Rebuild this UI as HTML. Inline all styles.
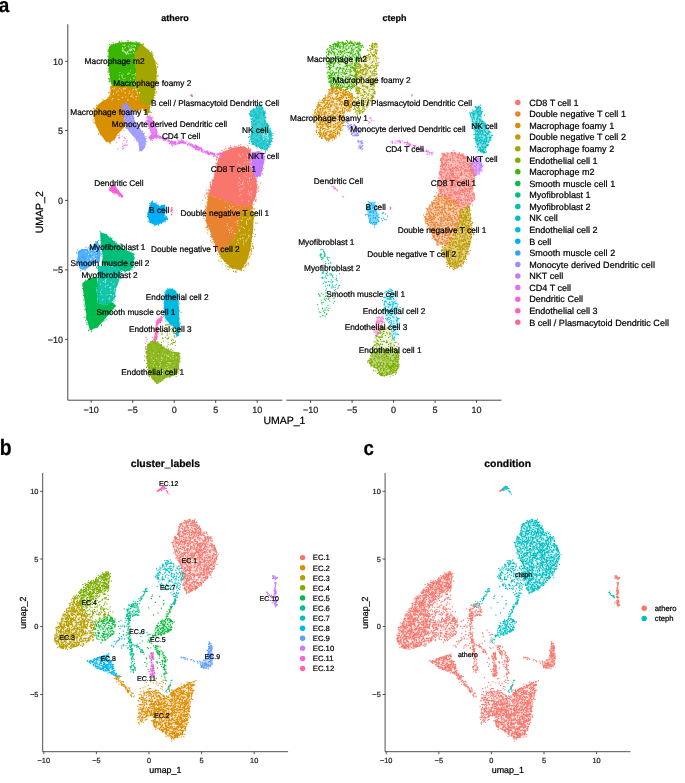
<!DOCTYPE html>
<html><head><meta charset="utf-8"><style>
html,body{margin:0;padding:0;background:#fff;width:685px;height:783px;overflow:hidden}
svg{display:block;font-family:"Liberation Sans",sans-serif;font-variant-ligatures:none}
text{font-variant-ligatures:none}
</style></head><body>
<svg width="685" height="783" viewBox="0 0 685 783">
<defs><path id="p0" d="M197.3 544h0M215.3 548.4h0M191.1 591.2h0M207.8 558.2h0M208.8 540h0M200.6 563.7h0M195.3 530.6h0M211 549.4h0M188.3 548.9h0M206.6 551.8h0M191 529.8h0M186.2 533.2h0M181 528.2h0M190 591.8h0M184.5 587.6h0M193.4 532.3h0M208.3 560.9h0M198.7 583.2h0M201.2 558.4h0M189.4 573.4h0M190.6 561.3h0M195.9 539.1h0M190.6 542h0M205.3 558.2h0M198.5 527.3h0M211.8 564h0M197.4 563h0M207.9 566.8h0M201.4 574.6h0M184.6 568.4h0M194.6 521.3h0M196.7 569.8h0M194.8 525.4h0M198.4 535.6h0M183.8 552.3h0M199.3 559.6h0M215.4 563.1h0M194.7 583h0M204.8 539.5h0M183.7 556.8h0M174.2 539.1h0M186 578.9h0M201.8 580.1h0M187.2 552.2h0M196.9 587.7h0M188.2 539.1h0M196.7 568.2h0M202 558.6h0M191.8 585.6h0M213.5 564h0M213 545.3h0M186.9 525.5h0M216.1 551h0M189.4 582.5h0M199.6 561.6h0M189.9 519.8h0M191.6 574.4h0M190.7 523.8h0M189 575.2h0M198.1 549.6h0M181.9 535.8h0M200.6 575h0M182.7 529.6h0M188.5 524h0M184.1 527.1h0M213.1 563.7h0M189.3 573h0M204 544.1h0M200.6 564.2h0M185.5 564.1h0M210.6 557.5h0M198.8 543.8h0M214.2 549.7h0M182.3 528.5h0M185.3 558.3h0M186.7 549.6h0M191.5 546.6h0M199.1 539.4h0M183 568.6h0M184.7 544.1h0M181 563.6h0M197 570.7h0M193.9 534h0M192.2 531.2h0M183.5 558.4h0M192.8 575.3h0M179.4 543.3h0M203.6 541.2h0M189.3 587.3h0M193.2 520.6h0M191.7 523.6h0M208.1 564.5h0M202.2 555.1h0M200.1 565.7h0M206.4 542.5h0M186.2 575.4h0M200.4 576.8h0M190.7 567.6h0M190.5 572.6h0M197.9 552.5h0M196.5 535h0M189.6 569.3h0M191.5 527.4h0M214.1 546.5h0M198.8 575.9h0M184.6 589h0M190.7 543h0M194.9 586.3h0M213.1 548.8h0M192.5 537.9h0M204.3 542h0M193 545.5h0M179.8 562.4h0M191.2 565.2h0M187.7 574.6h0M190.2 563.3h0M189.3 534.4h0M181.2 527.9h0M189.8 521.4h0M197.1 526.6h0M197.1 524.8h0M201.9 535.6h0M199 552.4h0M211 561h0M183.4 553.4h0M197.6 587.8h0M190.8 554h0M204.3 567.9h0M197.5 545.4h0M202 554.6h0M194.9 548.2h0M209.3 558.8h0M185.3 534.1h0M189.3 578.3h0M185.5 550.5h0M183.7 537.5h0M195.1 557.9h0M208.5 572.6h0M198.5 530.9h0M189 521.6h0M206.5 557.4h0M191.3 566.8h0M197.9 566.7h0M192.6 583.2h0M190.7 564.1h0M194.1 534.3h0M173.4 546.4h0M190 555.5h0M185.5 583.3h0M204.4 537.8h0M205.8 543.7h0M179.6 544.3h0M180 548.6h0M209.4 537.3h0M179.2 557.6h0M189.1 542.9h0M193.8 554.7h0M194.1 581.5h0M187.6 562.5h0M208.7 568.9h0M185.5 567.7h0M195.9 587.6h0M187 581h0M195.9 550.2h0M190.9 577h0M215.7 560.9h0M192.4 575.4h0M182.7 553.4h0M182.3 542.1h0M185.3 574.6h0M186 581h0M199.9 560.8h0M201.1 572.3h0M197.7 557.3h0M187.5 551.5h0M205.2 540.6h0M200.8 551.1h0M196.9 582.4h0M195.7 581.9h0M180.8 531.5h0M194.4 525.4h0M187.7 548.5h0M200.9 547.4h0M200 576.9h0M192.2 588h0M194.3 561.1h0M196.9 551.8h0M191.8 554.8h0M195.1 532.5h0M208.9 547.5h0M178.2 550.1h0M206.2 560.2h0M178.3 558.1h0M182.6 561h0M196.8 559.6h0M209.8 551.9h0M215.3 547.9h0M196.3 551.5h0M207.7 566.3h0M195.2 540.1h0M193.6 577.4h0M197 573.7h0M188.6 566.5h0M192.6 542.3h0M200.8 531h0M201 539.8h0M192.1 590.5h0M180.3 523.9h0M191.6 582.6h0M190.1 557.3h0M189.3 566.1h0M194.6 555.6h0M177.7 539.7h0M203.1 553.9h0M192.4 553.7h0M180.2 541.2h0M204 570h0M185.1 555h0M212.4 555.8h0M200 582.3h0M200 572.1h0M194.5 535.5h0M195.9 533h0M186.8 564.9h0M195.6 526.3h0M184.4 529.5h0M199.7 569.9h0M204.7 548.4h0M208 571.4h0M214.1 550.7h0M184.7 562h0M190 521.4h0M184 541.3h0M201.2 556.9h0M185.5 521.2h0M192 551.1h0M204.1 578.6h0M178.8 559.8h0M200.4 547.8h0M176.9 555.7h0M204.9 546.4h0M210.2 552.2h0M191.6 555.6h0M181.7 555.6h0M189.7 535.3h0M203.2 571.9h0M190.6 589.4h0M182.8 525.7h0M216.7 552.5h0M212.6 569.6h0M185.3 582.6h0M208.6 556.6h0M179.6 536.6h0M209.5 563.1h0M177.8 547.2h0M211.5 569.3h0M203.3 574.2h0M177.7 552.1h0M194.1 524.9h0M179.8 559.9h0M179.6 537.3h0M190.3 571.1h0M195.4 587h0M195.2 553.1h0M180.8 565.7h0M197.7 558.8h0M216.4 556.9h0M202 534.7h0M181 564.5h0M185.6 587.8h0M180.5 525h0M186.8 557.5h0M211 550.7h0M205.1 552.7h0M194.7 567.2h0M175 550.2h0M184 542.8h0M205.5 563.8h0M179.4 529.8h0M182.1 546.9h0M204.2 572.5h0M210.7 555.1h0M205.7 555.6h0M197.8 574.2h0M182.5 536.5h0M204.9 564.6h0M198.9 562.2h0M193.4 526.2h0M209 554.6h0M185.1 534h0M211.7 568.3h0M175.1 536.8h0M207.7 552.7h0M207.8 538.7h0M193.3 582h0M182.8 532.9h0M197.1 579.7h0M204.2 543.4h0M183.2 523h0M204 568.8h0M200.4 528.7h0M194.2 589.7h0M201.5 573.5h0M184.7 523.3h0M189.4 555.8h0M201.5 546.1h0M186.5 564.4h0M195.3 531.5h0M210.1 538h0M207.2 576.6h0M205.4 569.6h0M203.8 575.4h0M202.3 533.8h0M206.4 578.3h0M210.5 538.2h0M208.3 562.8h0M186.8 578.6h0M204.4 559.8h0M188.3 552.4h0M214.6 565.1h0M206.2 573.9h0M209.9 574.7h0M189.3 530.9h0M204.3 557.2h0M200.1 563h0M215.1 561.4h0M213.9 555.9h0M189.9 567h0M178.7 544.4h0M175.6 554.4h0M216.6 559.1h0M194.8 552.5h0M190.5 567.7h0M188.3 552.8h0M186.3 525.5h0M196.1 575.2h0M193.7 547.8h0M209.1 538.1h0M207.3 546.8h0M196 533.9h0M189.1 537h0M184.9 581.9h0M187.2 543.9h0M187.8 532.4h0M186.7 523.1h0M204.1 575.4h0M214.2 554h0M200 549h0M194.4 535.7h0M188.6 576h0M177 556.6h0M195.5 563.4h0M185.8 573.3h0M192.6 582.5h0M197.7 541.5h0M197.9 574.3h0M204.4 573.7h0M187.6 550.7h0M200.5 570h0M188.4 522.6h0M205.5 544.3h0M176.7 537.7h0M199.6 540.3h0M195.9 532.7h0M189 579.6h0M180.3 542h0M212.5 558.4h0M184.8 578.4h0M217 556.4h0M192.2 521.9h0M185.1 585.1h0M208.2 536.5h0M206.9 562.4h0M197.4 564.8h0M186.1 574.5h0M199.8 555.4h0M185.7 556.2h0M207.2 537.5h0M185.9 582.9h0M184 544.5h0M179.2 561.2h0M188 587.2h0M182.7 564.8h0M190.6 567.3h0M191.8 567.8h0M199.5 532.4h0M193.7 555.7h0M208.5 556.8h0M190.9 539h0M188.3 530.1h0M206 544.9h0M197.5 547.5h0M183.7 546.8h0M195.3 553.7h0M185.1 571.7h0M195.2 582h0M198.1 546h0M173.3 545.5h0M187.9 557.3h0M207.8 544.5h0M188.3 546.4h0M187.4 532.3h0M200.2 567h0M196.3 543.6h0M184.4 542.5h0M202.8 562.3h0M200.8 582.3h0M185.7 590.2h0M210.5 539.8h0M176.7 546h0M210.5 552.1h0M177.9 560.1h0M179.9 532h0M193.9 543.8h0M189.5 575.8h0M208.8 567.7h0M184.8 540.7h0M206 553.9h0M195.2 536.9h0M200.9 529.6h0M187.6 565.9h0M197.1 580.8h0M187.1 529.6h0M202.1 559.9h0M197.5 583.4h0M182.6 526.5h0M199.5 546.1h0M185.3 541h0M190.5 569.7h0M199.4 564.5h0M203 581.7h0M185.4 550.1h0M187 560.5h0M192.3 541.6h0M174.5 541.2h0M199.7 571.8h0M178.7 550.1h0M189.8 558.4h0M192.8 524.1h0M212.3 569.7h0M191.2 532.3h0M181.3 541.3h0M203.2 575.1h0M195.3 570.6h0M191.1 577.3h0M193.8 542.8h0M214.1 547.2h0M187.8 540.7h0M205.9 555.5h0M185.3 541.2h0M193.7 556.5h0M192.6 582.1h0M181.6 553.4h0M196.3 529.1h0M184.1 580.1h0M191.3 589.1h0M199.7 555.3h0M194.5 545.7h0M186.5 584h0M213 566.4h0M196.8 575.6h0M200.5 551.1h0M188.1 525.8h0M191.1 579.5h0M188.9 549.4h0M192.1 590.7h0M201.4 543h0M193.4 556h0M178.7 528.2h0M209.1 547.2h0M201.7 546.5h0M193.7 556.1h0M197.2 566.8h0M173.5 547.6h0M204.3 549.2h0M215 552.1h0M181.8 568.3h0M210.8 540.2h0M185.1 590h0M185.7 534.4h0M196.6 547.7h0M191.9 553.4h0M205.6 577.3h0M189.2 521.1h0M200.2 574.4h0M185.1 570.5h0M192.5 530.2h0M191 537.1h0M179.5 536h0M190.2 544.2h0M187.5 567.2h0M190.2 570.1h0M204.2 565.3h0M203.5 549.9h0M198.8 563.5h0M212 559.8h0M198 551.1h0M213.6 554.5h0M200.2 531.8h0M188.5 573.4h0M180 561.3h0M208.1 536.7h0M191 535.2h0M194.6 534h0M184.6 534.8h0M194.1 568h0M203.9 533.7h0M205.2 577.5h0M187 527.9h0M201.7 578.1h0M199.3 534.2h0M198.8 533.6h0M183.6 522.3h0M217.1 555.3h0M186.6 580.4h0M208 560.5h0M199.5 529.5h0M181.3 523.5h0M190 558.5h0M194.2 584.5h0M174.8 543.8h0M179 549.8h0M176.5 542.3h0M188.6 580.4h0M179.7 548.4h0M193.9 558.6h0M183.3 535.8h0M205.5 557.8h0M186.9 530.5h0M179 533.3h0M204.1 577.8h0M189.9 525.5h0M194.7 548.4h0M193.4 537.3h0M177.2 556.4h0M201.9 554.4h0M197.9 566.9h0M189.5 519.3h0M203.6 572.3h0M180.7 562.5h0M177 541.3h0M184.1 577h0M185.8 550.5h0M210.8 559h0M203.2 570.8h0M204.3 551.6h0M199.5 558.8h0M180.9 536.5h0M196.8 579.8h0M184.8 576.3h0M204.2 563.2h0M194.8 526.3h0M187.2 567.2h0M176.8 551.3h0M187.8 537.8h0M199.5 538.1h0M196.7 583.7h0M188 566.1h0M198.5 562.6h0M185.6 539.8h0M196.9 586.3h0M214.7 547.8h0M184.6 588.5h0M195.3 529.2h0M191 557.4h0M203.2 577.4h0M203.4 541.2h0M201.6 572.7h0M212.2 540.5h0M201.7 570h0M182.1 556.4h0M180.5 546.7h0M187.2 576.1h0M206.7 565.4h0M185.3 527h0M195.7 541.7h0M190.5 546.9h0M184.3 537.6h0M186.4 537.6h0M198.7 553.1h0M196.3 569h0M191.5 522h0M187.2 559h0M176 539.6h0M187.7 553.5h0M212.2 567.8h0M181.7 566.2h0M199.7 543.2h0M182.5 572.1h0M194.5 574.1h0M214 560.4h0M189 519.4h0M204.4 547.4h0M194.6 563.6h0M181.4 565.1h0M198.5 537.3h0M183.1 578.2h0M183.2 535.1h0M194.2 540h0M189.4 521.5h0M184.4 553.7h0M187.7 584.5h0M194.2 579h0M199 564.6h0M209.1 573.6h0M214.5 546.9h0M187 580.8h0M176 537.9h0M187.3 576.6h0M177.6 552h0M176.7 549.7h0M208 549.3h0M178 560.4h0M213.6 562.3h0M202.9 545.4h0M196.4 527.4h0M179.5 551.7h0M212.3 555.1h0M185.6 541.4h0M184 585.2h0M196 564h0M192 586.6h0M188.6 552.7h0M186.9 592.5h0M199 539.4h0M215.1 549h0M198.3 528.4h0M210.3 565.5h0M201.1 567.5h0M184.1 538.8h0M189.5 585h0M176.9 537.8h0M186.6 579.3h0M186.2 579.1h0M180.3 542.9h0M203.7 541.3h0M209.2 565.7h0M194.8 559.2h0M176.9 557.6h0M192.2 557.1h0M192 534.4h0M212.4 557.2h0M191.4 585.2h0M187 528h0M206.8 568.8h0M203.4 569.8h0M180.6 524.5h0M209.8 573.4h0M189.4 590h0M215 551.1h0M206.1 568.9h0M204.2 533.6h0M201.4 562.3h0M189 563.2h0M191 579.3h0M184.1 577.2h0M207.1 558.8h0M198.3 544.6h0M177.9 539.4h0M192.6 556.9h0M188.4 592h0M175.7 543.1h0M199.5 538.2h0M190.5 548.2h0M205.6 552h0M216.4 559.6h0M181.8 567.4h0M195.8 528.7h0M205.4 551.4h0M205.8 541h0M205.1 561.4h0M175.5 541.6h0M197.7 582.4h0M199.5 547.7h0M204.8 565.7h0M198.1 532.3h0M190 584.1h0M180 538.7h0M184.2 545.8h0M201.5 573h0M201.1 538.4h0M199.9 552.1h0M181.6 552.9h0M209.5 566.3h0M181 557.6h0M214 556.6h0M194.8 562.3h0M209.8 574.9h0M199 558.9h0M214.9 558.1h0M202 556.8h0M192.9 573.6h0M202.5 575h0M204.3 571.6h0M189.2 550h0M181.7 560.2h0M212.1 565h0M181.8 536.9h0M186.2 570.9h0M202.9 564.7h0M200.5 533.4h0M191.3 523.5h0M186.5 579.6h0M180.7 534.2h0M193.2 531.5h0M189.1 530.7h0M182.2 573.5h0M189.7 531.8h0M187.3 566.3h0M184.2 548.6h0M184.3 522.5h0M182.8 526.6h0M184.2 529.1h0M199.3 527.4h0M204.5 544.5h0M185.3 534.8h0M178.4 530.5h0M183.4 547.1h0M187.5 521.5h0M196.1 587.4h0M188.7 544.5h0M180.9 543.9h0M182.7 566.3h0M201.8 550h0M185.3 559.1h0M195.1 524.2h0M197.2 530.3h0M189.2 533.5h0M204.3 562.5h0M191.3 535.3h0M208 541.8h0M204.3 574.5h0M181.1 553.6h0M205.7 579h0M178.1 548.5h0M194.2 584.6h0M197.4 537.6h0M207 568.1h0M210.9 543.6h0M182 544.6h0M180.8 564h0M182.2 549.5h0M194.2 576.4h0M197.6 525.1h0M189.7 585.3h0M179.1 555.5h0M198.6 564h0M203.1 543h0M210.2 561.2h0M181.1 561.4h0M196.1 525h0M201 561.7h0M197.2 570.2h0M212.3 550h0M191.1 525.7h0M183.7 573h0M198.4 573.9h0M188.7 588.1h0M196.6 586.3h0M205.4 537h0M207.6 541.9h0M200 551.2h0M203.3 548.7h0M185.8 542.7h0M198.1 550.1h0M195 529.7h0M189.9 560.5h0M192 552.1h0M203.7 543.4h0M188.4 560.2h0M184.6 553.9h0M196.4 531.7h0M211.9 545.1h0M192.6 520.5h0M187.1 570.1h0M212.1 571.7h0M197.9 535.6h0M189 543.8h0M192.4 590.5h0M183.8 533.3h0M206.8 578.8h0M188.2 588.6h0M195.3 582.1h0M193 558.2h0M197.5 525.5h0M177 547.7h0M185.1 584.2h0M212.7 561.8h0M191.8 532.2h0M208.2 540.7h0M203.3 568.6h0M213.3 561.6h0M214.6 549.9h0M214.8 562.8h0M198.1 585.6h0M189.6 566.4h0M199.9 544.5h0M190.8 553.1h0M194.6 546.6h0M204.4 561.6h0M200.3 528.6h0M197.9 555.8h0M196.3 543.7h0M189.4 569.7h0M194.6 543.8h0M195.1 548.3h0M191.7 558.1h0M202.2 550.5h0M205.1 548.7h0M178.6 532.2h0M197.3 545.3h0M185 567.6h0M183.2 555.5h0M191.5 535.1h0M183.5 539.4h0M182.6 531.6h0M182.9 535.7h0M186 530.6h0M194.9 572.1h0M196.5 552.1h0M194.3 554h0M214.3 566.5h0M211.5 565.4h0M201.3 567.9h0M205 564.7h0M201.6 559.6h0M212.7 544.6h0M203.1 575.1h0M210.2 545.1h0M191.5 557.1h0M200.3 583.8h0M190.3 529.2h0M191.1 570.7h0M186.5 590.5h0M188.2 555h0M185.4 553.3h0M194.8 539.5h0M198.3 537.8h0M207.9 569.9h0M199.3 555.8h0M216.7 558.1h0M186.2 563.8h0M199.6 550.4h0M192.9 588h0M197.6 542.6h0M190.5 575h0M194.3 566.1h0M200.2 550.5h0M185.3 530.7h0M190.5 578.9h0M190.1 538.8h0M175.1 544.3h0M214.2 545.8h0M190.8 550h0M194.4 559.6h0M190.5 529.7h0M215.6 558.5h0M176.9 538.1h0M216.4 551.6h0M192.4 558.3h0M191.1 590.9h0M192.9 528.2h0M199.1 532.5h0M184.1 564.1h0M199.2 549.4h0M195.7 575h0M198.2 560.7h0M210.9 556.7h0M194.1 556.2h0M189.1 532.4h0M188.1 545.6h0M196.8 548h0M183.6 583.1h0M182.1 554.9h0M184.4 528.9h0M200.1 573.7h0M199.6 559.5h0M187.2 567h0M188.8 564.2h0M188.6 528.2h0M190.4 520.2h0M175.3 551.4h0M187 520.8h0M212.5 546.9h0M191.4 534.6h0M205.9 566h0M183.9 530.3h0M210.4 568.5h0M209.6 560.5h0M187 569.5h0M179.1 561.5h0M205.5 549h0M200.4 555.4h0M191.1 537.6h0M195.1 544.1h0M185.9 536.9h0M197.2 575.2h0M183.1 576.7h0M184.4 541.7h0M176.9 543.4h0M195 526.4h0M192.2 557.3h0M188.7 566.3h0M193.6 565.8h0M188.8 528h0M191.4 590h0M190.3 559.1h0M187.5 546h0M188.4 548.9h0M194.7 541.2h0M183.2 578.7h0M203.4 574.4h0M181.8 559.6h0M186.8 530.1h0M204.5 537.1h0M192.2 582.8h0M194.7 586.2h0M204.3 574.7h0M193 560.6h0M187.7 545.6h0M183.8 531.7h0M179.6 530.1h0M175.6 537.5h0M186.6 522h0M207.7 567.2h0M196.3 536.2h0M196 541.3h0M194.2 547.1h0M182.8 526.3h0M178.8 530h0M194.5 541.1h0M190.2 570.2h0M180.5 524.4h0M187.7 556.4h0M192.4 558.3h0M193.1 523.2h0M189.9 559.7h0M208.7 542.2h0M206.3 569.5h0M175.4 552.8h0M190.1 572.7h0M209.4 567.1h0M181.3 525.1h0M184.6 549.8h0M213.6 554.8h0M189.2 541.7h0M198.1 527.3h0M181.2 528h0M198.4 550.7h0M184.3 541.4h0M186 538.7h0M179.1 534.4h0M178.6 535.2h0M207.1 536.7h0M197.9 548.1h0M190.6 586.9h0M180.7 554.4h0M190.8 524.3h0M175.8 554.1h0M194.8 576.8h0M192.8 533.9h0M204.2 580.1h0M183.4 561.6h0M204.6 552.6h0M188.4 536.7h0M205.8 538.2h0M197.1 552.5h0M188.8 591.9h0M199.7 556.5h0M199.1 557h0M201.1 555h0M189.3 578.8h0M178.7 545.5h0M191.2 555.5h0M200 564.9h0M197.9 567.9h0M214.3 559.5h0M193.3 536.1h0M201.7 549.2h0M183 533.8h0M193.7 584.7h0M207.6 576.4h0M192.5 525.7h0M211.1 545.8h0M196.7 525.1h0M185.9 570.4h0M178.7 543h0M192.9 579.5h0M193.9 532.3h0M183.1 541.8h0M203.7 535.3h0M185.4 576.5h0M214.2 561.2h0M178.2 541.8h0M185.4 568.8h0M212.5 558.1h0M208.5 562h0M203.9 575.5h0M204.2 535.6h0M211.7 544.9h0M190.4 570.3h0M188.2 528.1h0M211.4 564.3h0M179.5 527.8h0M181.3 555.9h0M181.6 538.8h0M194.4 575h0M182.8 579.1h0M181.2 536.2h0M205.2 540.8h0M199.8 554.5h0M207.7 567.7h0M203.6 569.3h0M176.4 550.5h0M200.3 562.5h0M204.6 566.4h0M206.8 563.7h0M186.2 582h0M189.6 579.5h0M184.9 578.3h0M183.4 573.3h0M198.6 557.3h0M177.3 543.3h0M180.5 556.6h0M190.3 568.2h0M195.5 588h0M189.7 590.5h0M187.9 589.3h0M200.2 543h0M190.9 573.2h0M207.8 569.2h0M196.9 543.5h0M193 537.5h0M202.7 539.8h0M204.2 569.5h0M198 536.4h0M184.7 531.5h0M187.5 584h0M175.5 540h0M182.5 543h0M191.5 523.7h0M193.7 536.6h0M196.5 525.4h0M191.7 533.1h0M186.3 523.9h0M196.5 588.5h0M203 570.7h0M184.7 533.7h0M178.7 544.7h0M202.3 552.9h0M199 554.8h0M189.4 555.5h0M184.2 560.4h0M193.8 588.7h0M173.6 542.3h0M205.6 552.1h0M179.3 526.6h0M205.7 539.5h0M197.8 574.8h0M193 571h0M189.1 586.3h0M203.8 548.9h0M183.5 572.8h0M209.3 551.5h0M199.4 568.3h0M208.7 557.6h0M191.6 527.7h0M216.1 557.8h0M197.6 533.2h0M185.2 559.7h0M186.2 589.2h0M205.2 571.8h0M207 548h0M193.6 581.5h0M179 532.4h0M214.9 562.9h0M184 563.3h0M184.3 527.4h0M186.8 561.8h0M185 573.2h0M193.7 537.9h0M200.7 538.1h0M187.4 570.3h0M200.6 556.9h0M210.5 552.5h0M192 590.3h0M203.5 548.7h0M198.8 545h0M209.5 545.5h0M200.1 566.3h0M182.8 563.3h0M187 526.1h0M194.9 587.7h0M181.1 568.7h0M192.1 542.5h0M201.9 535.4h0M186.1 552.6h0M208.1 538.2h0M179.7 540h0M178.8 539.8h0M187.7 534.6h0M201 532.6h0M214.5 565.9h0M206.4 568.6h0M182.5 542.4h0M208.7 570.2h0M193.4 565.7h0M192.5 555.2h0M184.9 559.6h0M201.9 565.1h0M183.8 547.8h0M202.5 559.8h0M189.5 577.7h0M190.3 540.2h0M195.1 552.1h0M195 563.8h0M184.2 554.6h0M199.5 586.1h0M197.6 532.2h0M176.9 554.8h0M189.4 535.1h0M195.6 586.1h0M187.1 521.9h0M186.6 582.3h0M205.1 570h0M191 547h0M187.3 568.7h0M189.8 520.9h0M181.6 571h0M204.2 559.6h0M200.1 551.4h0M209.2 538h0M197.1 551.1h0M185.8 522h0M202.9 541h0M183.3 532.7h0M206.7 572.1h0M209 550.3h0M184.6 530.8h0M199.4 545.8h0M184.5 563.9h0M205.5 552.4h0M190.6 585h0M197.3 538h0M188.2 554.3h0M192.5 538.4h0M216.8 552.5h0M199.9 584.8h0M186.1 524.8h0M190.2 576.6h0M200.7 535h0M190.5 570.1h0M190 562.9h0M187 575.6h0M197.5 557.3h0M198.3 578.9h0M178.9 534.7h0M209.7 551h0M183.9 569.6h0M211.7 564.3h0M180.8 547h0M186.7 592.6h0M182.7 541.2h0M181.7 540.5h0M209.8 572.6h0M197.2 571.2h0M187 527h0M200.2 573.6h0M198.4 554h0M174.6 537.6h0M195.4 531.5h0M187.8 542.7h0M187 549.1h0M186.9 521.6h0M183.5 585.4h0M200.3 546.5h0M213.7 564h0M208.9 568.5h0M195 549.4h0M208.3 571.9h0M210.4 564.5h0M184.1 573.2h0M191.9 555.6h0M186.3 523.5h0M180.2 531.3h0M207.4 573.9h0M213.8 553.8h0M186.9 565.8h0M198.5 545.2h0M178.3 533.9h0M179.6 562.3h0M200.3 553.1h0M206.1 551.9h0M194.2 532.9h0M198.6 577.5h0M210.6 571.6h0M191.8 583.2h0M199.6 550.3h0M185.7 563.4h0M207.9 577.2h0M202.3 544.3h0M202.3 544.5h0M190.8 584.8h0M191.9 525.4h0M194.5 528.5h0M211.3 559.2h0M198 551.8h0M179.9 557.1h0M189.4 592.3h0M187 545.6h0M189.7 580h0M205.6 538h0M197.4 546.3h0M205.9 576.9h0M178.5 535.4h0M192.9 522.2h0M194.5 559.5h0M205 558.2h0M190.5 559.9h0M186.3 537.7h0M207.9 544h0M175 550.1h0M200.4 534.9h0M181.7 549.1h0M205.4 560.4h0M195.5 585.6h0M180.2 559.6h0M206.3 539.2h0M186 531.6h0M205.7 546.8h0M186.7 586.2h0M208.5 562h0M189.8 540.5h0M186.2 571.2h0M179.6 552.7h0M205.2 545.6h0M192.7 573.4h0M185.7 552.4h0M195 548.2h0M185.8 562.1h0M207.8 554.6h0M204.1 561h0M195.8 553h0M193.2 580.8h0M193.5 575.1h0M191.4 577.3h0M190.8 549h0M196.6 555.1h0M175.4 538.5h0M193.5 581.4h0M183.2 547.4h0M214.2 548.3h0M179.8 561.4h0M210.3 564.3h0M209.3 551.3h0M215.2 555h0M200.7 579.9h0M194.7 570.2h0M202.8 559.4h0M187.7 532.7h0M179.3 557.3h0M191.4 541.9h0M184.9 552.4h0M183.7 533.3h0M212.7 558.7h0M184.5 587.2h0M190 531.7h0M193.1 553.2h0M200 577.4h0M182.6 566.5h0M208.5 568.7h0M196.7 541.8h0M195.9 566.2h0M197.3 525h0M181.4 560h0M190.2 547h0M212.5 547h0M193.9 567.9h0M198.8 527.1h0M192.7 522.7h0M188.2 570.5h0M190.9 554.6h0M184.3 567.5h0M194.8 522.8h0M207.4 549.8h0M183.6 561.6h0M206.5 546.5h0M190.1 537.7h0M187.7 562h0M197.7 528.5h0M193.3 537.5h0M188 578.8h0M189.3 562.4h0M184.9 543.7h0M192.9 528.2h0M179.9 559.9h0M184.8 568.8h0M204.9 553.1h0M199 528.7h0M183.5 555.5h0M192.8 582h0M190 540.1h0M192.8 586.4h0M184.9 528.7h0M185.4 543.1h0M206.1 543.3h0M185.7 540h0M184.6 547.9h0M193.3 549.4h0M182.1 574.6h0M203.1 532.6h0M203.9 560.3h0M175 537.5h0M188.7 559.6h0M202.2 553.8h0M189.6 551h0M200 533.9h0M195 540.3h0M195 564.5h0M206.1 567.2h0M180.6 562.7h0M198.6 563.6h0M196.6 550h0M191.3 582.7h0M207.5 560.3h0M187.3 549.4h0M192.9 555.5h0M186.7 540.9h0M182.7 574.7h0M200.3 529.8h0M196.6 549.5h0M201.8 543.4h0M205.9 576h0M178.6 553.4h0M186.6 591.9h0M204.2 558.1h0M196.3 529.8h0M187 548.5h0M192.6 531.9h0M201.2 531.9h0M193.4 544.8h0M200.5 543.4h0M215.9 550h0M189.7 538.1h0M185.5 547h0M186.7 526.7h0M198.8 584.5h0M201.5 558.3h0M182.2 545.6h0M194.4 554.7h0M199.9 533.9h0M202.1 551.9h0M208.3 571.9h0M202 579.1h0M179.9 534.1h0M200.5 534.7h0M175.9 551.8h0M194.2 522.5h0M203.4 561.4h0M179.8 558h0M206.4 570.1h0M189.8 588.8h0M204.5 540.3h0M199.5 576.8h0M188.9 567.8h0M188.1 584.3h0M198.9 535.8h0M179.6 558.3h0M198.5 534.1h0M187.4 578h0M180 551.6h0M177.1 555.5h0M196.1 580h0M213.2 568.6h0M187.8 580.2h0M177.5 534.4h0M201 581.8h0M199.9 550.2h0M211.3 562.3h0M206.1 573.4h0M209.9 557.3h0M184.3 554.1h0M209.2 556.5h0M190.7 547.4h0M194.9 553.5h0M196.6 558.6h0M213.6 553.3h0M200.3 544.8h0M185.7 550.6h0M212 543.7h0M177.7 533.7h0M189.9 568.4h0M202.6 552.6h0M177.9 542.5h0M196.3 587.6h0M204.5 547.1h0M204.4 548.8h0M188.2 543.6h0M187.6 527.1h0M184.3 575.2h0M182.2 576.1h0M211.9 547.6h0M191.8 532.2h0M191 567.8h0M193.5 535.8h0M207.4 555.9h0M191.5 578.3h0M187.9 570.4h0M203.7 552.5h0M199.5 575.2h0M194.7 585.8h0M186.5 540.1h0M180.7 548.3h0M188.1 581h0M206.5 550.4h0M203.7 540.9h0M190.5 588.5h0M187.8 580h0M202.1 534.5h0M182.2 575.4h0M174.8 537.8h0M203.9 578.5h0M197.9 565.4h0M192.1 548.3h0M201.8 568.6h0M192.3 547.2h0M203.4 566.8h0M174.5 546.1h0M174.8 548.9h0M176.7 541.2h0M207 572.5h0M206.4 565.5h0M186 533.3h0M189.3 571h0M195.4 559h0M204.8 564.8h0M215.5 549.3h0M183 572.4h0M181.3 564.9h0M209.6 552.2h0M212 565.4h0M200.6 529.9h0M208.1 561.4h0M193.3 522.4h0M180.6 556.1h0M201.1 550.4h0M199.5 556.9h0M185.2 583.1h0M209.8 571.7h0M190.7 545.8h0M194.6 581.4h0M207.9 539.3h0M193.7 573.8h0M213.9 546.2h0M181.6 541.3h0M211.7 563.6h0M200 550.4h0M187.4 569.1h0M201.3 545.1h0M200.2 557.5h0M185.8 538h0M177.8 558.5h0M175.4 546.1h0M198.9 543.5h0M204.2 573.7h0M189.4 585.9h0M188.6 561.7h0M199.9 534.4h0M179.9 525h0M203.5 535.2h0M199.1 565.2h0M206.2 543.4h0M181 564.9h0M176.5 538.7h0M192.2 566.8h0M211.8 546.4h0M190.8 564.2h0M186.2 586.9h0M198.4 550.9h0M210.2 560.6h0M200.3 549.1h0M206 545h0M189.4 578.1h0M182.2 524.2h0M189.5 540.3h0M197.8 565.2h0M194.5 575.6h0M192.7 575.1h0M201.1 583.5h0M184.7 543.5h0M202.9 555.8h0M185 571.7h0M184.2 550.5h0M207.2 575.1h0M206.6 570.7h0M186.5 579.9h0M210.3 537.8h0M195.7 571.8h0M180.6 541.7h0M183.6 548h0M201 585.5h0M174.8 549.9h0M210.9 536.4h0M178.8 526.6h0M194.3 521.4h0M214.5 568.1h0M180.1 526.6h0M196.2 522.6h0M197.7 587.4h0M171.8 542.3h0M172.4 542.6h0M186.7 593.7h0M183.9 588.6h0M206.7 577.2h0M194.4 520.4h0M204.9 531.9h0M210.7 575.2h0M183.8 577.2h0M218.7 554.6h0M175.3 536.5h0M180.4 575.3h0M174.9 536.5h0M207.7 577.4h0M192 589.2h0M201.8 582.9h0M211.3 577.6h0M179.3 572.4h0M206.7 532.4h0M195.5 588.7h0M194.4 520.4h0M181.8 578.3h0M183 584.2h0M214.8 558.5h0M202.9 581.1h0M211.7 544.6h0M217.1 564.4h0M212 541.4h0M207.8 534.7h0M216.7 553.8h0M173.8 540.8h0M195.5 590h0M180.6 562.9h0M201.7 584.2h0M199.7 526h0M196.8 522.2h0M201.6 583.9h0M203.5 582.4h0M207.3 578.2h0M185.6 522.1h0M182.8 579.3h0M172.8 544h0M201.2 585.7h0M213.9 569.1h0M178.2 532.1h0M187.8 520.9h0M206.2 533.3h0M194.9 519.3h0M175.8 558.1h0M173.8 552.9h0M216.6 557.7h0M180.1 563.6h0M195.3 522.9h0M216 554.4h0M211.3 572.8h0M179.7 524.6h0M183.4 570.9h0M190.4 591.4h0M211.6 538.2h0M176.3 558.1h0M205.1 580.4h0M184.7 520.5h0M183.1 585.4h0M180.6 524.5h0M201.4 583.4h0M181.5 568h0M212 570h0M182.1 567.8h0M179.5 572.6h0M180.2 568.3h0M214.5 545.2h0"/><path id="q0" d="M179.4 524.7 184.7 520.1 189.9 518.8 195.2 521.4 200.4 528.6 207 535.2 212.3 539.2 212.3 543.1 216.2 548.4 217.5 556.2 214.9 565.4 211 574.6 201.8 583.8 196.5 589.1 186 594.3 183.4 586.5 182 576 180.7 566.8 176.8 557.6 172.8 547 174.2 537.8 178.1 531.3Z"/><path id="p1" d="M169 588.4h0M175.4 578.6h0M169.1 580.3h0M165.2 572.4h0M175.8 595.5h0M173 573.6h0M156.1 578h0M165.7 569.3h0M163.4 585.6h0M170.2 566.7h0M174.5 585.4h0M164.4 567.9h0M176.3 583.7h0M175.8 594.8h0M161 584.7h0M158.4 573.3h0M170 581.2h0M165.6 575.8h0M175 596.6h0M171 566.2h0M173.6 577.9h0M168.5 561.5h0M173.5 593.8h0M166.3 584.4h0M166.8 569.7h0M167.9 562.4h0M174 566h0M171.2 568.6h0M158.6 581.6h0M159.9 572.4h0M168.7 571.9h0M178.8 577.4h0M173.6 564.3h0M179.2 583.4h0M167.3 585.4h0M167 574.7h0M162.5 565.2h0M158.3 570.1h0M169.7 566.9h0M163.2 564.7h0M160.8 569.9h0M179.2 585.8h0M175.7 570.2h0M179.8 572.2h0M162.8 584.6h0M178.5 580.2h0M172.9 569.1h0M157.1 570.1h0M158.2 577.4h0M167.1 564.2h0M162.5 579.9h0M167.2 564.8h0M176 595.6h0M181.4 578.4h0M162.8 565.5h0M161.7 583.2h0M173.2 567h0M182.8 576.3h0M171.1 563.4h0M171.7 573.8h0M160.7 573.2h0M172.9 573.8h0M162.3 577.4h0M173 577.7h0M162.8 578.8h0M171.8 579.4h0M171 570.8h0M173.1 591.1h0M172.7 569.9h0M168.7 582.8h0M179.1 570h0M157.9 574.5h0M182.1 573.6h0M174.2 583.1h0M174.5 599h0M177.1 568.4h0M171.3 573h0M157.7 573.2h0M167.9 561.8h0M176.6 587h0M162.2 567.2h0M170.7 563h0M162.7 574.7h0M173.4 585.2h0M163.4 579.1h0M171.7 586.5h0M172 563.7h0M162 579.2h0M178 573.7h0M170.2 568.6h0M166 570.6h0M160.2 584.2h0M171.3 576.5h0M177.6 584.2h0M162.4 576.6h0M170.5 569.8h0M166.7 584.4h0M177.9 593.4h0M165.4 577.3h0M158.6 578.1h0M179.1 566.5h0M157.7 578h0M162.1 577.8h0M163.9 569.3h0M174.6 593.3h0M178.6 588.4h0M169.9 566.7h0M176.7 588.1h0M174.5 574.2h0M170.8 589h0M179.9 576.3h0M177.2 590.4h0M176.4 587.3h0M176.3 573.2h0M176.7 579h0M174 576h0M158.3 577.4h0M181.2 572.1h0M167.8 564.1h0M178.1 582.3h0M165.7 568.7h0M181.5 580h0M171.1 580.8h0M159.5 569.1h0M166.2 565h0M167.9 568.2h0M160.1 579.8h0M180.5 579.9h0M157.6 579.1h0M167.4 586.1h0M177 567h0M169.4 580.3h0M176.8 576h0M164.1 566.1h0M165.1 576.1h0M179.8 568.4h0M168.9 575.4h0M174.2 588.8h0M167.8 570.8h0M169.9 579.8h0M168.3 563.3h0M163.1 569.1h0M165.6 563.7h0M166.1 566.3h0M170.5 587.9h0M157.2 575.8h0M166.3 584.5h0M159.4 575.1h0M176.1 597h0M181.2 578.7h0M159.2 571.6h0M176.6 593h0M171 566.4h0M173.1 576.2h0M169.4 572.7h0M180.5 574.1h0M174.2 584.4h0M178.1 574.2h0M166.9 585.4h0M181.6 581.8h0M172.2 582h0M174.8 576.5h0M175.9 580.9h0M164.2 579.7h0M168 578h0M182.7 575.2h0M171.7 570.7h0M176.7 592.3h0M177 595.2h0M165.4 570.7h0M159.1 572.7h0M168.8 568.4h0M167.9 570.2h0M167 588.3h0M169.9 563.4h0M179.6 589.6h0M177.3 586.9h0M174.4 593.2h0M171.3 575h0M178.7 565.9h0M172.2 594.7h0M177.9 568.9h0M167.6 586h0M158.3 575.2h0M174.9 579.6h0M170.2 585.5h0M160.8 568.2h0M164.4 587.9h0M181.5 577.3h0M176.8 577h0M164.6 573.2h0M169 581.4h0M180.6 584.4h0M160.2 572.7h0M170.7 589.2h0M177.5 585.6h0M169.4 566.5h0M176.3 572.5h0M169.1 571.4h0M175.2 583h0M183.7 573h0M173.6 563.8h0M157.2 586.4h0M182.3 579.9h0M166.4 563h0M170.5 589.4h0M158.5 578.9h0M174.9 600.4h0M180.9 573.1h0M183.6 579.1h0M177.3 597.5h0M156.4 568.4h0M170.8 592.6h0M164.7 560.6h0M180.1 587.1h0M159.9 567.1h0M162.4 564.2h0M163.3 586.5h0M178.8 592.9h0M162.9 566.2h0M166.4 560.8h0M165.1 589.2h0M156.3 575h0M185 577.5h0M174.5 596.5h0M182.4 579.9h0M163.1 588.5h0M171.6 562.1h0M168.4 561.1h0M161 585.8h0M157.5 577.7h0M165.2 562.6h0M157.2 576.5h0M160.3 585.1h0M183.6 573.8h0M155.3 576.5h0M167.3 560.5h0M173.7 596.3h0M170.2 560h0M184.5 573.7h0"/><path id="q1" d="M156.5 570.5 162 565 167.6 560.8 173 562 178.7 565 184.2 576 181 586 178.7 592.7 175.9 601 173 597 170.4 590 164 588 159.3 584.4 156 578Z"/><path id="p2" d="M64.1 633h0M81.3 610.6h0M77.6 601.1h0M55.8 638.5h0M62.7 643.6h0M74.9 633h0M66.5 646.5h0M77.1 602.9h0M73.4 620.1h0M71.2 611.3h0M68.9 624.8h0M65.7 646.5h0M74.8 626.5h0M69.9 621.9h0M79 624.6h0M71.9 633.9h0M73.9 600.4h0M76 620.9h0M79 621.9h0M54.7 638.4h0M74 646.5h0M75.5 618h0M72.6 613.4h0M83.7 621.5h0M61 642.3h0M58.9 639.9h0M81.6 626.9h0M76.3 636.5h0M69.1 630.4h0M70.1 636.2h0M56.6 635.7h0M71.8 607.6h0M76.6 644.2h0M61.5 631.8h0M77 624.7h0M77.4 636.7h0M75.7 612.5h0M73.7 617.5h0M67.3 628.7h0M65.6 638h0M81.2 609.2h0M72.1 610.4h0M80.4 623.8h0M56.3 633.1h0M62 639.4h0M67.5 625.4h0M69.9 643.2h0M69.6 610.9h0M71.2 632.4h0M57.3 635.6h0M74.9 610.1h0M69.2 638.8h0M67.5 637.7h0M79.2 643.4h0M78.8 605.9h0M66.2 621.4h0M57.9 640.4h0M57.8 628.1h0M79.3 627.1h0M62.8 636.4h0M72 629.4h0M58.7 632.7h0M77.7 628.7h0M79.7 603.6h0M66.5 617.7h0M79.5 604.9h0M80.7 611h0M77.1 631.1h0M69.6 644.3h0M67.5 629h0M76.1 630.7h0M80.9 615.7h0M79 602.3h0M83.6 631.5h0M70.1 624.3h0M71.7 636h0M77.1 606.5h0M68.6 619.6h0M62.2 623.9h0M67.8 618.2h0M79.1 632.4h0M76.8 646h0M81.4 624.1h0M73 634.6h0M63.4 638.7h0M66.3 618.4h0M65.6 641.6h0M79.2 614.3h0M62.4 627.2h0M71.8 646.6h0M55.1 641.1h0M63.4 645h0M58.4 639.3h0M57 634h0M67.6 625.7h0M79.8 609.4h0M79 613.3h0M66.9 618.5h0M71.8 611h0M76.3 597.9h0M81 627.3h0M74.7 611h0M81.3 622.9h0M56.5 641h0M54.9 641.3h0M73.2 630.6h0M74.8 606.5h0M71.2 644h0M62 636.5h0M72.9 610.1h0M68.8 616.6h0M78.3 622.7h0M75.6 610.3h0M61.8 629.1h0M71.7 631.8h0M61.6 634h0M69 623.4h0M67.2 625.2h0M80.1 621.3h0M72.7 637.5h0M59.8 623.7h0M76.3 624.4h0M73.2 619h0M77.8 627.5h0M61.8 638.3h0M77.1 604h0M78.4 615h0M59.7 624.1h0M56.1 627.9h0M62.4 636.7h0M84.7 615.3h0M68.5 630.7h0M71.7 623.2h0M63.3 644.9h0M76.5 601.6h0M65 646.6h0M82.8 634h0M75.2 646.3h0M81.1 617.6h0M72.1 624.4h0M72.8 634.2h0M63.2 627.5h0M79.5 607.7h0M73.3 612.9h0M71.5 630.2h0M61.1 633.9h0M78.2 635h0M67.8 613h0M72 634.5h0M70.6 604.2h0M80.9 614.2h0M60.1 626.3h0M81.9 631.9h0M70.6 634.1h0M69.2 647.5h0M59.4 644.5h0M66.8 638.4h0M63.8 624.5h0M64.2 637.8h0M69.6 617.8h0M56.3 641.6h0M77.4 610.9h0M75.4 598.6h0M72.4 639.6h0M62.2 642.5h0M78.1 623.2h0M70.1 605.6h0M62.7 619.1h0M57.7 641.6h0M76.7 611.1h0M85.2 621.2h0M71.2 623.8h0M68.9 608.1h0M55.8 628.1h0M79.9 625h0M79.5 614h0M82.9 612.8h0M79.3 628h0M63 646.9h0M56.3 637.3h0M70.5 621.6h0M58.6 626.5h0M69.2 634.9h0M71.3 635.2h0M58.2 637.7h0M68.8 618.1h0M84.6 620.3h0M74.7 614.5h0M69 631.3h0M70 629.1h0M79.7 631.4h0M56.8 631h0M64 626.9h0M79.1 613.1h0M75.3 618.5h0M63.3 648.7h0M64.6 636.2h0M79.4 642.4h0M59.3 635.2h0M81.3 609.9h0M54.8 639.3h0M60.4 632.7h0M76 634.7h0M84.7 624h0M77.1 627.7h0M69.6 617h0M73.9 637h0M75.8 612.5h0M69.9 607.2h0M79.1 613.2h0M56.1 640.6h0M81.1 632.6h0M84.7 624.5h0M75.3 625.6h0M72.6 629.4h0M73.2 634.6h0M69.6 630.4h0M74.6 608.5h0M56.3 627.5h0M66.8 621.3h0M72.8 621.7h0M77.9 612.2h0M65.4 633.2h0M64.4 641.7h0M66.2 614.8h0M66.9 633.1h0M81.7 631.2h0M75.6 632.3h0M80.4 624.8h0M78.7 622.4h0M74.9 645h0M80.8 638.1h0M57.3 627.3h0M62.5 646h0M69.4 608.9h0M76.1 604h0M73.1 602h0M62.9 620.8h0M74 632.9h0M62.9 646.9h0M78.4 643.1h0M75.5 622.7h0M61.5 622.4h0M72.6 611h0M83.2 626h0M66.4 629.9h0M56.1 635.4h0M66.9 639h0M82.8 634.2h0M84.6 627.2h0M61.8 647.8h0M63.8 647.5h0M85 626.9h0M79 624.5h0M58.7 636.8h0M78.4 602.7h0M77 622.5h0M76.8 609.1h0M78.3 645.4h0M55.1 637.1h0M62.7 626.6h0M68.6 644.3h0M74.1 628.2h0M60.6 631.2h0M59.3 643.5h0M72.8 626.2h0M65.2 627.7h0M74.8 646.3h0M81 621.7h0M64.5 626h0M73 633.3h0M77.1 624.8h0M54.9 640.3h0M65.9 648.1h0M56.6 630.8h0M83.5 623.3h0M68.4 636.3h0M68 635h0M79.9 635.8h0M71.9 640.9h0M67 610.1h0M69.3 628.7h0M73.2 604.4h0M76.6 636.9h0M62.9 632h0M65.6 648.9h0M75.9 636.9h0M74.5 612h0M66.3 642.5h0M61.6 619.7h0M73 603.7h0M70.9 646.3h0M73.2 611.6h0M68.5 622.6h0M75.2 611.1h0M69.8 642.5h0M66.6 622.7h0M70.5 648.3h0M79.6 614.6h0M76.9 601.6h0M82.5 614.1h0M65.1 621.3h0M77.9 644.8h0M76.2 616.2h0M74.4 602h0M65.9 630.5h0M71 636.4h0M56.5 638.1h0M62.2 634.8h0M67.8 646.1h0M75.8 599h0M69 621.8h0M73.2 619.4h0M62.6 648.3h0M68 608.2h0M71.4 608.2h0M82.4 615.9h0M77.4 605.9h0M67.6 620.3h0M76.7 644.6h0M68.5 614.7h0M82.1 627.4h0M73.7 599.3h0M72.3 606.8h0M58.5 640.1h0M75.2 610.3h0M71.9 645.1h0M71.5 613h0M78 615.2h0M71.8 607.1h0M83.3 620.2h0M59.8 625.8h0M72.1 621.7h0M66 646.1h0M76.3 616.2h0M56.2 637.8h0M70.6 620.7h0M66.6 624.9h0M62.3 635.9h0M61.3 619.9h0M83.2 618.4h0M69.1 616.3h0M60.4 637.3h0M65.3 633.2h0M76.6 639.2h0M72.7 608.7h0M58.4 641.7h0M63.1 637.9h0M79.2 640.5h0M61.9 628.3h0M80.8 625.5h0M61 625.8h0M74.3 637.5h0M72.5 634h0M81.7 630.4h0M69.3 615.3h0M73.3 644.8h0M76.7 630.1h0M63.3 644.1h0M76.8 624.8h0M66.5 633.4h0M65.7 643.1h0M61.3 621.9h0M73.9 639.4h0M81.5 638.8h0M69.8 623.7h0M59.6 631.5h0M64.1 622h0M59.7 628h0M59.9 645.2h0M82 623.2h0M81.7 616.7h0M72.3 624.7h0M74.3 635.1h0M74.7 620.7h0M72.5 644.8h0M63.5 642.2h0M59.3 631.2h0M70.7 638.6h0M78.9 606.2h0M67.3 630.5h0M58.6 641.5h0M63.5 638.3h0M84.9 616.3h0M75.6 642.3h0M82.4 619.4h0M73.8 628.2h0M80.9 636.9h0M81.8 631.7h0M71.6 609.1h0M75.1 644.9h0M70.5 637.3h0M77.5 637.7h0M78 614.2h0M84.6 621h0M83.7 624.6h0M81.8 634.8h0M83.6 619.9h0M63.1 628.5h0M77.3 641.4h0M61.3 647h0M70.4 611h0M76.3 628.7h0M75.9 646.4h0M73.1 635.1h0M64.5 624h0M75.9 630.1h0M70.6 624.7h0M79 613h0M60.9 632h0M71.1 613.7h0M81.2 637.2h0M74.5 635.5h0M54.8 635h0M73.4 645.9h0M76.7 603.6h0M62.7 626.7h0M83.7 625.1h0M68.2 632.2h0M79.3 611.3h0M77.2 603.3h0M60.3 645.9h0M60 625.7h0M61.3 639.1h0M74 647.1h0M61.4 646.9h0M59.8 634.2h0M69.9 629.8h0M61.8 624.9h0M81.8 614.8h0M76.7 623.1h0M74.8 597.5h0M75.5 597.3h0M78.8 632.8h0M71 619.7h0M70.1 631.9h0M67.7 628.4h0M84.6 620.9h0M61.7 618.7h0M81.6 613.9h0M67.8 643.5h0M68.9 639.2h0M78.9 610h0M70.7 646.7h0M62.9 628h0M58.1 630.6h0M71.5 645.8h0M73.7 610.8h0M78.1 635.7h0M65 613.8h0M81.5 624.6h0M72.2 619.1h0M71.4 639.4h0M73.9 647.1h0M76.4 601.6h0M78 619h0M67.6 624.1h0M73.6 601.4h0M69 629h0M70.9 648.1h0M61.2 629.4h0M67.5 613h0M81 614.3h0M72.2 637.4h0M61.1 630.7h0M82.5 635.2h0M74.8 603h0M56.7 629.5h0M79 644.5h0M80.6 638.4h0M61.1 641.6h0M80.4 622.2h0M62 643h0M73.8 641.2h0M54.9 640.6h0M80.8 628.8h0M73.1 645h0M73.8 633.8h0M73.7 614.7h0M68 611.7h0M65.4 619.6h0M76.2 622.3h0M77.7 645.5h0M76.8 622.8h0M78.4 629.2h0M60.9 623h0M65.4 637.1h0M74.3 645.2h0M58.5 639.1h0M65.2 627.4h0M71.4 639.3h0M82.6 621h0M71.1 614.4h0M64.9 640.2h0M57.7 642.2h0M81.4 615.2h0M80.7 641.5h0M61.3 640.5h0M82.7 629.7h0M70.6 619.4h0M83.8 622.3h0M70.6 619.9h0M66.2 624.9h0M60.7 647.1h0M71.5 642.1h0M78.4 605.4h0M69.2 630.5h0M61.5 636.7h0M76.2 633.6h0M75.3 612.1h0M64.8 616.7h0M84.7 620.9h0M77.7 629.6h0M63.1 620.6h0M81 629.6h0M74.6 642.5h0M71.7 627.7h0M66.1 615.3h0M64.4 638.1h0M54.6 638.9h0M65.1 630.3h0M69.3 607.9h0M65.4 646.1h0M58.4 630.3h0M75.1 634.6h0M72 623.7h0M75.4 618.1h0M76.8 608.1h0M61.3 622.9h0M73.5 640.1h0M66.9 625.6h0M74.5 600.2h0M71.3 636.5h0M79.6 634.3h0M78.2 613.9h0M76.4 604.2h0M60.8 648.1h0M79.1 636.4h0M75.9 599.1h0M67.6 630.7h0M63.7 633.6h0M70.9 611.6h0M74.3 629.4h0M70.1 638.3h0M67.4 617.5h0M68.2 615.4h0M65.3 618.5h0M77.3 634.5h0M61.2 635.8h0M75.5 620.7h0M61.4 636.4h0M56.9 641.4h0M73.9 607.7h0M63.6 629.7h0M67.2 630h0M78.8 634h0M77.2 638.2h0M70.5 618.5h0M69.6 616.2h0M64.3 640.6h0M80.5 610h0M73.8 602.4h0M83 633.1h0M67.3 631.3h0M58.8 646.8h0M64.3 625.6h0M67.6 626.4h0M77.9 607.6h0M62 626.4h0M62.9 646.6h0M83.7 632h0M81.5 630.9h0M81 609.1h0M76.8 631.8h0M76.1 643.4h0M59.5 627.6h0M64.7 625.4h0M72.4 604.6h0M81 622.5h0M68.4 631h0M85.6 619h0M66.6 644.7h0M72.6 611.3h0M71.2 619.7h0M80.3 631.5h0M62.6 639.7h0M66.9 631.3h0M78.2 642.7h0M73.1 608.7h0M79.7 633.9h0M72.4 618.5h0M75 619.5h0M63.3 618.7h0M64 639.3h0M72.3 625.8h0M83.3 627.8h0M69.1 626h0M55.8 642.6h0M83.7 627.7h0M56.8 633.5h0M75.1 612.3h0M77.8 604h0M65.3 641.6h0M68.2 621.4h0M64.9 614.9h0M71.4 622.3h0M69.5 611.5h0M76.3 611h0M72.9 613.3h0M78.2 635.1h0M72.8 621.6h0M66.4 631.5h0M77.1 613.7h0M82.3 630.4h0M62.4 626.6h0M69.5 633.2h0M56.6 643.9h0M78.7 608.2h0M59.9 623.2h0M84.8 620h0M68.6 631h0M66.7 621.5h0M58.5 628.1h0M70.6 624.1h0M74.9 646.4h0M72.8 614.4h0M76.3 604.9h0M68.5 623.7h0M76.8 605.4h0M60.9 630.1h0M79.6 639.2h0M62.3 647h0M82.5 613.6h0M72.9 647h0M73.4 604.2h0M71.5 634.9h0M61.2 621.6h0M70.8 622.3h0M81.1 620.5h0M77 614.5h0M64.1 638h0M75.8 637.9h0M72.8 608.9h0M70.3 642.9h0M66.3 647.6h0M81.7 627.8h0M72.5 615.5h0M66.5 612.6h0M73.9 640.2h0M72.3 619.5h0M71.6 618h0M80.4 612.9h0M72.1 625.5h0M73.2 607.1h0M67.7 622.1h0M81.2 611h0M74.8 598.7h0M68 623.9h0M63.8 645.4h0M67.5 634.9h0M67 618.9h0M59.8 638.5h0M69.9 616.9h0M78.6 643.8h0M63.8 628.3h0M76.8 632.7h0M75.7 604.2h0M62.3 642.7h0M66.3 625.4h0M75.3 610.9h0M73.9 609.7h0M74.8 643.1h0M60 631.8h0M71.2 612.6h0M73 611.5h0M69.2 627.6h0M59.7 644.2h0M68.9 624.7h0M65.7 631.1h0M62.4 621.1h0M71.9 638.3h0M71.1 624.1h0M79.3 627.7h0M58.1 626.7h0M79 644h0M73.4 646.1h0M64.3 639.6h0M81.7 623h0M81.9 607.9h0M76.5 624.7h0M68.1 613.1h0M63.6 636.6h0M79.2 617.8h0M81.4 622.2h0M68.6 625.5h0M80.8 625.2h0M79.4 619.2h0M61.6 644.4h0M65 646.7h0M61.8 627.6h0M64.1 633.7h0M76.3 597.6h0M60.8 645.2h0M64.4 636.4h0M57.7 636.7h0M73.9 635.4h0M73.1 629.2h0M68.3 637.5h0M82.8 621.8h0M83.2 632.7h0M74.7 627h0M65.6 636.7h0M75.1 628.2h0M63.7 615.6h0M67.6 616.2h0M64.5 644.9h0M55 639.7h0M62.5 648.3h0M68.8 608.3h0M72.3 635.9h0M67.7 618h0M82.1 626.1h0M73.8 634.6h0M60.6 631.6h0M63.6 646.2h0M64.1 623.8h0M69.8 606h0M77.5 602.4h0M63.1 626.1h0M65.7 618h0M82.2 631.5h0M79.1 604.5h0M77.1 642.5h0M65.1 640.3h0M67.4 645.2h0M84.6 622.6h0M83.7 614.8h0M74.5 633.1h0M71.6 620.5h0M65.8 622.2h0M69 631.3h0M55.5 638.9h0M73.1 629h0M73.9 642.4h0M71.4 615h0M66.3 612.1h0M63 631.7h0M74.4 609.2h0M63.5 648.4h0M80.7 637h0M67.1 634.6h0M67.6 614.7h0M68.9 643.4h0M68.5 619.2h0M78.8 643.6h0M82.9 612.7h0M66.6 636.1h0M58.6 643h0M66.7 619.5h0M66.5 625.4h0M75.6 615.6h0M81.8 618.7h0M73.3 605.7h0M79 603.2h0M66.8 639.1h0M66.4 615.9h0M63.7 631.8h0M81.5 635.5h0M73.8 620h0M71 645.3h0M84.6 622.3h0M76.9 628.1h0M69.8 641.2h0M74.1 640.5h0M73 646.3h0M73.5 602.4h0M69.3 629h0M76.1 625.8h0M75.2 631.7h0M66.9 624.9h0M62.1 646.2h0M76.9 640.7h0M61.5 633.7h0M68.8 632.2h0M76.5 626.3h0M77.8 606.9h0M70.7 621.7h0M70.4 642h0M61.6 626.6h0M61.7 632h0M78.7 603.1h0M82.5 633.2h0M65.6 644.9h0M60.1 637.7h0M59.7 646.5h0M82 627.4h0M73.1 625.9h0M77.7 606h0M72.9 610.6h0M78.8 619.7h0M71.7 634.6h0M55.3 637.2h0M68.7 626h0M75 620.7h0M75.6 615.6h0M69.9 637h0M70.2 620.6h0M63.2 647h0M68.1 633.5h0M66.7 644.7h0M73.9 644.6h0M65.2 631.9h0M59 631.2h0M77.5 634.8h0M75.6 628.6h0M69.6 631h0M60.6 630.4h0M79.9 630.2h0M60.5 624.5h0M56.6 637.8h0M84.5 625h0M76.7 610.4h0M68.1 626.6h0M71.5 614.7h0M77.2 645.5h0M78.3 615.2h0M77.8 612.2h0M81.8 614.7h0M62.2 617.8h0M83.8 630.1h0M60.7 629.3h0M66.5 623.5h0M65.9 637h0M67 612.7h0M67.9 635.9h0M81.2 638.5h0M62.8 635.2h0M60.9 627.1h0M72.7 643.5h0M60.9 645.6h0M63.6 634.6h0M76.3 617.2h0M62.1 646.5h0M71 609.1h0M73.4 618.1h0M82.2 629.7h0M76.4 622.5h0M79.5 629.7h0M61.2 647.6h0M59.8 646.7h0M83.4 610.1h0M85.4 631h0M85.7 625.1h0M65.6 614.3h0M81.3 606.1h0M84.8 626.1h0M63.6 613.8h0M69.7 603.4h0M62.8 614.1h0M83.8 615.7h0M67.5 649.4h0M86.7 616.7h0M56.9 644h0M71.7 602.3h0M69.3 608.1h0M77.7 600.4h0M68.4 610.7h0M76.3 597.4h0M82.8 612.4h0M70.1 603.1h0M56.8 643.4h0M83 615.3h0M80.4 605.5h0M85.2 615.1h0M70.1 603.4h0M80.6 604.9h0M85.6 633.2h0M80.9 603.4h0M73.7 600.3h0M82.4 640.8h0M62.8 615.9h0M55.9 640.6h0M86 631.7h0M83.3 626.5h0M83.7 616.3h0M80 639.7h0M64.6 611.7h0M69.4 603.8h0M84.8 615.4h0M71.6 648.1h0M87.1 620.9h0M80.8 601.2h0M63 615.7h0M64.5 614.9h0M71.7 599.9h0M75.3 596.2h0M80.1 601.7h0M66.6 609h0M83.8 623.1h0M74.4 598.3h0M66.5 610.7h0M55.9 635.1h0M72.5 598.1h0M73.3 598.4h0M57.9 622.9h0M82.1 610.9h0M57.9 640h0M57.5 647.7h0M73.7 596.2h0M81.7 641.6h0"/><path id="q2" d="M70.5 603.8 76.1 595.5 82 608 86 618 84.4 632 80 645 67.7 649.6 59.4 648.2 53.9 639.9 55.3 628.8 62.2 617.7Z"/><path id="p3" d="M92.9 640.5h0M93.1 627.4h0M87.6 640.9h0M92.9 621.8h0M86.4 642.6h0M89.7 626.5h0M92.9 622.9h0M90.1 617h0M86.3 640.9h0M89.4 640h0M92.3 617.8h0M88 621.3h0M91.3 622.2h0M84.9 638.4h0M81.9 644.8h0M84.9 638.2h0M87.8 640.4h0M92.8 632.6h0M93 629.7h0M86.5 616.7h0M87.7 632.8h0M91.9 625.2h0M92.9 634.4h0M89.1 637.5h0M91.5 622.7h0M92.9 637.4h0M86.6 642.4h0M90.4 625.4h0M90.9 639h0M85.8 615.3h0M93.9 624.3h0M87.7 624h0M95.1 629.8h0M92.3 636.2h0M87.4 615.6h0M88.6 622.4h0M91.5 628.3h0M89.9 633.6h0M92.2 622.4h0M90.2 622.8h0M87.8 618.9h0M87.1 621.8h0M91.1 620.4h0M94 634.2h0M93.1 639.7h0M85.7 628h0M93.2 624.3h0M83.2 640.9h0M88.4 639.5h0M88.9 630.3h0M90.1 633.8h0M83.3 645.3h0M94.5 624.9h0M82.4 640.8h0M94.6 626.1h0M87.9 620.9h0M91 627.9h0M90.8 624.4h0M86.8 627.5h0M86.5 624.4h0M93.6 628h0M93.3 634.2h0M87.5 633.8h0M90.9 630.3h0M92.9 640.1h0M89.8 636.1h0M92.1 636.2h0M95 628.5h0M91.4 628.3h0M86 638.4h0M86.3 613.8h0M91.8 632.9h0M91.7 627.1h0M87.6 615.4h0M87.2 626.3h0M84.1 638.3h0M92.3 630.7h0M91.1 635.3h0M85.5 616.5h0M85 633.9h0M84.5 614.1h0M88.7 638h0M83.9 641h0M89.7 620.1h0M91.4 624.3h0M84.5 638.2h0M89 631.7h0M87.7 625h0M83.7 634.8h0M86.1 635.2h0M84.3 634.4h0M86.9 637.9h0M90.9 632h0M88.3 619.9h0M85.2 612.7h0M83.6 638.7h0M94.1 627.5h0M86.5 620.9h0M90.3 617h0M86.5 627.8h0M84 644.2h0M90.2 626.7h0M87.2 614.6h0M92.7 625.6h0M81.8 639.7h0M86.3 633.2h0M85.2 638.6h0M93.9 624.4h0M91.8 624.7h0M88.8 641h0M89.9 633.2h0M85.4 640.8h0M90.7 636.7h0M92.1 636.6h0M91.9 634h0M91.1 635.3h0M87.3 628.7h0M82.8 609.9h0M90.7 620h0M85.3 640.4h0M90.7 617.9h0M94.5 629.3h0M86 617.8h0M90.1 632.2h0M83.5 643.7h0M87.8 616.2h0M83.8 638.9h0M87.7 623.4h0M90.9 627.2h0M88.9 619.4h0M85.4 632.5h0M93.4 640h0M92.9 621h0M85.9 626.6h0M81.9 643.1h0M89.8 637.9h0M93.6 629.4h0M85.7 639.1h0M93.7 624.2h0M84.8 612.9h0M88.2 638.6h0M88.3 622.1h0M86.3 618h0M85.2 627.9h0M88.9 638.8h0M87.1 625.6h0M91.1 625.1h0M85.1 612.6h0M87.6 641.2h0M85.4 627.6h0M89.6 614.6h0M83.2 631.1h0M85 626.6h0M93.3 634.3h0M82.2 608.6h0M82 609.8h0M94.9 629h0M96.4 624.3h0M82.5 646.3h0M82.9 628.1h0M93.7 635.3h0M83 611.6h0M84.4 633.1h0M85.1 619.6h0M83.6 610.4h0M89.4 614.5h0M86.9 613.7h0M94.1 635.8h0M80.8 645.4h0M94.3 627.3h0"/><path id="q3" d="M82 608 84.4 612.1 92.7 617.7 95.5 628.8 94.1 639.9 84.4 645.4 80 645 84.4 632 86 618Z"/><path id="p4" d="M91.8 582.5h0M105.3 579.4h0M82.2 602.3h0M89.4 598.8h0M106.6 584.9h0M106.4 587.5h0M98.1 593.3h0M107.3 573.9h0M82.1 598h0M86.2 590.4h0M109.1 576h0M103.5 580.7h0M85.9 595.5h0M102.8 576.9h0M94.2 597.1h0M96.9 582.7h0M77.9 598.7h0M86.6 601.9h0M95.6 583.6h0M93.1 598.2h0M98.6 591.1h0M104.8 586.4h0M106 576.4h0M106.2 584.9h0M89.1 597.4h0M91 598.3h0M83.9 606.9h0M80.7 593h0M80.8 598.7h0M83.8 587.5h0M104.4 582.4h0M90.4 597.7h0M105 590h0M89.9 596.5h0M93.1 591.2h0M81.2 601.2h0M92.8 589.3h0M102.6 589.8h0M108.6 585.5h0M89.1 594.5h0M88.5 589.6h0M95.6 593.6h0M108.2 573.1h0M100.3 582.1h0M93 598.4h0M96.8 591.6h0M83.8 587.1h0M106.4 573.2h0M81.8 600.1h0M91.2 599.3h0M84.3 597.2h0M85.9 595.4h0M87.7 601.6h0M108.2 587.4h0M106.7 572h0M94.3 589h0M96.4 590.1h0M98.5 577.6h0M102.4 585.6h0M107 579.4h0M96.5 588.7h0M83.5 595.6h0M106.5 574.4h0M91.2 594h0M88 584.7h0M91.6 583.7h0M83.5 600.2h0M105.4 583.1h0M83.1 597.5h0M90.7 584h0M80.6 595.7h0M104.4 575.4h0M107.3 575.1h0M82.5 598.2h0M81.8 597.5h0M99.9 590.5h0M104.9 578.9h0M81.8 599h0M82.9 591.8h0M102.6 578.3h0M90.8 583.8h0M89.6 596.1h0M83.6 591.2h0M98.4 580.3h0M93.7 590.6h0M102.4 574.2h0M104.2 588.3h0M90.4 583.8h0M81.2 589.7h0M87 594.3h0M98.2 586.9h0M78.4 595.4h0M89.7 583.8h0M88.5 588.7h0M82.7 594.5h0M86.5 590.4h0M80 600.2h0M82.7 604.2h0M105.4 576.2h0M107.4 585h0M81.1 605.6h0M107.2 584.1h0M91.1 592.3h0M94.4 592.6h0M86.2 601.6h0M82 604.2h0M106.4 583.1h0M83.2 597.9h0M102.3 579.5h0M85.2 591.4h0M81.1 590.5h0M96.7 592.9h0M108.7 578.5h0M108.5 573.2h0M103.5 585.7h0M105.3 582.6h0M89.9 582.9h0M80.9 601.1h0M103.1 589.9h0M103.7 577.4h0M104.7 577.6h0M90.3 585.5h0M79.6 593.4h0M102.9 577.7h0M102.6 586.1h0M95.1 582.4h0M87.5 597.9h0M96.1 586.8h0M91.6 580.9h0M81.5 595.8h0M96.9 583.3h0M81 598.8h0M105.1 588.3h0M90.6 592h0M90.4 586.6h0M90.3 600.6h0M87.3 597.3h0M102.3 582.5h0M83 606.7h0M99.7 576.3h0M100.6 590.7h0M91.3 585h0M105.9 577.3h0M109.2 574.8h0M93.7 583.5h0M87.2 586.5h0M83 596.8h0M87.6 594.6h0M87 599.6h0M93.2 586.1h0M86.1 596.6h0M90.8 595.5h0M94.5 591.1h0M105 588h0M87.7 594.7h0M86.4 588.3h0M92.4 587.4h0M91.6 599.5h0M105.7 578.9h0M91.9 597h0M86.8 589.4h0M103.9 573.4h0M102.8 576.6h0M86.2 587.8h0M106.7 584.2h0M95.4 580.9h0M84.9 591.8h0M81.1 603.6h0M94 584.5h0M109.3 581h0M98.6 581.8h0M102.4 589.6h0M80.1 603h0M89.9 583.2h0M87.7 602.5h0M106.1 579.8h0M85.3 587.6h0M91.6 600.3h0M106 590h0M88.3 593.7h0M108 583.7h0M106.2 586.7h0M100.7 589.7h0M108.2 581.2h0M94.8 582.3h0M81.9 595.2h0M105.9 584.5h0M95.4 579.6h0M96.4 587.9h0M109.4 577.7h0M87.5 585.8h0M81.8 599.5h0M92.6 596.4h0M101.6 582.8h0M98 581.3h0M84.8 603.7h0M91.2 594.3h0M100.9 577.1h0M81.2 600.1h0M88.5 601.1h0M82 602.2h0M92.2 594.3h0M104.9 580h0M79.5 601.1h0M94.2 582.6h0M79.9 592.3h0M80.6 603.3h0M94.5 589.3h0M107.2 579h0M104.4 585.9h0M95.6 580.5h0M99.1 586.7h0M97.3 579.2h0M77.8 597.7h0M87.8 600.1h0M85.1 605.2h0M87.2 589.8h0M92.4 586.8h0M108.2 582.2h0M89.7 591.3h0M95.7 585.5h0M99.1 585.5h0M84.8 595.3h0M94.8 581.8h0M86.6 605.1h0M95.5 582.7h0M91.8 593.9h0M79.7 596.9h0M100.1 583.3h0M77.3 596.2h0M98.7 584.8h0M84.3 594.9h0M85.6 591.5h0M98.1 582.1h0M103.7 579.3h0M105.3 579.3h0M90.8 591.8h0M90 586.8h0M86.8 586.5h0M101.7 580.1h0M81.4 589.5h0M86.4 598.9h0M94.5 583.2h0M83.4 592.7h0M91.5 594.7h0M90.7 591.6h0M102.9 586.3h0M90.5 591.8h0M96.7 595h0M84.6 595.3h0M82 595.2h0M107.4 586.6h0M85.5 589.2h0M97.3 588.4h0M93.8 585.2h0M96.8 584.7h0M100.6 578.8h0M101.2 591h0M84 595h0M96.4 589h0M100.8 575.7h0M88.4 585.2h0M98.1 585.9h0M104.4 579.5h0M93.4 580.9h0M98.1 579.9h0M86.2 593.9h0M84.9 595.5h0M95.7 579.2h0M92.9 598.1h0M107.8 587.4h0M97.1 593.5h0M90.3 589.5h0M104.3 576.7h0M92.8 598.1h0M83 602.2h0M89.6 588h0M81.1 591.8h0M95.8 586.3h0M93.4 589.5h0M109.7 577.8h0M90.7 587.9h0M97.9 587.1h0M81.1 605.9h0M80.7 593.8h0M85.4 590.9h0M84.2 599.3h0M89.1 591.9h0M105.6 577.6h0M80.5 600.5h0M101.8 590.9h0M88.6 601.5h0M91.2 583.3h0M82.5 595.3h0M83.6 587.8h0M104.4 574.3h0M87.1 600.4h0M99.2 589.8h0M104.4 585.1h0M91.9 589.5h0M86.9 584.4h0M93 596h0M88.6 587.1h0M89.1 587.3h0M97.3 591.5h0M102.5 577.2h0M81.3 603.5h0M103.1 578.7h0M81.2 598h0M89.8 594.5h0M86 588.1h0M96.7 588.4h0M106.8 580h0M81.7 592.3h0M87.4 600.1h0M88 587.5h0M93.7 587.6h0M109.1 575.6h0M96.1 588.6h0M99.2 588h0M95.9 581h0M91.7 596.4h0M107.3 579.1h0M108.2 573h0M109.2 577.5h0M95.6 585.7h0M105.2 587.3h0M104.6 575.5h0M83.6 591h0M95.3 595.6h0M83.8 591h0M107.8 573.3h0M86 605.8h0M86.2 589.2h0M104.7 581.7h0M88 585h0M88.5 590.3h0M90.5 581.9h0M79.7 596.1h0M90.3 597.3h0M81.2 599.9h0M103.4 575.6h0M98.2 581.2h0M106.2 583.7h0M101.5 578.2h0M98.8 578.8h0M102 586.5h0M106.8 581.1h0M84 596.1h0M99.4 591.5h0M92.9 592.9h0M95.5 582.1h0M93 582.9h0M100.6 581.6h0M83.2 604.2h0M95.2 588.2h0M93.7 593.5h0M105.8 573.6h0M89 593.2h0M106.5 585.6h0M80.8 591.8h0M100.2 583.2h0M92.7 586.3h0M105.1 588.4h0M79.3 591.6h0M105.6 583.8h0M83.7 594h0M103.7 583.9h0M99.5 587.2h0M87.3 592.7h0M97.4 589.3h0M103.1 574.6h0M89.7 600.1h0M98.9 590.2h0M102.4 582.6h0M93.1 593.4h0M98.6 586.3h0M100.4 576h0M99.3 589.1h0M93.2 592.5h0M104 584.9h0M102.9 577.1h0M104.8 580.6h0M106.4 579h0M85.5 585.4h0M83.4 601.5h0M84.5 595.6h0M97.3 588.6h0M106.4 575.5h0M108.3 582.5h0M98.3 589.3h0M88.6 584.6h0M103.7 574.9h0M81.6 594.8h0M86.7 589.8h0M81.8 602.3h0M91.4 596.4h0M81.7 601.6h0M90.5 583.3h0M83.7 589.6h0M82.7 605.7h0M83.1 602h0M98.8 592.8h0M82.2 590.3h0M105.5 575.7h0M90.6 583.3h0M89.8 582.7h0M92.2 583.2h0M101.2 575.1h0M99 592h0M87.7 586.1h0M85.8 584.8h0M97.1 581.5h0M102.9 588.1h0M104.1 586.5h0M80.7 604.6h0M89.6 583.6h0M109.1 579.5h0M81.8 598.4h0M80.8 601.2h0M83.4 591h0M94 596.7h0M80.4 601.7h0M103.6 582.4h0M84.5 589.4h0M80.6 603.7h0M81.8 590.5h0M106.8 588.1h0M86 591.1h0M92.7 582.8h0M108.1 586.7h0M100.6 588.5h0M99.1 581.9h0M105 582.7h0M105.6 574.3h0M95.9 584.1h0M103.8 577h0M107.2 578.4h0M86 588.4h0M97.3 589.1h0M108.2 574.8h0M98.5 591.2h0M94.5 589.1h0M96.3 589.6h0M92.5 599.2h0M107.1 578.4h0M89.5 592.2h0M106.9 586.3h0M86.5 598.1h0M91 600.2h0M94.1 581.7h0M97.5 589.7h0M105.1 580.2h0M93.6 584.2h0M92.3 590.5h0M99.9 584h0M106.3 573.4h0M105.8 588.1h0M104.4 583h0M99.4 578.2h0M90.7 597.1h0M101.4 576.3h0M88.5 594.8h0M107 571.9h0M96 580.1h0M89 582.6h0M92.4 593.1h0M105.2 586.6h0M102.8 586.9h0M84.5 591.1h0M93.5 591.8h0M93 595.7h0M86.7 591.5h0M101.3 585.5h0M88.4 595.6h0M94.5 582.3h0M88.3 587.9h0M86.7 592.2h0M99.7 584.9h0M90.9 592.8h0M96.4 584.5h0M93.2 580.4h0M76.4 595.1h0M107.4 576.6h0M110.4 576.3h0M97.1 587.7h0M95 586.7h0M86.1 604.7h0M97.5 584.5h0M99.8 584.5h0M90.1 593.5h0M98.7 590.6h0M102.1 585.8h0M92.1 589.5h0M85.2 592.9h0M99.6 584.1h0M108.9 582.8h0M90.7 599.3h0M99 577.6h0M84.6 591h0M97 580.3h0M92.3 594.1h0M87.9 600.8h0M91.3 593.9h0M89.9 596.5h0M78.7 592.8h0M92.8 589h0M88.8 586h0M84.3 595.5h0M106 586.5h0M96.9 582.5h0M102.9 584.2h0M90.1 589.4h0M105.5 574.6h0M100.5 587.4h0M83.7 591.9h0M94.9 589.9h0M101.9 576.8h0M97.9 585.2h0M104.5 583.4h0M98.3 575.7h0M89.9 601h0M79.4 602.2h0M78 595.9h0M80.4 590.1h0M83.5 609.7h0M74.9 598h0M108.6 573.9h0M96.3 578.7h0M108.3 589.1h0M110.4 573.5h0M108.6 587.9h0M107.6 591.7h0M97.3 595.5h0M99.9 594.9h0M85 583.6h0M109 585.2h0M88.3 604.6h0M81.6 589.2h0M111.4 581h0M100.8 576.5h0M88 582.7h0M108.9 587.2h0M88.6 580.8h0M95.4 579.4h0M106.9 587.3h0M82.7 584.5h0M96.6 577.5h0M90.1 600.9h0M93.7 599.5h0M104.1 591.7h0M107.4 588.8h0M91 603.2h0M108.2 586.7h0M99.9 592.5h0M108.3 572h0M86.8 603.2h0M105.4 590.4h0M102.4 572.6h0M90.9 581.2h0M79.1 602.6h0M101.5 591.4h0M102.7 592.7h0M105.6 572.1h0M88.5 601.6h0M88.1 604.6h0M85.9 585h0M91.4 599.6h0M85.9 584.2h0M104.9 590.6h0"/><path id="q4" d="M76.1 595.5 84.4 584.4 95.5 578.8 108 570.5 110.7 574.7 108 590 100 592 92 600 84 608 82 608Z"/><path id="p5" d="M98.9 601.8h0M107.9 615.2h0M105.7 598.4h0M97.3 597.1h0M94.5 601.2h0M104.8 618h0M92.9 615.4h0M97.9 614.5h0M90.3 614.1h0M107.1 603.8h0M98.8 613.1h0M107.2 616.3h0M103.9 617.4h0M100.5 609h0M101 591.9h0M110.1 606.8h0M90.1 606.9h0M95.6 598.9h0M97.8 605.1h0M90.1 605.2h0M104.6 613.3h0M99.7 617.9h0M105.9 613.1h0M87.8 610.7h0M92.9 610.2h0M92.7 612.4h0M99.5 618h0M101 611.1h0M82.8 609.2h0M100.7 608.4h0M96.5 614.2h0M107.8 609.5h0M87.5 610.8h0M101.7 606.4h0M89.1 605h0M100.4 613.6h0M104.8 617.1h0M86.2 613.3h0M105.5 614.7h0M91.8 616.3h0M102.3 599.7h0M100.2 614.7h0M90.6 603.9h0M100.3 601.4h0M102 600.3h0M97.6 607.8h0M90.7 604.1h0M97.2 621.1h0M94.8 607.2h0M99.5 596.1h0M95.8 619.8h0M103.4 609.6h0M88.8 614.6h0M104.5 604h0M96.2 596.4h0M93.7 612.2h0M101 619.8h0M104.4 611.3h0M106.3 597.4h0M110.2 611.4h0M87.3 605.4h0M93.2 598.9h0M101 607.2h0M92.5 614.2h0M97 606.4h0M97.1 611h0M103.7 605.3h0M94.7 604h0M101 608.2h0M105.4 614.7h0M99 615.1h0M86.4 607.1h0M92.1 611.3h0M104.6 609.3h0M84.5 609.6h0M90.2 611h0M98.6 596.9h0M97.2 600.4h0M95.6 598.1h0M105.1 594.3h0M104 608.6h0M107.1 617.2h0M100.2 592.1h0M105.2 602.2h0M92.2 602h0M95.8 607.2h0M107 599.3h0M86 611.3h0M104.7 611.7h0M91.5 616.6h0M100.1 618.5h0M102.8 598.9h0M99.4 612.7h0M96.8 620.9h0M104.7 597.6h0M93.2 613.2h0M104.1 594.4h0M86.3 608.7h0M103 618.7h0M93.4 613.5h0M104.9 598.9h0M93.4 613h0M104.3 614.7h0M94.5 609.4h0M99.4 605h0M103.2 593.9h0M101.4 620h0M102.8 607.9h0M105.5 616.7h0M103.4 610.5h0M106.3 608.6h0M101.8 612.4h0M108.5 613h0M85.1 610.6h0M92.5 602.3h0M98.6 602.3h0M104.8 593.4h0M108.5 614.6h0M85 610.9h0M87 606.6h0M91.9 607.6h0M94.6 611.5h0M101.9 609.3h0M105.1 590.9h0M103.8 614.5h0M89.3 609.4h0M96.5 598.6h0M104.3 615.7h0M95.6 611.9h0M103.4 615.8h0M112 617.4h0M81.8 607.5h0M108.2 590.6h0M113.1 611.9h0M87.3 607.6h0M87.6 605.1h0M100.7 592.3h0M85.6 606.9h0M99.2 619.4h0M99.4 620.7h0M102 621.1h0M89 614.6h0M109.7 615.8h0M89.4 602.2h0M98.6 622.7h0M84.4 614.6h0M81.9 607.3h0M87.6 604.8h0M108.4 599.4h0M108.1 595.4h0"/><path id="q5" d="M82 608 84 608 92 600 100 592 108 590 108 595.5 110.7 609.3 112 616 104 620 98 622 92.7 617.7 84.4 612.1Z"/><path id="p6" d="M106.7 619.9h0M104.1 621.7h0M106 618.6h0M108.3 632.6h0M103.2 622h0M96 634.2h0M103 629.6h0M106.6 634.1h0M100.8 629.9h0M104.7 619.4h0M109.5 621h0M113 634.6h0M102.7 637.1h0M110.6 628.7h0M101.1 624.3h0M98.9 632.5h0M110.6 620.9h0M102.2 636h0M103 621h0M108.8 627.3h0M98.9 639.4h0M104.8 637.3h0M98.3 636h0M104.3 623.4h0M104.3 634h0M110.4 635.5h0M99.2 625.8h0M108.2 637.9h0M103.9 619.7h0M102.2 627.1h0M105.6 629.8h0M104.5 638.8h0M97.9 630.7h0M96.8 638h0M105.2 631.8h0M97.4 623h0M103.7 634.7h0M103.6 625.6h0M101.7 635.3h0M105.6 634.4h0M100.6 637.3h0M107.8 635h0M104.4 631.6h0M107.4 638h0M109.1 633.8h0M109.5 628.8h0M108.5 625.7h0M106.2 624h0M96.3 625.8h0M104.6 637h0M98.3 633.8h0M96.2 624.9h0M99.6 633.6h0M110.5 634.7h0M102.6 633.1h0M96.6 635.9h0M114.2 626.9h0M107.6 622.5h0M112.5 620.9h0M104.1 633.1h0M95.6 633h0M110.9 621.4h0M107.3 628.5h0M111.6 618.6h0M111.3 617.3h0M110.9 635.5h0M104.1 627.8h0M102.9 628.6h0M109.9 636.2h0M103.7 621h0M109.9 619.1h0M106.6 628.2h0M98.2 625.2h0M103.8 637.3h0M108.3 635h0M97.4 622.8h0M98.2 630.4h0M111.6 627.5h0M98.5 633h0M102 640.1h0M112.8 622h0M102.2 622.9h0M96.4 626.7h0M98.4 626.2h0M98.1 636.4h0M102.8 640.7h0M105.9 639.6h0M112.9 633.3h0M100.7 626.3h0M98.8 633.1h0M108.8 631.1h0M110.8 631.9h0M113.6 620.7h0M109.2 636.3h0M114.8 621h0M111.8 618.7h0M102.8 637h0M99.3 632.8h0M112.3 630.5h0M102.1 620.6h0M109.5 623.6h0M101.9 639.8h0M98.3 624.6h0M111.3 627h0M112.7 623.7h0M105.9 636.3h0M114.5 621.8h0M111.8 634.1h0M110.6 626.3h0M112.1 630.2h0M103.2 623.7h0M102 639.4h0M102.7 629h0M114 622.2h0M105.5 624.8h0M104.6 639h0M106.4 623.2h0M113 623h0M96.4 625.3h0M107.5 636.1h0M107.7 628.5h0M108.6 621.8h0M103.2 629h0M97.1 639h0M111.6 628.6h0M111.4 633.8h0M104.8 619.7h0M112.8 620h0M110 619.7h0M99.3 627h0M103.4 633.7h0M107.1 633.8h0M103.5 631.3h0M113 620.6h0M107.3 628.1h0M112.4 619.3h0M112.3 625.1h0M104.7 626.5h0M100.5 625.8h0M111.3 618.9h0M105.9 620.8h0M111.7 621h0M112.5 618.4h0M110.3 618.2h0M102.2 620.4h0M104.1 627.8h0M96.2 624.6h0M112.6 628.2h0M98.2 635.3h0M99.1 627.9h0M109.9 625.6h0M98.4 622.1h0M103.7 635.7h0M100.9 626.8h0M105.2 625.5h0M113.4 624.6h0M110.9 631.1h0M104.5 639.2h0M109.5 620.4h0M107.5 629.9h0M110.8 628.8h0M108.2 623.4h0M107.6 619.8h0M97.9 632.6h0M111.4 618.2h0M110.3 631.8h0M112.4 634.5h0M111.9 623.6h0M104.3 621.1h0M110.6 619.9h0M107.4 617.6h0M114.9 625.1h0M94.8 622h0M95.4 622h0M105.1 640.5h0M114.8 625.4h0M101.4 621.4h0M114.9 618.9h0M95.5 623.8h0M93.9 632.6h0M114.8 622.6h0M106.8 617.8h0M110.4 634.9h0M95.1 635.6h0M115.6 624.8h0M95.8 629.1h0M110.6 617h0M114 631.6h0M100 621.8h0M115.3 626.8h0M98.7 621.7h0M108.8 615.7h0M113.1 631.3h0M101 642.7h0M114 633h0M93.5 627.9h0M114.5 626.9h0M95.4 628.4h0M114.8 624.3h0M107.5 619.1h0"/><path id="q6" d="M95.5 623.2 104 619 112 616 114.9 620.4 113.5 634.3 106.6 639.9 98.3 642.6 95.5 634.3Z"/><path id="p7" d="M97 658.1h0M112.5 668.7h0M113.1 666.5h0M103.4 657.1h0M106.4 668.1h0M101.5 659.2h0M99.6 668.1h0M96.1 661.9h0M101.3 663.7h0M107.3 665h0M100.7 658.7h0M103.1 667h0M95.6 664.9h0M116.4 675.4h0M108.1 655.2h0M110 662h0M110.5 665.8h0M101.2 662.2h0M103.9 668.1h0M111.7 672h0M116.2 674.2h0M97.2 659.2h0M113 671.6h0M97.4 666.3h0M105.2 667.5h0M93.4 665h0M96.5 666.4h0M102.6 666.1h0M106.1 664.6h0M112.1 667.2h0M94.4 662.8h0M107.4 668.6h0M95.8 659.2h0M97.2 658.6h0M111.7 669.2h0M108.8 663.3h0M108.6 670.4h0M113.8 674.1h0M115.3 675.3h0M104.1 656h0M102.5 669.1h0M104.1 657.2h0M101.2 669.2h0M98.5 657.6h0M100.3 668.4h0M103.8 664.5h0M93.8 661.8h0M108.4 657.8h0M114.4 672.7h0M112.7 667.6h0M103.2 658.5h0M109.6 668.2h0M104.1 658.2h0M110.7 664h0M100.5 656.8h0M105 671h0M104.8 666.2h0M100.4 658.1h0M104.5 664.7h0M102 668.6h0M106.1 656.4h0M110.1 661.1h0M107.3 658.5h0M95.4 662.8h0M99.8 657.6h0M116.1 674.9h0M107.1 664.6h0M105.1 655.4h0M106.6 655.1h0M92.6 662.6h0M111.6 673.8h0M104.9 663.1h0M101.1 661.2h0M106.6 655.5h0M101.6 663.7h0M108.8 656.4h0M107.9 655.2h0M105.8 669.3h0M97.5 657.7h0M106.3 659.4h0M107 660.1h0M106 670.4h0M112.4 665.8h0M108.8 660.2h0M106.2 670.9h0M109.8 661h0M112.4 668h0M105.7 666.1h0M102.2 657.4h0M113.2 667.7h0M93.6 659.8h0M102.7 668.3h0M108.1 656.4h0M100 657.7h0M111.2 666.1h0M99.9 665.6h0M93.4 664.9h0M112.2 672.2h0M109.5 664.9h0M92.4 662.7h0M101.8 661.4h0M97.9 666.3h0M97.1 662.6h0M107 667.1h0M106.4 667.3h0M100.3 657.4h0M93.5 660.8h0M112.6 669.2h0M104.2 663.3h0M102.4 659.2h0M103.5 666.2h0M109.5 663.1h0M105.1 663.4h0M96 663.8h0M107.6 654.8h0M98.9 658.5h0M102 668h0M107.1 659.1h0M90.5 663.4h0M106.8 668.6h0M94.4 660.4h0M102.1 658.8h0M104.1 667.3h0M100.3 662.5h0M103 667.4h0M91 661.3h0M107.1 668.6h0M112.6 674h0M106.2 656.9h0M101.1 658.7h0M114.1 672.4h0M99.9 665.6h0M105.8 665.8h0M103.3 655.6h0M93.9 661h0M103.8 656.9h0M100.3 657.3h0M110 661.3h0M115.2 674h0M117.9 676h0M103.4 668.1h0M108.1 667h0M97.7 659.8h0M113.8 670.5h0M103.1 666.2h0M110.6 661.3h0M107.1 661.8h0M108.8 669.1h0M105.6 665.8h0M107.3 667.6h0M98.2 657.5h0M89.3 661.7h0M100.1 669.4h0M106.7 666.5h0M99.1 666.9h0M103.6 662.3h0M106.6 667.4h0M113.2 671.2h0M109.8 672.6h0M93.4 664.5h0M107.5 655.3h0M101.8 656.3h0M89.1 662.2h0M107.9 665.6h0M110.8 662.4h0M104.2 656.3h0M103.3 665.8h0M106.1 665.4h0M90.7 661.4h0M99.5 657.2h0M108.8 662h0M109.2 670.2h0M104.4 656.1h0M102.8 658.5h0M111 664.4h0M103.4 664.2h0M110 666.7h0M102.5 667.7h0M111.5 663.9h0M111.3 666.1h0M100.1 663h0M109.2 668.6h0M99.8 663.2h0M98.7 664.8h0M107.1 664.4h0M95.2 666.3h0M108.2 655.5h0M96.8 659.4h0M95.6 665.2h0M103.5 668.4h0M97.5 664.1h0M108.4 664.5h0M101 660h0M100.1 663.7h0M103.4 670.6h0M105.4 661.2h0M112.6 664.5h0M106.6 666.9h0M94.2 664h0M97.3 667.8h0M106.5 670.4h0M103.9 659h0M95.4 659.3h0M110.7 672.4h0M108.1 661.3h0M105 659.4h0M100 667.5h0M113.6 668.4h0M105.4 669.8h0M113.9 673.7h0M96.6 663.4h0M108.1 668.8h0M93.9 659.2h0M108.4 657.8h0M101.8 668.7h0M101.5 665.3h0M96.7 660.7h0M92.9 661.7h0M99 660.2h0M96.5 660.7h0M112.2 672.9h0M91.5 661.8h0M110.6 672.9h0M102.6 659.4h0M108.6 656.6h0M107.2 661.7h0M108 661.7h0M110.7 667.6h0M113.3 668.3h0M102.7 668.7h0M111.8 661.6h0M107.8 669.6h0M109.1 671.1h0M105.2 665.5h0M112.3 667.6h0M102.8 666.4h0M108.2 664.5h0M103.7 670.7h0M110.9 672.4h0M105.5 665.4h0M104.7 660.1h0M110 664.9h0M115.4 675.2h0M91.8 661.2h0M108.7 662.8h0M93.6 665.8h0M111.4 672h0M108.4 666.7h0M89.6 662.1h0M97.5 668.3h0M103.3 656.4h0M99.3 664.7h0M109 668.2h0M102.6 660.9h0M105.8 667.2h0M96.2 658.6h0M107.2 670.7h0M102.4 665.7h0M103.9 657.5h0M100.3 660.9h0M119.1 675.6h0M119.3 676.4h0M97.6 668.5h0M87.5 661.3h0M114 675.2h0M96.1 666h0M108.6 653.6h0M96.3 659.6h0M90 660.7h0M116.4 673.4h0M101.5 657h0M117.7 676.5h0M98.4 667.9h0M119.7 676.7h0M87.6 660.3h0M114.1 675.4h0M113.8 672.3h0M90 662.7h0M114.8 670.8h0M113.4 664.7h0M94.6 658.3h0M112 668h0M101.3 669.8h0M95.4 666.7h0M90.8 661h0M103.8 669.4h0M120.7 676.4h0M91.2 660.8h0M96.1 668.1h0M108.1 673h0"/><path id="q7" d="M87.2 660.7 101 656.5 108 653.7 112.1 662 114.9 673.1 120.4 677.3 109.3 673.1 95.5 667.6Z"/><path id="p8" d="M130.6 606.6h0M130.7 608.5h0M132.5 615.1h0M138.4 608.1h0M137.4 609.1h0M131.7 604.6h0M134.3 607.4h0M133.8 614.1h0M134.5 614.8h0M137.8 606.7h0M135.5 614.4h0M136.4 605.2h0M130.3 611.9h0M135.3 612.2h0M132.9 611.1h0M132.5 616.3h0M127.3 610.4h0M132.8 611.7h0M136.8 613.8h0M126.8 609.3h0M137 605.5h0M129.9 615.8h0M130.6 616.8h0M130.8 606.7h0M131.3 614h0M127.5 609.8h0M134.1 614h0M135.2 611.8h0M136.8 605.4h0M127.8 610.9h0M131.8 606.4h0M135.9 607.9h0M138.1 611.5h0M129.7 616h0M128.6 609.8h0M136.7 614.4h0M129.1 612.6h0M132.4 612h0M132.2 605.5h0M135 615.4h0M129 615.4h0M136.1 611.6h0M128.6 604.9h0M137.2 615.4h0M134.6 605.9h0M131.4 606h0M129.8 608.8h0M136 607.1h0M133.5 615.7h0M133.4 605.8h0M130.9 613.8h0M131.6 604.5h0M128.2 608.2h0M127.4 611.7h0M129.8 611.9h0M137.2 615h0M127.7 609.7h0M138 614.8h0M133 612.1h0M127.6 611h0M138.4 612.3h0M129 613.9h0M127.3 609.9h0M134 610.2h0M129.4 605.4h0M129.5 613.5h0M136.9 611.1h0M129.3 613.3h0M137.5 606.9h0M130 612.1h0M139.6 611.9h0M138.9 615.6h0M133.3 601.2h0M139.1 610h0M124.3 608.9h0M131.1 604.6h0M137.9 614.8h0M138 610.1h0M135.1 602h0M130.5 615.4h0M133.9 603.7h0M126.8 614.5h0M128 613.4h0M131.2 604.3h0M126.9 616.5h0"/><path id="q8" d="M127 605 134 603 139 607 138 616 130 617 126.5 612Z"/><path id="p9" d="M157.3 626.4h0M163.7 628.4h0M165.6 622.5h0M164.5 629.7h0M160.7 633.9h0M162 620.9h0M167.8 632.1h0M168.9 622.4h0M168 628.5h0M163.5 628.8h0M164.7 625.1h0M162.2 625.1h0M160.5 629.4h0M163.2 627.2h0M170.9 620h0M165.1 631.2h0M157.5 625.5h0M168.7 626.4h0M164.6 620.5h0M161.7 621.7h0M160.6 628.9h0M164.9 624.6h0M163 632.9h0M156.9 627.7h0M165 623.6h0M159.9 625.5h0M169 629.8h0M159.6 631.3h0M157.6 630.3h0M162.9 628.8h0M162.9 633.5h0M167.4 624h0M162.4 631.7h0M159.9 625.6h0M167.4 624.6h0M158 630.7h0M168.2 624.8h0M171.6 620.8h0M164 625.1h0M164.9 633.1h0M163.9 620.3h0M163.1 633.3h0M171.4 620.6h0M163.5 633.8h0M156.8 627.8h0M168.7 631.7h0M164.5 633.9h0M170.9 620.8h0M168.7 631.2h0M161.4 622.9h0M166 626.6h0M166.7 631.5h0M166 631.4h0M162 631.1h0M167.3 620.7h0M167.1 632.2h0M158.5 630.1h0M170.4 629.8h0M170.9 627.3h0M170.2 630h0M171.7 621.7h0M170.1 628h0M168.9 618.5h0M165.4 629.1h0M162.2 621.8h0M163.4 625.7h0M162 628.7h0M163.7 624.4h0M166.2 627h0M163.9 620.3h0M170.1 629.4h0M163 624h0M169.4 630.5h0M160.9 632.5h0M159.5 633.9h0M167.7 628.2h0M171.3 621.4h0M171.2 630.1h0M163.1 631.2h0M168.4 630.2h0M160.7 623.7h0M169.7 622.2h0M158.2 630.9h0M158.5 633h0M167.8 619h0M168.9 626.3h0M171.9 627.3h0M163.7 630.7h0M164.6 633.8h0M162.6 627.4h0M165.4 626.8h0M169.6 630.2h0M158.5 626.3h0M168.9 618.9h0M158 629.1h0M162.4 623.8h0M171.2 626.7h0M164.5 633.3h0M160.8 621.3h0M172.5 623.6h0M165.4 622.2h0M167.4 630.7h0M166.7 627.9h0M167.5 630h0M165.6 619.5h0M165.6 621.9h0M170.5 621.5h0M170.4 624.1h0M163.9 627h0M157.3 627.1h0M164.3 625.8h0M162.2 621.9h0M164.4 633.4h0M164.8 621.3h0M158.2 629.2h0M161.1 627.9h0M169 626.6h0M158.8 632.6h0M163.4 621.9h0M164.3 625.3h0M166.1 618.6h0M170.3 621h0M170.6 625.2h0M159.6 627.9h0M168 629.5h0M162.2 630.3h0M169.7 620h0M161.5 632.6h0M163.6 633.6h0M167.7 619.8h0M155.6 628.8h0M156.6 625.3h0M161.6 635h0M160.7 635.1h0M158.7 634.6h0M166.3 618.5h0M164.1 633.9h0M157.8 633.9h0M161.4 634.4h0M158.1 623h0M164.5 632.7h0M171.4 629.2h0M155 630.8h0M160.7 633.1h0M174.1 621.9h0M172.6 621.9h0M158.3 623.3h0M166.4 618.1h0M160.6 621.6h0M158.1 626.7h0M174 622.1h0M172.2 621.4h0M170.7 619.4h0M156.1 627.8h0M162.1 620h0"/><path id="q9" d="M163 619 170 618 173.5 622 172 630 165 634 158 634 156 628 159 622Z"/><path id="p10" d="M156.7 649.6h0M165.2 659.8h0M156 646.9h0M159.8 654.2h0M159.7 653.6h0M159.2 651.1h0M158.3 653.6h0M159.6 652.3h0M155.9 647.8h0M165.3 660.5h0M159.1 654.8h0M164.2 661.1h0M162 660.4h0M159.8 651.9h0M155.2 649.3h0M163.6 657.5h0M162.5 662h0M165.2 656.8h0M158.1 646.7h0M156.5 651.1h0M158.7 651.2h0M164.8 658.7h0M157.9 650.6h0M155.1 647.7h0M164.3 661.8h0M157.4 653.2h0M156.9 649.6h0M165 659h0M155.3 647.7h0M159.5 655.9h0M164 655.4h0M157.5 652.7h0M159.1 651.4h0M163.1 655.8h0M165.3 662.1h0M162.7 660.7h0M158 654.3h0M155.7 645.7h0M165.6 661.8h0M161.9 654.1h0M164.4 658.2h0M157 648.5h0M156.9 646.2h0M165.1 657h0M158.1 652.6h0M162.2 651.6h0M155.2 647.7h0M161 650.6h0M157 651.1h0M162.6 660.7h0M166.1 657.8h0M165.9 661.3h0M163.2 652.7h0M160.1 646.9h0M162.9 653.8h0M159.3 658.2h0M157.1 652.3h0M164.8 661.2h0M162.5 664h0M167.2 660h0M163.6 655.4h0M157.6 652.5h0"/><path id="q10" d="M154 646 158 645 166 657 165.5 663 162 662 156 652Z"/><path id="p11" d="M153.8 657.9h0M152.5 654.8h0M152 653.4h0M152.7 657.3h0M152.4 654.3h0M153.2 659.2h0M152.7 658.2h0M150.8 654.1h0M153.5 659.5h0M151.3 655.1h0M150.1 658.6h0M152.5 657.5h0M152.4 656.6h0M151.5 657.7h0M150.2 658.4h0M153.6 658.2h0M153.8 659.3h0M152.7 658.6h0M152.7 656.6h0M152.8 655.4h0M150.7 653.5h0M151.4 655.8h0M153.1 656h0M153.3 653.3h0M153.5 659.4h0M150.1 656.6h0M151.3 660.5h0M152.9 652.5h0M151.1 659.1h0M153.2 654.3h0M149.5 657h0"/><path id="q11" d="M150.5 652.5 153.5 652.5 154 659.5 150 660Z"/><path id="p12" d="M150.5 669.8h0M153 670.5h0M152.5 671.8h0M154.1 675.5h0M152.5 667.6h0M153.1 675.5h0M153.4 670.6h0M150.9 668.6h0M153.6 666h0M153.4 670.4h0M151.4 666h0M152.6 673.7h0M152.4 664.9h0M150.4 673.8h0M153.9 675.4h0M153.1 674.1h0M151.5 671.4h0M150 673.8h0M151.3 675.5h0M152 662.1h0M151.9 666.7h0M153.8 668.6h0M153.2 670.9h0M152.4 676.2h0M150.8 674.2h0M153.4 673.8h0M152.2 673.1h0M151.2 675.9h0M153 666.3h0M152.5 674.3h0M153.3 669.8h0M151.8 670.2h0M153.5 665h0M152.5 668.8h0M151.5 666.4h0M151.1 669.8h0M152.4 666.5h0M153.5 664.8h0M151.8 675.7h0M153.6 666.5h0M154.2 670.9h0M150.7 669h0M151.2 665.2h0M152.4 669.6h0M151.9 674.7h0M151.4 663h0M153.6 666.9h0M150.5 676.3h0M154.8 673h0M153.8 667h0M153.8 673.2h0M153.9 666.1h0M154.6 672.7h0"/><path id="q12" d="M151.5 662 153.5 662 154.2 670 155 676 149.5 676.5 150.5 670Z"/><path id="p13" d="M208.9 649.2h0M203 667.5h0M211.1 645.5h0M204.5 663.5h0M209 644h0M209.4 646.3h0M202.3 665.5h0M210.2 650.4h0M211.1 660.8h0M200.3 663.8h0M206.8 666.2h0M208.5 658.9h0M209.6 647.8h0M205.7 665.6h0M208.4 653.4h0M202.1 662.3h0M211.5 656.8h0M211.4 655.3h0M209.8 656.8h0M209.7 648.9h0M211.6 647.6h0M209.2 658.8h0M202.6 662.1h0M204.4 664.1h0M210.7 645.7h0M205.9 664.2h0M208.3 652h0M208.4 653.4h0M208.5 652.9h0M210.2 662h0M211.7 651.1h0M205.1 663.3h0M204.1 660.3h0M209.9 659.3h0M208.2 652.8h0M204 663.9h0M210.2 665.3h0M207.7 656.3h0M211.9 647.4h0M205.8 664.8h0M209.4 656.2h0M209.7 657.3h0M210.3 655.4h0M208.2 664.5h0M209.1 666.6h0M209.5 648.2h0M210.3 664.8h0M211.1 658.7h0M209.6 643h0M210.9 658.7h0M211.6 649.7h0M208.7 651.1h0M205.4 664.6h0M205.2 662.7h0M206 667.8h0M208.7 646.9h0M209.9 654.7h0M209.8 648.9h0M210.8 665.2h0M208.8 644.2h0M208.8 656.6h0M200.5 664.1h0M210.9 656.5h0M209 644.6h0M207.4 655.3h0M212.5 657.6h0M201.5 665.7h0M210.6 662.6h0M208.1 666h0M205.3 665.5h0M207.5 665.8h0M204 667.5h0M205.6 663h0M202.8 663.6h0M206.1 664.2h0M212.2 648.3h0M206.7 663.2h0M207.3 666.2h0M209.1 642h0M208.3 664.5h0M201.3 665.9h0M204 666.9h0M200.9 665.6h0M210.5 654.5h0M209.7 661.4h0M205.4 662.2h0M209.1 653.5h0M210 654.5h0M212.4 653.9h0M200.2 661.9h0M205.8 660h0M208.5 654.2h0M212 660.8h0M208.8 655.2h0M211.7 660.4h0M201.2 666.2h0M211.2 653.4h0M210.8 652.9h0M209.2 657.1h0M209 643.6h0M205.5 659.9h0M210.7 653.4h0M211.9 657.7h0M209.7 643.8h0M209.1 642.1h0M208.5 662.6h0M203.5 663.9h0M210.9 645.9h0M206.4 664.9h0M201.2 666.8h0M210.3 647.1h0M209.2 653.2h0M208.5 646.4h0M211.1 651.1h0M201.6 666.8h0M209.6 656.8h0M206 664.7h0M202 666.1h0M212.7 653.9h0M209.1 665.2h0M204.6 665.7h0M205.9 663.3h0M212.9 656.1h0M211.5 646.8h0M208.5 657.3h0M208.4 655h0M204.4 660.2h0M207.5 664.3h0M209.6 651.9h0M204.1 665.4h0M206.7 657.8h0M206.7 668.1h0M210.6 660.5h0M205.4 663.7h0M202.7 665.9h0M207.8 655.5h0M212.2 663.7h0M212.4 658.3h0M208.6 648.7h0M209.6 655.1h0M209 661.5h0M210.7 655.8h0M202.5 666.7h0M205.9 667.9h0M211.4 648h0M202.4 664.9h0M209.1 651.4h0M205.1 668.1h0M211.4 650h0M201.2 667h0M213 658.7h0M211.8 656.9h0M210.7 666.7h0M207.7 650.4h0M212 646.4h0M208.2 651.3h0M212 663.1h0M207.2 659.6h0M212 664.6h0M211.3 663.2h0M207 650.5h0M203.8 659.8h0M211 643.6h0M212.1 654.9h0M203.6 668.2h0M208.5 668.8h0M199.9 661.2h0M210.8 649h0M209.1 643.9h0M201.2 667.5h0"/><path id="q13" d="M209.2 641.2 212 645.4 213.4 662 209.2 669 200.9 667.6 199.5 662 206.4 659.3 207.8 651Z"/><path id="p14" d="M184.7 697.5h0M162.1 713.5h0M180.4 690.9h0M162.7 720.8h0M166.4 714.6h0M172.8 710h0M178 731h0M162 706.3h0M172.1 714.8h0M163.6 703.3h0M172.3 696.8h0M174.6 695.8h0M191.3 686.6h0M182.1 690.5h0M161.1 727.5h0M162.9 729.2h0M158 708.4h0M175.2 721.8h0M176.9 696.9h0M183.7 720.4h0M161.7 704.4h0M174.2 732.7h0M184.4 710.2h0M180.5 730.1h0M191.5 694.6h0M166.1 705.8h0M157.9 715.8h0M158.5 712.7h0M176.4 692.2h0M178.8 715.4h0M164.3 705.7h0M184.2 716h0M182.6 694.1h0M185.5 715.8h0M167 716.7h0M163.9 708.1h0M177 688.8h0M168.4 709.5h0M171.1 714.1h0M184.2 709.1h0M158.4 718h0M184.4 684.8h0M186.8 724.6h0M155.7 711.4h0M174.2 697h0M186.4 720.7h0M188.9 684.4h0M188.5 689.4h0M169.7 719.8h0M178.3 727.2h0M162.9 721.5h0M187.3 716.2h0M181.7 723.5h0M161.5 713.5h0M157.2 709.8h0M158.8 713.1h0M181.8 713.9h0M181.8 720.5h0M155.2 725.2h0M173 715.3h0M157.8 705h0M174.2 734.4h0M168 722.5h0M177.3 729.6h0M155.7 708.9h0M176.3 690.9h0M190.7 685.6h0M185 729.9h0M177.4 721.8h0M173.3 719.9h0M159 701.1h0M174.1 699.6h0M175.4 737.3h0M168.9 723.6h0M168.7 709.8h0M175.4 716h0M160.5 713.4h0M177 689.6h0M151.6 714.7h0M171.8 699.7h0M167.9 714.7h0M171.8 708.6h0M161.7 704.5h0M179.8 708.3h0M171.7 723.9h0M173.3 695.3h0M179 706.8h0M189.7 701.2h0M178 702.1h0M188.7 688.9h0M186.5 684.8h0M176.9 728.2h0M167.9 730.4h0M188.5 695.1h0M161.8 702.7h0M186.6 716.3h0M179.6 719.9h0M187.4 720.4h0M172.4 711.9h0M171.4 712.7h0M190.9 689.4h0M179.4 695.9h0M151.7 713.7h0M163.7 717.7h0M176.7 708.7h0M164 721h0M181.2 717.5h0M166.5 728.8h0M179.9 702.9h0M188.6 694.5h0M159.1 711.4h0M189.9 704h0M172.2 713.7h0M154.9 705.5h0M168.9 718.4h0M160.1 727.1h0M160.3 710.5h0M172.8 737h0M178 693.3h0M183.1 702.3h0M173.1 718.4h0M180.3 716.3h0M182.8 734.1h0M186.7 704.2h0M182.9 707.7h0M175.8 694.5h0M182.3 701.3h0M176.4 728.3h0M154.5 723h0M172.2 695.8h0M177.1 734.9h0M164.3 713.7h0M174.5 735.3h0M160.1 703.2h0M192 690.4h0M188.4 690.8h0M168.2 714.4h0M170.4 713.7h0M194.2 684.9h0M168.2 729.3h0M181.2 714h0M171.8 731.3h0M168.8 714.3h0M180.1 732.4h0M156.5 725h0M175.1 693.8h0M184.5 700.5h0M187.5 706.3h0M157.9 728.3h0M162.7 701.2h0M159.3 729h0M191.8 694.6h0M153.5 704.7h0M187.2 708.8h0M169.2 728.4h0M160.9 703.1h0M153.5 721.2h0M154.5 713.6h0M181.4 704.1h0M158.1 709.2h0M175.3 706.2h0M165.5 703.2h0M164.6 702.2h0M161.9 726.7h0M190.6 693h0M181.7 734.6h0M185.2 701h0M175.2 732.1h0M166.4 727.7h0M156.5 710.1h0M162 706.5h0M160.4 710.9h0M174.4 693.5h0M186.5 708.6h0M178.8 724.9h0M168 724.7h0M156.6 725.3h0M153.6 716.4h0M170.3 701.7h0M161.1 715.9h0M180.6 726.2h0M166.3 722.8h0M179 713.9h0M186.9 688.5h0M168.6 720.5h0M182.4 693.5h0M157.2 722h0M166.5 727.4h0M159.1 722.6h0M188 696h0M180.7 698.8h0M178.6 695.7h0M181.4 693h0M188.5 697.5h0M177.8 698.2h0M154.4 708.6h0M161.1 727h0M158 712h0M189.8 687.8h0M174.7 732.1h0M181.9 717.7h0M178.4 703.3h0M171.9 710.5h0M188.6 696.9h0M166 722h0M160.6 722.7h0M184.7 726.3h0M187.9 719.2h0M175.5 707.1h0M154.6 726.7h0M164.7 703.7h0M155.5 712.9h0M153.9 712.5h0M153.3 717h0M154.7 714.3h0M175.3 731.4h0M189.1 699.3h0M159.5 719.1h0M172.5 719.4h0M170.7 735.5h0M177.3 695.6h0M154.3 716h0M158.8 707.8h0M161.9 719.6h0M159.3 702.6h0M156.3 726.7h0M185.1 708.4h0M160.3 713.7h0M174.6 728.4h0M182.8 687.9h0M179.3 688.2h0M161.7 709.4h0M191.5 696.8h0M194.5 681.3h0M151 715.3h0M186.4 708.9h0M187.1 692.9h0M176.5 731.1h0M181.6 724.4h0M163.9 715.6h0M192.7 685h0M183.5 697.4h0M189.4 695.3h0M164.5 723.2h0M168.5 705.7h0M156.2 718.1h0M176.9 732.8h0M177.3 722.7h0M152.7 720.3h0M183.2 730.7h0M154.8 712.7h0M168.7 697.4h0M160.9 722.5h0M159.2 711.5h0M179.5 725.3h0M168.1 715h0M162.9 710.5h0M177.3 723.8h0M181.7 692.6h0M174.6 711.8h0M157.6 714.4h0M188.4 709h0M180.8 713.7h0M166.6 710.3h0M174.9 720.8h0M184.3 693.3h0M187.1 702.3h0M185.4 703.4h0M174.1 707.1h0M183.5 707h0M178.9 709.6h0M177.5 723.6h0M189.5 688.3h0M160.3 709.2h0M175.1 698.2h0M166.3 698.4h0M177.9 734.5h0M156.9 725h0M163.9 705.6h0M178.3 703h0M180.3 689.6h0M179.5 726h0M187 714.5h0M176.7 733.4h0M168.8 736h0M185.9 706h0M180.6 689.7h0M178.8 698.7h0M176 691.8h0M159.2 724.4h0M165.3 717.3h0M175 694.9h0M154.5 703.7h0M173 691.5h0M153 714.8h0M180.4 706.5h0M183 726.9h0M181.5 733.7h0M185.3 709h0M160.9 718.3h0M182.7 724.9h0M160.3 709.3h0M157.9 701.7h0M158.4 701.5h0M159.5 707.9h0M190.5 687.4h0M177.5 710.5h0M173.3 708.1h0M183.3 708h0M183.9 712.8h0M191.8 684.6h0M180.7 721.7h0M184.4 720.1h0M164 727.9h0M167.1 718.6h0M182 730.6h0M158.1 722.3h0M188.6 702.6h0M176.8 698.5h0M171.3 692.5h0M185.6 715.5h0M183 724.8h0M171 715.8h0M171.7 693.4h0M155.8 714.8h0M174.6 715.7h0M177.3 719.8h0M172.3 708h0M173.3 729.7h0M182.9 721.7h0M163.1 712h0M167.3 730.8h0M154.1 721.9h0M170.7 694.4h0M168.9 733.7h0M158.7 718h0M173.5 693h0M171.1 724.2h0M182.9 725.1h0M178 716.9h0M170.7 722.8h0M151.8 710.1h0M179.4 723.6h0M175.5 712.9h0M190.3 684h0M157.9 702.1h0M169.2 709.1h0M162.7 729.6h0M185.3 704.7h0M185.3 686.4h0M162.2 714.3h0M181.5 723.1h0M186.4 719.7h0M152 708.3h0M172.3 727.3h0M166.9 698.9h0M158.6 723.6h0M187.8 710.7h0M175.5 700.2h0M174.8 690.5h0M162.5 730.5h0M187 719.8h0M177.7 718.7h0M176.7 733.7h0M177.6 688.4h0M167.2 705.5h0M186.3 712h0M174.5 736.8h0M164.6 716.9h0M165.5 718.5h0M171.3 704.9h0M158.5 725h0M156.6 704.3h0M170.7 709.6h0M160.4 704.2h0M178.4 699h0M182.6 720.2h0M178.6 726.4h0M169 730.6h0M159.1 716.1h0M167.2 726.4h0M178.7 687.7h0M157.3 714.2h0M169.1 713.2h0M172.2 711.3h0M164.7 710.9h0M173.9 732.7h0M172.5 693.2h0M155.4 722.2h0M171.3 710.1h0M179.1 692.4h0M182 720.7h0M182.7 732h0M165.2 724.3h0M182.9 691.9h0M174.3 732.5h0M168.7 716.1h0M171.2 708.2h0M154.1 710.8h0M187.3 684.2h0M154.6 705.1h0M184.9 702.7h0M158.2 714.7h0M184.9 710.7h0M181.9 731.4h0M186.2 720.1h0M179.6 704h0M178.6 703.8h0M183.7 687.8h0M174.1 701h0M180.6 717.3h0M181.3 713.8h0M178.8 703.9h0M161.8 702.8h0M185.6 721.6h0M186.9 713.9h0M187 701.7h0M174 711.9h0M163 703.6h0M187 708.6h0M175.8 728h0M188.3 708.8h0M182.6 730.9h0M180.2 697.5h0M178.3 696.8h0M188.7 711.8h0M178.7 705.9h0M185.8 718.5h0M163.9 729.1h0M167 696.8h0M168.2 699.6h0M184 694.6h0M153.9 725h0M153.7 706.8h0M184.2 715.6h0M188.4 707.6h0M158 722.5h0M165.8 732.7h0M187.6 697.2h0M171.7 724.7h0M179.5 688.5h0M169.1 730.2h0M170.7 706.3h0M171.3 733.2h0M177 717.6h0M193.3 682.1h0M168.8 712.2h0M174.8 703.6h0M188 698.5h0M161.4 718.6h0M177.5 733.3h0M174.9 736.6h0M176.3 690.9h0M178.5 698h0M163.1 727.3h0M185.4 727.4h0M180.8 723.5h0M165.3 707.8h0M177.4 717.3h0M165.4 726h0M184 696.5h0M188.9 695.8h0M171.8 738.1h0M170.3 705.8h0M165.4 718.3h0M185.1 714.6h0M170.8 727.1h0M166.7 726.1h0M182.6 733.5h0M171.8 695.1h0M179.7 699.5h0M183.1 710.7h0M164 711h0M170.9 737.2h0M172.3 693.6h0M171.7 716.4h0M166.7 734.2h0M186.3 703.5h0M188.3 717.5h0M167 729.1h0M153.6 710.6h0M173.3 712.6h0M185.2 716.2h0M182.8 725.9h0M187.8 685.2h0M187.2 713.7h0M158.5 705.9h0M192.3 693.5h0M182 686.5h0M166.3 729.9h0M176.6 713.1h0M155.9 710h0M172.3 718.1h0M181.6 702.6h0M165.7 726.4h0M157.7 704.7h0M175.8 689.6h0M186.8 711.8h0M180.9 719h0M165.1 705.5h0M162.2 711.8h0M175.2 717.3h0M180.9 704.4h0M185 723.2h0M176.1 712.3h0M160.1 729.8h0M171.9 698.8h0M188.4 687.4h0M177.8 716.8h0M165.3 722.9h0M177.4 719.7h0M176.5 691.2h0M169.4 725.8h0M160.7 707.3h0M189.6 695.3h0M186.2 685.7h0M171.1 699.3h0M158.1 709.4h0M185.6 686.1h0M165.4 710.1h0M181.5 727.7h0M159.9 728.7h0M180.4 715.1h0M177.8 724.4h0M165.7 717.7h0M161.3 725.5h0M189.7 699.4h0M169.5 715.8h0M153.5 706.2h0M168.4 725.3h0M153.1 721.8h0M183.7 706.1h0M165.9 729.6h0M180.3 734.7h0M172 709.7h0M175.1 694.4h0M174.1 706.1h0M171.3 718.9h0M181.1 693.5h0M181.7 700.8h0M157.5 715.9h0M169.4 734.5h0M157.7 711.7h0M184.4 685.5h0M192.9 685.7h0M189.2 692.4h0M178.8 716.6h0M183.4 691.6h0M157.3 708.3h0M159.9 719.5h0M182.7 699.6h0M161.2 715.4h0M173 733.7h0M188 707.1h0M173.6 733.3h0M156.8 709.2h0M184.3 719.6h0M157.5 721.6h0M154.5 721.6h0M160.7 706.9h0M172.9 722.9h0M157.2 704.9h0M160.6 710.4h0M178.5 733.5h0M178.5 723.5h0M189.1 711.7h0M182.5 734h0M184.9 706.5h0M174.4 696.5h0M172.4 726.3h0M182 730.2h0M170.6 735.2h0M180.5 723.9h0M186.2 718.4h0M186.3 705.1h0M164.3 711.9h0M183 692.9h0M187.6 708.3h0M179.8 700.3h0M184.8 691.7h0M179.7 712.4h0M168.2 708.6h0M179.6 694.3h0M169.4 713.7h0M177 712.6h0M159.3 723.6h0M175.4 723h0M177.9 710.8h0M168.5 724.6h0M184.4 686.4h0M157.2 721.7h0M171.2 713.2h0M189.4 707.8h0M184.7 719.7h0M166.2 734.1h0M185.1 687.7h0M170.3 726.6h0M185.2 717.1h0M188.9 695.6h0M181.4 688.1h0M186.3 724.5h0M153.3 721.2h0M174.3 695.1h0M164.5 717h0M181.8 720.6h0M184.2 704.6h0M181 711.2h0M177.3 696.8h0M180.1 719h0M181.7 726.2h0M172.6 733h0M181.3 696.1h0M162.8 725.8h0M170.1 732.9h0M167.7 716h0M168.8 721h0M169 727.4h0M188.7 688.6h0M156.3 723.6h0M170.2 702.9h0M187.4 720h0M185.8 694.7h0M181.5 728.4h0M157.1 722.2h0M156.3 722.5h0M177.1 723.9h0M188.6 705.1h0M173.8 708.2h0M165.9 716.1h0M165.2 702.3h0M165.4 717.7h0M188.9 710.1h0M174.9 711.6h0M174.4 729.9h0M160.1 715.3h0M178 695.8h0M172.7 694.1h0M190.6 702.1h0M174.6 702.1h0M174.4 732.9h0M181.5 721.5h0M160.2 713.7h0M175.6 729.8h0M163.3 704h0M182.1 703.9h0M181.1 699.1h0M176.2 709.7h0M182.3 699.6h0M172.2 707.7h0M185.1 685.9h0M174.8 735.8h0M154.9 726.4h0M171.6 703.7h0M185.6 702h0M175.8 689.9h0M178 721.5h0M165.2 716.9h0M180.8 702.7h0M165.8 729.5h0M181.7 686.8h0M181.9 714.4h0M183.9 692h0M183.1 726h0M185.5 728.3h0M176.5 734h0M164.6 706.9h0M185 704.5h0M181.6 720.7h0M174.8 729h0M168.6 730.1h0M169.1 701.1h0M166 723.7h0M186 714.5h0M174.2 698.1h0M163.2 702.9h0M184.3 713.2h0M180.8 692.4h0M180 702.2h0M165.4 705.8h0M167 696.9h0M176.2 732.8h0M154.8 722h0M178.9 691h0M157.6 722.1h0M181.2 691.6h0M183.9 707.8h0M172.9 733.1h0M188.8 684.4h0M177.6 710.2h0M163.8 720.3h0M176.2 735.5h0M183 720.4h0M166.5 706.3h0M167.6 727.3h0M169.4 714.4h0M158.7 712.9h0M170.4 720.4h0M176.2 721.6h0M172.7 718.8h0M185.5 728h0M188.3 686h0M170.8 713.6h0M173.8 691.6h0M160.5 721.9h0M181.3 714.8h0M156.7 721.5h0M184.8 723.9h0M165.3 701.5h0M162.7 710.7h0M194.2 684.5h0M167.3 704.3h0M183.6 707.2h0M157.6 713.3h0M182.7 733.4h0M158.6 703.9h0M185.5 697.9h0M165.6 733.2h0M187.1 716.2h0M167.1 727.4h0M174.8 735h0M178.9 715.8h0M158.5 703.1h0M166.1 731.2h0M154.7 719.7h0M163.1 730.8h0M163.1 715.3h0M179.7 725.5h0M172.4 717.8h0M186.6 692.6h0M180.5 709.7h0M170.4 728h0M177.8 707.1h0M159.9 705.3h0M171.3 728.2h0M177 699.6h0M152.5 708.8h0M160.3 706.2h0M178 697.9h0M171.1 709.1h0M184.7 711.8h0M166.8 704.7h0M185.5 702.7h0M184.1 707.9h0M185.9 720.7h0M172.3 699.6h0M181.6 690.8h0M165.2 729.7h0M181.7 715.9h0M185.5 715h0M172.4 718.2h0M161 714h0M186.9 723.5h0M174.8 712.4h0M182.6 731.9h0M153.4 723h0M179.6 724.2h0M160.4 727.4h0M160.5 712.9h0M173.4 692.7h0M174.2 695.6h0M187.4 693.2h0M154.3 713.8h0M176.2 703.1h0M182.9 707.5h0M173.9 691.6h0M171.5 695.2h0M183.2 693h0M169.7 700.3h0M170.4 694.4h0M151.4 706.8h0M176.4 702.9h0M165.8 718.5h0M156.6 714.8h0M190 696.1h0M191.2 682.5h0M152.7 706.8h0M162.2 708.9h0M187.2 702.9h0M163.9 714.4h0M165.3 715.4h0M163.7 700.1h0M171.9 701h0M184.6 721.5h0M162.5 732h0M168.3 717.8h0M189.9 683.8h0M158.6 717.8h0M177.5 726.4h0M159.4 709.7h0M167.6 703.2h0M169.1 735.5h0M184.2 704h0M182.5 697h0M182.5 734.7h0M192.2 691.9h0M171.6 705.5h0M184.8 701.5h0M178 737.1h0M156 727.6h0M184.4 728.3h0M175.8 702.9h0M163.4 731h0M182.6 734.3h0M151.3 704.3h0M155.6 714.2h0M187.5 702.8h0M182.4 700.9h0M187 700.5h0M156.5 703.4h0M181.1 699.1h0M176 728.7h0M161.2 710.2h0M169 711.3h0M191.9 688.3h0M193 690.2h0M176.2 700h0M191.4 685.1h0M180.5 717.8h0M188.2 702.1h0M179.5 724h0M179.3 701.4h0M182.1 733.1h0M168.7 718.9h0M191.3 698.9h0M171.5 699.8h0M183.3 726.9h0M175 693.9h0M188 684h0M181.3 691.1h0M153.5 722h0M191.3 688.8h0M174.7 737.6h0M180.8 694.9h0M167.9 697.4h0M185.7 703.5h0M177.7 703.2h0M172.3 709.7h0M168.8 708h0M177.1 727.7h0M177.2 712.1h0M189.3 708.6h0M182 722.7h0M162.9 716.1h0M177.9 733.7h0M174.4 733.9h0M183.4 692h0M174.7 717.8h0M179.1 694.1h0M158.8 711.9h0M154 704.4h0M178.7 712.3h0M185.6 720.6h0M168.1 717.1h0M187.1 696h0M172.6 734.7h0M161.2 704.7h0M151.4 711.6h0M168.7 713.4h0M184 716h0M172.9 722.1h0M176.5 719.6h0M158.7 702.6h0M167 708.2h0M175.1 724.1h0M178 737.1h0M180.3 727.2h0M166.5 720.3h0M170.2 731.6h0M175.1 719.9h0M162.4 704.2h0M183.4 698.6h0M174.8 704.4h0M164.3 699.2h0M172.3 699.8h0M163.4 707.6h0M175.9 712.8h0M155 721.6h0M166.6 715.3h0M166.1 733.2h0M174.5 694.1h0M186.3 700.6h0M173.3 730.8h0M174.4 710.6h0M160.4 724.7h0M158.1 711.4h0M169.6 724.4h0M154 711.6h0M164.7 729.2h0M174.1 738.1h0M167.4 714.5h0M176.3 723.1h0M172.7 692.4h0M172.2 733.8h0M154.8 708h0M182.5 694.4h0M179.2 734.8h0M185.1 705.7h0M173.6 693.5h0M169.2 728h0M161.6 720.1h0M187 698.8h0M176.4 728.1h0M180.3 688.2h0M176 700.6h0M155 709.7h0M180.1 702.6h0M155.3 704.6h0M188.3 713.9h0M190.6 692.8h0M183.5 687.6h0M175.3 690.7h0M175.3 706.5h0M171.3 720h0M183.1 731.5h0M185.8 702.1h0M167 701.2h0M180.4 707.5h0M182.3 727.4h0M177.1 736.4h0M185 729h0M172.7 699.2h0M170.8 701.4h0M166.9 730.6h0M180 694.7h0M151.1 704.2h0M172.1 703.8h0M189.2 700.8h0M176.1 695.9h0M160.1 704.2h0M184.1 715.5h0M162 720.8h0M173.9 720.3h0M171.3 732.8h0M155.3 720.7h0M184.3 707.9h0M184.8 716.2h0M178.1 698.6h0M169.3 722.9h0M182.6 726.2h0M165 706.4h0M170.6 701.3h0M181.2 696.4h0M151.7 712.8h0M191.7 693.7h0M192.2 685.4h0M168.7 705.3h0M162 723.9h0M167.1 719.8h0M175.9 690.4h0M182.4 709.5h0M153.9 725.8h0M167.1 732.2h0M173.3 732.7h0M168.5 723.5h0M182.8 715.1h0M187.7 714.8h0M186.1 726.4h0M177.9 703h0M173 694.8h0M169.3 733.2h0M191.8 692.8h0M194.1 685.1h0M155.3 717.2h0M157.7 705.1h0M174.7 709.5h0M184.1 721.4h0M153.8 716.7h0M168.4 695.9h0M175.4 734.9h0M180.3 692.9h0M166.6 730.3h0M179.1 710.5h0M165.4 728.4h0M187.1 713.7h0M175.5 701.3h0M166.2 722.2h0M154.6 725.6h0M179.4 730.2h0M184.3 686.8h0M163.7 715h0M183.1 703.7h0M174.1 737.7h0M171.7 715.7h0M179.8 729.8h0M186.9 703.5h0M176.8 712.1h0M164.2 712.7h0M170.3 733.4h0M156.3 723.1h0M167.7 708.9h0M177 691.6h0M163.4 712.9h0M181.7 723.4h0M186.5 709.2h0M183.4 718.3h0M172.1 729.1h0M177.6 691.6h0M174.6 709.1h0M170.2 699.2h0M156.9 711.1h0M182.4 727.3h0M165 724.5h0M187.8 693.6h0M171.8 736.4h0M181.5 722.5h0M193.4 684.8h0M176.9 733.7h0M183.8 714.5h0M181.2 737.1h0M173 711.1h0M154.9 712h0M183.7 690.3h0M161.3 710.4h0M165.7 710.8h0M180.6 710.2h0M155.5 711.2h0M173.4 702.6h0M175.2 704h0M165.8 720.1h0M176.8 709.5h0M167 717.5h0M158.8 717.7h0M176.9 718h0M155.9 722h0M162.9 729.1h0M185.6 694.5h0M153.4 712.9h0M168.8 727.6h0M176.3 729h0M184.2 715.9h0M166.7 704.3h0M184.2 707h0M162 721.9h0M164.2 709.7h0M159.5 707.7h0M181.4 686.7h0M176.9 726.8h0M163.5 717.6h0M187.2 695.4h0M183.5 693.4h0M166.2 725.3h0M159.9 728.5h0M179.1 690.6h0M171.6 726.6h0M182.5 697.6h0M173.9 692.2h0M182.4 712.4h0M171.2 709.5h0M186.4 699.6h0M178.6 723.1h0M165.5 732.2h0M159 723.7h0M182 697.2h0M166.2 712.5h0M190.1 690h0M175.4 712.6h0M183.3 730.2h0M180.2 707.3h0M174.8 722.3h0M172.7 731.9h0M162.6 724.9h0M177.3 720.3h0M189.5 693.6h0M181.2 709.4h0M181 710.2h0M172.9 705.9h0M177.4 698.1h0M173.1 690.4h0M174.2 726.7h0M174.5 703.8h0M179.7 718.2h0M163.7 717h0M171.6 720.8h0M172.1 733.9h0M171.7 696.2h0M155.4 719h0M187 694.1h0M182.9 716h0M162.3 729.7h0M181.1 730.5h0M185.4 700.9h0M183.2 698h0M182.2 720h0M189.3 706.4h0M183.8 712.8h0M183.1 722.2h0M164.4 705.3h0M180.6 727.1h0M188.8 700.6h0M164.8 714.4h0M178.6 689.1h0M166.9 720.4h0M159.7 729.4h0M153.7 714h0M179.3 694.2h0M175 728.5h0M152.9 713.9h0M166.6 726.3h0M182.8 702.6h0M156.1 707.7h0M166 727.7h0M177 722.1h0M192.5 685.6h0M169.4 720.1h0M163.5 716.6h0M178.2 719.8h0M187.1 695.6h0M171.1 724.5h0M184.4 726.1h0M158.6 710.6h0M183.6 711.2h0M152.4 705.8h0M151.7 711.8h0M179.2 707.8h0M189 686.8h0M173.9 705.1h0M166.7 731.8h0M170.3 723.7h0M183.9 716.2h0M153.2 708.4h0M182.5 726.9h0M174.2 709.7h0M166.3 711.8h0M177.9 689.8h0M164.4 711.8h0M189 696.9h0M175 733.9h0M174 709.8h0M159.3 704.5h0M164.8 700h0M164.4 719.8h0M179.6 717.2h0M165.5 714.1h0M177.1 728.6h0M182 700.5h0M170.8 723.9h0M172.2 694.7h0M181.8 718.8h0M187.9 714.2h0M172.7 696.9h0M161.2 709.3h0M177.5 722.9h0M172.3 715h0M164 706.7h0M174.4 699.6h0M166.5 706.3h0M155.1 720.7h0M168.8 721.8h0M168.4 724.1h0M154.3 719.9h0M164 712.7h0M163 731.2h0M158.5 708.9h0M186.7 699.5h0M179.6 709.4h0M173.1 713.8h0M176.6 715.1h0M182.1 708h0M182.1 705.2h0M172.6 719.3h0M178.5 730.6h0M176.7 689.1h0M169.1 706.1h0M176 710h0M172.9 706.4h0M187.4 687.8h0M180.6 724.7h0M176.3 700.9h0M160.4 724.1h0M154.8 719.8h0M176.2 737.2h0M151.3 712.4h0M154.1 703.4h0M179.9 723.9h0M169.1 721.8h0M178.6 727.8h0M184.3 711.2h0M171.4 699.4h0M176.3 724.3h0M177.6 724.5h0M164.2 711.8h0M154.5 712.9h0M180.6 733.4h0M152.9 714.8h0M176.8 733.8h0M181 719.3h0M171.6 703h0M163.1 709.7h0M155.4 720.6h0M175.4 736.6h0M152.1 715.5h0M161.5 729.4h0M176.8 712.7h0M161.7 707.9h0M158.2 722.3h0M192.8 684.5h0M191.4 698.2h0M190.2 682.8h0M182.5 721.8h0M153.8 721.6h0M173.1 729.1h0M159.4 719.2h0M173.6 728.5h0M163.9 731.6h0M180.6 699.6h0M161.5 730.6h0M182.8 697.4h0M192 685.5h0M163.2 702.9h0M177.5 737.5h0M170.5 714.2h0M187.6 718.8h0M173.6 722.9h0M177.1 720.6h0M153.8 717.4h0M170.2 694.1h0M158 708.7h0M174.4 695.5h0M177.7 706h0M174.2 713.6h0M185.3 711.2h0M154.4 706.8h0M188.1 703.8h0M181.4 724.1h0M165.4 698.3h0M179.3 735.3h0M186.3 692.4h0M171.1 736.5h0M187.3 695h0M188.1 691.5h0M177.7 734.9h0M173.2 731.8h0M177.8 735.8h0M158.3 704.8h0M179 721.9h0M159.4 704.3h0M163.3 702.8h0M180.6 705.5h0M154.3 709.5h0M177.7 708.3h0M177.3 719.2h0M173.5 722.6h0M153 714.3h0M171.3 709.8h0M153 720.4h0M175.6 714.8h0M190.5 690.8h0M186 721h0M168.4 727.4h0M177.1 734.5h0M191.2 688.5h0M175.9 709.6h0M166.6 708.4h0M188.5 684.4h0M175 722.6h0M184.4 685.8h0M171.1 715.9h0M159.4 721h0M184.3 716.6h0M184.3 721.4h0M185.1 690.6h0M191.7 695.6h0M180.6 688.9h0M161.6 701.6h0M162.4 709.3h0M156.2 716.4h0M164.2 706.4h0M182.6 727.5h0M188.2 705.7h0M169.8 705.7h0M175.9 722.6h0M176.1 705.5h0M174.5 697.1h0M183.6 702.5h0M188.4 693.6h0M164.2 728.1h0M153.8 713.5h0M166.3 713.5h0M169.4 700.6h0M178.6 735.2h0M159.1 722.6h0M185.5 715.4h0M178.6 699.2h0M151.9 703.6h0M177.1 729h0M165.2 703.7h0M153.6 724h0M159.2 717.5h0M170.8 715.6h0M170 720h0M174 705.2h0M155 720h0M183 720.5h0M188.6 711h0M171.6 723.6h0M174.7 707.6h0M172.8 700.8h0M177 698.6h0M178.7 727.1h0M159.4 708.6h0M166.4 696h0M189.9 716.2h0M192.9 691.9h0M188.2 722.4h0M194.2 690.1h0M152.1 702.8h0M187.1 682.2h0M172.5 737.3h0M189.8 682.7h0M196 680.7h0M152.2 706.2h0M151.8 710.8h0M150.2 713.5h0M167.4 735.8h0M175.9 736.1h0M191.7 695.8h0M171.8 741.1h0M193.2 690.5h0M155.9 729.3h0M171.6 739h0M156 702.4h0M171.5 738.1h0M173 689.9h0M153.1 720.2h0M156.1 726.7h0M158.4 702.3h0M192.5 699.4h0M150.8 704.2h0M190.3 717.2h0M154.6 726.9h0M151.4 720.7h0M174 739.8h0M188.8 682.6h0M193.1 681.7h0M184.4 734.3h0M151.8 714h0M183.8 685h0M173.5 738.5h0M185.5 730.5h0M189.7 714.8h0M189.1 682.7h0M151.5 715h0M156 701.3h0M190.4 706.3h0M170.6 694.9h0M166.1 734.1h0M166.3 732.5h0M189.6 711.2h0M192.2 693.2h0M181.3 684.1h0M183.8 736.7h0M187.8 720.6h0M170.9 692.8h0M188.4 711.2h0M171.4 689.9h0M165.6 733.5h0M166 736.2h0M153.2 703.7h0M154.7 702.7h0M151 712.4h0"/><path id="q14" d="M150.8 704 164.6 699 173 690.4 184.1 684.8 195.2 680.7 192.4 693.1 189.6 709.8 186.8 726.4 181.3 737.5 173 738.9 161.9 732 153.6 726.4 150.8 715.3Z"/><path id="p15" d="M149.2 698.5h0M162.9 695h0M157.5 699.5h0M157.1 693.7h0M146.5 700.7h0M145.3 698.3h0M156.3 699.9h0M154.4 691.6h0M143.3 697.7h0M140.4 720.3h0M145.7 713.3h0M146.2 715.8h0M158.3 700.8h0M145.2 720.1h0M149 692.4h0M154 701.8h0M140.9 700.2h0M144.1 707.9h0M139.7 713.7h0M143.9 706.1h0M153.2 695.9h0M164.1 696.5h0M159.3 699.9h0M142.8 704.4h0M145.8 711.5h0M162.3 698.8h0M140.1 716.4h0M149.4 707.8h0M146.1 715.4h0M148.3 694.1h0M150 706.1h0M142.8 719h0M146.5 707.2h0M140.3 720.3h0M149.5 712.2h0M143.7 708.1h0M150.4 693.7h0M147.7 692.2h0M139.8 718.2h0M150.2 693.1h0M149.4 693.7h0M158.5 695.1h0M152 696.4h0M147.2 710.7h0M150.4 705h0M142.4 711.3h0M160 698.3h0M140.4 720.2h0M145.3 692.3h0M147.7 709.7h0M148.4 691.2h0M144.2 711.5h0M144.6 695h0M138.9 716.2h0M152.5 701.4h0M162.8 695.3h0M157.3 692.4h0M141.2 719.2h0M159.5 697.2h0M146.3 701.2h0M155.7 697.9h0M140.2 707.5h0M159.7 695.8h0M151.4 702.1h0M141.5 695.8h0M151.9 701.5h0M145.2 700.4h0M142.2 699h0M149.8 711.6h0M159.2 696.6h0M156.6 696.3h0M143.1 711.2h0M144.4 700h0M152.1 691.2h0M142.4 701.9h0M151.9 701.4h0M151.1 701h0M145.7 709.9h0M146.6 703.5h0M155.9 694.2h0M151.2 695h0M149 701.5h0M142.3 720.4h0M158.5 695.3h0M148.6 715.5h0M142.1 709.5h0M140.4 704.7h0M140.5 704.9h0M143 717.7h0M141.6 717.7h0M156.5 692.6h0M144.5 702.9h0M140 716.6h0M146.9 716.4h0M140.8 715.3h0M156.6 696.1h0M143.9 700.2h0M142.5 717.5h0M148.6 707.5h0M149.4 695.5h0M142.9 701.7h0M148.4 711.2h0M146.6 712h0M144.3 704.7h0M159.2 692.6h0M163.6 699.3h0M146.5 700.3h0M153.8 695.7h0M160.5 697.1h0M146.2 695.3h0M156 695.4h0M146.1 704h0M164.3 696.1h0M146.6 697.4h0M143.6 693.1h0M150 713.9h0M144.4 717.7h0M152.4 692.6h0M144.1 709.2h0M140.3 698.1h0M145.6 708.2h0M146.5 713.8h0M141.5 710.8h0M140.8 694.6h0M150 695.8h0M140.4 708.9h0M155 702.4h0M160.9 699h0M147.9 714.9h0M147.9 694.1h0M159.3 696.7h0M144.3 712.6h0M146.7 692.3h0M157.1 692.4h0M145.9 717.4h0M155.4 701.7h0M161.5 699.4h0M142.8 702.6h0M144.1 714.3h0M141.1 713.6h0M150.2 715.8h0M145.6 716.7h0M146.1 719.7h0M159 695.8h0M150.6 714.9h0M144.3 694.7h0M151.5 696.8h0M144.7 714.6h0M148.4 715.3h0M141.8 711.2h0M147 700.4h0M158.4 700.3h0M155.5 693.8h0M144.5 705.3h0M142 709.5h0M141 709.2h0M150.7 701.7h0M142 708.2h0M159.1 699.8h0M157.3 697.6h0M151.6 698h0M163.3 696.3h0M145.5 712h0M153.4 696.9h0M141.3 699.2h0M149.1 708.6h0M139 710.8h0M146.4 715.1h0M147.1 704.7h0M153.4 696.4h0M143.5 714.4h0M143.3 695.9h0M154.2 691.8h0M163.4 698.5h0M149.3 700.2h0M159.4 695.7h0M146.1 702.4h0M160.1 698.2h0M147 715.6h0M144.7 702.1h0M144.9 699.7h0M141.6 721.4h0M158.6 695.6h0M161 697.2h0M153.6 691.6h0M149.1 691.5h0M149.9 700.3h0M151.6 694.1h0M140 698h0M142.5 700h0M151.9 701.1h0M148 715.3h0M142.7 697.3h0M147.3 709h0M150.6 708h0M150.1 707.3h0M146.4 693.3h0M143.7 703.1h0M142.7 712h0M148.6 700.6h0M141.6 697.4h0M155.2 692.1h0M153.5 693.9h0M148.3 696.2h0M160.1 693.6h0M141.9 712.1h0M143 717.5h0M147.3 713.2h0M139.4 697.9h0M142 721h0M154.4 701.9h0M141.1 721.9h0M142.3 704.8h0M149.2 711.5h0M158.5 692.6h0M143.7 714.4h0M143.7 714.9h0M154.6 693.6h0M141.3 704.3h0M146.5 714.1h0M149.7 700.7h0M154.3 698.7h0M148 711.4h0M158.3 696h0M150.7 691.2h0M143 710.9h0M160.2 693.8h0M146.6 691.9h0M157.7 696.2h0M151 699.2h0M152.6 700h0M155.6 694.1h0M144.6 692.8h0M143.4 706.9h0M149 710.2h0M150.2 693.9h0M138.9 715.8h0M150 704.7h0M142.8 710h0M140.4 720.6h0M156.2 695.7h0M139 717.6h0M142.5 716.5h0M150 696.1h0M140.4 712.8h0M142.7 708.6h0M142 705.1h0M143.7 698.9h0M149.6 704.5h0M154.4 697.9h0M150.8 694.3h0M160.7 699.4h0M141.6 714.6h0M144.2 699.5h0M145.5 713.4h0M139.1 712.4h0M149.7 693.5h0M148.6 709.7h0M149.8 692.5h0M147.8 712h0M151.2 703.5h0M143.2 722.6h0M164.7 697.5h0M160.2 693.1h0M150.7 710.8h0M160.7 699h0M164.2 698.8h0M139.3 724.1h0M164.3 698.9h0M139.1 694.6h0M137.6 717.3h0M155.3 691.1h0M139.1 709.5h0M138.1 719.3h0M139 722.2h0M150.1 715.3h0M139.3 704.5h0M138.8 708.8h0M158.2 690.6h0M151.7 691.3h0M138.1 700.3h0M155.8 701.6h0M143.7 691.2h0M147 719.2h0M157.4 701.1h0M152.2 704.5h0M144.2 693.5h0M138.6 723.1h0M138.7 701h0M164.2 699h0M138.6 713.7h0M137.7 706.5h0M161.3 694.3h0M141.2 721.6h0M139.6 698.6h0M155.4 690h0M151.2 703.4h0M150.4 714.9h0M163.6 695.6h0M160.7 700.3h0"/><path id="q15" d="M138.3 695.9 148 690.4 159.1 691.8 164.6 695.9 164.6 699 150.8 704 150.8 715.3 145.2 720.9 139.7 722.3 138.3 715.3 139.7 704.2Z"/><path id="p16" d="M161.6 487.4h0M164.7 488.5h0M165.5 488.6h0M161.9 488h0M159.9 490h0M162.7 486.9h0M160.7 489.6h0M163.4 486.8h0M161.5 490.5h0M164.1 486.6h0M165 487h0M165.1 488.4h0M163 486.2h0M166.5 488.3h0M160.1 488.7h0M165.4 488.7h0M165 487.1h0M159.1 490.4h0"/><path id="q16" d="M158 490.6 161 487.5 163.6 486.2 165.8 488.4 164.5 489.7 161 490Z"/><path id="l0" d="M128.7 691.3h0M131.2 694.9h0M120.9 682.1h0M118.9 684.3h0M125.4 687.7h0M121.3 684.6h0M123.3 686.3h0M129 688.2h0M116.4 676.3h0M123.4 682h0M127.3 689.2h0M129.6 688.9h0M118.3 679.4h0M119 677.9h0M116.6 677.1h0M125.5 687.5h0M125.4 686.6h0M116.7 682.1h0M126.1 686.9h0M123 685.2h0M117.9 677.2h0M127.7 691.4h0M121.5 681.9h0M128.4 692.7h0M131.4 696.5h0M131.5 692.8h0M127.8 690.1h0M118.8 680.1h0M115.3 676.9h0M132 693.4h0M129.2 687.7h0M118.3 679.6h0M123.3 684.6h0M117.6 677.6h0M133.2 696.8h0M126.6 688.1h0M121.6 685.3h0M124.4 686h0M116.9 678.5h0M130 691h0M116.1 678.5h0M118.8 681.5h0M131.7 693.1h0M127.1 691h0M117.1 677.2h0M118.4 678.8h0M125.6 689.1h0M129.7 690.9h0M123.3 682h0M124.4 684.8h0M121.4 681.8h0M128.3 690.6h0M120.1 680.6h0M122.9 681.5h0M114.6 678.3h0M120.3 682.6h0M130.3 694.8h0M131.1 695.8h0M134.4 696.1h0M125.2 687.4h0M122.4 684.4h0M133.1 693.1h0M127.5 692.1h0M116.7 679.5h0M128.9 691h0M122.4 684.8h0M121.7 683.5h0M116.3 679.6h0M127 690.3h0M124.2 686.2h0"/><path id="l1" d="M143.6 594.6h0M135.6 603.2h0M143.6 594.8h0M139.9 600.7h0M141.9 598.3h0M132.6 603.9h0M141 599.2h0M144.6 591.3h0M137.4 604.3h0M135.5 603.9h0M142.5 596.6h0M147.1 588.9h0M141 597.8h0M144.4 593.8h0M141.2 599.4h0M135.9 605.8h0M139 598.9h0M132.7 606.4h0M145.7 591h0M140.5 600.8h0M143.6 595.7h0M131.9 607.3h0M147.1 591.5h0M141 596.9h0M145.7 591.5h0M140.8 598.5h0M133.4 604.6h0M146.4 590.8h0M134.2 603.9h0M144.5 591.9h0M142 595.8h0M133.9 607h0M139.5 603.7h0M144.7 592.3h0M145.3 589.5h0M146.1 588.3h0M137.2 603.4h0M143.1 591.5h0M145.5 589.7h0M137.8 601.4h0"/><path id="l2" d="M128.5 632.1h0M131.8 648.7h0M131.7 662.8h0M129.2 622.6h0M129.3 620.5h0M133.8 670.6h0M130.2 646.8h0M130.8 639.1h0M131.1 642.5h0M130.6 647.3h0M129.4 634.5h0M133 653.6h0M134.6 667.1h0M128.4 638.3h0M131.4 644.9h0M128.9 626.8h0M131.4 646.7h0M128.3 621.7h0M128.1 637.1h0M129.7 642.3h0M133.7 654.9h0M131.7 665.2h0M131.3 658.5h0M126.8 626h0M128.3 628.3h0M131.8 651h0M125.4 618.2h0M128.6 623.1h0M127.7 616h0M130.7 649.3h0M128.6 620h0M135.1 669h0M130.2 654h0M129.8 618.4h0M129.3 622.9h0M128.1 620.2h0M127.1 618.7h0M128.4 618.5h0M127.3 624.3h0M130.3 647.6h0M129.5 636.5h0M128.3 629.8h0M132.4 661.3h0M128 618.6h0M135.1 667.7h0M126.9 615.3h0M135.3 667.4h0M130.3 655.1h0M134 661.1h0M131.2 646.1h0M132.1 656.6h0M130.5 639.9h0M133.7 666h0M134.6 668h0M129.3 613.2h0M128.1 615.9h0M128.3 619.2h0M132.6 648.7h0M131.4 657.8h0M130.1 640.4h0M132.1 651.6h0M130.5 620.4h0M128 618.1h0M129 642.5h0M133.1 658.3h0M131 669.4h0M130.5 632.2h0M131.5 648.3h0M133.1 655.3h0M131.8 651.1h0M131.5 654.9h0M132.7 656.9h0M127.9 634.6h0M132.3 654h0M129.6 619.6h0M129.2 641.2h0M133.7 672.3h0M133.5 672.2h0M128.6 641.4h0M134.2 659.4h0M133.5 664.8h0M132.4 665.8h0M133 657.1h0M129 639.4h0M129.7 625.8h0M128.2 637.6h0M131.5 666.9h0M133.3 670.4h0M131 671.8h0M130 626.2h0M130.7 628.4h0M130 613.6h0M127.6 614.8h0M133.7 665.8h0M127.1 616.4h0M129.4 643.1h0M132.2 649.6h0M129.8 645.8h0M131.1 650.2h0M130 666.8h0M129.3 623h0M131.7 659.8h0M129.9 633.9h0M130 652.7h0M131.7 648.8h0M130.6 654.7h0M129.9 649.5h0M129 641.1h0M130.8 666.7h0M127.6 615.5h0M128.9 640.9h0M132.8 656.1h0M131.9 659.7h0M131.5 642.1h0M132.4 650.8h0M133.2 671.9h0M127.3 624h0M127.7 615.8h0M126.7 632.6h0M133.7 664.4h0M127.8 633.1h0M131.1 651.4h0M130.9 651.3h0M130.2 635.4h0M127.3 614.2h0M130.2 642.9h0M131.9 643.3h0M127.7 630.2h0M130.7 641.4h0M130.3 617.9h0M128.5 624.3h0M131.4 645.7h0M131.4 662.9h0M130.8 640.8h0M130.5 667.9h0M128.8 618.5h0M133 669.7h0M124.7 639h0M133.7 654.2h0M128.6 616.3h0M128 638h0M132.8 653.5h0M131.8 658.1h0M131.2 649.4h0M132.2 645h0M131.4 653h0M129.6 640h0M133.3 670.4h0M129.9 619.7h0M134.6 663.4h0M128.2 627h0M130.4 642.4h0M130.2 617.5h0M132.1 644.8h0M135.6 670.2h0M129.5 639.2h0M126.3 620.3h0M130.1 626.1h0M129.9 633.8h0M132.4 669.9h0M128.7 633.3h0M132.5 651.1h0M131.2 649h0M130.8 639.4h0M128.1 628.7h0M129.3 611.8h0M133.7 669.7h0M129.9 637.8h0M128.6 617.3h0M129.8 645.4h0"/><path id="l3" d="M137.2 644.2h0M139.5 648.6h0M136.7 647.2h0M142.6 652.4h0M141 652.6h0M142.8 652.6h0M140.9 649.4h0M136.6 645.6h0M142.8 651.3h0M138 646.3h0M139.5 648.1h0M143 652h0M138.2 646.9h0M141 650h0M137.1 646.8h0M135.8 645.3h0M138.7 646.9h0M141.5 649.8h0M140.7 652.1h0M137.1 645.8h0M143.6 652.5h0M144.1 654.1h0M133.8 644.7h0M141.1 651.7h0M139.6 648.3h0M141.7 649.7h0M140.5 651.5h0M134.3 645.8h0"/><path id="l4" d="M171.7 606.9h0M175.4 601.3h0M171.4 607.7h0M171 609h0M175.7 600.5h0M173.9 603.6h0M167.8 614h0M167.9 614.6h0M175.9 600.4h0M171.3 604.3h0M168.9 609.7h0M173.5 603h0M167.1 611.6h0M170.3 607.1h0M169.8 611.6h0M169.3 612.6h0M170.3 612h0M171 607h0M169.2 609.4h0M173.2 603.6h0M167 616h0M169.9 611.2h0M167.8 616.3h0M170.4 606.6h0M175.7 599h0M166.3 614.2h0M166.2 616.7h0M175.2 600.4h0M168.6 613.7h0M169.7 610.4h0M171.2 606.2h0M170.5 608.9h0"/><path id="l5" d="M156.9 631h0M157.3 637.3h0M153.4 635.2h0M154.2 635.8h0M153.7 635.8h0M152.6 635.3h0M155.6 635.8h0M157.9 635.1h0M156.3 635.9h0M156.8 632.6h0M154.8 634.8h0M150 642.5h0M155.5 632.5h0M152.9 636.7h0M155.3 634.7h0M149.6 641.4h0M149.8 640.2h0M148.4 640h0M153.7 635.6h0M152.9 635.5h0M151.6 643.2h0M150.8 639h0M152 639.7h0M153.1 636.9h0M155.6 634h0"/><path id="l6" d="M164.4 664.5h0M164.5 666.5h0M166 673.2h0M164 673.9h0M166 672.3h0M165.9 665.4h0M165.8 671.4h0M164.4 668.1h0M165.1 678h0M164.3 665.8h0M166 669.6h0M164 674.8h0M163.7 669.1h0M164.4 673.1h0M164.9 674.2h0M164.7 670.1h0M163.7 667h0M166.8 673.2h0M163.2 667.4h0M166.3 680.7h0M164.7 669.2h0M164.9 676.8h0M165.2 680.2h0M164.1 664.7h0M164.4 666.6h0"/><path id="l7" d="M184.7 657.7h0M181.8 657.4h0M197.9 663.2h0M183.2 657.4h0M194.4 661.7h0M193.5 660.5h0M181 657.8h0M187.3 659.3h0M181.3 657.7h0M187 658.6h0M197.8 662.8h0M190.8 659.9h0M197.4 661.2h0M185.7 657.8h0M191.7 659.6h0M183.8 658.1h0M185 659.5h0M181.7 657.1h0"/><path id="l8" d="M169.1 494.1h0M167 491.4h0M167.7 492.9h0M167 491.5h0M167.6 491.5h0M166.4 490.6h0"/><path id="l9" d="M158.3 490.5h0M158.3 490.9h0M159.2 489.7h0M158.4 490.8h0M157.8 491.4h0M157.7 490.8h0M158.7 489.9h0M157.1 490.8h0"/><path id="l10" d="M170.1 685.6h0M168.6 686.2h0M166.9 692.3h0M168.9 686.9h0M166.4 690.4h0M169.4 691.6h0M170.2 685.2h0M168.4 688.7h0M168.7 687.8h0M169.8 685.8h0M168.7 687h0M168 689.3h0M169.1 687.2h0M169.6 690.3h0M167.7 689.4h0M169.2 686.1h0M168.3 689h0M170.1 684.7h0M170.6 684.8h0M171.2 680.7h0M165.9 691.6h0M172 680.2h0M168.9 688.3h0M168.7 687.5h0M170.6 682.8h0"/><path id="l11" d="M175.2 602.1h0M174.4 604.7h0M172.3 606.4h0M175 603.6h0M173.8 602.7h0M172.8 604.2h0M173.9 601.8h0M175.1 602.9h0M174.3 603.3h0M174.6 602h0"/><path id="l12" d="M122.1 638.1h0M117.7 641h0M119.4 639.6h0M115.4 643.9h0M116.3 642.2h0M121.8 639.1h0M116.4 641.1h0M113.1 645.8h0M119.6 638.5h0M118.5 640.4h0M123.5 634.3h0M113.7 647h0M111.4 645.6h0M114.2 641.4h0"/><path id="l13" d="M275.4 599h0M274.8 592.4h0M274.2 594.2h0M276.5 602.4h0M275.4 596.1h0M275 596.3h0M275 601.1h0M275.7 600.9h0M274.3 600.6h0M275.9 592.5h0M273.3 576.1h0M275.8 586.1h0M276.2 600.4h0M274.8 577.4h0M276.9 578.6h0M275.1 590.5h0M275.1 592.7h0M275.4 578.3h0M275.5 584.2h0M274.5 588.5h0M275.7 578.1h0M275 589h0M272.6 576h0M277.4 577.5h0M276.3 601.5h0M274.1 590.4h0M276.2 593.7h0M275.2 584.6h0M275.4 590.2h0M277.3 604.9h0M276.6 578.1h0M275.5 584h0M275.6 589.1h0M276 583.7h0M276 590.1h0M273.8 576.1h0M272.6 578.5h0M274.1 596.2h0M275.1 584.9h0M274.4 591.2h0M275.8 593.1h0M273.4 577h0M276.2 591.8h0M275.9 582.8h0M275.1 582.8h0M275.8 593.1h0M274.3 596.3h0M275.2 587.4h0M275.6 606.7h0M275.4 585.1h0M274.2 597.1h0M274.5 582.8h0M275.2 585.1h0M275.4 601.4h0M274.7 577.3h0M276 602.9h0M275.5 579.4h0M275.9 603h0M274.8 587.7h0M275.3 602.6h0M275.7 583h0M275.1 602h0M275.8 600.4h0M275.2 604.5h0M275 594.5h0M275.3 578h0M275.7 597.3h0M273.7 576.8h0M275.9 582.5h0M275.1 597.8h0M276.1 577.7h0M276.7 604.7h0M276.2 597.5h0M275.6 601.5h0M275 597h0M274.9 596.5h0M274.9 597.5h0M275.4 593.5h0M274.7 590.2h0M276 602.6h0M276.6 604.6h0M276 578.2h0M276.7 605.5h0M276.1 605.4h0M275.6 586.2h0M275 594.6h0M274.5 593.1h0M275.3 591.3h0M276.2 577.8h0M275.4 579.4h0"/><path id="l14" d="M272.4 597.8h0M267.1 592.3h0M267.4 592.7h0M271.4 596.7h0M269.7 595.5h0M271.8 597.2h0M270.7 596.9h0M267.7 594.2h0M266.6 592.5h0M267.1 591.9h0M270.1 595.8h0M269 595.2h0M270.9 596.1h0M268.8 595.4h0M268 593.4h0M271.4 595.5h0"/><path id="l15" d="M273.9 575.6h0M274.7 578.1h0M275 576.9h0M273.4 576.6h0M273.7 578.3h0M275.2 578.3h0M273.6 577.4h0M273.2 576.9h0"/><path id="l16" d="M276 605.1h0M275.1 605.1h0M275.6 603.9h0M275 605.2h0M275 603.6h0M274 602.8h0M274.6 603h0M274.6 603.5h0M273.6 601.6h0M272.2 603h0"/><path id="s0" d="M151.9 596.6h0M163.7 600.5h0M148.7 607.9h0M163.8 603.4h0M158.1 612.9h0M153.5 614.9h0M159.7 596.5h0M161.4 608.2h0M155.4 602.4h0M163.5 604.8h0M151.4 598.5h0M152.4 595.1h0"/><path id="s1" d="M142.4 640.9h0M149.2 637.9h0M148.8 634.2h0M140.9 636.5h0M147.7 635.2h0M140.4 633.7h0M140.4 633h0M140 643.2h0M147.8 641.9h0M150.1 634.4h0M146.8 632.4h0M144.6 630.2h0"/><path id="s2" d="M126.2 635.6h0M118.4 626.4h0M126 645.7h0M125.2 622.2h0M127.3 643.5h0M123.3 631.2h0M122.1 626.4h0M123.3 635h0M119 621.5h0M120.7 626.1h0M123.4 644.3h0M120 628.6h0M119.3 633.5h0M123.5 645.7h0M123 625.1h0M127.9 648.3h0M121.5 648h0M121.3 636.7h0M124.5 626h0M124.6 627h0M121 620.2h0M128 647.4h0M118.6 637.3h0M126.2 634.9h0M121.8 645.9h0"/><path id="s3" d="M147.5 647.5h0M156.1 646.1h0M157.3 663.2h0M142 677.6h0M161.6 666.7h0M157.3 661.9h0M151.5 652.8h0M148.4 648.6h0M161.7 676.2h0M152.4 657h0M146.2 657.9h0M158 645.8h0M150.7 647.8h0M151.5 660.4h0M146.6 658.8h0M146.9 663.9h0M156.2 661.9h0M156.3 678.5h0M157.4 668h0M159.9 662.4h0M160.8 664.4h0M150.1 662.1h0M148.1 669.3h0M153.7 646h0M149.1 671.4h0M144.9 662.4h0M153.4 668.5h0M149.2 655.8h0M142.3 650.4h0M146.2 666.3h0"/><path id="s4" d="M150.6 681.7h0M140.2 688.7h0M156.5 690.5h0M169.3 689.2h0M147.9 689.3h0M163.2 680.2h0M143 687.8h0M169.8 686.1h0M161.9 681.7h0M153.5 682.8h0M155 678.8h0M145.2 686.8h0M160.9 688.3h0M162.6 686.8h0M141 691.7h0M163.3 682.6h0M168 687.8h0M158.2 685.4h0M150.1 688.3h0M162.3 689.8h0M159.7 683.4h0M156.7 681.9h0M156.7 683.8h0M146.2 682.4h0M150.9 688.6h0M170.4 684.6h0M161.3 686.6h0M165.6 683.7h0M149.1 688.7h0M148.4 685.2h0"/></defs>
<g fill="none" stroke-linecap="round">
<path d="M108.4 53.3 109.4 46.2 113.5 44.1 120.7 42.6 128.8 42.1 137 42.6 141.1 44.6 135 54.4 136 68.7 136 78.9 134 87 127.8 87 120.7 88 112.5 87.5 110.4 80.9 108.9 68.7Z" fill="#39B600"/>
<path d="M128.8 83.3h0M133.8 52.4h0M118.2 82.2h0M134.5 63.6h0M118.3 54.9h0M116.7 62.5h0M124.9 67.5h0M115.4 49.5h0M128.4 44.1h0M109.6 65.7h0M123.6 84.2h0M129 65.7h0M124.6 53.5h0M108.8 50.9h0M131 51.3h0M135.5 49.2h0M117.2 82.5h0M125.1 81h0M129.3 76.1h0M111.4 66.9h0M125 82.1h0M120.2 69.6h0M110.3 59.9h0M119 49h0M135.1 59.5h0M128.2 71.4h0M130.5 49h0M122.8 53.1h0M121.6 46.5h0M130.4 55.9h0M112.7 80.9h0M127 48.8h0M114.7 84.7h0M126.5 50.4h0M127 59.4h0M121.8 53.1h0M123.7 67.2h0M118.9 76.6h0M109.2 59.2h0M109.4 47.7h0M122.4 66.1h0M127.7 73.5h0M120 65.9h0M133.4 83.8h0M113.3 84.9h0M134.9 48.4h0M122.1 79.5h0M134.3 65.6h0M132.1 52.5h0M114.9 58.8h0M114.3 58h0M119.5 54.6h0M125.4 83.3h0M132.7 68.8h0M122.4 82.4h0M121.9 84.5h0M110.6 61.8h0M125.4 85.7h0M116.6 79.1h0M130.5 75h0M129 86.7h0M119.3 60.4h0M115 44.4h0M115.4 84.1h0M135.9 47.3h0M128.1 64.1h0M127.8 72.4h0M118.4 86.2h0M123.6 70.9h0M129.2 50.5h0M110.4 61h0M133.4 79.5h0M132.3 47.3h0M138.3 44.2h0M116.7 53.5h0M114.5 68.1h0M109.7 69.2h0M113.8 73.2h0M109.1 56.4h0M134.9 72.3h0M128.4 50.9h0M127.2 43.9h0M136.3 44.4h0M119.5 56.7h0M112.1 70.9h0M134.5 56.5h0M112.6 77.3h0M127.2 71.4h0M128.3 46.5h0M130 71.1h0M135.3 79h0M119.1 75.2h0M129.7 52h0M126.8 85.5h0M120.8 53.7h0M123.3 72.3h0M111.7 59.6h0M112.8 72.5h0M120.6 66.9h0M115.4 53.5h0M119.2 63.1h0M111.1 76.7h0M127.3 55.9h0M110.9 77.1h0M112.7 48.2h0M112.7 45.8h0M118.4 80.3h0M128.7 50.7h0M122.6 82.7h0M120.7 74.7h0M111.6 75.5h0M133.8 80h0M130.4 59.1h0M110.5 65.9h0M133.2 50.9h0M117.1 66.7h0M132.9 83.3h0M112.5 50.6h0M134.5 71.7h0M133.8 60.2h0M129.4 50.6h0M133.2 76.9h0M132 62.5h0M120.8 61.4h0M126.1 59.9h0M126.3 75.2h0M120.9 80.2h0M112.9 77h0M131.7 80h0M138.5 47.8h0M112.2 50.2h0M127.2 62.6h0M132.9 50.8h0M133.5 45.2h0M123.9 43.6h0M118.7 56.4h0M131.9 63h0M116.5 60.2h0M115.8 47.8h0M109.5 65.2h0M112.4 50.2h0M114.4 72.8h0M117.1 66.3h0M117.7 65.8h0M129 66.7h0M121.3 78.4h0M137 50.3h0M112.9 47.3h0M115.9 86.6h0M115.2 65.3h0M138.4 43.5h0M134.1 86.7h0M109 61.8h0M111.1 78.3h0M127.9 87.4h0M136.1 75.8h0M108.4 49.4h0M108.7 66.4h0M111.8 44.5h0M119 42.6h0M121.3 86.5h0M108.5 78.6h0M109.1 82.1h0M137.4 65.4h0M127.1 40.9h0M109.4 48.1h0M109.5 74.7h0M110.3 56.6h0M136 41.6h0M109.9 71.9h0M136.2 59.4h0M140.8 45.8h0M135.7 74.7h0M108.2 51.4h0M135.5 63.7h0M129.7 44.6h0M119.5 86.7h0M135.1 73.1h0M110.3 70.9h0M108.2 68.7h0M139.6 48.1h0M139.5 42.8h0M108 59.6h0M136.7 73.1h0M115.7 45.6h0M110.5 45.8h0M109.3 55.8h0M134 83.2h0M109.7 44.4h0M137.5 72.3h0M134.9 73.4h0M135.4 64.2h0M108.9 59.9h0M109.8 58.4h0M119.2 42.2h0M123 42.7h0M134.5 59.5h0M110.7 76.9h0M130 89h0M118.2 86.2h0M135.1 86.2h0M131.9 42.5h0M109.9 78.3h0M108.5 50.8h0M121 87.6h0M128.4 40.9h0M136 68.2h0M108.3 57.8h0M136.4 79.1h0M110.5 45.9h0M135.5 62.8h0M126.4 86.2h0M111.5 45.9h0M136.3 42.1h0M108.1 50.9h0M135.3 79.9h0M134.4 54.2h0M135.3 71.6h0M140.2 47h0M126.7 85.9h0M125.1 44.1h0M109.1 66.4h0M109.6 61.4h0M137.3 72.3h0M136.3 68.9h0M108.8 71.9h0M140.8 44.3h0M110.3 81h0M143.2 44.1h0M117.1 87.6h0M137.9 51.6h0M133.2 86.2h0M107.1 62.8h0M110.4 46h0M109.3 79.9h0M136 79.5h0M134.5 55.9h0M134.4 51.3h0M113.3 42.8h0M137.5 43.2h0M130.4 86.2h0M115.3 43.7h0M124.2 85.6h0M108.4 57.8h0M107.9 56.2h0M109.6 69.8h0M109.8 81.3h0M127.8 43.4h0M109.9 57.3h0M129.9 43h0M107.9 71.9h0M108.6 70.1h0M129.2 86.1h0M136 77h0M130.7 42.1h0M135.8 75h0M141.1 45.1h0M119.9 44.6h0M119.6 41.3h0M109.6 79.7h0M107.6 65.5h0M121.7 41h0M109.3 52.7h0M138.1 42.6h0M120.1 42.9h0M128.7 43.3h0M135.8 85.9h0M136.9 62.9h0M134.1 63.1h0M130.8 41.8h0" stroke="#39B600" stroke-width="1.2"/>
<path d="M141.1 44.1 145.2 47.2 151.3 53.3 155.4 61.5 156.9 70.7 156.4 80.9 154.9 91.1 153.5 100 150.3 105.4 149.3 112.6 147.3 114.6 143.2 108.5 139.5 104 138.5 95 136 88 136 78.9 136 68.7 135 54.4Z" fill="#A3A500"/>
<path d="M145.1 80.9h0M150.1 71.8h0M150.7 77h0M144 69.9h0M145.8 63.9h0M140.3 54.6h0M144.6 64.8h0M142.5 87.7h0M154.8 69.4h0M147.1 75.4h0M149.2 111.8h0M149.6 100.2h0M148.9 105.5h0M142.1 94h0M140.8 80h0M149.9 58.3h0M152.7 91h0M142 90.5h0M147.6 87.6h0M144.8 60h0M150.9 76.8h0M151.3 69.8h0M136.9 82.3h0M148.6 109.1h0M151.9 62.5h0M150.3 70.9h0M142.1 78.5h0M146.6 93.1h0M149 91.9h0M143.4 91.9h0M142.6 86.9h0M145.1 83.8h0M139.8 71.3h0M154.6 69.1h0M137.3 87.8h0M137.7 69.6h0M145.8 52.4h0M142 63.5h0M142.9 99.8h0M138.1 85h0M144.5 64.4h0M153 96.7h0M137.9 64.7h0M148.4 105.6h0M149.1 59.7h0M143.1 88.1h0M155.3 65.4h0M150.3 75.4h0M152.5 60.6h0M149.4 91.6h0M145.2 57.4h0M143.8 96.6h0M139.1 50.4h0M145.1 60.6h0M149.2 57.3h0M153 95.4h0M151.4 93.3h0M153.2 65.1h0M149.7 80.6h0M142.4 67.1h0M138.4 78.8h0M143.1 73.8h0M153.7 92.1h0M139.8 79.9h0M137 71.8h0M146.1 100.3h0M144.7 69h0M146.1 57.8h0M141.7 65.6h0M153.7 89.7h0M144.4 58h0M137.3 51.4h0M142.6 72.8h0M155.2 81.9h0M138.2 83.1h0M155.7 67.9h0M139.2 51.3h0M149.3 76.6h0M140.6 99.1h0M145.7 81.9h0M145 91.8h0M136.5 79h0M140.1 51.3h0M139.3 61.6h0M153.7 93.4h0M141.9 71.7h0M144.7 64.8h0M144.2 98.5h0M136.7 63.6h0M145.5 91.8h0M149.1 95.2h0M137.3 56.8h0M141.8 64h0M141.5 100.7h0M155.2 86h0M142.6 69.1h0M148.9 105h0M142.5 57.5h0M153.6 88.1h0M143 100.2h0M143.8 89.1h0M150.1 75.9h0M145.2 94.7h0M146.7 49.8h0M140.2 48.5h0M139.2 58.2h0M144.1 66.8h0M142.9 101.7h0M152.7 81.7h0M144.6 62.9h0M146.9 59.7h0M142 45.8h0M154.4 65.2h0M149.4 104.6h0M145.7 103.5h0M145.1 62.7h0M145.5 67.7h0M151.8 102.7h0M138.1 55.7h0M143.4 76.8h0M149.8 63.2h0M153.2 63.6h0M136.7 66.3h0M142.1 95.1h0M148.8 83.5h0M151.7 80.3h0M138.5 59.3h0M143.3 67.4h0M136.3 72.7h0M144.8 64.3h0M143.4 67.5h0M143.3 87.7h0M145.9 58h0M152.4 80.3h0M145 94.4h0M152.8 91.3h0M150.8 55.2h0M150.3 62h0M140.6 52.6h0M149.4 96.8h0M149 103.2h0M135.8 57.7h0M140.9 76.7h0M138.8 82.1h0M142.5 90.3h0M146.6 92.5h0M140.4 93.9h0M151.1 95h0M147.6 63.3h0M144.5 80.6h0M156.6 63.5h0M138.4 48.6h0M154.4 92.5h0M139.8 46.2h0M137.4 80.4h0M150.1 112.5h0M156 92.9h0M152.9 53.9h0M150.3 53.2h0M138.7 97.8h0M134.4 76.2h0M136.6 58.6h0M155 95.5h0M135.7 52.3h0M156.2 82.9h0M135.4 52.1h0M134.7 53.8h0M155.9 62.1h0M136.7 63.8h0M135.7 88h0M135.8 87.4h0M135.5 67.6h0M145.6 112.4h0M145.9 113.9h0M153.9 94.8h0M135.2 62.6h0M136 57.8h0M154.5 64.5h0M137 76.8h0M157.2 80h0M157.4 66.5h0M155.8 68.4h0M140.9 106.8h0M156.5 81.4h0M156.1 72h0M152 52.6h0M155.6 89.3h0M136.3 76.7h0M143.6 46h0M148.9 110.8h0M138.4 104h0M146.9 49.9h0M155.8 83.6h0M135 57.2h0M141.5 45.1h0M135.1 64.6h0M157.6 64.3h0M135.7 80h0M151.2 107h0M155.5 67.1h0M149.9 111.6h0M134.9 52.9h0M134.1 61.7h0M154.2 98.1h0M147.3 49h0M134.9 56.2h0M140.9 47.1h0M150 115.2h0M156.2 72.1h0M140.9 109.6h0M136.2 89.9h0M150.1 111.9h0M154.9 93.1h0M158.1 75.4h0M155.5 82.6h0M148.6 50.3h0M157.3 76.4h0M137.6 50.1h0M142.2 44.7h0M136.5 83.8h0M136.9 75h0M153 100.2h0M139.1 104.8h0M156.5 72.6h0M137.4 91.5h0M136.9 86.2h0M136.7 83.5h0M147.6 111.7h0M138.3 47.2h0M134.4 63.7h0M141.5 107.1h0M136.6 91.3h0M155.7 80.6h0M137.3 51.6h0M138.2 95.3h0M135.5 58.9h0M155.9 81.9h0M140.3 48.9h0M152.1 55.8h0M145.9 109.4h0M152.8 55.4h0M157.8 67.4h0M135.2 78.4h0M148.9 50.2h0M153.9 95.6h0M156.2 68.7h0M137.7 66.1h0M150.8 53.7h0M156.1 91.6h0M136.8 64.3h0M137.1 90.5h0M136.3 88.1h0M139.6 43.2h0M143.3 44.2h0M138 93.5h0M134.3 82.2h0M136.9 81.1h0M137.7 88.1h0M148.2 52.4h0M151.1 53.1h0M136.9 76.5h0M138.6 100.7h0M155.8 78.6h0M140.8 43.9h0M145.8 111.5h0M151.7 51.5h0M135.2 80.4h0M155 90h0M136.9 71.9h0M151.7 54.1h0" stroke="#A3A500" stroke-width="1.2"/>
<path d="M110.5 86 121.7 87 134 87 138 95 141.1 103.4 147.3 105.4 148.3 112.6 142.2 108.5 137 110.5 130.9 110.5 125.8 111.6 123.8 118.7 125.8 125.9 121.7 130 117.6 134 115.6 138.1 110.5 142.2 106.4 142.2 100.3 134 96.2 125.9 94.1 117.7 94.1 111.6 97.2 105.4 102.3 101.3 108.4 98.3 110.5 93.2Z" fill="#D89000"/>
<path d="M117.4 125.6h0M107.3 123.5h0M104.7 132.9h0M107.5 115.2h0M106.5 121h0M108.4 131.9h0M105 109.6h0M106 134.4h0M111.1 95.9h0M124.4 96h0M127.1 102.1h0M121.9 111.8h0M138 109.3h0M129.7 107.3h0M117 108.6h0M96.8 123.8h0M111.7 111.7h0M106 140.4h0M115.6 99.9h0M106.8 115.1h0M102.4 120h0M105.9 104.1h0M117.9 111.1h0M123.8 112.6h0M132.4 104.7h0M114.2 115h0M143.4 104.5h0M100.6 119.5h0M102.3 108.8h0M122.6 118.8h0M143.4 105.2h0M125.8 93h0M122.2 90h0M110.4 103.4h0M132.3 90.3h0M100.1 122.9h0M134.3 96.8h0M122.9 100.6h0M117.5 132.9h0M108.9 131.2h0M129.7 110.7h0M99 112.7h0M126.9 89.2h0M144.8 106.9h0M116.4 132.9h0M116.9 105h0M109.1 98h0M117.5 95.1h0M98.1 124.2h0M110.6 97.1h0M107.5 124.8h0M124.9 99.2h0M105.4 122.8h0M128.2 103.9h0M112.2 112h0M124.6 113.5h0M133.4 96.2h0M111.6 135.1h0M115.5 133.4h0M99.6 128.5h0M130.2 102.3h0M106.5 120.3h0M95.3 121h0M116.3 110.8h0M98.5 114.9h0M115.6 108.9h0M108.7 101.2h0M124.1 111.1h0M145.7 105.1h0M141.9 107.6h0M115.6 111.1h0M128.3 92.2h0M122.9 91.3h0M106.3 121h0M122.2 110.8h0M114.7 129.2h0M118.6 129.9h0M110.1 120.1h0M115.8 89.9h0M117.1 98.9h0M140.8 103.9h0M114.7 131.1h0M124.4 88.8h0M105.9 120.3h0M108.7 117.4h0M128.4 88.2h0M108.9 103.3h0M112.9 96.9h0M131.8 98.2h0M118.8 114.4h0M123.7 88.9h0M117.4 107.1h0M116.1 106.5h0M135.7 91.4h0M117.7 125.9h0M115.7 94h0M116.7 88.9h0M98.8 110.7h0M138.8 97.4h0M119.3 106.3h0M114.1 129.3h0M124.1 95.2h0M124.2 109.2h0M95 115.2h0M110.2 108.6h0M123.2 88.5h0M99.5 127.5h0M123 124.6h0M119.9 97.3h0M114.3 106.5h0M97.7 126.2h0M119.9 92.8h0M122.8 91h0M111.5 98.1h0M107.9 104.4h0M125.8 106.7h0M100.1 118.1h0M120.6 103.2h0M94.7 115.9h0M128.2 110.8h0M106.9 137.8h0M116 124.2h0M125.7 90h0M126.4 99.6h0M115.1 107.2h0M133.4 95.7h0M110.6 135.3h0M117.3 107.9h0M122 110.9h0M119.6 109.8h0M132.1 101.5h0M103.1 110.4h0M98.9 111.1h0M120.9 130.1h0M100 108.3h0M136.4 105h0M96.4 107.7h0M127 101.9h0M106.4 117.1h0M112.7 92.3h0M107.8 112.9h0M128.3 103.7h0M99.9 133h0M103 113.6h0M124.4 109.9h0M147 105.8h0M133.5 99.1h0M106.1 121.5h0M142.4 107.5h0M117.6 127.2h0M109.4 142.1h0M124.5 124.6h0M95.6 122.8h0M130 110.2h0M146.5 107.5h0M103 99.9h0M97.9 108h0M99.1 130.6h0M136.4 94.2h0M119.5 85.7h0M107.1 100.4h0M110.2 94.9h0M146.8 107h0M110.2 142.8h0M114.6 85.4h0M130 110.6h0M99.9 132.2h0M137.4 111h0M94.3 113.8h0M103 99.7h0M135.2 88.7h0M101 134.9h0M135.2 110.4h0M138.2 94.3h0M138.7 109.8h0M123.8 121h0M101.9 102.5h0M95.5 124h0M111.3 85.8h0M119.7 86.4h0M111.9 87.5h0M119.2 133.8h0M112.3 140.6h0M138.9 110.5h0M95.1 110.9h0M118.6 132.4h0M114.6 137.8h0M147.3 103h0M94.6 122.9h0M140.3 101.1h0M135 90.3h0M114 139.9h0M94.9 109.9h0M151.4 112.5h0M146.5 111.3h0M136.4 91.5h0M114.1 140.1h0M93.7 122.1h0M133.7 86.8h0M119.9 129.7h0M120 130.9h0M129.1 87.1h0M122.2 128.5h0M147.1 107.6h0M140.6 97.1h0M110.2 87.1h0M127 87.8h0M139.7 109.3h0M110.2 143.7h0M130 112h0M112.5 85.2h0M99 104.6h0M144.2 104.8h0M126.5 111.9h0M104.4 100.8h0M109.8 92.2h0M104.7 100.7h0M129.1 112h0M97 127h0M93.4 108.4h0M139.3 99.4h0M110.2 90.3h0M129 87.7h0M106.3 139.5h0M143.5 105.9h0M139.9 104.5h0M135.1 88.1h0M110.1 98.3h0M132.8 89.1h0M104.8 101.4h0M137 92.2h0M143.3 109.8h0M142.6 103.5h0M111.2 88h0M127.4 86.7h0M96.4 105.2h0M144.7 112.1h0M109.8 97.4h0M96.8 124.8h0M148.1 105.8h0M124.1 125.1h0M138.4 93.6h0M127.5 110.9h0M116.4 86.9h0M102.6 135.7h0M114.1 138.9h0M148.6 107.7h0M111.9 87.4h0M107.9 98.2h0M134.2 87.9h0M144.8 109.7h0M116 85.5h0M132.4 111.1h0M131.2 112.2h0M123.9 130.4h0M143.9 110.5h0M146.3 105h0M93.3 119.8h0M146.8 110.3h0M140.9 109.7h0M124.2 124.8h0M146.2 108.4h0M99.1 128.5h0M126.3 86.5h0M141.4 109.8h0M126.6 110.4h0M147.9 105.1h0M94.4 109h0M137.8 112.2h0M124.7 112.2h0M125.1 117.9h0M92.8 111.2h0M140.5 103.5h0M95.6 110.5h0M108.5 92.8h0M147.8 106.5h0M138 94.6h0M92.9 120h0M146.4 111.5h0M141.1 103.4h0M124.6 86.6h0M110.6 141.6h0M109 97.9h0M99.6 104.3h0M115.6 135.5h0M124.4 114.4h0M111.5 90.1h0M104.3 139.1h0M110.8 93.7h0M100.9 134.8h0M101.1 133.7h0M98.4 134.2h0M133.3 87.4h0M147.2 106.5h0M123.9 86.4h0M108.2 97h0M112.2 87.5h0M114.4 139.8h0M134.5 93.7h0M133.9 87.1h0" stroke="#D89000" stroke-width="1.2"/>
<path d="M121.7 103.4 127 104 132 110 134 118 136 124 140 129 144 134 146 140 145.5 146 142 151.5 139.5 151 139 144 136 139 131 134 127 128 124.5 121 123.5 112Z" fill="#9590FF" fill-opacity="0.85"/>
<path d="M134.6 125.9h0M136.9 128.1h0M129.3 128.3h0M123 106.4h0M140.9 148.7h0M122.9 104.6h0M130 122.8h0M128.1 120.6h0M125.7 119.5h0M127.4 108.5h0M137.6 137.4h0M129.3 118.7h0M131.1 120.3h0M139.4 146.7h0M139.9 134.5h0M126.4 116.7h0M140.3 131h0M144.7 138.4h0M130.7 112.4h0M128.6 115.3h0M125.5 119.9h0M127.8 128h0M130.5 119h0M134.8 131.6h0M129.8 119.1h0M127.4 115h0M124.4 114h0M136.5 139.6h0M126.6 109.7h0M129.7 110h0M140.5 130.2h0M136.2 124.7h0M132.9 132.6h0M135.1 133.4h0M126.5 110.6h0M135.9 127.4h0M124.5 111.1h0M133.8 117.4h0M143.7 148.3h0M127.4 117.7h0M132.6 127.9h0M126.9 117.6h0M125 118h0M127.8 105.9h0M132.8 128h0M128.9 111.2h0M134.8 127.5h0M132.4 122.9h0M134.8 133.4h0M125.3 106.8h0M128.2 109.1h0M138.3 136.6h0M133 115.9h0M129.5 131h0M133.4 121.2h0M138.5 138.1h0M143.3 142.4h0M129.7 130.8h0M128 113.1h0M126.7 108.7h0M127.5 114.2h0M134.5 124.5h0M123.4 104.4h0M133.5 129.8h0M130.5 126.3h0M134.9 136.8h0M132.4 117.7h0M131.1 120.9h0M142.1 148.3h0M130.5 123.1h0M133.2 124.4h0M124.9 113.5h0M128.6 106.4h0M134.6 127.5h0M129 114.5h0M127.4 116.5h0M131.6 109.6h0M132.8 134.4h0M142.5 137.4h0M129.9 126.8h0M132.8 113.4h0M146.2 138.6h0M124.1 121h0M128.5 107h0M146.1 141.8h0M144.2 133.4h0M122.7 114.3h0M132.3 115.3h0M134.8 139.8h0M142.8 131h0M136.4 139.2h0M125.3 123.8h0M125.2 123.8h0M125.4 121.1h0M139.8 128.4h0M138.6 126.1h0M132.5 111h0M136.2 126.8h0M131.3 109.8h0M127 125.9h0M126.4 102.8h0M133.4 118.4h0M126.8 127.6h0M128.3 129.9h0M122.7 106h0M145.9 136.7h0M126.3 105.2h0M126.5 125h0M139.7 128.6h0M126.2 128.4h0M122.9 103.7h0M125.1 104.9h0M139.4 143.9h0M133.5 135.6h0M139.3 149.1h0M140.7 149.6h0M138.7 145h0M132.6 112.7h0M127.2 105.9h0M143.1 133.7h0M139.7 150.8h0M136 124.7h0M132.8 115.9h0M146 144.1h0M144.7 139.3h0M137.8 127.5h0M124.2 112.2h0M121.6 109.7h0M127.3 104.3h0M144.7 147.5h0M137.2 124.6h0M142.6 131.5h0M126.5 103.3h0M130.4 108.4h0M124.7 104h0M132 111.6h0M136.5 141h0M129.7 106.7h0M124.8 116h0M125.8 127.2h0" stroke="#9590FF" stroke-width="1.2"/>
<path d="M147.3 115.7 151.4 116.7 154.4 123.8 156.5 128.9 157.5 136.1 153.4 138.1 149.3 139.2 151.4 133 149.3 127.9 147.3 121.8Z" fill="#E76BF3" fill-opacity="0.8"/>
<path d="M153.3 132.1h0M151.1 127.2h0M150.9 117.3h0M151.1 135.7h0M152.9 132.5h0M156.3 129.3h0M151.2 130.7h0M151.4 132.3h0M152.7 133.1h0M155.7 129h0M156.6 134.1h0M150.7 136.2h0M156.5 136h0M151 127h0M152.8 123.8h0M152.2 138.4h0M151 135.6h0M155.4 136.5h0M153.4 132.4h0M154.9 135.8h0M150.3 118.4h0M149.7 121.3h0M155.2 126.1h0M155.8 131.4h0M155.9 134.2h0M150.9 130.5h0M153.2 134h0M147.9 116.2h0M149.8 122.1h0M149.4 116.9h0M149 123.9h0M148.2 120.6h0M151.8 135.6h0M148.6 122h0M154.2 125.3h0M153.1 133h0M154 135.9h0M148.2 122.7h0M149 120.3h0M151.2 137.9h0M148.9 128.5h0M147.7 116.2h0M154.6 122.9h0M156.4 135.7h0M156.7 126.6h0M146.6 117.8h0M147.9 115.5h0M147.7 122.1h0M150.5 129.4h0M156.3 130.6h0M151.1 132.4h0M156.2 133.6h0M149.1 136.7h0M157.7 136h0M147.7 121h0M156.8 136.6h0M148.6 126.1h0M150.8 139.9h0M156.3 132.8h0M146.7 117.6h0M154.3 125.1h0M145.8 121.8h0M147.6 116.2h0M148 123.9h0M149.9 138.1h0M148.9 137.7h0M147 121h0M157.4 137.3h0M149 126.5h0M149.5 127.7h0M148.5 124.3h0M158.4 134.9h0M150.5 135.9h0M150.8 117.5h0M153 117.8h0M151.5 119.7h0M151.3 131.1h0M157.2 132.2h0M146.6 120.6h0M152.1 117.1h0" stroke="#E76BF3" stroke-width="1.2"/>
<path d="M258.5 105.6 262.1 106.1 264.7 112.3 265.7 120.4 268.7 127.6 271.8 132.7 271.8 140.9 268.7 147 265.7 151.1 260.6 148 255.4 146 251.4 142.9 250.3 136.8 252.4 129.6 251.4 123.5 252.9 117.4 249.3 115.3 250.3 111.2 255.4 108.2Z" fill="#00BFC4" fill-opacity="0.75"/>
<path d="M271.8 140.8h0M251.9 124.2h0M261 146.5h0M259.5 141h0M261.5 135.9h0M268.1 131.6h0M256.2 112.9h0M253.1 134.7h0M266.7 144.7h0M256.8 114.5h0M266.3 125.5h0M252.9 143.9h0M269.5 140.5h0M255.9 123.4h0M262.4 147.4h0M254.8 124.7h0M254.8 142.4h0M264.5 127.3h0M258.5 117.7h0M266.5 127.8h0M265.5 133.5h0M258.3 141.3h0M263.6 115.8h0M260.3 137.9h0M263.3 130.3h0M263.3 125.4h0M251.8 122.8h0M258.7 130.5h0M269.8 132.9h0M256.2 135.8h0M256.7 130.9h0M260.1 135h0M262.1 131.7h0M266.2 134h0M264.8 123.8h0M259.7 145.9h0M268.9 130.6h0M269.6 142.7h0M251.6 111.7h0M258.5 129.8h0M264 131.3h0M269 142h0M269.3 140h0M267.8 127.6h0M265.2 117.2h0M253.9 120.7h0M254.6 124.9h0M260.2 137h0M271.1 133.5h0M264.2 113.4h0M268.9 132.7h0M261.1 127.7h0M260.9 144.9h0M251 136.5h0M257.7 130h0M263.3 143.2h0M255.7 140.7h0M261.9 123.3h0M267.1 148.2h0M263.7 135.3h0M253.2 120.9h0M260.8 110.7h0M258.8 121.7h0M259.4 112.9h0M267 124.3h0M258.5 109.8h0M255.8 117.2h0M253.1 115.3h0M264.5 112.8h0M249.8 113.7h0M255.9 113.1h0M262.7 145.6h0M268 127h0M267 141.6h0M263.6 142.1h0M257.8 139.6h0M261.1 139.2h0M258.9 132.5h0M264.4 121.3h0M254.7 120.6h0M253.8 143.5h0M256.9 118.7h0M257.3 141.8h0M258.9 109.8h0M260 113.4h0M258.3 117.4h0M268 137.7h0M254.8 139.7h0M265 129.6h0M254.7 115.1h0M258.7 118.2h0M264.5 146.4h0M263.3 112.9h0M250.3 115.7h0M263.2 144.5h0M267.8 138.9h0M265.1 122.6h0M262.4 108.4h0M264.8 144h0M266.3 129.6h0M269.5 134.4h0M262.7 114.8h0M267.2 138.4h0M255.5 114.7h0M266.1 149.4h0M256.2 144.2h0M260.3 143.5h0M262.8 140.5h0M257.3 145.5h0M269.8 137.9h0M262.8 107.8h0M270.2 135.6h0M263.2 143.9h0M254.6 133.8h0M264.7 140h0M251.4 138.7h0M269.6 134.2h0M251.6 116.1h0M268.5 132.4h0M256.9 142.2h0M263.9 111h0M254.5 142.5h0M261 138h0M256.6 108.5h0M268.3 136h0M255.8 117.8h0M253.3 124h0M257.4 118.6h0M269 140.2h0M264.5 148.9h0M267.9 134.5h0M264.9 140.9h0M266.3 145.3h0M256.9 122.1h0M258.3 111.6h0M271.2 136.2h0M271 134.4h0M260.9 139.7h0M269.3 144h0M257.1 128.7h0M267.3 129.5h0M259.1 122.3h0M252.3 143.6h0M260.8 143.9h0M257.6 140.8h0M256.8 117.1h0M256.1 124.7h0M260.5 129.5h0M265.8 143.2h0M270.9 136h0M255.1 131.9h0M259.2 116.3h0M256.8 116h0M261.4 108.6h0M261.5 124.3h0M271.1 132h0M258.4 115.3h0M261.5 143h0M254.7 111.9h0M252.4 133.6h0M267.5 140.5h0M259 116.7h0M260.9 112.5h0M265.1 123h0M253.9 112.2h0M263.5 131h0M267.4 148.5h0M256.8 140.1h0M252.6 126h0M251.5 141.7h0M263.1 114.3h0M265 121.5h0M261.1 130.9h0M255.4 124.6h0M267 144.9h0M268.4 131.5h0M269.5 141.6h0M258.1 141.6h0M258.4 145h0M259.9 113.9h0M262.7 148.5h0M270.5 130.9h0M254.1 128.4h0M255.9 119.9h0M256.4 114.8h0M257.6 135.2h0M262.4 127.4h0M266.8 131.6h0M269.5 132.2h0M269 144.9h0M265.2 120.6h0M260.2 109.2h0M265.6 135h0M252.2 135h0M256.9 108h0M251.5 114.9h0M266.1 135.7h0M262.9 126.9h0M267.6 131.5h0M263.1 139.5h0M263.6 114.4h0M272.9 133.4h0M261.9 148.7h0M253 130.6h0M259 106.4h0M250.6 116.2h0M252.3 118.3h0M254 110.2h0M267.2 123.9h0M268.5 126.1h0M251 118.3h0M259.4 147.3h0M270.3 128.2h0M260.8 105.6h0M269.8 126h0M249.7 134.5h0M251.6 129.3h0M271.9 141.6h0M251 111.1h0M261.4 148.2h0M260.6 148.6h0M270.6 144.3h0M267.9 145h0M272 139h0M252.2 119.4h0M266.7 148.2h0M270.3 128.9h0M267.3 149.9h0M252.8 109.5h0M253.2 138.6h0M264.7 112.9h0M268.7 146.1h0M265.3 151.8h0M260.3 105.6h0M256.6 107.6h0M251.6 110.8h0M265.1 113.5h0M256.7 146.5h0M271.1 135.4h0M268.3 125.4h0M270.2 131.1h0M262.5 108.3h0M251.3 134.1h0M270.7 142h0M250.3 130.2h0M252.3 118.5h0M253.7 144.3h0M272.4 138.4h0M265.7 117.4h0M249.4 136.6h0M251.1 135.8h0M252.2 125.4h0M265.6 117.8h0M262.6 107.7h0M249.1 114.1h0M253.3 141.3h0M265 113h0M251.9 130.9h0M263 108.2h0M250 140.2h0M255.9 145.9h0M252.6 130.1h0M265.1 112.1h0M250.6 111.7h0M253.3 108.7h0M256.5 105.9h0M251.9 126.1h0M272.8 135.3h0M256.7 105.7h0M249.3 141.4h0M251.5 129.3h0M248.7 137.4h0M266.9 123.4h0M253.5 116.7h0M250.3 139.1h0M267.5 127.9h0M269.3 141.9h0M265.3 117.5h0M268.9 147h0M256.9 106.6h0M270.9 144.5h0M270.1 146.8h0M251.5 121.4h0M265.1 111.1h0M264.8 115.1h0M251.5 126.6h0M264.7 115.3h0M251.6 141.1h0M254.1 121.3h0M256.4 145.8h0M263.7 112.2h0M267.7 125.4h0M257.1 147.9h0M253.6 108.8h0M248.9 137.1h0M251.8 132.6h0M252.1 144.4h0M271.7 138.5h0M249.2 143.4h0M260 104.3h0M267.6 147.5h0M251.2 119.7h0M268 124.4h0M251 137.6h0M252.4 131.4h0M265.9 117.6h0M251.5 116.3h0M268.5 130h0M253.6 109.9h0M271.2 140.9h0" stroke="#00BFC4" stroke-width="1.2"/>
<path d="M221.8 152.6 233 147.8 244.2 146.2 250.7 151 250.7 165.5 255.5 176.7 257.1 186.4 256 196 252.3 204 242.6 207.3 228.2 202.5 208.5 195 213 180 218.5 159.1Z" fill="#F8766D"/>
<path d="M215.7 173.7h0M233.9 195h0M224.6 185.9h0M240.7 178.2h0M238.3 174.3h0M238.2 174.3h0M250.5 191.7h0M226.1 177.2h0M233.7 191.1h0M232.1 185h0M241 206.6h0M227.2 186.1h0M221.4 188.4h0M229.7 194.8h0M222 166.5h0M238.9 152.6h0M255.9 183.3h0M243 158.5h0M231.4 180.3h0M231.2 158.2h0M241.7 162.5h0M222.6 193.9h0M241.6 190.6h0M253.3 198.3h0M233.8 180.3h0M222 169.9h0M235.6 148.3h0M243.5 167.5h0M242.1 190.9h0M238.6 150.8h0M235.9 167.9h0M243.2 189.7h0M232.9 190.9h0M215.5 196.1h0M248 171h0M253.8 180.5h0M219 179.3h0M249.9 187.6h0M232.9 202.6h0M217.3 168.5h0M216.7 187.1h0M212.4 193.2h0M235.7 159.7h0M252 178.5h0M241.7 198.2h0M218.2 182.4h0M236 192.1h0M241 177.1h0M229.8 158.9h0M221.5 186.2h0M235.3 180.9h0M234.2 204h0M249.8 162.3h0M221.5 189h0M240 187.1h0M235.5 191.5h0M236.1 166.9h0M239.6 188.1h0M253.2 185.1h0M233.9 167.8h0M229.2 163.7h0M238.6 198.8h0M237.3 158.6h0M222.8 188.3h0M235.5 202h0M241.5 151.1h0M248 156h0M245.3 155.5h0M234.7 168.9h0M243.5 203.7h0M211.6 189.8h0M212.6 193.8h0M250.1 154.7h0M251.5 173h0M227.2 159h0M232.5 182.7h0M247.2 205.6h0M228.2 172.9h0M226.8 198.7h0M231.5 185.7h0M222.4 187.8h0M226.4 194.1h0M232.4 202.4h0M235.1 198.6h0M229.9 187.1h0M221.5 182h0M240.7 157.9h0M234.9 202.5h0M218.3 176h0M249.2 172.2h0M231 202.9h0M240.8 193.6h0M226.4 201h0M248.8 151.8h0M240.6 201.5h0M240.1 205.5h0M221.2 182.1h0M234.4 164.2h0M246.5 172.5h0M240.1 194h0M210.5 187.6h0M253.1 176.7h0M253.3 171.3h0M233.5 202h0M221.9 157h0M255.1 168h0M248.9 159.9h0M254.1 184.1h0M208.9 189.3h0M217.7 163.5h0M250 149.4h0M224.7 151.9h0M251.9 173.1h0M253.1 174.2h0M210.7 194.2h0M218.9 198.4h0M208.3 197.2h0M255.1 186.2h0M257 192h0M217.1 163.7h0M229.6 148.4h0M224.2 149.7h0M223.6 151.6h0M213.7 184.8h0M246.3 204.6h0M218.5 195.7h0M223.7 200.5h0M210 182.6h0M245.6 203.9h0M254.1 175.8h0M240.7 144.6h0M258.1 190.8h0M250.2 153.5h0M215.9 163.2h0M210.8 192.8h0M252.2 171h0M247.1 206.2h0M253.6 199.7h0M233.6 201.7h0M218.8 159.8h0M252.3 170.1h0M231.7 202.4h0M249.3 204.3h0M216.5 158.1h0M250.7 158.8h0M222.6 201.2h0M237.5 147.3h0M241.2 208.6h0M216.6 159.8h0M215.7 193.7h0M227.2 150.7h0M220.7 153.9h0M242.9 204.8h0M236.8 206h0M216.8 159.9h0M235.1 204.9h0M250.7 158.3h0M256.1 192.4h0M204.3 195.8h0M258.8 186.5h0M248.3 150.3h0M258.2 188.2h0M240.8 146.7h0M239 147.5h0M241.5 148.1h0M249.4 206.6h0M254.3 177h0M249 151.8h0M206.2 194h0M232.3 202.7h0M212.2 180.4h0M250.4 149.9h0M229.7 203.5h0M251.3 168h0M251.1 202.1h0M254.8 199.1h0M236.8 204.4h0M239.1 205.9h0M217.4 163.6h0M227.7 203.7h0M255.7 181.2h0M213.5 186.7h0M248.6 148.3h0M208.8 190.3h0M234.9 202.3h0M252.6 165.3h0M210.2 194.5h0M241.1 147.5h0M228.5 148.2h0M253.2 165.9h0M249.5 208.6h0M228.1 204.8h0M253.9 175.2h0M236.8 205.9h0M218.8 154.2h0M222 150.4h0M211.8 197.6h0M252.6 171h0M251.3 202.4h0M210.8 185.1h0M214.8 174h0M217.4 157.4h0M257 187h0M255.9 176h0M257.2 177.9h0M210.1 186.4h0M219 159.2h0M241.4 205.5h0M253.6 196.9h0M220.8 200.7h0M254.6 192.8h0M237.9 205.7h0M249.8 151.5h0M238.1 146h0M256.7 189.8h0M247.9 166.7h0M248.9 148.6h0M219.7 158.7h0M216.4 196.2h0M258 188.6h0M221.8 154.4h0M240.2 146.6h0M256.4 180.2h0M215.4 170.5h0M218.2 158.3h0M210.1 183.9h0M250.7 149h0M241.6 207h0M234.3 146.6h0M230.4 147.7h0M214.1 174.3h0M222.3 153.3h0M238.7 145.4h0M236.3 146.7h0M213.6 197.9h0M230.8 204.8h0M251 159.2h0M258.8 191.1h0M218.4 161.5h0M250.5 156h0M231.7 147.7h0M224.5 202.5h0M239.3 148.8h0M242.3 204.8h0M252.1 164h0M229 150.9h0M223.4 201.6h0M207.7 194.9h0M255 174.1h0M248.4 147.4h0M220.6 154.5h0M251.5 163.5h0M251.6 162.3h0M260.8 182.9h0M250.8 160.9h0M252.6 162.3h0M218.3 163.6h0M235.7 146.8h0M214.1 180h0M243 207.3h0M225.8 148.7h0M247.9 145.4h0M225 200.2h0M238.7 206.7h0M251.5 161.5h0M252.6 171.8h0M218.1 164.4h0M209.3 194.3h0M222.1 201.4h0M217.7 165.5h0M252.6 160.1h0M254.9 176.4h0M215.7 176.9h0M256.2 197h0M255.4 200.7h0M213.2 185.8h0M220.4 153.4h0M214.7 171.4h0M209.9 190.5h0M256.2 199.7h0M217.1 198h0M247.9 161h0M252.2 164.2h0M250 156.6h0M218.5 200.4h0M216.4 159.7h0M208.8 191.8h0M251.2 167.4h0M221.4 201.9h0M255.3 181.4h0M212.6 181.6h0M251.7 201.3h0M249.7 162.7h0M255.2 172h0M234 148.5h0M256.8 182h0M256.5 179.8h0M253.7 198.9h0M223.9 199.4h0M217.4 164.2h0M211 182.2h0M238.2 206.9h0M256.9 181.4h0M250.7 150.5h0M235.7 206.3h0M231 147.9h0M229.7 147.6h0M229.1 203.1h0M246.3 150.2h0M212.7 179.7h0M221.8 199.8h0M246.3 206.7h0M217.5 162.7h0M243.9 146.9h0M252.7 173.8h0M248.7 204.5h0M220 156.3h0M234.3 146.3h0M233.8 203.4h0M216.8 166.4h0M243.8 148.2h0M214.9 197.5h0M218 199.8h0M257.5 184.8h0M244.4 206.1h0M216.7 164.1h0M256 201.4h0M253.8 199.4h0M239.7 206.3h0M226 146.8h0M210.8 186.2h0M230.5 145.9h0M220.1 153.4h0M222.2 157.5h0M210.4 184.3h0M214.5 170.8h0M230.7 201.7h0M254.9 171.2h0M234.6 204.1h0M218.7 196.9h0M247.8 149.2h0M208 192.9h0M254 172.4h0M247.9 205.1h0M253.2 166.9h0M249.7 172.2h0M216 171.7h0M209.1 190.2h0M232.1 148.8h0M210 190.4h0M215.8 166.1h0M215.9 201h0M216.8 199.7h0M251.1 165.2h0M218.7 198.3h0M255.7 185.2h0M218.3 163.6h0M217.8 198.8h0M254.7 177.7h0M217.5 172.9h0" stroke="#F8766D" stroke-width="1.2"/>
<path d="M251.4 153.1 258.5 151.1 263.6 153.1 264.1 161.3 262.6 169.5 260.6 175.6 256.5 177.6 253.4 173.6 250.3 165.4 251.4 159.3Z" fill="#C77CFF"/>
<path d="M255.3 163.7h0M255.2 154.4h0M261.8 158.5h0M252.1 154.2h0M257.6 165h0M256 176.6h0M255.5 163.7h0M259.8 175.7h0M261.7 159.8h0M260.6 170.7h0M261.1 153.2h0M253.2 154.3h0M256.7 152.8h0M257.9 175.6h0M259.7 154.9h0M251.7 159.7h0M253.1 170.2h0M263.4 163.6h0M254.6 174.6h0M254.4 170.2h0M264.7 156.7h0M253.6 177.2h0M263.3 154.2h0M251.6 160.2h0M254.3 175.8h0M252.1 167.7h0M263.4 163.6h0M262.2 167.5h0M264.2 158.1h0M264.5 156h0M263.6 168.3h0M250.6 165.1h0M262.1 174.1h0M250.9 162.8h0M257.4 151.9h0M264.6 159.9h0M253.6 152.8h0M251 158.6h0M254.8 152.2h0M260 176.5h0M254.3 173.4h0M265.1 152.9h0M251.8 155.3h0M252.4 152.6h0M264.6 157.1h0M261.4 150h0M254.2 175.2h0M260.7 175.2h0M256.1 178.5h0M256.5 175.8h0M250.6 155.6h0M251.4 169h0M263.9 161.8h0M250.6 167.1h0M262.2 170.4h0M251.1 153.9h0M262.2 173.3h0M252 152.3h0M250.7 160.2h0M263.9 159.2h0" stroke="#C77CFF" stroke-width="1.2"/>
<path d="M208.5 195 228.2 202.5 242.6 207.3 252.3 204 253 209 241 213 240 222 238.3 231.6 233.5 240.2 224 249.8 219 253.6 213.7 241 208.9 228.2 205.7 221.8 207.3 204.1 209 192Z" fill="#EA8331"/>
<path d="M221.6 244.4h0M222.8 218.8h0M235.6 234.2h0M224.2 215.9h0M213.1 200.7h0M235.2 213.1h0M213.7 203.9h0M233.2 237.6h0M240 213.9h0M209.5 200.7h0M237.7 211.2h0M219.6 207.7h0M222.4 214.7h0M216.4 205.5h0M235.2 235.3h0M221.4 249.6h0M219.6 203.8h0M207.8 208.2h0M208.5 223h0M215.5 231.5h0M208.2 221.8h0M211.6 199.8h0M213.4 201.1h0M217.7 221.9h0M208.3 205.3h0M235.4 234.8h0M227.7 238.6h0M217.5 245.3h0M229.4 242.3h0M230.3 243.3h0M224.2 224.4h0M232.9 234.4h0M218.1 230.5h0M227.7 216h0M225.1 233.5h0M223 230.7h0M235.5 217.1h0M236.3 232.5h0M236.6 217.7h0M225.7 233.3h0M211.9 231.3h0M236.9 223.4h0M220.9 221.5h0M212.5 223.2h0M239 209.6h0M234.3 217.9h0M210.8 217.2h0M233.8 209.2h0M229.8 219.5h0M226.4 223h0M219.5 226.9h0M219.7 250.5h0M220.4 215.8h0M222.8 202.2h0M224.2 215h0M224.2 225.7h0M244.4 211.3h0M240.5 215.2h0M212.6 207.4h0M220.4 223.6h0M237.2 232.7h0M220.3 212.8h0M218.8 202.8h0M207.9 221.2h0M215.4 221.7h0M215.5 240.8h0M223.6 215.5h0M227.2 233.6h0M207 216.7h0M225.6 217.2h0M227.1 246.4h0M211.7 206.1h0M217.8 204h0M235.5 209.5h0M231.2 218.8h0M219.4 200.5h0M221.1 243.4h0M209.4 201.9h0M211.9 229.3h0M207.2 208.7h0M220.2 198.5h0M242 208.9h0M210.9 205.5h0M244.9 211.8h0M222.3 251.1h0M250.2 210.6h0M206.8 189.9h0M241 205h0M240.6 217.9h0M240.2 213.2h0M244.1 205.9h0M221.8 201.7h0M240 217.9h0M245.6 207.8h0M213.3 197.4h0M209 210.9h0M244.2 213.4h0M209.1 194.8h0M220.1 252.7h0M236.8 234.8h0M214.5 242.2h0M238.5 214.9h0M233 202.5h0M218.7 251.8h0M240.2 217.7h0M204.8 210.1h0M248.5 210h0M245.7 204.4h0M239.2 206.9h0M248.8 199.8h0M249.9 205.2h0M231.7 242.4h0M242.1 212.7h0M208.4 196.1h0M242 206.6h0M209.3 199.2h0M242.7 210.8h0M234.3 235.9h0M205.8 197.7h0M206.1 227.6h0M205.9 198h0M232 244.8h0M249.5 210.6h0M215.6 245.6h0M215.7 243h0M217.1 198.1h0M228.2 202.5h0M209.1 197.4h0M211.8 235.7h0M205.3 220.4h0M241.5 204.6h0M213.6 193.3h0M252.3 211.4h0M228.3 203.4h0M243.1 209.9h0M242.9 211.3h0M217.6 199h0M203.3 216.7h0M205.6 211h0M243 212.3h0M229.5 245.5h0M206.5 211h0M240.9 219.1h0M234.3 240.5h0M249.5 208.6h0M235.1 233.6h0M249.3 210.8h0M204.1 218.7h0M235 205h0M212.2 195.5h0M207.9 208.2h0M236.7 204.5h0M228.1 248.2h0M213.9 239.5h0M247.5 214.7h0M209.3 199.5h0M244 211.3h0M241.3 205.2h0M218.9 197.5h0M207.5 206.9h0M242.9 203.8h0M206.2 208.2h0M239.1 230.7h0M202.7 200.2h0M222 200h0M204.4 214.2h0M207.8 196.7h0M214.1 239h0M230.9 203.2h0M208.8 193.9h0M206.9 225.8h0M245.3 207.2h0M210.6 194.5h0M221.5 197.8h0M229.3 203.1h0M211.6 197.5h0M222.8 248.7h0M241.2 223.2h0M222.2 200.9h0M237.5 237.1h0M206.6 207.1h0M225.9 201.8h0M218.2 250.6h0M235.1 205.2h0M233.7 241.1h0M241.4 214.3h0M252.7 208.9h0M209 196.2h0M227.3 248.4h0M236.6 228h0M215.1 240.5h0M237.5 206.7h0M207.5 193.1h0M210 193.4h0M240.5 209.2h0M216.5 250.8h0M231.4 202h0M253.9 204.6h0M235.3 235.5h0M207.5 227.5h0M206.1 212.8h0M248.8 212.9h0M216.3 247.7h0M213 198.7h0M205.6 209.4h0M215.3 245.3h0M208.3 205.2h0M242.5 207.7h0M235.1 236.8h0M210.7 234.5h0M212.1 197.7h0M206.7 219.6h0M215.1 241.1h0M207.6 226.5h0M235 209.3h0M208.5 229h0M228.9 244.7h0M232.5 203.7h0M229.2 201.4h0M205.5 216.3h0M241.2 220.6h0M252.6 203.9h0M241.8 215.7h0M213.2 244h0M231.2 202.8h0M234.4 204h0M215.8 250.2h0M207.5 208.3h0M215.4 245.2h0M211.1 196h0M254.7 208.9h0M241.4 212.1h0M240.3 214.1h0M238.8 213.2h0M250 207.1h0M209.3 220.4h0M250.6 208.9h0M240 223.9h0M237.9 234.5h0M209.9 197h0M245.6 212.7h0M211.9 242.4h0M244 213.4h0M210.5 225.2h0M238.4 218.4h0M212.1 196.6h0M234.1 242.6h0M240.2 213.9h0M251.7 204.3h0M254 208.9h0M206.7 193.1h0M211.9 237.3h0M231.6 244h0M217.5 254.2h0M225.9 249.3h0M240.8 217.7h0M238 231.7h0M236.2 233h0M207.1 202.7h0M242.8 212.6h0M233.8 204.2h0M222.2 202.9h0M244.2 211h0M225.8 248.5h0M224.7 248.5h0M211.6 236.7h0M217.2 248.6h0M220 198.7h0M236.4 220.1h0M242.3 217.4h0M227.7 203.9h0M224.1 249.3h0M206.7 227.4h0M214.8 199.1h0M234.1 241.3h0M229.2 203h0M207.7 225.7h0M226.9 243.5h0M219.1 199h0M233.1 240h0M250.1 203.6h0M244.9 204.4h0M216.1 247.2h0M238.8 219.2h0M208.5 200.7h0M208.5 205h0M206.2 215.2h0M241.3 223.2h0M205.7 206.2h0M221.4 199.9h0M209.2 228.1h0M240.7 212h0M204.3 214.6h0M212.5 197.2h0M223.6 248.1h0M218.9 203.9h0M250 208h0M228.6 248.2h0M228.8 204.1h0M215.4 240.3h0M234.7 239h0M244.9 205.4h0M229.9 241h0M242.1 228.2h0M213 198.4h0M213 241.5h0M212.4 239.2h0M207.3 205.2h0M207.6 199.2h0M243.2 214.5h0M216.9 250.1h0M222.3 252.3h0M218.7 196.3h0M212.6 236.9h0M252.2 206.8h0M236.5 225.6h0M219.8 250.9h0M234.3 240.7h0M252.2 208.7h0M206.2 210.4h0M222.9 200.4h0M224.1 252.3h0M238.7 207.8h0M207.3 201.3h0M208.4 198.9h0M210.5 240.8h0M204 210.5h0M207.3 229.9h0M216.6 248.1h0M207.5 233h0M207.1 203.5h0M245.1 207.8h0M210.8 236.6h0M237.1 206.6h0M239.2 235.3h0M245.1 212.7h0M220.4 250.7h0M219.6 250.5h0M206.1 208h0M206.4 219.6h0" stroke="#EA8331" stroke-width="1.2"/>
<path d="M241 213 252 210 254 213 253.1 228.2 250.7 247.4 247.4 260.3 241 269.9 231.4 268.3 223.4 260.3 219 253.6 224 249.8 233.5 240.2 238.3 231.6 240 222Z" fill="#C09B00"/>
<path d="M240.2 242.2h0M250.8 233.8h0M236.9 268.9h0M243.4 253.1h0M251.6 237h0M223.4 256.7h0M240.4 259.8h0M240.2 240.9h0M233.9 242.4h0M252.5 231.1h0M250.8 230.7h0M251.8 218.1h0M242.2 246.1h0M242.1 257.6h0M221.6 254.3h0M248.7 244.2h0M244.1 258.3h0M248.1 248.3h0M233.6 266.9h0M239.4 252.6h0M243.8 232.1h0M239.9 226.2h0M236.2 248.8h0M235.2 251.7h0M237.2 237.2h0M251 241h0M245.2 221.3h0M251.2 237h0M220.9 252.9h0M225.2 257.5h0M239.9 266.7h0M229.3 246.3h0M240.6 221.4h0M240 253.4h0M230.4 255.8h0M233.2 251.7h0M240.6 258.7h0M244.8 224.3h0M248.5 228.6h0M242.3 213.3h0M251.1 216.7h0M237.4 257.6h0M244.3 221.8h0M222.3 256.9h0M245 256.1h0M248.2 234.5h0M229.1 257.5h0M251.4 235.7h0M236.6 239h0M247.6 223.8h0M236.7 236.7h0M238.4 254.6h0M250.9 215.5h0M246.3 229.9h0M244.6 251.1h0M245.9 245.6h0M248.3 232.9h0M242.4 236.8h0M251 215.7h0M249.4 210.8h0M248.9 215.1h0M243.4 216.1h0M246.3 223.3h0M239.2 260.8h0M246.7 215.6h0M222.4 252.8h0M248.6 220.8h0M250 211.6h0M245.9 247.6h0M249.3 227.4h0M242.1 267.2h0M245.4 255.8h0M250.6 224.2h0M236.7 253.7h0M226.9 253h0M243 223.8h0M246.7 241.3h0M224.8 253.9h0M224 253.8h0M237.9 258.4h0M243.1 267.2h0M224.2 248.6h0M245.3 265.9h0M231.7 247h0M247.8 240.3h0M250.5 249.5h0M238.6 226.9h0M227.7 266.6h0M238.5 221.2h0M245.6 207.8h0M242.5 224.7h0M248.2 214.2h0M228.4 248.9h0M228.2 266.7h0M254.7 214h0M252.2 243.7h0M243.9 270.7h0M230.1 267h0M241.6 270.7h0M244.5 211.8h0M241.9 214.6h0M251.6 251.7h0M222.8 247.2h0M241 223.3h0M240.1 216.5h0M250.9 225.4h0M234.8 228.7h0M236.3 272.3h0M222 256.7h0M252.6 236.5h0M252.5 219.6h0M228.2 269.5h0M239.2 224.7h0M248.3 265h0M238.8 225.5h0M222 253h0M243 211.9h0M238 221.4h0M250.7 216.9h0M251 232.3h0M231.1 266.4h0M240.1 222.1h0M253 218.6h0M251.4 241.6h0M245.8 210h0M253.4 213.9h0M248.3 263h0M230.6 266.2h0M239.6 269.7h0M248.7 210.8h0M246.2 265.2h0M243.1 264.2h0M239 224.4h0M253.6 247.2h0M218.8 260.7h0M242.2 267.1h0M229.7 243.8h0M222.5 264h0M241.6 214.6h0M221.1 258.2h0M249.2 250.5h0M245.4 263.5h0M237.5 231h0M251.8 253.9h0M238.9 224.3h0M242.4 264h0M236.3 220.1h0M255.7 222.9h0M230.1 241.7h0M246.3 264.2h0M253 233.4h0M225.9 265.7h0M246.5 213h0M250.7 227.4h0M235.2 236.7h0M237.2 269.7h0M251.2 249.9h0M253.5 217h0M249.9 218.8h0M252.5 232.6h0M243.3 266.6h0M243.6 210.7h0M250.7 226.2h0M248.2 263.6h0M236.4 230.3h0M238.3 235.6h0M239 223.1h0M254.5 229.5h0M252.7 216.9h0M235.2 238.6h0M222.5 252.4h0M250.8 236.8h0M246.8 262h0M238.9 222.1h0M233.8 240.9h0M241.5 223.6h0M241.7 268.9h0M252.5 229.2h0M234.4 267.5h0M254.7 216.6h0M255 216h0M252.6 212.7h0M254.8 236.5h0M252.4 223.5h0M250.1 237.5h0M220.3 253.9h0M219.9 256.4h0M248.4 211.7h0M235.8 234.6h0M234 239.3h0M239.2 222.3h0M252.9 227.7h0M224.5 249.5h0M233 267.1h0M220.9 253.1h0M238.1 227.7h0M253.3 212h0M235.8 234.5h0M238.6 233.3h0M221.2 261.4h0M249.3 256.9h0M232.6 268.3h0M252.5 216.4h0M227.7 248.6h0M232.2 267.8h0M229.5 267.1h0M220.8 250.5h0M253.1 214.5h0M248.4 209.1h0M252.9 218.9h0M250.9 210.9h0M231.5 243.2h0M253.6 217.4h0M247 254.5h0M222.3 257.8h0M250 239.5h0M238.9 224.7h0M239.5 225h0M247.4 255.9h0M227.8 264h0M228.1 243.8h0M239.9 217.6h0M221.3 253.5h0M244.7 266.9h0M246.9 209.7h0M222.8 254.4h0M220.3 256.7h0M219.8 254.4h0M251 250.8h0M236.6 235.3h0M226.2 263.5h0M249.8 256.3h0M255.4 234.5h0M242.6 212.8h0M224.7 250.5h0M253.3 248.6h0M235.6 233.8h0M248.9 247.6h0M252.2 245.3h0M228.6 242h0M246.5 252.8h0M238.7 212.7h0M229.9 267.7h0M240.9 222.4h0M252.8 216.5h0M248.7 210.7h0M243 212h0M237.5 231.7h0M240.4 269.9h0M222.8 249.3h0M233.6 271.4h0M241.8 216.7h0M232.7 238.6h0M241.8 269.2h0M257.2 223.3h0M250.4 255h0M248.7 258.2h0M250.3 253h0M222.7 250.5h0M235.6 238.7h0M232.6 237h0M251.2 226.4h0M252.1 225.3h0M223.2 257h0M223.3 248.8h0M228.8 243.9h0M241 228.4h0M251.7 248.6h0M247.9 207.2h0M248.9 254.7h0M252.7 246.5h0M254 215.1h0M220.8 253.7h0M236.1 271h0M224.5 261.4h0M235.8 232.5h0M226.4 262.9h0M238.2 229.3h0M234.6 242.1h0M235.3 271.7h0" stroke="#C09B00" stroke-width="1.2"/>
<path d="M108.8 190.4 111 186.1 114.6 184.6 117.5 189 123.4 196.3 122.6 197.7 116.1 193.4 111.7 191.9Z" fill="#FA62DB"/>
<path d="M109.4 189.8h0M113.7 188.9h0M114 192.3h0M114.9 190.6h0M110 189.8h0M118.4 194h0M117.9 192.8h0M119.5 195.1h0M111.6 189.1h0M118.1 191.2h0M110 190.3h0M122.5 195h0M120.6 193.5h0M109.4 189.2h0M109.6 187.3h0M114.1 191.7h0M119.1 196.4h0M121.5 197.1h0M112.5 192.7h0M122.5 196h0M115.5 188.3h0M113.6 192.5h0M118.8 195.8h0M111.1 187.6h0M114.9 193h0M118.2 190.5h0M114.7 194h0M114.8 193.5h0M113.2 192.8h0M111.1 185.7h0" stroke="#FA62DB" stroke-width="1.2"/>
<path d="M151.1 201.4 155.5 203.6 159.9 206.5 165 204.3 165.7 210.9 164.2 216.7 168.6 218.2 162.8 222.6 155.5 225.5 149.6 222.6 147.4 215.3 148.9 208Z" fill="#00B0F6"/>
<path d="M154.6 219.9h0M161.1 220.1h0M161.1 218.7h0M151.7 204.2h0M150.3 217.2h0M154.3 203.8h0M160.7 221.6h0M162.8 213.2h0M153.1 219h0M162.5 220h0M150.8 219.3h0M153.2 223.4h0M154.2 220.6h0M155 219.6h0M156.7 206.5h0M151.8 208.3h0M149.9 222.3h0M160.8 206.4h0M153.7 210.8h0M151.3 202.1h0M161.5 223.7h0M162.5 206.5h0M166.4 213.6h0M152.5 201.4h0M152.4 223.1h0M166.6 217h0M149.4 206.9h0M166.7 212.4h0M148.9 212.6h0M165.9 216h0M154.4 224.1h0M164.2 215.8h0M147.6 216.4h0M164.7 205.9h0M162.1 205.7h0M155.2 203h0M165.9 216.5h0M148.1 221.1h0M167.5 219.4h0M147.5 212.8h0M158.6 224.2h0M162.4 221.6h0M165.5 221.8h0M153.3 203.8h0M158.5 225.5h0M163.2 206h0M156.7 202.9h0M158.5 205h0M161.5 205.4h0M154.6 225.8h0M165.5 210.3h0M166.7 211.2h0M166.9 217.1h0M150 205.4h0M165 207.6h0M166.2 211.7h0M165.4 209.3h0M164.4 212.8h0M164.3 211.2h0M148.1 214.8h0M149.7 203.5h0M166.5 217.2h0M150.1 211.2h0M157.6 205.7h0M164.1 221.8h0M148.3 214.3h0M157.6 205.1h0M152.5 201.1h0M165.5 216h0M164.2 220.3h0" stroke="#00B0F6" stroke-width="1.2"/>
<path d="M100.1 232.1 105.7 234.1 112.9 240.3 121 247.4 129.2 251.5 133.3 253.5 134.3 258.7 133.3 266.8 129.2 270.9 123.1 270.9 119 268.9 115.9 266.8 101.6 264.8 102.7 256.6 101.6 248.4Z" fill="#00BF7D"/>
<path d="M122.4 250.1h0M105 240.1h0M107.2 258.2h0M110.6 250.8h0M112.8 246.9h0M120.1 262.6h0M109.5 256.4h0M126.2 265.8h0M112.4 249.9h0M110.5 252.5h0M102.7 259.8h0M124.8 270.4h0M126.7 260.5h0M131.8 257.6h0M113.2 260.7h0M107.6 242.8h0M129.5 252.1h0M131.9 255.4h0M119.8 251.8h0M106.7 245.7h0M130.7 258.4h0M107 263h0M114.4 262.3h0M102.4 245.8h0M122.3 268.2h0M123.2 260.1h0M116.5 257.1h0M125.7 263.2h0M109.3 260h0M114.4 266.4h0M128.4 258.5h0M112.4 249.1h0M111.4 244.2h0M123.9 253.1h0M111.4 244.7h0M106.2 235.1h0M105.4 256.2h0M131.9 258.7h0M111.9 253.9h0M104.7 235.3h0M117.5 257.3h0M101.2 242.6h0M118.3 258.4h0M123.4 257.8h0M102.6 234.3h0M112.5 264.7h0M108.3 252.3h0M108.5 251.5h0M118.4 262.6h0M123.1 253.4h0M114.9 257.5h0M109.3 240.3h0M115.4 252h0M115.7 246.4h0M128.1 253h0M109.2 262.3h0M105.5 248.7h0M106 247.9h0M113.1 252.7h0M105.3 243h0M121.4 248.3h0M100.2 231.2h0M133.1 263.6h0M119.7 245.4h0M116.8 244.8h0M132.6 267.1h0M118.2 244.9h0M120.5 270.1h0M114.3 266.3h0M129.8 269.7h0M121.8 268.9h0M120.4 243.8h0M118.3 268h0M103.5 249.1h0M102.6 248.3h0M111.4 239.5h0M132.6 250.5h0M103 265.8h0M119 268.4h0M132.4 260h0M103 251.3h0M101.8 244.3h0M120.7 270.5h0M123.9 252h0M100.7 236.9h0M129.2 270.2h0M133.4 253.9h0M111.3 240.5h0M100.6 236.4h0M103.9 265.1h0M107.7 236.4h0M116.6 245.2h0M100.6 240.7h0M108 237.2h0M108.4 266.6h0M119.2 269.1h0M126.8 270.3h0M105.6 264.9h0M134.2 254.7h0M114.6 266.6h0M102.5 247h0M120.5 269.7h0M125.7 270.8h0M114.3 265.3h0M120.2 245.4h0M133.8 253.7h0M102.5 267.9h0M118.9 269.3h0M112 238.4h0M100.3 247.3h0M133.4 262.7h0M125.1 247.9h0M115.3 243.5h0M101.8 240h0M98.7 265.3h0M131.5 251.8h0M120.1 245.1h0M101.9 248.9h0M114.9 241.4h0M124.8 272h0M109 264.3h0M101.5 240.4h0M105.8 265.1h0M111.1 238.5h0M125.6 271.5h0M100.6 244.9h0M126.1 249.8h0M111.2 239.6h0M106.6 234.7h0M101 253.2h0M101 239.2h0M132 269.9h0M131.4 254.4h0M135.1 262h0M117.5 244.9h0M134.6 267h0M131.8 269.6h0M124.6 272.1h0M110.7 237.2h0M102.1 235.8h0M113.4 266.7h0M119.3 267.5h0M102 251.5h0M105.9 234h0M119.3 268.2h0M134.6 257.9h0M111.6 264.9h0M101.8 239.7h0M107 235.9h0M116.6 243.2h0" stroke="#00BF7D" stroke-width="1.2"/>
<path d="M78.1 251.5 82.2 249.5 88.4 248.4 92.4 246.4 96.5 241.3 98.6 243.3 100.6 253.5 99.6 261.7 92.4 264.8 86.3 268.9 82.2 269.9 79.2 266.8 77.6 258.7Z" fill="#35A2FF" fill-opacity="0.85"/>
<path d="M89.6 255.6h0M78.7 258.9h0M93.8 255h0M87.5 261.6h0M90 253.2h0M92.7 258.7h0M79.6 251.6h0M98.2 245.8h0M89.6 259.5h0M85 258.4h0M80.5 263.2h0M93.3 264.3h0M83.1 256.8h0M97.4 253.8h0M90.7 253h0M94.6 259.3h0M95.5 257.7h0M83.5 256h0M80.4 260.5h0M92.6 255.6h0M86.5 265.6h0M94.2 259.8h0M87.2 264.7h0M87.9 250.8h0M78.2 260.6h0M87.2 263.8h0M97.1 251.6h0M88.1 263.2h0M80.7 264.3h0M88.4 259.8h0M87.9 254.2h0M89.6 251.3h0M83.1 258.1h0M94.7 246.8h0M90.8 248.1h0M92.8 259.6h0M86.9 267.8h0M95 245.3h0M94 246.8h0M92.9 261.3h0M78 253h0M82.1 256.4h0M94.9 247.4h0M84.6 249.4h0M82.3 264.4h0M99.4 258.2h0M93.5 261.9h0M96.4 245.2h0M82.2 251h0M87.5 264.6h0M80.3 264.3h0M84.9 256.3h0M87.6 263.4h0M95 246.4h0M83.5 268.6h0M90.1 255.9h0M96.9 253.9h0M90.3 255h0M97.8 257.5h0M93.8 263.3h0M98.7 261.3h0M79.4 267.5h0M80.7 270.7h0M80.8 268.2h0M100.6 249.4h0M98.4 240.7h0M94.7 243.8h0M98.8 258.3h0M93.4 264h0M77.1 261.2h0M77.5 250.1h0M85.1 270.1h0M95.7 261.4h0M97.5 241.6h0M95.3 263.7h0M97.2 242.4h0M79.3 263.8h0M94 244.4h0M100.1 251.1h0M95.7 244.2h0M94.2 244.6h0M81.8 268.6h0M95 246.2h0M99.2 246h0M82.6 249.7h0M78.2 258.5h0M78.4 259.5h0M102.2 249.1h0M78.1 258.5h0M94.3 244.5h0M95.8 241.6h0M97.2 261.9h0M95.2 245h0M78.6 257.8h0M78.2 253.1h0M87.7 249.8h0M100.6 255.1h0M101.7 254.4h0M79.8 250.5h0M78.3 252.2h0M81.8 249.5h0M76.6 252.9h0M89.7 265.7h0M102 256.5h0M99.3 252.4h0M78.1 263h0M88.3 247h0M99.4 249h0M86 247.2h0M97.4 252.3h0M80.4 267.9h0M79.2 264.1h0M90.2 246.9h0M97.5 242.5h0M85 269.3h0M93.4 246.6h0M82.8 249.5h0M77.7 259.7h0M81.1 250.2h0M78.3 259.3h0" stroke="#35A2FF" stroke-width="1.2"/>
<path d="M97.5 265.8 115.9 266.8 121 272 119 281.1 115.9 289.3 114.9 298 112 302 105.3 305.8 97.6 302.8 96.5 285.2 98.6 277Z" fill="#00C1A3" fill-opacity="0.92"/>
<path d="M104.6 303.4h0M103.8 272.1h0M107.1 296.5h0M112.1 299.4h0M112.3 299.8h0M106.4 289.4h0M110 283.5h0M107.5 294.1h0M100.2 299.1h0M113.9 273.9h0M105 299.5h0M106.9 299.7h0M106.1 305.1h0M105.9 282.6h0M100.8 297.2h0M98.4 297.1h0M108.7 300.2h0M109.1 274.9h0M102.9 266.5h0M107.3 286.4h0M115.8 275h0M113 286.9h0M110.4 290.5h0M116.4 268.2h0M98.5 282.2h0M108.9 289.9h0M111.3 285.5h0M99.8 293.2h0M114.3 270.4h0M99.1 285.3h0M112.8 281.7h0M99.9 289.7h0M98.8 300.4h0M108.8 295.3h0M105.9 266.9h0M102.7 291.8h0M104.3 305.2h0M104.2 294.1h0M99.5 284h0M98.3 298h0M116.4 267.5h0M98.6 295.6h0M99.2 289.2h0M105 288.1h0M115.1 273.5h0M103.8 270.4h0M106.5 269h0M97.2 295.1h0M113.8 267h0M112.5 292.8h0M104.9 277.6h0M102.1 289.9h0M99.8 287.7h0M106.4 286.3h0M115.1 274.8h0M104.2 285.1h0M104.5 293.1h0M100 302.5h0M119.6 270.8h0M108.4 279.6h0M96.8 267.8h0M109.2 304.8h0M96.5 297.2h0M115.7 296.2h0M117 268.3h0M99.1 302.5h0M121.7 273.3h0M115.3 295.8h0M118.9 271.5h0M98.7 276.2h0M114.5 289.4h0M96.7 298.8h0M118.2 266.9h0M103 305.6h0M120.7 278.3h0M111 266.8h0M117.8 278.9h0M102.6 266.8h0M103.9 303.9h0M107.8 303.6h0M97 281.8h0M102.8 265.2h0M115.9 290h0M97 266.6h0M117.6 283.7h0M104.3 266.4h0M95.7 289.6h0M106.6 266.7h0M99.5 296.4h0M112.7 303.8h0M98.4 277.4h0M113.8 301.6h0M96.9 302.3h0M119.7 275.8h0M97.1 268.2h0M118.1 269.8h0M96 282.9h0M97.7 300.5h0M114.6 300h0M116.6 285.1h0M106.6 266.4h0M97.7 289.4h0M121.6 271.4h0M98.5 278.3h0M99.6 278.6h0M119.8 269.9h0M119.7 277.7h0M97.8 296.1h0M97.9 292.1h0M105 266.1h0M96.5 285h0M96.6 285.7h0M100.6 303.3h0M97.8 277.5h0M96.5 267.3h0M118.6 270.6h0M97.9 272.8h0M98.6 281.7h0M104.9 305.3h0M107.8 265.8h0" stroke="#00C1A3" stroke-width="1.2"/>
<path d="M82.2 283.2 90.4 278.1 97.5 277 96.5 289.3 97.6 302.8 105.3 305.8 112 302 116 305.8 108.3 315 97.6 327.3 89.9 330.3 86.9 319.6 85.3 305.8 83.5 293.6Z" fill="#00BB4E"/>
<path d="M91.5 312.9h0M114.6 305.7h0M87.4 320h0M90.4 305.6h0M105.3 308.7h0M108.1 311.3h0M92.7 308.2h0M108.2 310.3h0M97 325.4h0M86.8 296.5h0M95 320.9h0M90.6 304h0M90.3 310.6h0M84.2 291.9h0M95.6 303.7h0M95.1 296.7h0M96 304.3h0M84.9 283h0M99.6 309.8h0M104.4 307.9h0M89.5 305.2h0M92.8 283.7h0M96.4 309.2h0M103.9 312.9h0M95.2 297.2h0M91.6 320.8h0M93.6 321.9h0M94.6 326.1h0M90.5 296.9h0M90.8 308.3h0M90.8 313h0M105.2 317.9h0M90.7 302.9h0M96.3 294.3h0M100.2 318.3h0M85.6 295.9h0M107.1 310.9h0M93.7 296.9h0M88.6 294.5h0M103.1 312.7h0M106.2 305.6h0M98.8 310.3h0M95.6 327.7h0M89 305.6h0M99.3 321.9h0M96.2 292.8h0M107.1 315.7h0M105.1 307.2h0M95.5 315.3h0M96.4 286.4h0M93.3 284.8h0M92.3 290.8h0M87 286.4h0M110.2 303.8h0M92.4 286.3h0M100.4 322.4h0M86.3 284.5h0M106 312.2h0M96.4 283.7h0M90.9 300.4h0M97.8 326.7h0M96 292.1h0M86.5 319.3h0M86.4 307.5h0M115 309.5h0M99.2 302.1h0M101.6 325.7h0M86.3 316h0M113.4 308h0M103.9 320.8h0M85.8 320.6h0M83.5 295.4h0M92.8 277.7h0M90.6 329.3h0M90.1 278.4h0M98.5 301h0M91.1 329.8h0M97 288.2h0M91.7 331.4h0M87.3 314.9h0M88.5 330.6h0M85.1 308.6h0M97.2 327.2h0M109.5 314h0M82.9 285.6h0M105.2 306.3h0M96.6 283.2h0M110.8 313.5h0M101.3 324.9h0M106.5 301.6h0M84.6 290.6h0M102.2 304.9h0M97.3 286.7h0M106.7 319.8h0M98.3 293.2h0M97.3 326.8h0M98.4 302.8h0M107.4 302.9h0M91.6 329.3h0M88.9 329.8h0M89.8 281.2h0M102.7 321.2h0M104.1 320.8h0M106.4 303.7h0M108.9 303.2h0M98 325.3h0M87.4 316.1h0M86.3 317.5h0M84.6 306h0M105.2 318h0M97.2 296.8h0M87 324.4h0M97.7 284.8h0M85.6 280.2h0M96.5 279.6h0M88.3 278.7h0M115.6 305.9h0M113.2 304.9h0M82.5 288.5h0M85.8 304.2h0M85.4 309.2h0M86.8 322.6h0M98 286h0M94.8 283.4h0M84.8 310h0M86.4 318.6h0M89.5 280.3h0M113.9 303h0M95 298.2h0M103.7 319.7h0M113.5 307.5h0M111.2 308.2h0M96.1 327.8h0M84.6 317.2h0M83.5 300h0M111.2 312.7h0M111 302.5h0M84.2 304.1h0M84.5 282h0M86.5 317.1h0" stroke="#00BB4E" stroke-width="1.2"/>
<path d="M165.8 289.8 172.2 288.4 176.4 291.2 178.5 301.1 179.2 315.1 179.9 332 176.4 337.6 175 327.8 170.8 325 165.8 319.3 163.7 308.1 164.4 296.9Z" fill="#00BAE0"/>
<path d="M172.7 309.7h0M172 303.7h0M166.5 303.1h0M175.7 317.8h0M175.2 325.2h0M173 297.7h0M171.4 296.3h0M175 321.3h0M169.1 317.2h0M175.2 313.6h0M167.8 294h0M169.7 295.8h0M164.5 301.9h0M172.9 293.3h0M171.5 312.4h0M167.2 320.6h0M166.2 301.4h0M172.5 319.6h0M173.1 313.8h0M167.3 297.4h0M170.3 295.4h0M173.8 323.7h0M177.1 302.7h0M169.9 313.6h0M177.2 319.4h0M173.7 313.5h0M170.4 303h0M171.4 299.2h0M170.3 294.8h0M175.8 322.4h0M178.5 334.8h0M175 333.4h0M164.2 314.9h0M175.6 330.7h0M174.8 326.7h0M164.5 298.7h0M179.6 311h0M180.1 328.7h0M163.6 303h0M180.5 329.5h0M176 331.3h0M177.3 335.6h0M164.7 292.6h0M169.5 323.9h0M164.2 315.2h0M167.8 288.7h0M179.1 324.4h0M165.8 317.3h0M177.3 298.2h0M164.4 315.6h0M162.4 298.5h0M163.6 316.8h0M165.9 321.1h0M178.6 310.8h0M176.9 293.8h0M164.5 294.5h0M179.2 325.4h0M164.8 301h0M170.6 325h0M164.5 296.9h0M169.8 289.3h0M164.3 310.9h0M165.2 318.6h0M175.7 333.7h0M177.7 296.9h0M178.5 301h0M163.8 297h0M180.1 323.2h0M165.4 316.3h0M165 292.9h0M179.5 303.8h0M172.6 288.9h0M169.9 288.9h0M180.1 326.5h0M164.9 308.4h0M164.4 312.3h0M176.2 331.6h0M166.7 290.6h0M178.7 307.4h0M178.4 295.6h0M176.7 296.3h0M178 295.2h0M169.3 289.1h0M178.3 335.7h0M178 317.1h0M179.2 318.9h0M179 309.9h0M164.8 311.2h0M181.1 312.3h0M178.2 296.6h0" stroke="#00BAE0" stroke-width="1.2"/>
<path d="M163 317 158.5 318 156 322 155 333 153.5 340 155.3 343 157.5 338 157.5 326 161 321Z" fill="#FF62BC" fill-opacity="0.85"/>
<path d="M157.3 320h0M160.6 320.5h0M156.1 322.1h0M154.9 338.2h0M156.5 331.5h0M156.1 333.6h0M157.5 323.7h0M157.3 324.6h0M156.3 333.8h0M157 336.9h0M160.1 320h0M156.3 330h0M155.2 342.8h0M158.9 322.7h0M155.8 338.8h0M158.6 320.5h0M155.2 341.3h0M159.3 320.4h0M161.1 320.2h0M156.8 327.7h0M154.2 337.9h0M154.5 338h0M154.8 342.8h0M157.3 331.9h0M157.4 330.2h0M161.9 317.6h0M161.9 319.6h0M155.3 333.7h0M152.5 337.5h0M155 342.1h0M160.4 321.4h0M161.5 316.4h0M157.5 324.3h0M156.7 334.1h0M155.5 341.6h0M154.5 337.1h0M156.2 343.6h0M158.1 333.1h0M154.7 339.5h0M162.1 320.8h0M155.1 340h0M153.7 339.9h0M160.3 322.4h0M160.7 316.9h0M160.8 322.1h0M154.2 341.9h0M157.2 320.6h0M157.6 332.4h0M155.5 327.8h0M152.9 341.6h0" stroke="#FF62BC" stroke-width="1.2"/>
<path d="M145.4 347.2h0M146.2 348.5h0M146.1 337.4h0M147 339.7h0M145.4 351.9h0M144.8 355.9h0M145.5 348.7h0M145 357h0M145.6 343.6h0M146.8 341.9h0" stroke="#FF62BC" stroke-width="1.2"/>
<path d="M147 345 152 341 158 342 163 347 172.2 351.6 179.2 352.4 180 358.7 178.5 369.9 175 375.5 165.1 378.3 156.7 384 151.1 376.9 147.6 367.1 146.5 357Z" fill="#7CAE00" fill-opacity="0.85"/>
<path d="M176.1 372.1h0M160.9 352h0M155 381.6h0M159.7 351.6h0M165.3 357.5h0M157.8 365.9h0M176.5 364.5h0M157.9 349.1h0M174.4 368.4h0M153.8 375.9h0M149.2 344.8h0M156.3 374.7h0M164.1 370.7h0M174.6 359.8h0M149.1 359.8h0M157.4 363.5h0M162.6 348h0M167.9 365.8h0M153.2 358.5h0M155 361.9h0M167.7 363.5h0M160.1 364.7h0M159.9 370.7h0M153.4 372.2h0M153.7 370.6h0M152.8 350.8h0M159.2 379h0M170.3 361.6h0M153.8 378.8h0M159.1 352.8h0M173.3 357.4h0M158.7 355.4h0M155.5 352.3h0M155.9 361h0M159.7 376.2h0M153.4 368.1h0M156.9 363h0M169.3 365.2h0M177.2 360.9h0M156.7 364.2h0M149.9 348.6h0M164.4 378.3h0M154.3 362.4h0M148.6 347.2h0M154 377.2h0M160.8 347h0M164.5 365.7h0M167.2 372.8h0M166.4 367h0M163.3 347.2h0M153.4 368h0M172 360.4h0M167.6 374.8h0M171.4 361.1h0M155.1 365.7h0M166.2 358.3h0M164.1 372.7h0M151 346.2h0M164.3 362.8h0M175.2 366.1h0M174.1 367h0M163.8 362.4h0M157.9 345.2h0M168.6 358.4h0M176.5 355.7h0M177.2 354.4h0M156.2 363.9h0M149 367.7h0M169.2 360.8h0M161 362.2h0M174.5 371.8h0M166 362.9h0M164.3 355.7h0M166.8 355.6h0M168.6 367h0M163.1 364.2h0M162.5 372.5h0M167.5 353.4h0M148.7 349.8h0M163.4 373.2h0M161.6 353.2h0M175.4 373.2h0M170.3 374.2h0M177.2 364.5h0M154.5 369.2h0M158.9 349.5h0M150.9 342.5h0M165.6 369.3h0M151.7 349.8h0M178.9 353.5h0M164.6 375.6h0M162.3 363.9h0M178.8 362.5h0M169 374h0M155 342.1h0M153.3 379h0M149.1 353.3h0M172.7 375.2h0M150.4 344.4h0M156.9 354.4h0M149.6 361.2h0M173.3 357.9h0M164 378.7h0M174 360.3h0M147.3 354h0M161 380.3h0M155.9 343.6h0M177.2 354.7h0M178 369.9h0M174.5 354.8h0M170.4 376.1h0M176.9 365.4h0M156.5 347.5h0M167.2 358.2h0M157.7 373.2h0M164.4 376.4h0M155.8 352.6h0M157.5 355.8h0M178 367.5h0M150.4 371.3h0M157.5 375.3h0M159.1 351.6h0M168.2 361.7h0M165.5 369.3h0M160.8 358.6h0M155.4 367.9h0M156.1 359h0M156.2 380.3h0M163.9 347.5h0M150.6 374.2h0M165.6 361.9h0M161.2 371h0M153.9 366.9h0M151.7 349h0M158.1 365.6h0M163 348.3h0M152.3 378.1h0M168.2 351.6h0M168.6 358.6h0M161.3 348.9h0M161.8 348.1h0M162.1 360.6h0M151.7 372.8h0M167.5 372h0M153 357.8h0M162.6 361.1h0M149.8 357.9h0M173 362.9h0M168.8 370.8h0M159.3 373.1h0M164.3 376.3h0M148 365.5h0M147.3 356.3h0M166.8 350.3h0M160.5 381.8h0M147.7 363.6h0M148.5 370.5h0M149.9 375.2h0M176.6 372.7h0M146.7 363.5h0M172.3 374.2h0M178.1 352.6h0M179.7 369.9h0M146.5 367.4h0M156.8 339h0M148.8 344.4h0M152.5 340.8h0M161.1 344.8h0M170.8 349.9h0M161.4 344.4h0M148.8 343h0M175.8 352.7h0M162.9 380.6h0M149.4 376.5h0M176.8 372.5h0M146.5 351.2h0M151.2 341.3h0M144.5 360.3h0M151 341.6h0M162.8 380.2h0M168.2 349.2h0M153 379.5h0M148.3 375.6h0M147.2 366.7h0M179.9 353.3h0M161.9 345.8h0M150.9 373.4h0M154.5 379.6h0M177.6 372.3h0M178.2 368.5h0M176.1 376.5h0M148.2 351.2h0M161.4 342.5h0M162.7 377.7h0M149.3 362.6h0M157.9 341.3h0M149.8 373.2h0M149.9 367.1h0M173 350.3h0M179.8 358.2h0M178.7 368.7h0M146.1 346.6h0M147.4 356.9h0M147 353.7h0M178.7 361.2h0M146.3 358.2h0M175.8 373.9h0M162.7 380.3h0M157.9 383.4h0M151.1 377.2h0M179.7 356h0M180.1 361.5h0M160.1 345.1h0M147.2 360.5h0M178 372.9h0M146.1 349.6h0M174.1 352.3h0M158.9 382.1h0M147.7 344.6h0M153 379h0M146.6 356.7h0M146 352.8h0M169.8 377.6h0M167.2 346.2h0M159.3 382h0M156.6 382.8h0M179.7 356.5h0M166.9 348.1h0M180.1 358h0M149.1 370.6h0M177.7 354.3h0M149.6 370.7h0M177.9 359.9h0M147.7 369.4h0M161 381.2h0M146.5 352.9h0M171.3 348.8h0M149.4 374.4h0M178.1 371.6h0M168.6 349.1h0" stroke="#7CAE00" stroke-width="1.2"/>
<path d="M171.6 340.7h0M161.7 334.5h0M163.8 330.5h0M161.3 332.8h0M162.7 330.5h0M167.4 331.3h0M172.4 343h0M172.2 330.8h0M169.8 334h0M173.6 333h0M176.6 333.6h0M164 346.3h0M165.7 325.2h0M168.1 342.1h0M163.7 341.2h0M165.6 337.2h0M174.3 335.6h0M171.8 331.7h0M170.5 344.8h0M165.2 324.9h0M160.5 326.3h0M172.9 327.3h0M174.1 333.4h0M162.9 338.6h0M167.4 324.7h0M168.4 338.7h0M167.2 333.8h0M175 342.7h0M172.3 344.5h0M170.2 329.4h0M167.2 335.2h0M161.4 331.3h0M166.9 324.9h0M173.8 331.9h0M168.3 344.5h0M173.6 330.3h0M168.9 324.6h0M175.4 341.2h0M174.3 336.4h0M176.6 331.4h0M162.5 333.8h0M162.4 338.1h0M171.4 328.7h0M161.6 345.7h0M172.2 339.4h0M175.6 345.6h0M167.1 338.5h0M173.3 340.2h0M172.5 329.4h0M173.1 342.9h0M168.8 337.2h0M167.3 339.1h0M173.8 342.4h0M167.8 327.9h0M171.3 343.4h0M162.8 337.8h0M173.4 329.5h0M174.9 337.3h0M161.4 345.3h0M160.6 345.1h0" stroke="#7CAE00" stroke-width="1.2"/>
<path d="M118.1 135.5h0M126.9 145h0M119.2 135.8h0M122.7 146.7h0M127.1 140.7h0M119.2 138.6h0M127.2 145.2h0M122.4 148.8h0M125 143h0M125.3 145h0M125 140h0M124.4 137.4h0M116.5 142.5h0M125.2 138.3h0M126.7 142h0M124 148h0M125.6 144.8h0M119.3 137.7h0M122.9 143.9h0M123.2 141h0M118.1 148.9h0M124.1 145.4h0M122.4 136.1h0M118.6 137.4h0M123.4 148.1h0" stroke="#E76BF3" stroke-width="1.2"/>
<path d="M155.4 137.5h0M165.9 138.9h0M185.9 142.9h0M211.9 153.4h0M184.1 143.5h0M153.5 137.8h0M201.7 149.4h0M217.8 155h0M162.6 138.8h0M208 152.8h0M218.4 154.9h0M180.1 141h0M207.9 154.3h0M196.5 146.6h0M221.3 153.9h0M198.5 149.6h0M170.3 142h0M198.9 149.9h0M174.3 143.6h0M175.9 142.7h0M151.8 136.8h0M156.9 137.4h0M163.7 140.4h0M198.3 149.6h0M188.3 143.6h0M180.4 143.1h0M194 146.3h0M171.8 142.8h0M173.3 143h0M193.5 146.9h0M203.2 149.6h0M202.2 149.9h0M188.9 144.3h0M220.8 153h0M219 153.6h0M219.1 154.3h0M171.4 142.5h0M203.6 152.2h0M158.5 137.7h0M219.9 154h0M190.1 145.2h0M155.2 137.3h0M159 136.9h0M196.5 147.1h0M198 147.7h0M176.3 142.8h0M182.2 142.4h0M208.7 152.5h0M205.9 153h0M204.3 151.7h0M177.3 144.1h0M175 142.3h0M197.7 149.5h0M158.9 136.8h0M199.2 149.1h0M199.3 149.6h0M205.1 151.8h0M169.4 140.7h0M175.8 144.6h0M169.5 141.2h0M181.7 140.7h0M195.7 149.5h0M181.5 141.1h0M213.5 154.6h0M190.6 145.5h0M206.8 151.1h0M219.6 153.1h0M207.6 152.7h0M165.3 138.5h0M174.2 142.6h0M154 136.8h0M178.9 142.8h0M181.3 142h0M173.6 142.9h0M177.9 143.7h0M164.7 139.7h0M205.8 152.7h0M179 141.1h0M153.2 135.9h0M183.4 141.8h0M175.5 142h0M163.3 137.7h0M198.8 149h0M180.9 142.3h0M206.7 151.6h0M193.9 146.2h0M218.4 154.8h0M175.8 143.4h0M153.5 138.6h0M163 137.6h0M204.4 151.5h0M164.6 140h0M192.5 145.7h0M159.4 137.2h0M211.8 153.7h0M178 140h0M172 141.3h0M213.4 156.5h0M199.9 148.1h0M194.9 145.6h0M214.4 154.4h0M208 153.4h0M151 138.7h0M214.1 155.2h0M164.1 139.9h0M201.3 150h0M172.8 142.1h0M170.1 143.4h0M180.4 141.4h0M150.9 139.6h0M209.2 153.1h0M169.3 141h0M195.6 147.7h0M160.3 138.3h0M156.8 136.6h0M152.2 140.5h0M183.6 143.3h0M182.4 141.3h0M202.3 150.3h0M180 142.3h0M185.9 143.6h0M189.8 145.7h0M159 137.2h0M178.2 142.8h0M209 153h0M220.3 156.3h0M185.2 143.1h0M171.6 142.6h0M211.3 153h0M188.9 143.8h0M153.3 137.5h0M161.8 137.7h0M195.3 148.5h0M159.8 136.2h0M188.5 143.9h0M217.6 154h0M189 144.2h0M183.9 141.8h0M205.6 152h0M189.2 142.9h0M208.9 154.3h0M151.2 137.5h0M210.3 153.4h0M162.3 138.3h0M165.4 140h0M191.6 144h0M198.7 147.8h0M163 138.5h0M207.3 153.4h0M185.7 143.6h0M202.7 152h0M174.9 144.6h0M175.9 143h0M187.5 145h0M198.3 146.6h0M204.2 151.4h0M173.5 144h0M196.4 145.7h0M169.5 141.2h0M201.4 147.3h0M178.7 143.1h0M215.4 156h0M201.5 151.5h0M156.7 136.6h0M195.2 147.2h0M178.4 142.3h0M172.6 145.9h0M164 139.5h0M200.6 148.5h0M210.7 153.2h0M180.8 142.6h0M185 142.6h0M175 141.8h0M208.2 153.8h0M221.4 154.3h0M182.5 141.1h0M182.6 142.7h0M163.7 138.1h0M171.2 141.5h0M178.7 141.7h0M178.4 143.4h0M163.1 138.6h0M174.5 142.4h0M155.3 136.5h0M171.7 140.5h0M197.6 146.2h0M213.3 153.4h0M166.4 139.3h0M199.3 148.6h0M165.4 139.6h0M216.9 154.2h0M167.6 138.9h0M153.6 138.3h0M217.4 154.4h0M174.1 142h0M165.2 138.4h0M182.7 140.9h0M210.3 151.9h0M178.9 143h0M181.6 143h0M196.3 148.7h0M151.7 137.2h0M214.3 155.6h0M199 150.4h0M192.6 145.2h0M175.3 143.3h0M220 155.6h0M155.4 135.2h0M150.3 137.5h0M192.3 146.8h0M200.4 148.9h0M159.9 138.4h0M209.4 153.3h0M182.2 142.3h0M173.9 142.9h0M201.6 150.4h0M181.2 139.2h0M161.5 137.4h0M181.7 142h0M154.1 136h0M171.8 143.5h0M192 145.1h0M156.7 138.3h0M179.6 143.4h0M185 142.1h0M153.7 137.4h0M166.5 138.9h0M154.7 136.4h0M187.8 144.3h0M195.8 147.9h0M150.1 138.6h0M190.5 144.2h0M211.2 153.6h0M153 138h0M192.6 146.3h0M171.5 141.6h0M160.7 136.3h0M211.7 154.2h0M173.1 144.2h0M210.9 152.7h0M214.7 153.9h0M168.5 140.1h0M213.3 154.2h0M214.5 153.3h0M150.8 137.2h0M213.1 153.4h0M195.1 147.7h0M152 136.5h0M187.9 144.2h0M210.7 153.1h0M212.4 152.6h0M213.6 153.7h0M187.1 141.5h0M158.9 136.4h0M173.7 144.1h0M170.9 142.3h0M194 147.7h0M169.2 141.5h0M189 143.7h0M172.2 142.9h0M181.7 141.8h0M196.1 149.7h0M207.3 150.8h0M154.2 136.8h0M181.4 142.8h0M172.9 141.9h0M194 146.8h0M201.3 148.4h0M201.6 148.6h0M163.1 137.9h0M161.1 137.6h0M210.9 153.6h0M173.7 142.4h0M200.4 148.4h0M151.7 138.4h0M191.8 146.1h0M164.9 139.4h0M197.4 149h0M157.2 136h0M212.7 154.2h0M197.6 149.3h0M195.9 147.8h0M183.6 142.3h0M205.5 151.9h0M181.4 142.6h0M195.9 146.4h0M179.1 142.8h0M150.9 137.3h0M183.2 141h0M207 153.1h0M197.7 147.5h0M156.8 136.6h0M153.4 138.1h0M162.2 138.5h0M195.5 145h0M173 142.8h0M168.5 140.9h0M211.8 153.7h0M151.5 138.4h0M208 151.9h0M174.3 141.6h0M208.1 151.8h0M172 142.7h0M187.3 144.8h0M160.5 136.8h0M170.5 142.8h0M195.4 149.7h0M199 147.5h0M162.6 139h0M196 148.1h0M222 154.8h0M195.3 146.7h0M169.4 143.6h0M198 149.6h0M192.7 144.7h0M196.5 147.8h0M209.8 154.4h0M216.7 156.4h0M162.4 137h0M167.2 141h0M159.8 136.7h0M221.9 153.9h0M221.1 153.2h0M202.8 149.9h0M193.2 146.4h0M162 137.6h0M171.7 144.9h0M159.3 136.5h0M175.4 141.6h0M158.9 136.7h0" stroke="#E76BF3" stroke-width="1.3"/>
<path d="M191.3 95.8h0M192.5 96.4h0M190.9 95.2h0M191.5 95.4h0M192 96.4h0M191.7 94.6h0M192.2 95.8h0M192.1 95.1h0" stroke="#FF6A98" stroke-width="1.3"/>
<path d="M170.9 211.4h0M171.9 207.4h0M172.1 210.5h0M171.6 214.5h0M172.1 212.8h0M171.1 210.5h0M171.9 210.2h0M171.3 209.3h0M171.6 208.7h0M172.1 209.1h0M171.9 214.9h0M171.5 211.2h0M171.5 209.4h0M171.6 208.2h0M171.5 210.4h0" stroke="#FF6A98" stroke-width="1.3"/>
<path d="M125.6 47.6h0M124.6 48.1h0M129.8 44.8h0M133.9 49.1h0M131.3 49.8h0M127.8 52.6h0M134.6 50.4h0M125.4 52.4h0M133 45.1h0M125 45h0M122.5 47.7h0M128.9 50.7h0M128.9 53.8h0M122.8 44.9h0M130.6 50.6h0M125.6 51.9h0M126.8 53.4h0M132.2 46.4h0M123 51.2h0M123.2 50.6h0M131.4 45.4h0M132.8 48.5h0M130.8 50h0M132 49.7h0M129.3 49.4h0M124.2 51.4h0M122.3 48.7h0M133.8 52.8h0M127.6 51.9h0M124.2 51.4h0M126.6 54.4h0M123.9 45.5h0M131 50.5h0M130.7 50.9h0M122.6 51h0M128.1 46h0M133.6 52.7h0M131.2 48.7h0M134.2 49.4h0M128.8 47.2h0M127.8 51.3h0M128.2 53.8h0M124.7 45h0M133.9 46h0M126.3 52.7h0M122.4 50h0M129.4 49.9h0M131 53.5h0M130.2 49.1h0M125 52.5h0M135.3 46.4h0M127.4 52.8h0M131.2 47.3h0M134.3 49.3h0M125.3 53.6h0M134.8 45.3h0M135.2 45.6h0M131.6 49.6h0M123.4 49.2h0M134.1 48.6h0" stroke="#fff" stroke-width=".8"/>
<path d="M132.2 74.9h0M125.5 92.9h0M134 74.5h0M121.8 91.1h0M121.1 89.8h0M119.1 79.7h0M114 89.3h0M119.9 72.6h0M119.1 75.4h0M116.6 85h0M128.5 74.1h0M121.4 75.6h0M132.7 94.1h0M137.1 92.4h0M134 78h0M128.2 72.8h0M135.6 75.2h0M129.6 91.3h0M126.3 85h0M130.4 70.8h0M138 88.3h0M124.9 78.4h0M119.4 88.5h0M117.2 91h0M130.8 96.7h0M122.5 77.2h0M129.7 73.4h0M135 85.2h0M130.4 79.2h0M126.2 87h0M128.8 93.7h0M123.6 82.9h0M122 97.8h0M130.4 81.2h0M134.1 78.2h0M123.2 78.7h0M123 74.2h0M127.5 74.2h0M124.2 92.8h0M136.2 89.8h0M122.3 76.1h0M119.6 78.1h0M130 93h0M115.9 83.6h0M132.5 90.9h0M114.9 87.2h0M118.4 95.2h0M135.4 73.6h0M123.7 89.8h0M123.2 80.7h0" stroke="#fff" stroke-width=".8"/>
<path d="M111.8 99.8h0M133.2 89.5h0M112.4 88.5h0M136.3 96.6h0M112.9 98.5h0M132.7 96h0M124.9 88.9h0M116.4 92.6h0M123.3 88.3h0M112.6 98.6h0M139.6 92.6h0M125.8 96.9h0M133.2 97.6h0M125.3 88.7h0M110.4 96h0M113.7 93.8h0M118.8 99.7h0M127.8 100.6h0M118.2 90.9h0M136.1 96.9h0M131.5 96h0M110.8 90.2h0M114.4 88.6h0M113.4 94.3h0M128 99.6h0M139.8 93.3h0M118.9 99.4h0M122.6 97.4h0M135.9 99.6h0M113.5 93.9h0" stroke="#fff" stroke-width=".8"/>
<path d="M267.8 134.1h0M263.8 138.7h0M263.9 134.2h0M267.1 140.4h0M264.5 135h0M267.5 137.2h0M263.4 134.7h0M266.9 135.5h0M267.4 133.4h0M262.7 133h0M268.6 138.7h0M264.9 132.5h0M267.4 138.6h0M263.8 136.6h0M267.7 142.5h0M268.4 137.9h0M265.6 135.9h0M267.5 135.1h0M267.3 134.6h0M263.4 139.5h0M266.3 137.6h0M267.2 135.8h0M263.1 135.7h0M263.6 132.6h0M265.6 132.5h0" stroke="#fff" stroke-width=".8"/>
<path d="M249.5 181.4h0M243.7 180.9h0M244 186.8h0M247.5 155.9h0M248.7 201.7h0M248.6 154h0M247.4 159h0M245.1 159.1h0M247.7 166.4h0M239.8 189h0M242.1 200h0M239.3 178.1h0M243 184.6h0M239.2 170.2h0M241.4 189h0M243 182.9h0M239.9 164.8h0M251.1 195.7h0M247.4 181.7h0M239 182.5h0M247.9 162.1h0M250.3 156.9h0M247 155.1h0M252.4 172.1h0M251.2 177.6h0M238.8 167.5h0M248 193.6h0M239.1 178h0M251.2 161.9h0M243.9 165.8h0M250.6 165.8h0M249.6 194.7h0M244.8 162.7h0M249.4 178.8h0M248.4 200.7h0M239.1 185.6h0M238.2 161.5h0M250.4 186.2h0M239.9 190.9h0M246.1 176.5h0M241 194.4h0M238 164.2h0M238.8 153.7h0M242.5 154.2h0M240.4 179.8h0M239.9 195.8h0M241.5 170.1h0M247.2 172.3h0M244.2 174.7h0M242.1 188.8h0M247.9 169.2h0M250 192.9h0M241.2 171.4h0M248.6 191h0M239.1 155.8h0M251.2 191.8h0M241.6 171.4h0M249.6 178h0M251.3 161.3h0M245.1 168.1h0M252.2 168.2h0M250.4 174h0M241.1 184.5h0M240.7 156.5h0M243.9 170.1h0M248.3 184h0M247.9 164.7h0M251.4 166.6h0M242.6 183.3h0M250 162.6h0" stroke="#fff" stroke-width=".8"/>
<path d="M238 220.6h0M237.8 223.4h0M225.7 207.6h0M235 233.6h0M235.4 209.1h0M229.5 230.4h0M237.9 225.7h0M238.9 216.7h0M231.6 214.7h0M228.2 214.1h0M234.3 233.6h0M227.1 223.8h0M231.7 232.3h0M232.9 206.6h0M232.1 213.7h0M229.4 206.2h0M237.4 210.9h0M238.7 209.2h0M232.3 230.7h0M228.9 209.2h0M236.1 222.1h0M237.8 221.6h0M231.1 228h0M228.7 229.4h0M229.3 209.7h0M233.5 213.9h0M230.9 208.1h0M229.6 217.5h0M227.2 225.8h0M229.7 232.5h0" stroke="#fff" stroke-width=".8"/>
<path d="M246.3 223.6h0M240.1 238.5h0M240.5 239.1h0M240.8 235.2h0M242.5 238.3h0M245.4 234.3h0M237.9 240.6h0M249 230.1h0M246.2 222.4h0M239.7 231.1h0M242.5 217.9h0M249.9 236.2h0M238.3 242.9h0M244.7 228.6h0M249.7 217.2h0M236.6 244.3h0M250.8 219.1h0M243.6 243h0M248.3 235.1h0M243.1 238h0M247.2 219h0M247.2 239.1h0M246.5 221.3h0M241.6 220.6h0M241.3 226.6h0M248.7 237.2h0M238 239h0M246.9 224.3h0M244.9 217.4h0M248.2 219.7h0M239.7 230h0M242.1 220.5h0M243.9 244.9h0M243.6 240.7h0M249.3 218.7h0M243.4 227.6h0M248.9 235.7h0M245.7 241.8h0M243.2 234.3h0M246.3 240.7h0" stroke="#fff" stroke-width=".8"/>
<path d="M166.7 359.1h0M170.7 358h0M168 355.4h0M168.2 366.8h0M162.6 370.9h0M162.5 358.2h0M171.1 369h0M162.4 373.6h0M170.6 362.6h0M162 374.2h0M165.3 367.7h0M168 362.5h0M153.7 353.1h0M168.5 356.7h0M174 365.8h0M156.4 366.3h0M173.1 356.5h0M166.9 364.7h0M167 356.8h0M175.8 369.8h0M160.4 365.1h0M167.7 367.3h0M159.4 366.7h0M162 370.4h0M160.2 362.6h0M166.5 355.2h0M165.3 374.6h0M169.5 364h0M153.6 366.1h0M161.5 360.5h0M164.5 355.2h0M169 362.6h0M173.8 371.1h0M160 373h0M164.9 369.8h0M151.7 357.8h0M173.6 354.3h0M153.6 360.5h0M168.4 369.1h0M173.1 359h0M173 354.1h0M176.6 357.4h0M158.3 354h0M165.9 373.1h0M159.1 374h0M156.5 358.4h0M154.7 362.4h0M161.1 358.2h0M161.3 357.3h0M162.2 353.3h0" stroke="#fff" stroke-width=".8"/>
<path d="M96.3 252.7h0M88.8 249h0M97.9 248.5h0M96.7 261.1h0M91.4 249.9h0M94.9 250.8h0M91.7 252.6h0M95.5 258.5h0M94 255.1h0M95.6 250.5h0M88.6 250.4h0M88.5 254.3h0M87.9 261h0M86.9 261.1h0M96.3 255.7h0M92.8 259.2h0M90.3 259.4h0M91.6 259.2h0M92.7 261.7h0M94 257h0M89 262h0M86.8 248.4h0M90.6 261.7h0M89.4 249h0M90.2 258.7h0M96.3 249.1h0M91.4 254h0M88.3 250.1h0M90.2 253.4h0M93.9 257.2h0M94 253.9h0M88.3 249.6h0M87.8 258.3h0M88.5 254.6h0M89.2 251.7h0M95.7 259h0M93 256.7h0M94.3 259.2h0M86 251.8h0M96.3 262h0" stroke="#fff" stroke-width=".8"/>
<path d="M100.5 292.4h0M110.8 290.4h0M113.3 295.9h0M108 285.2h0M105.2 280.7h0M114.9 288.5h0M103.5 281.6h0M113.5 283.9h0M114.1 291.4h0M109.9 287.6h0M105.3 279.9h0M111.5 294.8h0M101.8 290h0M117.5 278.1h0M111.2 282.1h0M114.3 289.7h0M110.3 294.5h0M100.6 284.3h0M111.2 286.9h0M109.6 298h0M107.1 294.8h0M102.7 299.7h0M109 299.3h0M105.1 282h0M105.6 282.3h0M101.8 294.7h0M110.2 287.9h0M105.3 287h0M106 279.3h0M106 285.7h0" stroke="#fff" stroke-width=".8"/>
<path d="M328.7 50 333.4 43.8 345 42.5 359 43.2 362 47 358 55 356.7 65 356 78 353 87.6 340 88 331 87 329.5 75 328.5 62Z" fill="#39B600" fill-opacity="0.15"/>
<path d="M335.8 44.6h0M343.4 47.8h0M355.8 55.1h0M336.1 84.1h0M338.9 57.7h0M347.2 67h0M338.5 70.6h0M335.7 73h0M339 52.8h0M340 54.5h0M355.2 77h0M332.2 83.4h0M356 46.8h0M345.1 66.4h0M345.5 43.4h0M353 67.5h0M352.1 57h0M329.9 64.6h0M352.1 61.1h0M353.6 76.3h0M336 60.9h0M336 82.6h0M343.7 43.2h0M352 66.9h0M351.6 48.4h0M331.7 81.4h0M353.2 79.7h0M346.8 69.4h0M330.9 61.9h0M347.4 55.5h0M331.2 82.7h0M333.6 65.9h0M351 64.9h0M358.3 53.2h0M346.8 61.5h0M360.7 49.3h0M331.8 50.3h0M356.6 62.2h0M344.2 72.9h0M335.3 62.5h0M348.8 43.7h0M343.1 69.2h0M342.5 51.5h0M355.2 67.7h0M352.9 43.5h0M343.4 45.5h0M339.3 47.8h0M339.8 61.5h0M348.7 48.4h0M332.9 49.3h0M354.8 57.7h0M337.6 54.6h0M334.8 83.7h0M350.9 52.3h0M354 75.9h0M343.1 73.1h0M337.9 75.7h0M335.3 48.3h0M341.2 74.6h0M352.4 55.2h0M329.6 67.6h0M353.6 44.2h0M333.2 63.3h0M335 60h0M334.5 74.5h0M351.6 43.3h0M333.3 72h0M342.4 56.3h0M334.1 55.1h0M355.6 59.2h0M350.2 46.7h0M347.6 44.9h0M336.4 85.3h0M332.9 66.5h0M348.5 52.7h0M331.1 77.4h0M344.4 50.4h0M340.4 67.9h0M345.1 62.5h0M342.4 86.9h0M334.3 53.4h0M343.8 56.6h0M351.7 48.8h0M340.9 78.5h0M347.3 49.1h0M354.1 69.6h0M334 58.5h0M343.4 68.5h0M346.6 49.1h0M348.5 79.3h0M335.6 45.8h0M341.6 60.3h0M354.4 80h0M332.9 83.8h0M347.8 81.8h0M355 64.7h0M356.9 57.4h0M339.3 69.7h0M341.1 52.1h0M355.5 79.5h0M331.3 74.7h0M333.4 46.5h0M343.4 83.2h0M359.1 43.7h0M350.5 53.3h0M349.5 85.3h0M348 84.1h0M351.6 53.4h0M340.3 54.3h0M338.5 72.9h0M344.9 83.6h0M335.1 48.4h0M331.5 53.8h0M352.4 50h0M349.9 84h0M349.5 51.9h0M354.1 80.7h0M346.2 59.9h0M348.8 47h0M350.6 52.8h0M349.8 56.6h0M340.9 84.7h0M339.9 78.4h0M332 74h0M331.1 65.6h0M337.9 84.2h0M342.9 71.3h0M352.4 75.5h0M353.4 51.7h0M352 47.7h0M343.9 62.3h0M343.1 67.8h0M332.8 62.8h0M355 68.4h0M334.7 73h0M339.9 64.4h0M344.6 60.4h0M347.8 71.2h0M353.9 49.1h0M359.1 45.9h0M344.8 80.7h0M340.4 47.2h0M351.3 75.6h0M342.1 72.5h0M350.3 70.9h0M343.7 51.6h0M339.9 61.1h0M355.8 76.2h0M345.6 56.3h0M357.7 44.3h0M340.6 57.7h0M344.7 44.5h0M342.8 49h0M356.4 57.8h0M350.3 53.3h0M343.2 55.6h0M343.3 76.6h0M354.6 45h0M358.8 45.1h0M336.5 84.1h0M350.5 57.4h0M338.7 75.2h0M341.9 46.5h0M349.9 65.6h0M357.8 46.9h0M350.7 77.7h0M345.4 78.9h0M335.1 48.1h0M346.8 87.2h0M349.3 56.7h0M349.8 43.3h0M351.4 48.9h0M337.9 81.9h0M338.7 78.5h0M338.6 70.8h0M346.3 73.2h0M347.5 87.2h0M355.2 77.7h0M349.1 43h0M338.7 80.9h0M332.4 59.3h0M337.1 77.6h0M339.9 50.9h0M347.7 59.6h0M340.5 58.3h0M334.8 63.8h0M353.4 44.7h0M332.3 74h0M337.1 67.5h0M346.2 50.1h0M353 50h0M355.3 47.9h0M344.7 72.9h0M332.2 73.5h0M330 51.7h0M330.2 71.1h0M351.1 53h0M336.9 86.9h0M343 54.8h0M351.1 75.2h0M346 46.5h0M337.2 78.9h0M337.8 49.8h0M337.9 76.6h0M349.5 56.1h0M339.2 77.3h0M343.2 44.4h0M346.9 82.5h0M346 77.4h0M335.2 78.1h0M339.5 58.7h0M353.3 68h0M343 58.7h0M338.9 82.5h0M347.9 77.5h0M352.5 45.8h0M345.1 73.4h0M353.9 70.6h0M344.4 84.9h0M334.4 73.8h0M341.6 43.1h0M356.9 47.6h0M356 62.8h0M337.9 67.8h0M345.5 76.8h0M331.9 62.8h0M346.1 77h0M356.3 44.5h0M336.5 49.6h0M358.9 47.1h0M357.6 51.2h0M340.4 52h0M350.3 74.2h0M333.1 75.7h0M347 73.5h0M356.3 63.5h0M337.5 59.3h0M338.4 85.4h0M350.5 67.1h0M345.6 62.8h0M340.9 51.7h0M338.3 77.9h0M335.5 81.3h0M355.6 53.5h0M332.3 81h0M348 81h0M360 50.8h0M350.3 54.1h0M345.1 48h0M355.3 60.2h0M333.4 48h0M342.5 56.4h0M352.1 50.4h0M338.8 84.7h0M340.1 48.3h0M334.9 83.6h0M333.9 52h0M347.9 59.1h0M330 61.4h0M335.7 61.1h0M347.7 64.9h0M332.7 73.1h0M335.5 79.3h0M345.3 44.3h0M342.8 59.4h0M333.2 78.7h0M338.7 44.8h0M345.5 70.7h0M336.4 69.6h0M340.4 44.8h0M337.5 83.1h0M334.9 54.2h0M339.8 62.3h0M334.8 52.8h0M355.1 69.8h0M335.7 87.1h0M339.9 67.4h0M349.9 87.1h0M351.8 81.4h0M342 56.3h0M354 70.2h0M343.3 47.2h0M343.6 46h0M352.9 52.8h0M346.2 64.1h0M335.2 76h0M339.4 46.3h0M338.5 63.2h0M341.8 52.4h0M349.2 77.9h0M341.7 53.1h0M338.5 51.5h0M331.1 48.2h0M356 64.6h0M339.1 84.7h0M342.1 62h0M346.5 43.6h0M345.6 80.2h0M346.2 50.1h0M349.2 77.8h0M345.8 65h0M355 57.8h0M338.2 60.9h0M340.1 72.8h0M353.9 65.9h0M351.7 60.7h0M343 86.7h0M346.2 69.1h0M332.3 78.3h0M337.9 62.5h0M336.8 72.3h0M336.1 68.5h0M342.8 68.9h0M348.8 69.3h0M335.1 80.6h0M345.8 80.8h0M330.3 65.7h0M339 46.2h0M340 64.6h0M332.2 70.6h0M350.9 67.5h0M353.8 56.2h0M336.4 73.2h0M351.8 83.9h0M344.6 53.2h0M333.1 57.7h0M342.7 76.5h0M353.4 51.6h0M350.3 69.3h0M359.7 49.1h0M350.7 45.6h0M355.8 65.6h0M359.3 48.6h0M344.4 74.1h0M330.5 68h0M337.1 54h0M346.1 57.7h0M348.3 86.6h0M331.4 85.3h0M354.6 71.2h0M340.9 77.3h0M347.7 52.1h0M337.6 56.4h0M339.8 68.4h0M345.9 49.4h0M340.2 86.5h0M332.6 79h0M347.7 77.6h0M355.3 68.1h0M333.5 64.4h0M339.6 81.1h0M354.4 78.9h0M333.8 66.7h0M342.2 60.7h0M351.9 43.6h0M342.4 85.7h0M346 52.6h0M332.7 51.4h0M331.4 79.8h0M351 71.2h0M354.5 63.5h0M354.8 79h0M351.3 51h0M352.9 54.7h0M331.4 49h0M337 87.6h0M354.5 54.6h0M337.7 77.4h0M347 83.1h0M340.5 51.4h0M353.4 45.3h0M338.7 61.5h0M347.3 66h0M334 49h0M350.6 59.6h0M335.2 58.2h0M352.1 68.3h0M336.8 83.9h0M338.5 45.1h0M350.1 72.6h0M358.5 43.6h0M336.4 85h0M332.2 77.4h0M342.1 57.3h0M352.4 62.1h0M336.6 46h0M357 59.8h0M333.7 52.5h0M351.1 86.7h0M340 58.5h0M330.5 77.6h0M357.3 43.5h0M339.5 83h0M342.3 78.6h0M342.5 86.3h0M331.5 75.9h0M357 56.9h0M346.9 65.4h0M330.7 52.8h0M338.1 85h0M340.9 50.7h0M337.8 46.3h0M335.3 46.7h0M333.4 44.1h0M342.2 80h0M332.2 59.6h0M338.8 56.4h0M339.7 46.2h0M342.8 81.8h0M340.6 85.4h0M341.1 68.7h0M331.9 52.8h0M338.6 71.7h0M342.7 70.6h0M337.6 47.2h0M354 69.3h0M344 51.4h0M334.3 62.9h0M338.3 74.9h0M344.1 68.9h0M345.6 42.8h0M337.3 43.5h0M327.6 61.9h0M327.9 54.6h0M330.8 45.9h0M356.5 60.9h0M361.1 46.4h0M355.3 67.1h0M355.3 82.4h0M355.9 73.6h0M353.4 82.8h0M355.8 82.5h0M354.6 81.2h0M330.3 62.7h0M363.4 47.3h0M351.4 42.6h0M328.2 69.8h0M356.7 75.9h0M337.7 43.2h0M332.3 87.1h0M354.2 86.8h0M334 88.2h0M361.2 47.4h0M329.3 67h0M350.3 40.9h0M329.2 76.9h0M360.8 50.3h0M330.9 67.4h0M327.1 73.6h0M329.1 78.5h0M336 90.9h0M328.5 78.9h0M329.8 76.4h0M331.3 88.8h0M338.8 43.2h0M358.7 58h0M329.1 67.4h0M330.9 46.3h0M349.4 42.6h0M330.4 73.1h0M329.7 64.8h0M330.8 82h0M337.9 87.5h0M353.6 86.1h0M362.2 45.6h0M357.2 58.5h0M361 46.3h0M356.8 67.9h0M349.2 86.7h0M355 75h0M328 51.1h0M327.8 72.4h0M351.6 88.4h0M344.6 44.2h0M362.2 45.1h0M342.1 42h0M351.8 41.6h0M357.1 59.3h0M346.6 45.7h0M352.8 43h0M328.6 51.3h0M355.8 74.1h0M343.7 43.5h0M329.6 68.2h0M356.2 73.9h0M328.2 57.7h0M341.2 88.7h0M342.3 87.3h0M329.6 77.5h0M334.8 44.3h0M354.5 86.6h0M330.4 75.6h0M330.7 45.3h0M336.3 90.2h0M355.9 79.5h0M355.2 43.1h0M353.1 43.1h0M329.3 50.2h0M328.3 60.3h0M326.5 64h0M337.9 45.8h0M335.7 87.6h0M355 81.1h0M335.7 43.7h0M330.8 78.8h0M342.9 42.5h0M331.4 79.8h0M347.6 41.2h0M326.6 56.9h0M334.1 84.6h0M357.9 74.8h0M355.1 65.2h0M352 86h0M333.9 45.2h0M330 68.2h0M329.6 81.6h0M329.2 72.7h0M329.1 62.8h0M340.9 88.7h0M347.5 88.3h0M330.4 82.9h0M356 61.1h0M328.6 66.5h0M357.7 42.3h0M347.4 89h0M353 81.6h0M329 75.5h0M328 63.7h0M359.3 54.1h0M357.1 78.2h0M356.5 60h0M360.2 55h0M325.6 58.4h0M344.2 86.9h0M331.7 84h0M347.8 42.2h0M329.6 69.4h0M330.5 77.4h0M357 43.6h0M358.8 43.8h0M352.9 85.6h0M347.4 89.2h0M360.7 56.9h0M328.6 63.2h0M329.5 75.4h0M355.6 64.5h0M338.2 43.4h0M360.5 45.4h0M359.2 44.4h0M346.4 89.3h0M352.8 87.7h0M326.4 55.9h0M352.5 87h0M357.4 62.1h0M356.5 81.5h0M330.2 80.9h0M334.1 88.5h0M330.2 69h0M356 61.2h0M348.4 86h0M329.8 78.8h0M337.3 44.3h0M356.7 74.5h0M340.1 87.5h0M328.4 75.3h0M326.4 52.5h0M338.5 44.4h0M328.5 53.7h0M332.8 44.6h0M330.5 82.9h0M337.4 45.5h0M338 41.7h0M357.5 58.8h0M331 74.1h0M357.6 53.2h0M329.6 47.3h0M355.7 77.5h0M355.9 62.2h0M342.8 44.2h0M328 48.7h0M331.7 85.6h0M358.1 56.6h0M356.5 50.9h0M355.3 71.2h0M342.2 42.9h0M331.8 87.3h0M350.7 88.1h0M359.5 42.2h0M346.3 87.7h0M354 68.3h0M357.3 57.2h0M355.8 75.3h0M328 71.9h0M330.1 45.3h0M332 46.8h0M358.7 51.9h0M358.4 43.4h0M356.2 71.4h0M332.7 88.5h0M356.3 75.1h0M360 57.7h0M345.9 87.3h0M332.7 86.9h0M327.7 58.1h0M341.5 87.8h0M329 64.2h0M329.7 45.6h0M331.1 80.6h0M345.2 43.3h0M360.2 43.5h0M328.4 52.2h0M327.4 57.2h0M356.4 56.3h0M327.9 77.1h0M355.6 71.8h0M350.2 42.2h0M339.1 43h0M357.8 59.9h0M357.9 51.7h0M354.5 84.9h0M345.9 87.6h0M328.8 54.9h0M357.6 71.7h0M333.2 85.7h0M329.9 82.7h0M358.7 55.4h0M334.7 43.2h0M345.6 89.5h0M329.4 68.3h0M357.8 64.2h0M350.9 45.3h0M343.2 42.5h0M362.8 45.9h0M327.1 49.5h0M326.9 67.7h0M328.9 58.5h0M356.3 44.2h0M358.7 61.2h0M339.3 88h0M351 43.2h0M340.2 42.6h0M338.7 42.4h0M356.2 74.2h0M350.7 90.1h0M359 50.4h0M329 82.2h0M354 81.4h0M357.6 57.8h0M354.9 42.2h0M332.5 88.2h0M359 60.4h0M329.6 68.9h0M328.6 55h0M341.1 88.5h0M330.5 84.9h0M356.9 68.3h0M331.2 75.7h0M358.8 52.8h0M346.5 40.4h0M339.5 89.3h0M338 86.3h0M358.4 54.5h0M337.2 86.6h0M329.1 61.7h0M358.3 49h0M331 86.3h0M356.4 75h0M360.1 56.6h0M329.7 52.2h0M340.7 89.2h0M330 47.6h0M331.5 86.2h0M329.3 72.8h0M354.8 75.1h0M336.4 44.9h0M329.1 81.2h0M354.5 65.2h0M329.6 77.5h0M359.2 64.7h0M355.4 69.5h0" stroke="#39B600" stroke-width="1.3"/>
<path d="M372 42.5 377 43 377.5 60 376.5 75 375 90 372 100 366 108 360 114 355 113 354 104 357 95 356 80 357 65 362 58 368 54 371 48Z" fill="#A3A500" fill-opacity="0.15"/>
<path d="M359.1 87.7h0M368.5 82.5h0M368.5 54.5h0M363.3 108.8h0M357.1 113.2h0M364.5 64.2h0M375.9 64.9h0M357.6 108h0M372 75.7h0M374 71.6h0M366.5 93.6h0M356.5 72.7h0M372.6 49.3h0M356.8 89.3h0M376.1 50.8h0M370.5 76.1h0M358.8 83.1h0M364.1 69.8h0M374.4 82.5h0M373 45.6h0M376.2 58.7h0M358.9 76.7h0M371.6 97.7h0M365.1 60.2h0M368.3 69h0M357.9 96.9h0M372.5 54.7h0M372.9 47.6h0M363.3 92.1h0M361.8 98.9h0M359 93.5h0M364.7 92.3h0M356.7 102.1h0M374.4 54.5h0M363 67.6h0M372.2 96.7h0M356 103.5h0M357.7 93.7h0M356.9 71.8h0M363.4 82.7h0M358.7 73.5h0M367.4 66.6h0M373.8 75h0M371.1 98.1h0M374.1 84.5h0M373.9 52.2h0M358.4 88.7h0M362.7 70.8h0M374.9 73.3h0M375 57.1h0M358.2 97.3h0M375.1 75h0M365.6 60.6h0M368.8 100.2h0M374.4 86.2h0M367 57.6h0M367.7 86.8h0M376.9 46.2h0M373 87.2h0M373.6 81.4h0M367 58.3h0M359.4 108.7h0M359.9 88.4h0M361.3 82.7h0M366.2 86.7h0M360 70.7h0M362.3 111.5h0M369.1 57h0M363.8 69.5h0M362.1 60.4h0M376 49.8h0M362.6 77.4h0M371.7 99.1h0M358.8 100.8h0M372.8 65.5h0M373.9 92.5h0M375 43.4h0M358.9 107h0M366.2 67.1h0M366 87.5h0M370.1 81.5h0M360.2 75.8h0M367.6 99.2h0M373.6 85.1h0M358.5 99.7h0M365.7 73.8h0M371.9 49.3h0M363.3 108.1h0M371.1 89.1h0M363.5 60.4h0M362.5 73.9h0M373.8 73.3h0M369.2 54.4h0M362.6 109.1h0M358 71.8h0M370.5 100.9h0M373.3 89.9h0M358.8 111.6h0M372.4 65.8h0M372.1 72.7h0M375.6 56.7h0M365.8 64.1h0M376.2 53.2h0M363.8 57.8h0M375.7 63.3h0M359.6 90.9h0M371.8 46.5h0M373.8 81h0M369.2 75.9h0M373.6 67.4h0M370.4 76.7h0M355.6 100.9h0M367.7 87.5h0M366.7 69.1h0M356.6 102h0M372.7 88.8h0M375 44.7h0M356.4 85.4h0M366.9 86.6h0M372.2 79.3h0M371.7 67.8h0M364.9 80.6h0M360.8 88.6h0M359.5 113.8h0M362.2 85.8h0M363.9 74.3h0M370.3 77.2h0M360.4 80.4h0M362.9 101h0M365 75.1h0M370.7 80.9h0M364.8 104.3h0M356.5 105.7h0M365.7 92.2h0M368.7 78h0M359 68.2h0M362.3 97.5h0M374 89.8h0M357 90.2h0M357.6 103.6h0M358 87.1h0M359.6 64.9h0M363.8 104.4h0M365.7 56.2h0M364.9 77h0M372.1 47.3h0M361.4 70.7h0M361.2 81.6h0M372.3 71.7h0M372.4 74.1h0M375 65.8h0M364.4 91.5h0M354.2 105.8h0M364.4 69.1h0M365.1 101h0M358.6 109.9h0M359.2 82.6h0M358.8 105.6h0M372 80h0M374.4 91.4h0M368.8 90.8h0M374.9 71h0M370.4 67.9h0M369.7 80.5h0M371.6 81.8h0M355.2 103.9h0M371.5 65.3h0M375 55.7h0M362.7 72.3h0M374.4 69.5h0M362.8 95.3h0M361.8 59h0M363.6 57h0M365.7 72.7h0M361 83.9h0M367 71.7h0M363.7 90.2h0M374.8 45.8h0M355.3 109h0M368 65.5h0M365.2 65.2h0M365 69.2h0M370.6 82h0M366.9 104.6h0M359.9 66.8h0M371.8 54.1h0M367.7 86.7h0M373.8 55.8h0M372.2 85.3h0M367.9 73.1h0M370.4 84.7h0M357.3 92.9h0M365.2 61.2h0M360.9 95.3h0M363.5 78.2h0M357.6 87.8h0M370.3 67.3h0M366.9 60.6h0M376.5 54h0M373.3 83.8h0M372 85.5h0M366 68.8h0M362.9 105.4h0M359.3 110.2h0M375.5 79.7h0M368.3 55.8h0M358.3 72.5h0M368.4 95.3h0M360 80.6h0M370.6 56.5h0M375.4 52.9h0M372.2 83.1h0M360.6 66.2h0M365.9 100.5h0M357.3 104.8h0M373.2 93.2h0M373.2 43.7h0M370 77.4h0M365.1 102.4h0M371.1 95.7h0M362.3 94.8h0M354.3 105.6h0M372.5 98h0M357.6 77.8h0M362.8 69.7h0M369.6 68.3h0M375.9 52.2h0M358.2 105.5h0M360 68h0M364.7 94.4h0M359.4 103.3h0M354.8 102.1h0M366.4 59.8h0M355.6 112h0M372.6 96.4h0M363.7 56.9h0M362.5 89.6h0M374.2 84.7h0M367.3 88.5h0M359.2 92.1h0M369.9 58.7h0M362.8 106.9h0M373.4 56h0M361.7 79.4h0M361.5 103h0M365.5 98.5h0M361.5 76.3h0M366 73.4h0M358.6 107h0M369.3 67.7h0M365.1 66.4h0M375.1 50.8h0M358.9 89.1h0M360.6 66.9h0M376.1 58.9h0M357.7 66.2h0M363.1 78h0M370.9 52.8h0M358.4 107.8h0M367.8 102.3h0M359.7 77.4h0M372.6 62.2h0M370.7 71.8h0M367.8 87.1h0M372.6 55.9h0M365.9 74.9h0M374.7 47h0M368.8 102.9h0M372.9 94.1h0M363.9 98.4h0M375.1 69h0M373.7 55.7h0M363.2 100.5h0M364.1 104.3h0M369.8 57.2h0M357.9 71.2h0M360.7 75.7h0M358.2 90.3h0M366.7 55.5h0M375.3 49.7h0M365.4 102.3h0M371.3 80.4h0M368.8 100.3h0M366.8 66.5h0M360.7 77.6h0M360.4 112.1h0M363.3 71.5h0M366.5 65.2h0M371 86.2h0M365.3 73.7h0M367.4 94.8h0M357.7 70.5h0M366.2 73.1h0M372.1 89.3h0M369.5 80h0M376.9 44.5h0M365.1 68.1h0M363.7 96.2h0M359.2 79.4h0M362.9 83.8h0M359.7 112.4h0M361.9 69.4h0M368.5 102.8h0M374.3 81.6h0M374.1 89.6h0M362.1 77.2h0M361.7 98.9h0M367.7 80.1h0M361.9 95.1h0M360.2 64.7h0M361.7 65.8h0M364 89.1h0M368.7 93.7h0M375.4 78.3h0M370 71.1h0M357.3 110.7h0M373.9 61h0M357 76.7h0M359.8 78.9h0M371.3 62.9h0M362.8 86.7h0M374.2 75.7h0M372.6 61.6h0M355.4 106.1h0M374.7 83.6h0M369.7 80.3h0M362.1 83.6h0M369.8 78.9h0M360 79.8h0M360.8 93.2h0M377 47.3h0M370.5 82.6h0M360.7 70.2h0M370.5 50.5h0M366.3 73.9h0M370.2 66.7h0M360.3 72.6h0M360.6 69.6h0M359.4 100.4h0M363.1 74.8h0M361.1 110.5h0M374.4 46.7h0M360 73.1h0M371.9 65.2h0M373.9 70.6h0M361.8 73.5h0M356.7 107.3h0M364.6 92.5h0M374.6 47.1h0M359 71.9h0M371.9 73.8h0M368.9 77.4h0M357.4 72.7h0M374.2 67h0M367.9 55.6h0M358.7 66.1h0M359.2 92h0M355.1 109h0M361.2 79.6h0M362.8 85.4h0M362 103.1h0M377.1 57.6h0M367.3 70.5h0M363.8 68.9h0M363.3 70.7h0M362.9 100.4h0M364.9 85.9h0M367.3 82.1h0M377.2 57.3h0M365.9 68.9h0M368.3 98.1h0M369.2 59.4h0M368.9 93.9h0M356.7 86.8h0M369.7 91.3h0M369.3 89.2h0M370.7 82h0M366.6 97h0M359.9 110.8h0M368.4 67.3h0M360.5 67.4h0M357 104.7h0M358 67h0M358.3 103.3h0M376.2 43.3h0M363.3 104h0M364 85.9h0M357.7 66.6h0M376.5 74.5h0M363.2 103.8h0M368.2 78.1h0M360.2 65.3h0M359.8 71.7h0M374.4 81.5h0M370.8 52.4h0M373.6 55.2h0M373.2 58.8h0M374.8 47.5h0M365.2 65.7h0M356.9 90.6h0M363.7 106h0M357.5 97.4h0M366.7 86.4h0M365.7 70.8h0M359 89.9h0M364.8 108.9h0M369.9 100.1h0M369.3 76.2h0M364.3 106.8h0M358.1 92.2h0M370.4 86.4h0M370.3 77.1h0M366.6 106.1h0M373 49h0M361.9 61.5h0M363.9 58.5h0M377.3 63.2h0M360.9 72.2h0M356.8 77h0M372.1 47.7h0M357 68.5h0M366.8 106h0M376.7 77.5h0M377.3 65.1h0M360.8 58.1h0M372 45.7h0M356.5 77.5h0M374.1 93.1h0M367.4 50h0M362.8 112.2h0M360.1 113.7h0M360.7 60.8h0M375.7 44.5h0M354.8 80.1h0M368.9 104h0M355.7 70.9h0M375.1 93.9h0M376.5 66.2h0M354.2 101.8h0M355.5 98.7h0M372.4 101.1h0M371 95.1h0M371.1 49h0M378.2 65.2h0M355.3 87.9h0M370.9 98.3h0M372.2 44.3h0M369.5 45.7h0M356.4 74.2h0M356 110.1h0M362.4 112.9h0M376.5 61h0M354.4 106.2h0M358.7 63.2h0M357.3 74.4h0M373.7 97.2h0M376.5 67.4h0M364.6 109.9h0M377.1 44.5h0M354.3 108h0M355.3 85.4h0M372.2 43.1h0M355.6 71.4h0M373.8 96.7h0M354.5 103.8h0M356.9 93.4h0M360.6 59.2h0M372.3 46.7h0M358.8 93.5h0M367 107.8h0M356.8 76.6h0M356.6 83.5h0M373.7 95.9h0M364.5 56h0M378.3 58.6h0M374.6 44.2h0M376.3 68.7h0M358.2 90.5h0M372.2 44.9h0M370.5 100.6h0M376 58.6h0M355.8 70.6h0M371.3 45.9h0M377.3 50.7h0M356 89.5h0M357 114.3h0M355.6 98.7h0M372.7 98.8h0M374.4 83.3h0M359.2 63h0M376.7 52.9h0M357.6 88h0M368.3 105.7h0M353.7 109.6h0M368.8 50.8h0M357 81.3h0M355.1 80.9h0M362.4 112.9h0M356.6 90.8h0M367.2 104.4h0M365.2 109.6h0M357.5 60.2h0M352.6 102.3h0M357 74.8h0M352.6 103.5h0M357.6 115.4h0M356.6 79.8h0M374.5 93.1h0M358.1 63.5h0M357 98h0M373.8 78.7h0M355.4 91.1h0M359.1 64.8h0M377.1 74.1h0M372.3 95.7h0M357 111.2h0M376.8 73.7h0M356.1 88.4h0M356.8 66.4h0M363.7 111.4h0M375.8 43.1h0M375.3 92.1h0M354.7 82.8h0M353.7 100.6h0M359.7 111.9h0M356.4 73.9h0M369.9 48.4h0M359.4 112.9h0M374.6 82.7h0M356.9 77.8h0M376.8 66.2h0M378.9 62.5h0M357.4 91h0M377 77.3h0M355.5 71h0M376.7 81.9h0M363.8 111.3h0M373.1 97h0M376 71.7h0M376.1 82.6h0" stroke="#A3A500" stroke-width="1.3"/>
<path d="M349.2 76h0M350.7 82.1h0M345.3 74.3h0M354.1 80.1h0M354 70.3h0M354.6 76h0M355.2 82.3h0M351.7 63.4h0M345.4 81.7h0M355.7 65.9h0M345.8 73.7h0M347.3 83.4h0M354.5 79h0M348.4 76.2h0M353.7 84.5h0M348.6 81.9h0M350.1 74.8h0M350.2 67.8h0M345.8 71.4h0M346 66.6h0M355 80h0M355.3 72.1h0M351.6 83.9h0M354.5 65h0M354.4 67.9h0M349.8 71.2h0M351.6 71.5h0M346.9 82h0M349.9 64h0M353.9 79.3h0M345.1 74.4h0M351.8 84.6h0M348.7 65.5h0M356 66.2h0M352.3 63.9h0M354.6 64.3h0M345.8 66.1h0M355.5 73.7h0M352.2 66.6h0M356 83.3h0" stroke="#A3A500" stroke-width="1.3"/>
<path d="M330.8 86.1 339.6 87.8 348.3 91.3 353.6 96.6 351.8 107.1 344.8 112.3 343.1 124.6 339.6 133.4 330.8 140.4 322 138.6 316.8 129.9 314.2 112.3 318.5 101.8 327.3 96.6Z" fill="#D89000" fill-opacity="0.2"/>
<path d="M342.9 113h0M333 119.4h0M320.4 132.9h0M347.5 104.4h0M334.2 88.8h0M347.7 95.1h0M346.3 94.6h0M333.3 136.3h0M331.7 121.4h0M324.1 99.1h0M323.9 121.1h0M341.9 96.6h0M322.7 128.6h0M325.2 138.3h0M321.8 133.2h0M349.6 106h0M334.2 104.8h0M330.5 134.3h0M333.5 121.3h0M325.9 124.6h0M350.3 106.7h0M338.2 107.9h0M328.8 104.3h0M327.2 107.8h0M324.2 128.7h0M334 127.3h0M323.4 102.2h0M340.5 115.9h0M335.7 125.1h0M340.5 99.7h0M335.4 135.3h0M336.4 96.8h0M346.2 102.4h0M326.1 137.4h0M320.2 113h0M317.4 115.1h0M324.6 130.6h0M319.6 114.1h0M336 117.8h0M320.1 122.3h0M351.5 103.8h0M334.4 98.9h0M340 101.4h0M328.5 97.1h0M329.1 136.3h0M318.8 124.5h0M324.4 135.6h0M318.1 106.8h0M343.5 95.9h0M340.5 124.4h0M327.4 115.1h0M351.6 100.9h0M335.7 126.9h0M346.5 97.7h0M340.1 104.2h0M327 133.9h0M320.1 113.3h0M329.6 109.8h0M336.6 128.3h0M326 133.7h0M340.4 99.1h0M342 119.7h0M344.5 108.9h0M320.9 120.6h0M343.6 107.7h0M332.4 111.7h0M342.8 123.5h0M329.3 138.8h0M329 100.5h0M317 114.4h0M338.8 126h0M341 127.1h0M320.2 108.7h0M342 97.5h0M338.6 99.3h0M339.2 132.4h0M341 99.7h0M348.8 101.8h0M340 103.3h0M326.4 113.1h0M350.8 95.9h0M351.1 106.8h0M347.8 100.8h0M341.1 119.2h0M340.6 128.5h0M327.3 97.7h0M340.7 95.3h0M323.6 119.2h0M340.8 113h0M319.6 117.9h0M344.3 112.4h0M344.8 94.9h0M324.1 101.2h0M334.8 103.4h0M320.3 123.4h0M327.3 125.6h0M342.4 108.2h0M339.8 120h0M316.9 119.7h0M335.7 107.9h0M318.8 105.8h0M342.6 93.5h0M322.5 100.6h0M334.9 136.8h0M339.7 115.6h0M335.4 120.1h0M344.3 110.9h0M338.9 129h0M328.2 106.7h0M338 132.9h0M331.2 115.9h0M340.4 111.2h0M344 94.4h0M334.8 132.8h0M332 91.7h0M326.5 104.1h0M348.1 104.4h0M334.2 130.3h0M333.7 113.4h0M351.8 96.2h0M329.3 139.2h0M333.3 114.9h0M326.6 106.6h0M348.6 101.5h0M337.1 96.3h0M321.6 112.3h0M334 118.3h0M341.7 119.5h0M328 120h0M337 101.3h0M330.3 137.4h0M326.3 112.7h0M328 122.5h0M329.8 136.1h0M320.2 102.4h0M343 110.7h0M333 124.8h0M327.6 127h0M324.8 106.6h0M334.6 87.8h0M326.3 100.3h0M331 95.7h0M345.7 108.2h0M339.6 104.7h0M325.4 135.6h0M339.2 122.6h0M350.5 97.3h0M316.7 117.1h0M317.9 111.2h0M326.6 104.3h0M344.1 104.2h0M347.5 100.8h0M327.6 100.8h0M330.3 101.9h0M329.9 119.9h0M337.7 127.4h0M347.2 107h0M349.7 108h0M322.9 107.3h0M325.3 100h0M323.9 135h0M347.7 103.8h0M320.2 104.7h0M332.8 136.1h0M346.6 98.7h0M324.4 135.6h0M329.6 135.2h0M332.9 136.5h0M332.8 120.5h0M332 114.9h0M333.4 111.7h0M339.2 91.8h0M336.4 115.1h0M327.8 119.3h0M319.8 121.3h0M322 114.5h0M325.5 133.3h0M325.8 123.5h0M323.9 133.4h0M339.6 88.4h0M343.5 104h0M347.5 101.5h0M339.5 114.4h0M346.2 101.6h0M325 132.3h0M327.6 103.6h0M325.1 128.7h0M320.6 123.1h0M333.2 115.7h0M341 118.3h0M329.9 120.3h0M352 96.9h0M333 115.8h0M327.5 102.6h0M348.9 101.2h0M332.7 92.3h0M345.8 92.1h0M330.8 120.6h0M330.7 130.8h0M328.6 107.6h0M335.6 93.4h0M338.4 126.6h0M317.4 127.4h0M339 125.2h0M320.2 124.8h0M322.7 109.7h0M329.7 135.7h0M346.1 106h0M317.3 112.2h0M330.4 122.7h0M335.8 135.2h0M340 89.4h0M331.1 119.9h0M324.7 112.2h0M322.1 127.9h0M327.1 123.5h0M349.6 94.4h0M342.6 110.1h0M320.7 130.7h0M343.5 91.3h0M333.9 124.5h0M330.6 135.9h0M327.7 106.8h0M323.5 132.8h0M338.7 126.1h0M337.8 109h0M351.9 97.4h0M339.7 120.4h0M316.1 115.9h0M340.5 130.6h0M335.2 121.4h0M348.4 103.1h0M349.1 103.9h0M314.9 110.8h0M336.2 111.1h0M324.3 102.1h0M325 112.3h0M349.8 107.2h0M317.3 107.9h0M318.6 113.6h0M341.9 123.3h0M322 124.9h0M332.8 133.6h0M338.4 122.9h0M316.6 113.7h0M333.4 127.7h0M339.6 98.8h0M341.5 117.3h0M317.2 123.7h0M338.6 129.2h0M327.9 123.6h0M335.5 91.3h0M330.7 98.4h0M344.9 108.2h0M334.5 91.9h0M339.8 100.2h0M337.7 126.6h0M318.3 119.8h0M319.7 123.7h0M331.9 93.7h0M333.3 134.8h0M336.9 93.7h0M320.6 128.8h0M338.9 122.2h0M327.9 98.1h0M334.3 120.4h0M331 98.9h0M338.9 125.9h0M335.4 133.4h0M324.9 124.3h0M336.3 90.4h0M328.8 105.2h0M327.6 115.9h0M324.7 115.1h0M332 135h0M351.9 96.1h0M338.1 116.8h0M319.7 112.5h0M331.7 91.5h0M325 105.3h0M344.5 95.7h0M333.6 88.6h0M324.8 108.9h0M337.4 114.3h0M320.9 119.7h0M348 94.3h0M320.2 117.2h0M334.4 113.1h0M336 107.7h0M346.3 92.9h0M343.6 93.5h0M325 112.7h0M340.8 95.1h0M339 112.8h0M328.2 109.6h0M329.9 116.9h0M351.1 107.5h0M335.1 126.5h0M322.4 119.2h0M336 129h0M342 122.5h0M337.9 131.5h0M349.6 103.9h0M319.7 122.3h0M320.6 122.2h0M319.4 132.9h0M335.3 87.7h0M326.2 112.8h0M342.4 101.7h0M341.9 122.2h0M348.9 107.6h0M336.6 103.6h0M323 123.9h0M323.6 101.4h0M337.3 116.2h0M335.7 119.8h0M341.5 97.8h0M330.9 123.3h0M330.7 115.5h0M330.2 126.8h0M342 111.7h0M340.8 113h0M331.7 105.4h0M348.3 99.8h0M343.6 94.6h0M324.8 124h0M339.3 125h0M326.9 138.4h0M330.9 122.6h0M334.1 109.1h0M339.8 129.3h0M336.2 104.5h0M335.7 119.9h0M348.4 103.6h0M337.2 127.7h0M319.2 120.3h0M320.4 116.5h0M330.8 123.8h0M340.4 92.4h0M325.6 120.4h0M337.3 90.7h0M328.5 126.4h0M320.1 111.6h0M340 121.5h0M323.5 108.6h0M342.2 119.1h0M343.9 103.9h0M341.1 127.5h0M331 93h0M336.5 99.4h0M340 97.6h0M348.5 91.7h0M348.4 97h0M318.4 107.6h0M323.4 126.2h0M341.5 117.7h0M351.6 98.2h0M317.9 105.6h0M340.7 99.3h0M347.5 101.7h0M319.3 133.9h0M334.9 105.9h0M339.2 97.3h0M330.6 106.4h0M328.2 100.1h0M343 117.4h0M332.2 117.1h0M346.6 92.9h0M332.5 117.8h0M335.5 97.9h0M323.9 106.8h0M337.2 133.6h0M340.3 108.3h0M322.7 135.9h0M329.9 93.1h0M350.9 100.1h0M328.5 107.6h0M326.8 132.2h0M329.4 103.2h0M322.3 111.2h0M333.3 130.1h0M323.1 133.9h0M337.2 103.9h0M342.9 116.3h0M331.1 116.3h0M323.4 119.7h0M338.6 98.3h0M327.8 107.9h0M337 108h0M343.2 121.2h0M335.2 113.3h0M342.4 109.3h0M345.4 100.4h0M341.3 88.6h0M335.9 94.4h0M349.4 95.4h0M330.5 137.8h0M318.5 132.5h0M341.3 93.2h0M340.6 119.1h0M319.8 129.7h0M331 134.6h0M332 88.6h0M350 104h0M328 124.2h0M327.8 131.5h0M353.1 98h0M329.2 92.5h0M337.3 124h0M337.5 95.5h0M329.2 126.4h0M319.6 114.3h0M322.3 121.5h0M331.5 120.9h0M324.5 122.3h0M319 118.5h0M333.1 136.3h0M333.9 132.4h0M316.7 124.7h0M331.6 130.8h0M325.8 121.7h0M350.9 106.8h0M332 136.8h0M343.4 113h0M339.3 133.6h0M321.5 121.5h0M329.8 132.5h0M343.2 91.9h0M348.2 94.8h0M318.3 127.6h0M349 97.8h0M326.3 134.8h0M325.8 133.2h0M327.2 102.6h0M319.7 109.6h0M336.3 108.1h0M320.7 120.7h0M322.4 108.7h0M324.2 102.5h0M348 102.6h0M323.7 131.8h0M333.6 126.1h0M341.3 90.4h0M340.3 125.8h0M339 117.1h0M327.3 126.1h0M342.4 110.8h0M332.1 137.7h0M330.4 126.4h0M321.6 134h0M316.6 118.9h0M314.4 113.2h0M331.8 138.3h0M337.3 134.4h0M335.8 110.8h0M332.7 98.7h0M320.1 105.9h0M337.1 130.4h0M330.9 137.4h0M324.8 114.2h0M321.8 102.3h0M349 102.8h0M343.7 95.8h0M330.2 97.3h0M334.9 87.9h0M324.3 106h0M338.8 119.4h0M340.6 113.4h0M335.4 126.5h0M330.1 89.9h0M335.3 87.5h0M350.6 98.9h0M344.8 102.9h0M336.9 99h0M331.9 101.3h0M338.1 112.5h0M339.9 103.9h0M343.8 89.7h0M336.1 97.3h0M322.5 122.8h0M324.9 103.6h0M333.2 98.9h0M331 125.1h0M322.4 103.1h0M326.3 126h0M341.5 122.4h0M346.1 91.7h0M332.1 90.2h0M317.9 118.9h0M333.9 90.1h0M352.7 96.9h0M331.7 137.3h0M325.9 120.8h0M329.2 115.9h0M319.7 124.7h0M329.4 96.7h0M323.8 119.1h0M317.1 126.2h0M337.3 95h0M337.8 93.2h0M351.5 106h0M338.5 107.6h0M345.2 94h0M340.8 123.8h0M329.9 107.7h0M348.7 108.7h0M336.5 90.5h0M352.1 102.5h0M315.5 109.5h0M325.1 113.2h0M329.1 138.2h0M342.9 113.4h0M337.3 105.8h0M333 102.6h0M331.9 136h0M325.3 138.9h0M331 116.5h0M328.9 100.6h0M319.9 122.7h0M333 137.7h0M345.7 93.5h0M333 92.7h0M339.8 127.3h0M317.9 109.9h0M320.5 109.6h0M316.7 122.1h0M342.6 125.8h0M331.9 90.3h0M337.4 100.1h0M320.2 127h0M335.7 127h0M344 112.7h0M344 104h0M343.7 93.3h0M320.4 126.6h0M330.1 111.3h0M340.5 90.7h0M350.7 107.6h0M328.2 111.6h0M336.2 87.6h0M325.2 124.6h0M325 136.2h0M345.4 95.1h0M323.5 114.2h0M329.3 123.1h0M334 104.9h0M339.2 115h0M323.1 124.9h0M330.8 125.8h0M338.1 122.4h0M345.8 95.8h0M337 108.8h0M321.3 115.2h0M341.8 95.5h0M330.3 108.9h0M332.8 131.8h0M337.8 109.9h0M325.5 104.7h0M319.9 119.1h0M328 96.1h0M335.2 131.5h0M348.1 95h0M329.1 131.2h0M318 119.6h0M349.4 100.3h0M340.5 97.4h0M335.5 116.5h0M325.3 108.6h0M347 105.7h0M327.7 129.3h0M338.1 93.7h0M320.5 123.9h0M328.2 138.3h0M320.6 128.4h0M338.5 100.1h0M328.3 93.9h0M336.5 89h0M341 102h0M336.4 90.3h0M349.6 96.9h0M332.5 97.4h0M337.6 127.4h0M339.5 101h0M328.4 126.2h0M341.5 95.9h0M339.3 111.6h0M331.8 100.9h0M325.4 123.4h0M342.7 102.5h0M341.5 104.6h0M329.7 116.3h0M327.7 121.2h0M336.9 93.2h0M315.3 112.4h0M333.3 118.1h0M329.1 123.1h0M339.5 111.7h0M333.3 112.6h0M342.3 98.5h0M345.8 97.6h0M332.8 101.9h0M330.8 115.6h0M335.9 133.8h0M329.7 100h0M334.2 111.1h0M337.6 92.9h0M336.7 90.9h0M348 91.9h0M332.8 89.3h0M326.8 132h0M347.7 93.8h0M333.5 134.6h0M328.8 115.2h0M319 111.9h0M331.8 90h0M323.4 128.8h0M341 111.7h0M336 99.4h0M333 120h0M342 96.7h0M331.1 116h0M326.8 117.4h0M349 103.8h0M331.8 106.8h0M348.1 93.7h0M325.1 115.1h0M327.9 102h0M337.2 90.5h0M333.7 98.8h0M326.6 124.8h0M343.8 115.2h0M324.9 114.7h0M343 89.8h0M332.2 114.2h0M323.7 121.5h0M324 112.5h0M351.4 104.1h0M328 139.2h0M342.4 102.2h0M322.9 110.4h0M342.6 92.7h0M329.2 139.8h0M333.2 124.6h0M322.5 118.5h0M329.7 94.6h0M339.4 104.2h0M319.6 115.4h0M334.6 92h0M335.3 116.5h0M329.8 90.1h0M347.4 95.2h0M322.3 138.1h0M328.1 123h0M324.4 100.5h0M332 119.8h0M345.4 90.7h0M342.4 104h0M325.6 108h0M322.7 129h0M339.3 112.3h0M330 93.7h0M332.6 89.2h0M332.2 111.7h0M334 110.5h0M333.2 100.1h0M332.8 90.8h0M329.3 134.6h0M325.1 98.7h0M321.9 117.5h0M350.2 105h0M320.6 135.4h0M348.6 106h0M332.3 98h0M330.6 115.5h0M334.2 135.8h0M324.6 137h0M348.4 100.4h0M317 108.6h0M344.9 101.2h0M329.7 104h0M321 108.5h0M350.5 96.4h0M337.6 98.3h0M341.4 122.6h0M321.3 106.1h0M320 131.6h0M349.6 108h0M326.9 133.8h0M317.1 117.9h0M325.6 137.3h0M336.1 106.6h0M334.1 112.4h0M338.1 126h0M325.5 111.2h0M326.5 102.9h0M320.4 128.3h0M319.8 130h0M324.2 113.9h0M318.4 102.4h0M346.2 104.8h0M318.3 118.8h0M328.5 124.3h0M338.4 92.1h0M340.9 116.6h0M325.4 98h0M329.4 119.9h0M320.1 108.8h0M328.8 128.7h0M329.4 139.4h0M341.8 115.6h0M321.6 113.7h0M322.7 100.6h0M317.2 111.8h0M340.7 102.2h0M343.8 112.9h0M336.7 88.4h0M328.1 106.7h0M337.3 132.4h0M340.7 118.1h0M341.4 97.4h0M321.5 127.5h0M332.8 91.6h0M343.3 94.8h0M337 123.2h0M329.4 90.8h0M331.6 119.5h0M341.2 105.5h0M341.9 101.4h0M343.2 96.6h0M319.4 114.3h0M337.5 132.8h0M323.7 128.5h0M325 134.2h0M338.3 119.5h0M320.5 120.9h0M339.4 115.6h0M324.6 115.9h0M335.6 123.4h0M339.6 116.9h0M343.5 97.5h0M352.6 99.3h0M349.4 92.8h0M319.9 134.6h0M333 133.1h0M339.2 126.5h0M350.2 104h0M331.3 131.5h0M328.5 127.3h0M341.8 106.8h0M317.1 108.5h0M330.4 132h0M350.3 101.2h0M343.5 117.5h0M331.5 102.3h0M321.4 106.4h0M351.3 94.7h0M339.2 100.3h0M331 126.9h0M321.8 137.7h0M324.9 108.5h0M337.1 119.9h0M328.1 105.3h0M332.7 104.1h0M329 113.4h0M344.4 105h0M320.6 121.9h0M330.7 105.4h0M342.4 117.4h0M330.3 110.8h0M336 112.7h0M321.9 124.5h0M320.5 110.3h0M327.8 126.8h0M328.4 135.6h0M336.6 110.9h0M333.8 112.1h0M322.1 126h0M318.3 105h0M340.3 129.3h0M339.8 98.7h0M343.2 115.6h0M326.3 119.9h0M335.6 111.6h0M345.1 93h0M349.3 102.4h0M331 104.3h0M326.1 129.3h0M333.7 101.8h0M331 133.3h0M342.7 120.7h0M336.8 118.7h0M349.5 92.9h0M335.2 129.7h0M343 112.7h0M316.8 116.9h0M325.5 112.3h0M318.1 112.2h0M338.5 93.4h0M346.3 106.5h0M320.1 135.3h0M354.5 97.3h0M322.3 135.3h0M341 124.1h0M314.9 112.3h0M317.5 134.6h0M325.2 95.3h0M344.3 90.8h0M344.7 117.7h0M316.9 106.6h0M349.6 105.9h0M344.5 90.7h0M343.8 118.6h0M346.3 94.6h0M320.2 136.2h0M337.8 88.5h0M351.4 93.6h0M353.1 102.8h0M322.2 99.9h0M343.4 122.3h0M315 120.6h0M321.1 136.9h0M353.3 102.8h0M342.3 87.5h0M346.4 92h0M317.9 104.9h0M343.3 118.2h0M334.5 139h0M350.8 105h0M331.3 87.1h0M326.9 139.3h0M328.3 140.8h0M316.4 130.4h0M341.3 89.4h0M318 105.4h0M320.3 134.2h0M343.3 118.4h0M317.2 127.5h0M318.3 103.2h0M344.6 90.6h0M336.4 87.5h0M331.9 90.7h0M314.8 117.1h0M323.5 98.3h0M314.9 119.7h0M348.8 88.6h0M330.7 89.2h0M319.7 100.1h0M349.5 92.3h0M316.1 131.2h0M316.6 132.4h0M336.1 85.3h0M343.1 125.6h0M340 128.8h0M345.9 90.9h0M352.9 104.7h0M349.7 107.8h0M347.3 89.7h0M339.6 87.7h0M344 125.4h0M347.8 111.6h0M338.8 88h0M338.5 88.4h0M328 95.5h0M319.1 133.4h0M351.2 94.4h0M326.3 139.2h0M353.8 100.5h0M350 110h0M343.8 116h0M352.4 93.8h0M319.4 136.7h0M328.8 141h0M334.6 138.3h0M344.1 120.5h0M350.9 109.9h0M344.6 121.9h0M317.4 126.4h0M347.3 109.8h0M332.7 140.3h0M342 129.9h0M325.4 97.7h0M328.9 92.1h0M319.9 132.7h0M333.6 86.6h0M322.8 99.8h0M344.3 117.2h0M316.2 114.1h0M336.2 137.9h0M349.9 111.7h0M346.4 110h0M332.8 87.1h0M336 136.3h0M343 125.3h0M352.5 95.5h0M319.2 104.5h0M321.6 138.4h0M313.2 114.9h0M315 115.6h0M315.2 121.8h0M314.6 117.8h0M328.8 89.3h0M339.2 135.8h0M324.4 97.8h0M340.9 130.7h0M315.9 116.8h0M344.5 111.2h0M319.7 105.6h0M344.5 111h0M348.4 110.7h0M348.8 110.2h0M340 134.1h0M351.6 107.1h0M350.9 93.2h0M343 116.2h0M334.1 137.3h0M325.9 96.4h0M322.9 136.6h0M326.8 140.3h0M314.3 115.8h0M343.1 121.3h0" stroke="#D89000" stroke-width="1.3"/>
<path d="M348 124.1 355.7 125.2 360 130.6 359 136.1 355.7 137.2 351.3 135 348 129.5Z" fill="#9590FF" fill-opacity="0.2"/>
<path d="M348.4 126.4h0M356.5 134.7h0M354.4 125.8h0M356.8 135.5h0M357.1 128.1h0M354 132.2h0M358.1 134h0M356.1 130.6h0M356.4 132.3h0M354.7 135.2h0M359.5 130.7h0M350.4 131.3h0M355.7 135.4h0M352.8 135.7h0M349.7 125.7h0M358.8 130.2h0M358.5 132.4h0M350.3 127.6h0M354.2 135.8h0M356 134.5h0M352.5 126.9h0M355.6 128.2h0M356.3 128.6h0M351.5 133h0M349.2 128.7h0M351.6 129.1h0M351.4 134.5h0M352.2 126.8h0M359.4 130.6h0M358.5 135.3h0M358.4 130.6h0M358.9 131.9h0M354.3 132.5h0M351.3 125h0M356 130.7h0M349.4 127.6h0M352.8 133.8h0M355.3 135h0M353 132.7h0M358.5 132.2h0M358 135.5h0M355.7 130h0M348.8 129.5h0M358.6 132.3h0M348.1 125.8h0M357.1 133.7h0M350.8 130.4h0M351.3 124.7h0M358.5 135.2h0M354.8 131.6h0M354.3 124.8h0M347.7 127h0M347.9 125.7h0M358.7 128.6h0M345.6 125.7h0M357.5 135.6h0M355.4 125.7h0M353.8 124.8h0M358.9 131.4h0M359.1 131.2h0M357.6 128.3h0M360.6 132.4h0M358.4 130.6h0M348.1 123.4h0M350.3 124.8h0" stroke="#9590FF" stroke-width="1.3"/>
<path d="M357.5 139.5 361 140.5 362.8 144 362.8 150.3 359.5 149.5 358.5 144Z" fill="#9590FF" fill-opacity="0.15"/>
<path d="M361.2 141.5h0M360.8 147.5h0M360.8 148.7h0M358.3 140.9h0M358.4 142.2h0M361.1 141.1h0M360.6 147.7h0M360 145.5h0M362.8 145.6h0M359.9 141.7h0M361.9 149.6h0M361.7 143h0M361.1 146.9h0M362.7 148.8h0M360.5 146.8h0M358.2 140.4h0M361.2 143.6h0M359.1 146.5h0M360.6 141.9h0M362.1 146.1h0M360.1 147.3h0M361.5 147.2h0M358.4 148.1h0M362.8 143.6h0M362.4 142.3h0M357.7 141.6h0M361.9 140.4h0M358.3 141.1h0M361.5 146.4h0M360.1 148.7h0" stroke="#9590FF" stroke-width="1.3"/>
<path d="M347 118.8h0M347.2 120h0M346.2 122.7h0M347.7 119.5h0M347.4 122.1h0M344.9 119.6h0M347.5 119.4h0M348.1 121.5h0M345.9 121.4h0M344 119.2h0" stroke="#9590FF" stroke-width="1.3"/>
<path d="M478.5 105.5 481.3 108.2 482.2 119.2 489.5 130.1 491.3 137.4 487.7 144.7 484 153.9 478.5 150.2 474.9 141.1 474.9 130.1 471.2 119.2 469.4 113.7 474.9 110.1Z" fill="#00BFC4" fill-opacity="0.45"/>
<path d="M483.1 147.5h0M481 139.8h0M475.5 131h0M487.2 137.6h0M475.2 131h0M480.6 139.5h0M479.7 129.6h0M482.8 147h0M479.3 140.6h0M484.4 125h0M479.8 107.1h0M482.5 140h0M485 124.1h0M472.1 121.2h0M475.2 112.8h0M479.5 114.5h0M475.6 110.9h0M485 147.4h0M483.4 148.9h0M484.9 128.2h0M477 135h0M479.7 119.7h0M480.5 132.9h0M480.6 147.8h0M473.2 111.6h0M477.6 134h0M473.5 117.6h0M481.5 141.4h0M485.1 146.4h0M483.4 123.3h0M478 145h0M478.4 132.4h0M485.8 125.4h0M482.9 127.5h0M481 109h0M481.7 139.9h0M482.9 134.4h0M477.8 131.3h0M484.6 152.4h0M477.2 112.5h0M487.7 144.7h0M478.6 137.3h0M490.1 132.4h0M479.8 137.5h0M485.5 143.4h0M488.6 142.3h0M482.7 150.6h0M482.6 151.2h0M479.4 125.3h0M478 112.4h0M473.1 115.6h0M482.5 130.3h0M477.1 139.1h0M480.3 129.9h0M480.7 112.9h0M475.8 138h0M479.3 123.5h0M484.9 126.4h0M485.8 147.7h0M478.8 140.5h0M482.9 143.4h0M484.8 139h0M472.3 120.1h0M487.7 134.3h0M483.9 129.8h0M489.4 137.5h0M479.4 133.6h0M481.3 121.7h0M472.4 119.4h0M480.3 127.2h0M482.3 149.9h0M480.4 150.1h0M478.4 116.2h0M473.2 115.1h0M478.7 129.7h0M489.8 131.6h0M482.9 121.4h0M477.3 125.6h0M485.2 139.8h0M487.8 133.4h0M480 133h0M486.3 145.7h0M479.7 112h0M487 145.9h0M476.2 123.5h0M486.4 133h0M482.9 140.6h0M479 106.2h0M470.6 114.2h0M474.4 125.3h0M479.8 119.3h0M491.2 137.2h0M485.7 138.4h0M474.8 127.6h0M484.4 151.7h0M478.8 109h0M476.1 123.1h0M476.3 140.9h0M484.4 141.4h0M482.3 149.7h0M483.1 123.8h0M489 140.9h0M471.4 112.5h0M483.6 126h0M481.2 111.6h0M484.5 131h0M484.3 124h0M476.3 134.7h0M484.3 125.1h0M477.8 138.2h0M481.6 146.2h0M484.6 139.8h0M486.8 138.9h0M477.4 111.6h0M478.2 134.9h0M478.5 144.1h0M475.7 133.1h0M477.8 115.1h0M482 133.7h0M484.7 135.7h0M484.1 152.9h0M485.5 150.2h0M476.5 108.4h0M478.9 127.1h0M481.1 151.9h0M474.7 129.5h0M476.9 136.9h0M476.8 112.9h0M485.1 131.3h0M478.4 128.9h0M476.1 131.1h0M477.6 123.5h0M481 114.6h0M481.5 135h0M477.7 113.8h0M483.6 149.3h0M474.7 126.1h0M479.6 129.2h0M478.2 135.9h0M484 143.9h0M475.2 126.5h0M473.9 115.2h0M477.6 118.4h0M475.7 131h0M487.1 141.6h0M478.6 137.1h0M475.2 123.7h0M477.4 130h0M477.3 117.8h0M479.5 123.6h0M478.3 143.8h0M488.5 133.7h0M480.3 116.1h0M481.7 137.5h0M482.6 121.4h0M484.3 140h0M477.8 141.3h0M481.2 137h0M474.1 111h0M477.6 140.4h0M487.1 137.4h0M476.6 119h0M484.1 122.4h0M485.7 132.1h0M481.5 150.2h0M476.6 109.8h0M483 146.8h0M478.4 142.9h0M478.3 128.4h0M482.6 137.7h0M478.6 150.2h0M480.1 142.5h0M484.7 123.8h0M479.6 138.6h0M482 150.5h0M480.2 110.8h0M483.8 142.8h0M476.7 121.5h0M486.5 137.8h0M486.3 141h0M479.7 111.9h0M482.5 125.9h0M483.8 143.6h0M479.7 119h0M485.8 132.2h0M473.1 114.6h0M488.2 131.7h0M485.5 134.7h0M479.5 130.8h0M478.6 107.5h0M480.1 148.1h0M480.2 119.7h0M482.2 150.2h0M479.9 139.2h0M485.5 136.2h0M477.1 131.4h0M486.9 133.7h0M477.2 120.6h0M484.3 125.6h0M479.6 147.1h0M473.2 115.8h0M490.4 136.9h0M470.6 114.5h0M480.3 127h0M472.6 113.6h0M476.6 111.1h0M482.3 144.6h0M484.6 146.8h0M474.2 119h0M485.4 129.1h0M484.3 139.6h0M486.6 138.1h0M477.5 107.7h0M477.1 140.4h0M483.9 135h0M482.6 131.5h0M475.9 136.3h0M484.8 148.1h0M483 132.4h0M478.8 114.9h0M483.5 151.1h0M477.2 139.6h0M473.9 113.9h0M479 123.3h0M482 123h0M477.4 139.3h0M484 141.8h0M483.3 147.2h0M475.7 130.2h0M478.7 143.8h0M479.9 141.7h0M486.6 140.2h0M476 122.8h0M480.4 149.1h0M484.5 151.6h0M486.2 144.9h0M480.6 107.6h0M477.7 127.8h0M481.8 130.6h0M489.7 131.8h0M470.6 116.4h0M476.6 123.2h0M483.2 123.4h0M489 131.3h0M477.7 109.9h0M473.2 122.1h0M486.1 141.7h0M479.8 126.2h0M476.6 140.7h0M477.5 134.5h0M482.3 137.9h0M476 121.6h0M472 117.7h0M481.5 113.7h0M486.1 136.2h0M478.7 126.9h0M480.5 140.1h0M484.5 152.1h0M479.1 129.8h0M476.8 134.8h0M477.3 123.4h0M474.6 128.9h0M480.6 131.5h0M479.2 122.2h0M478.5 136.1h0M481.3 139.9h0M480.1 134.2h0M473.9 114.3h0M475.9 124h0M479 131.7h0M479.7 134.7h0M478.1 119.2h0M483.4 141.7h0M479.2 110h0M477 141.1h0M476.4 139.1h0M476.1 138h0M474 117.6h0M477.4 133.3h0M480.9 147.8h0M481.2 131h0M490.8 138.1h0M485.3 125.1h0M482.5 132.7h0M485.5 135.9h0M473.8 116h0M482 145.6h0M473.8 113.2h0M475.3 122.9h0M479.9 120.9h0M483.2 152.7h0M479.4 115.8h0M480.8 114.7h0M477.3 127h0M480.9 143.3h0M479.4 128.2h0M478.5 126.7h0M474.9 113.9h0M477.2 117h0M478.5 112.9h0M482.1 137.7h0M473 113h0M470.5 113.7h0M480.1 149.2h0M483.8 129.8h0M477.4 144.5h0M483.1 152.2h0M481 142.1h0M480.5 126.6h0M480.6 121h0M486 135.4h0M484.1 151.8h0M483.1 123.6h0M487.6 134.6h0M485.2 142.2h0M474.2 127.6h0M490.2 138.7h0M474 125.2h0M480.7 124.4h0M478.1 125.8h0M479.6 149.8h0M475.4 146.6h0M483.6 152.2h0M485.6 123.3h0M475.4 107.2h0M488 145.4h0M488.3 128.5h0M488 127.8h0M488.8 132h0M476.9 108.7h0M482.1 121.1h0M486.6 151.8h0M478.5 149.6h0M476.5 143h0M482.5 111.7h0M485.1 152.2h0M477.8 151.9h0M480.4 105.2h0M473.8 134.7h0M480.2 151.6h0M481.6 151.9h0M481.6 112.1h0M472.6 109.9h0M473.4 117.6h0M492.6 135.4h0M485.5 152.3h0M475.5 138.4h0M474 138.4h0M478.4 111.5h0M469.7 112.8h0M480.3 151.1h0M473.5 128.5h0M475.6 107.6h0M480.9 150.5h0M475.9 127.6h0M475.4 106.7h0M484.5 115.2h0M477.4 146.8h0M473.9 114.1h0M487 145.1h0M490.3 137.5h0M486.3 128.4h0M476.6 107.2h0M491 139.8h0M480.5 110.3h0M490.4 138h0M477 106.8h0M490 140.5h0M473.7 124h0M476.1 137.8h0M491.5 135.2h0M482.9 148.1h0M488.4 144.8h0M475 134.7h0M472.9 125.3h0M477.3 147.6h0M488.8 142.2h0M474.4 129.3h0M475.6 139.8h0M480.5 108.1h0" stroke="#00BFC4" stroke-width="1.3"/>
<path d="M474.9 157.5 481.3 157.5 482.2 166.6 479.5 173.9 474.9 175.8 471.2 170.3 470.3 163Z" fill="#C77CFF" fill-opacity="0.6"/>
<path d="M479 168.8h0M479.1 164.8h0M479.1 160.8h0M474.2 159.4h0M479.5 169h0M471.9 164.8h0M476.2 163h0M473.6 165.8h0M477.3 163.2h0M476.9 169.6h0M474.9 163.4h0M479.3 168h0M480.2 164.4h0M480.9 165.6h0M475.8 170.6h0M479.4 168.7h0M474.4 174.9h0M478.9 163h0M478.3 163.3h0M476.4 164.9h0M480.7 167.8h0M474.7 166.4h0M482 165.6h0M474.5 165.6h0M473.4 171.7h0M473.1 167.7h0M481.6 164.3h0M480.7 164.4h0M476.6 168.1h0M472.4 164.7h0M475.7 174.2h0M472.2 162.1h0M476 159.5h0M480 165.8h0M477.1 159.4h0M480.9 167.1h0M480.2 167.9h0M480.3 170.7h0M473.4 172.4h0M479.2 158.7h0M475.1 173.1h0M476.6 165.5h0M479.3 162.7h0M482.1 166.8h0M475.2 166.1h0M475 175h0M475.7 172.6h0M476.9 159.1h0M474.3 162.7h0M479.3 171.1h0M475.8 167.4h0M479.7 162.7h0M476.4 172.8h0M475.5 169h0M477.4 158.8h0M479 170.3h0M476.6 171h0M471.3 168.5h0M471.5 164.2h0M477.6 161.6h0M471.5 171.6h0M483 165.8h0M482.2 170.2h0M479.3 174.1h0M474.1 175.5h0M473.1 162.4h0M481.5 163.8h0M477.9 157.1h0M473 157.3h0M469.3 165.6h0M472.6 168.1h0M481.5 171.8h0M481.9 167h0M472.4 161.2h0M475.7 156.9h0M473.5 175.1h0M481.2 169.5h0M481.6 164.6h0M482.2 166.7h0M476 175.3h0" stroke="#C77CFF" stroke-width="1.3"/>
<path d="M442 153.9 453 152 465.8 155.7 471.2 163 474.9 175.8 473.1 188.5 474.9 199.1 469.4 206.4 460.3 210.1 456.6 202.8 447.5 197.3 438.4 193.6 438.4 184.9 440.2 166.6Z" fill="#F8766D" fill-opacity="0.45"/>
<path d="M449.5 168.9h0M463.7 192.4h0M444.6 170.2h0M458.4 157.2h0M445.6 156h0M447.4 189.9h0M464.3 204.4h0M457.9 202.2h0M450.3 169.9h0M468.8 187h0M459.1 162.3h0M443.1 176.4h0M467.4 199.3h0M453.1 176.9h0M465.2 197.2h0M445.1 195.4h0M470.1 163h0M442.1 163.7h0M471.2 175.5h0M466.2 203.6h0M462.1 181.4h0M460.5 197.5h0M462.9 190.2h0M452.8 174.5h0M441.6 160.4h0M447.7 172.5h0M441.7 171.8h0M442 161.7h0M451.7 198.2h0M470.5 185.2h0M452.8 179.2h0M463.3 185.9h0M449.5 198.4h0M447.1 175.1h0M467 171.1h0M464.5 180.6h0M473.7 194.9h0M442.2 186.6h0M465.9 175.1h0M465.1 181h0M464.2 194.7h0M456.7 197.5h0M451.5 153.9h0M450.9 194.7h0M449.8 195.1h0M453.9 193.4h0M452.7 184.1h0M443.7 182.4h0M452.9 186.9h0M460 170.6h0M440.1 181.6h0M439.1 193.6h0M464.6 170.6h0M458.4 200.2h0M466.1 169.9h0M470.2 169.5h0M451.9 172h0M460.8 180.5h0M472.1 187.7h0M446.6 188.5h0M461.8 184.1h0M441.4 172.4h0M459.5 189.8h0M470.2 165.2h0M459.1 167.1h0M471.3 170.3h0M444.2 172.3h0M452.3 173.4h0M464.6 193.4h0M449.4 179.1h0M445.6 170.1h0M466.9 172h0M448.8 176.8h0M463.8 180.8h0M446.2 160.4h0M472.5 178.8h0M441.2 189.3h0M473.1 200.5h0M450.9 181.8h0M447.4 192.5h0M453.2 171.6h0M453 168.5h0M461.4 200.2h0M452.6 182.7h0M450.6 160.8h0M442.5 194.4h0M468.8 196.7h0M452.5 185h0M459.2 202h0M442.8 183h0M455.8 156.2h0M439.1 183.6h0M468.7 167.1h0M464.5 191.2h0M448.7 187.8h0M445.7 196.6h0M469.4 185.9h0M446.9 160.5h0M443.7 164.4h0M450.3 158.4h0M462 183.7h0M464.3 187.1h0M464.4 156.3h0M461.1 159.2h0M453.4 174.8h0M450.8 182.4h0M464.2 184.2h0M444.2 165.4h0M459 193.6h0M461.5 167.5h0M451.1 187.6h0M467.5 201.1h0M466.3 184.6h0M460 208.9h0M461.7 190.4h0M449.4 176.3h0M470.7 167h0M465.6 167.7h0M462.9 165.4h0M450.7 195.4h0M463.6 190.7h0M463.7 198.7h0M466.4 203.6h0M446.6 159.8h0M439.6 189.9h0M471.2 173h0M471 198.3h0M442 179.9h0M455.8 180.5h0M464.3 173.6h0M459.5 161.1h0M473.1 193.2h0M455.1 186.8h0M467.6 196.3h0M442.3 165.4h0M449.5 196.8h0M442.6 162.5h0M460.4 174h0M472.4 173.1h0M471.8 181.5h0M449.3 177.2h0M451.4 152.5h0M468.4 204h0M450.6 159.8h0M470.2 175.1h0M461.4 209.2h0M445.5 177h0M460.6 169.4h0M464 179.9h0M466.9 200.1h0M441.4 162.5h0M454.7 177.7h0M469.9 190.9h0M461.7 172.6h0M468 170.1h0M472.2 200.8h0M438.9 184.8h0M454 197.5h0M460.8 194.7h0M460 208.2h0M440.1 186.3h0M467.4 205.7h0M448.2 167.4h0M456.6 200h0M452.6 174.8h0M449.1 165.8h0M442.3 194.3h0M441.7 169.7h0M457.4 176.9h0M470.8 170.7h0M461 203.7h0M439.8 186.3h0M455.7 167.8h0M449.9 156.3h0M458 190.8h0M440.7 182.1h0M471.2 191.6h0M453.2 160.5h0M440.2 174.4h0M467.6 164.8h0M467.5 200.7h0M472.3 194.9h0M468.9 194.6h0M445.3 180.7h0M473.2 175.1h0M457.6 203.6h0M458.4 155.2h0M459.3 195.9h0M448.6 165h0M445.1 194.1h0M465.2 199.6h0M451.3 187.9h0M446.3 165.1h0M465.2 207.7h0M470.1 188h0M456.4 170.7h0M439.6 189.6h0M441.2 175.4h0M455.9 167.6h0M447.7 160h0M450.5 177.9h0M441 166.3h0M461.1 200.5h0M470.8 165.7h0M473.5 197.4h0M444.7 180.9h0M449.4 169.1h0M456.8 193.5h0M443.5 190.5h0M451.1 169.6h0M471.7 182h0M464.7 157.3h0M465.2 200.3h0M460.4 180.5h0M469 180.9h0M456.1 188.5h0M469.7 177.5h0M461.8 184.1h0M463.5 163.4h0M463 157.6h0M455.8 201.5h0M468.1 204.2h0M443 164.9h0M460.3 157.9h0M439.8 187.1h0M458.1 154.2h0M460.7 192.2h0M470 184h0M456.9 175.2h0M444.3 181.6h0M467.7 196.9h0M445.4 187.7h0M452.8 181.7h0M462.7 192h0M440.9 192.4h0M460.7 155.4h0M451.6 194.2h0M446.6 164.5h0M460.7 186h0M467.3 185.3h0M459.3 187.2h0M445.1 179.1h0M469.2 191.4h0M450.8 179.2h0M468 184.7h0M471.7 198.9h0M465.2 162.4h0M469.1 199.2h0M464.1 157.2h0M453.6 183.8h0M470.6 181.9h0M469.2 165.8h0M447.6 190.4h0M464.9 158.7h0M461.8 173.9h0M461.3 160.3h0M455.9 184.3h0M458.1 203.6h0M445.9 159h0M443.7 169.2h0M445.5 166.9h0M467.7 191.2h0M446 179.3h0M457.6 160.5h0M457.5 203.5h0M457.6 156.1h0M461.3 205.9h0M455 201.3h0M468.6 168.2h0M448.6 194.4h0M469.9 188.9h0M454.9 172.1h0M468.8 164.4h0M444.7 160.9h0M447.5 185.4h0M469.8 171.7h0M451.7 196.2h0M457.5 193.7h0M444.5 168.1h0M451.9 191.1h0M451.6 153.6h0M461 160h0M457.1 200h0M456.5 193h0M462.5 183h0M443.8 184.3h0M451.1 185h0M452 195.7h0M458 197.7h0M463.5 156.5h0M445.5 163.9h0M464.8 166.8h0M451.1 184.3h0M458 170.6h0M465.7 171.3h0M440.8 181.5h0M443.1 176.7h0M459 193.4h0M441.4 158.4h0M451.2 186.5h0M461.9 182.1h0M462.9 203.6h0M450.5 168.9h0M458.9 160.9h0M463.1 168.6h0M463.9 158.6h0M465.8 196h0M455.8 195.7h0M441.4 192.6h0M472.3 169.6h0M461.6 171.1h0M446.9 176.8h0M461.9 162.6h0M461.6 175h0M443.3 156.5h0M471 189h0M448.1 178.9h0M453.5 173.9h0M444.2 164.7h0M458.9 193.2h0M446.6 161.9h0M467.3 190.2h0M467.4 165.1h0M457.6 168.6h0M467 206.9h0M451.9 180.8h0M455.2 192.5h0M464.9 204.9h0M443.4 158.8h0M454.5 181h0M447.6 181.2h0M466.6 189.2h0M466.2 160.2h0M456.7 182.5h0M461.3 173h0M470.7 169.9h0M464.6 199.1h0M452 158.7h0M461.8 183.6h0M443.3 187h0M464.4 170.4h0M471.6 197.5h0M463.5 161.8h0M472 199h0M443.9 173.1h0M451.8 171.3h0M454.9 193.8h0M461.3 200.6h0M450.7 195.9h0M451.9 192.2h0M463.5 184h0M467.3 206.4h0M444.1 189.3h0M445.9 162.5h0M469 191.3h0M451.5 178.1h0M454.5 160.9h0M458.7 182.6h0M443.2 155.7h0M468.3 176.4h0M457.1 182.7h0M450.2 160.3h0M452.6 167.8h0M450.7 170.6h0M472.1 189.3h0M470.4 204.1h0M465.7 201.1h0M469.6 192.2h0M446.1 156h0M458.4 158.3h0M458.6 157.3h0M449.1 166.8h0M452.9 160.2h0M471.6 179h0M446.9 169.1h0M465 162.5h0M469.3 163.2h0M467.8 203.9h0M468 167.4h0M442.5 179h0M457.9 165.2h0M457 157.7h0M453.6 190.9h0M464.7 187h0M456.2 180.7h0M469.9 174.6h0M445.8 175h0M453 189.4h0M450.1 159.4h0M447.4 157.1h0M462.1 200.5h0M451.5 174.5h0M445.3 163.7h0M444.6 154.2h0M447.2 179.2h0M466.9 200h0M451.1 164.5h0M467.7 169.9h0M462.2 173.8h0M460.3 192.4h0M451.3 189.8h0M454.8 192.5h0M462.8 155.5h0M465.8 202.7h0M453.2 171.7h0M444.1 182.7h0M446.1 165.5h0M458.5 170.3h0M449.7 195.2h0M442.2 191.3h0M462.6 192h0M442.4 158h0M464.9 166.3h0M444.8 194h0M449.4 177.5h0M455.9 162h0M450.4 185.6h0M465.7 191.2h0M451.1 185.3h0M445.9 179.5h0M457 181h0M473.9 173.1h0M462.4 162.6h0M457.4 177.9h0M450.2 198.4h0M443.6 176.9h0M443.9 182h0M462.5 204.4h0M461.6 202.7h0M450.6 192.3h0M450.9 173.6h0M461.2 200.3h0M443.8 155.9h0M453.2 190.6h0M463.4 205.1h0M474.3 179h0M455.7 179h0M450.7 198.8h0M460.8 175.3h0M448.2 190h0M473.7 182.4h0M465.1 171.6h0M470.9 185.8h0M467 193.7h0M459.7 193.3h0M469.6 166.4h0M453.8 155.6h0M459.8 193.3h0M460.3 164.2h0M459.6 162.9h0M446.7 183.3h0M452.2 175.8h0M467.7 188.7h0M456.1 166.6h0M474.7 176h0M448.5 174h0M456.1 188.4h0M441.6 174.8h0M440.5 168.8h0M450.4 190.8h0M445.2 171.7h0M474.5 199h0M461.9 174.8h0M440.7 189.3h0M464.9 180.7h0M466.8 163.2h0M444.2 189.3h0M469.2 173.6h0M466 158.1h0M442.6 166.5h0M471.3 201.2h0M474 174.7h0M459.9 206.5h0M472.4 194.4h0M459.8 189h0M455 183.6h0M463.3 181.6h0M470.1 170.9h0M461.6 188.8h0M461.6 155.9h0M453.6 160.6h0M452.4 176.9h0M444.5 163.6h0M443 168.1h0M442.1 154h0M439.5 181.6h0M444.5 155.4h0M448.9 195.6h0M458.4 190.9h0M466.4 181.2h0M473.5 175.3h0M451.7 165.1h0M464.8 179.3h0M454.1 194.5h0M443.4 186.5h0M455.7 182h0M470.3 175.9h0M461 159.1h0M441.4 177.4h0M462.2 195h0M453.7 170h0M452.3 155h0M471.4 179.5h0M440.3 171.2h0M463.1 202.5h0M459.1 176.8h0M463.6 181h0M459.4 199.4h0M439.9 171.4h0M468.3 161.2h0M451.4 175.9h0M442.2 163.8h0M445.9 155.3h0M453 153.3h0M449 185.2h0M441.2 188.9h0M462.1 168.9h0M442.5 172.9h0M453.1 187.6h0M465.8 171h0M459.1 154.5h0M439.7 173.7h0M466.7 180.4h0M460.6 175.4h0M458.7 197.5h0M457.1 199.1h0M459.4 186.2h0M448.1 162.6h0M443.6 180.9h0M469.7 192.9h0M462.8 192.3h0M456.2 201.9h0M465.9 203h0M464.7 180.9h0M454.3 192.2h0M460.1 175.4h0M462.8 165.1h0M455.7 153.9h0M445.9 180.8h0M474 196.5h0M455.8 194h0M447.7 178.2h0M460.3 181.1h0M445.8 182.2h0M444.4 164h0M446.1 193.6h0M465.8 181.8h0M452.8 173.6h0M449.8 172.9h0M465 169.3h0M462.1 155.9h0M457.4 156.1h0M457.7 169h0M470.8 169.4h0M452.4 170.5h0M461.1 194.7h0M457.1 175.2h0M474.1 181.1h0M456.7 168.4h0M465.6 188.5h0M458.4 178.2h0M470.5 195.4h0M463.4 190.5h0M459 202.1h0M468.3 197.1h0M463.2 189.8h0M466.5 158.2h0M454.1 175.5h0M465.3 175.6h0M468.3 180h0M455.4 185.6h0M447.2 173.2h0M459.1 194.5h0M461.7 166.7h0M448.6 153.3h0M450.7 171.4h0M445.6 155.7h0M456.4 167.9h0M454.3 158.7h0M452.3 156h0M465.1 190.6h0M469.9 186.4h0M462.6 189.7h0M461.6 183.5h0M462.9 158.7h0M461.5 179h0M452.1 176h0M468.9 205.6h0M462 173.5h0M450.1 198.4h0M453.3 167.8h0M471.2 173.4h0M473.9 175.4h0M451.7 195.9h0M452.9 162.3h0M460.9 183.1h0M470.6 184.4h0M464.4 173.2h0M462.3 189.3h0M445.2 169.8h0M454.1 196.8h0M440.7 193h0M448.6 159.5h0M455.5 177h0M460.2 156h0M441.6 176.9h0M460.3 167.5h0M450.2 172.9h0M446.5 175.6h0M446.3 180.4h0M469.8 203.4h0M443.9 165.2h0M468.9 202.6h0M444.6 184.8h0M448.5 181.3h0M451.3 180.4h0M443.8 181.8h0M466.8 176h0M445.5 180.8h0M465.8 178.3h0M441.4 190.9h0M468.2 199.6h0M441.7 164.9h0M456 177.9h0M441.3 186.5h0M460.1 162.7h0M458.1 191.6h0M445.9 194.7h0M461 191.3h0M441.4 174.7h0M452.1 168.2h0M448.8 169.5h0M471.6 169.4h0M469.5 200.4h0M471.2 188.7h0M471.9 177.6h0M454.5 186.1h0M457.3 192.1h0M463 182h0M440.9 172.8h0M443.7 158.5h0M444.2 195.9h0M469.5 171.3h0M458.3 183.7h0M449.7 186.8h0M453.8 193.4h0M462.3 190.8h0M469 170.8h0M457.1 178.8h0M467.1 185.9h0M464.7 188.8h0M468.7 195.9h0M458.1 184.7h0M457.6 166.1h0M455.9 170h0M453.2 183.5h0M449.6 195.1h0M450.2 179.3h0M473.8 178.9h0M461.9 189.3h0M455.6 154.4h0M450.5 188.9h0M455.9 186.7h0M458.9 173.2h0M455.2 164.3h0M458.8 178.1h0M438.7 182.7h0M453.6 181.2h0M440.5 174.5h0M443.5 159.2h0M470.9 186.6h0M468.9 173.1h0M457.7 157.5h0M450.8 166.1h0M464.7 195.2h0M459.7 192.5h0M447.4 189.1h0M462.5 168.6h0M450.6 194.5h0M458.6 204h0M466.5 199.6h0M470 189.8h0M447.1 156.3h0M470.1 197.7h0M453.7 201h0M459.4 186.2h0M444.4 186.6h0M454.6 180h0M461.1 199.5h0M441.5 160.7h0M468.8 189.1h0M472.3 187.9h0M445 179.1h0M454.5 168.4h0M456 173.6h0M469.7 170.6h0M449.2 192.6h0M457.1 194.2h0M458.7 199h0M438.7 183h0M452.7 158h0M465.3 191.9h0M463.6 179.8h0M458.7 181.8h0M449.8 183.6h0M469.1 199.6h0M455.3 191.4h0M455.2 167.2h0M464 161.4h0M440.3 190.7h0M463.9 158h0M454.1 193.7h0M471.6 180.9h0M454.6 184.6h0M460.4 200.5h0M455.1 200.9h0M442.1 189.2h0M466.8 163.8h0M444.6 195.8h0M457.8 181h0M453.8 177.5h0M471.6 172.8h0M450 175.4h0M463.6 156.6h0M467.6 164.3h0M456.9 167.9h0M458.2 169.2h0M454 186.1h0M471.4 170h0M469.9 171h0M460.5 186.8h0M464.9 188.8h0M446.7 170.3h0M445.7 177.9h0M467.6 193.7h0M442.2 167.8h0M463.7 181.9h0M460.3 190.6h0M463.4 165.7h0M464.4 165h0M452.6 168.2h0M445.2 168.9h0M446.5 174.9h0M453.6 182.7h0M444.3 191.8h0M456.2 181.6h0M472.9 172.9h0M468.3 191.2h0M466 189.4h0M466.5 195.1h0M463.4 155.8h0M441.8 161.1h0M471 161.2h0M467.3 207.4h0M441.3 165.5h0M454.7 152.4h0M444.1 153.2h0M459.4 206.4h0M440.7 158.7h0M438.4 182.7h0M472.6 163.3h0M464.2 209.8h0M441.5 160.8h0M439.2 186.6h0M473.5 193.2h0M437.4 186.6h0M475 198.1h0M439.6 180.7h0M474.1 193.1h0M459.2 152.7h0M459.7 154h0M442.1 153.3h0M472.7 169.9h0M446.1 196.7h0M474.8 170.1h0M458.2 205.6h0M461.5 154.2h0M468.2 159.7h0M446.1 196.1h0M443.7 154.3h0M439.6 185.9h0M441.4 196.3h0M463.2 153.8h0M471.9 163.9h0M440.4 160.6h0M473.7 179.6h0M440.9 159.4h0M462.8 154.5h0M473.3 172h0M456.7 201h0M471.8 164.8h0M452.1 152.4h0M451.6 201h0M471.2 160.9h0M472.5 173h0M455.4 153.1h0M444.6 196h0M446.9 152.8h0M466.4 156.7h0M473.7 180.7h0M444.3 195.2h0M473.3 187.9h0M436.7 192.8h0M453.2 201.5h0M463.1 155.1h0M474.1 185.1h0M437.9 182h0M458.7 204.1h0M469.1 207.3h0M447.5 153.2h0M440.3 166.4h0M447.3 197.9h0M471.8 163.8h0M442 159.8h0M473.8 194.3h0M453.8 150.7h0M474.5 195.4h0M472.1 186.5h0M452 199.9h0M471.5 166.6h0M467.5 157.8h0M437.7 188h0M453.2 153.7h0M472.4 205.1h0M473.7 170.7h0M474.1 176.8h0M447.5 154.8h0M439.3 174h0M473.1 169.2h0M439.4 172.2h0M473.2 172.1h0M442.5 153.4h0M438.6 178.2h0M473.3 184.8h0M453.9 199.9h0M442.2 195.4h0M454.9 201.1h0M438.8 181.2h0M454.9 153.3h0M439.3 184.3h0" stroke="#F8766D" stroke-width="1.3"/>
<path d="M438.4 193.6 447.5 197.3 456.6 202.8 460.3 213.7 458.5 226.5 453 237.4 447.5 244.7 438.4 244.7 432.9 237.4 429.3 226.5 424.7 221 426.5 210.1 432.9 201Z" fill="#EA8331" fill-opacity="0.4"/>
<path d="M437.2 236.6h0M452.9 211.1h0M453.4 234.7h0M451.8 229.8h0M447 213.4h0M455 223.5h0M435.7 231.5h0M428.3 219.6h0M436.2 222h0M454.8 202.9h0M449.7 239.8h0M450.2 238.7h0M441.4 217.1h0M444.4 205.8h0M431.4 219.7h0M452.3 223.4h0M458.5 224.3h0M435 228.1h0M428.1 213.6h0M448.4 216.4h0M438.4 219.3h0M437.6 242.5h0M449.8 239.8h0M450.1 237.8h0M446.8 199.6h0M428 219.8h0M443.8 232.2h0M431.4 224.9h0M438.2 197.7h0M434.9 228.4h0M440.8 223.5h0M426.6 219h0M434 227.7h0M433.3 208.6h0M428.8 225.3h0M446.4 227.9h0M447.5 218.1h0M434.4 210.6h0M436.9 207.5h0M437.7 199.8h0M447.4 230.1h0M425.8 219.3h0M432.1 221.8h0M429.4 206.8h0M437.2 227.9h0M448.4 204.1h0M452.4 220.5h0M438.4 239.3h0M449.9 201.6h0M430.7 215.7h0M428.5 224.9h0M446.7 199h0M449 227.5h0M455.6 230.3h0M447 201.6h0M448.9 232.4h0M430.4 228.2h0M440.7 221.5h0M449.6 217.5h0M444.7 205.2h0M445.2 231.6h0M454 225.1h0M458.8 223.4h0M449.4 220.3h0M432.7 204.8h0M452.2 217.8h0M435.7 214.3h0M433.6 218.3h0M435 239.8h0M441.5 221.8h0M449 230.3h0M440.7 221.4h0M445.2 225.4h0M438.2 224.4h0M450.6 215.7h0M434.1 222.2h0M427.5 209h0M442.1 238.6h0M439.3 233.8h0M435.4 224.2h0M432.4 222.3h0M441.8 202.2h0M455 216.9h0M452.9 202.4h0M447.5 219.2h0M446.8 220.1h0M440.9 207.5h0M433.1 235.7h0M450.5 205.4h0M440 225.2h0M432.2 229.3h0M449.5 229h0M434.1 228.6h0M445 206.2h0M433.9 229.9h0M443.6 241.8h0M441.9 237.9h0M436.5 208h0M425.6 218.2h0M448.4 201.7h0M450.8 233h0M445.8 208.4h0M430.8 216.1h0M446.8 235.3h0M435.4 226.5h0M450.6 225h0M445.6 243.3h0M439.1 204h0M440.3 243.5h0M454.8 204.7h0M444.4 235.7h0M441.2 212.8h0M449.7 217.9h0M435.7 223h0M433.5 214.3h0M449.2 204.1h0M437.8 207.7h0M456.6 212.9h0M431.3 232.2h0M443.5 220.5h0M429.5 206.5h0M429.7 218.6h0M451.3 225.4h0M453.4 210.8h0M435 229.4h0M448.6 208.8h0M449.9 234.7h0M441.9 218.5h0M459.2 215.2h0M448.4 200.2h0M453.7 204.2h0M449.9 233.4h0M434.5 224h0M432.3 205.9h0M443 221.2h0M437.8 213.7h0M446.7 244.7h0M444.6 203h0M431.9 209.6h0M441.9 218h0M460.1 214.9h0M448 216h0M436.9 205.1h0M429.8 215.4h0M437.2 230.6h0M438.3 225.1h0M451.2 218.1h0M445.2 197.5h0M441.6 219.3h0M445.6 235.4h0M457.3 215.7h0M428.7 216.8h0M428.9 213.9h0M448.8 208.4h0M449.3 230h0M450.6 208.9h0M444.1 208.2h0M447 200h0M446.6 244.6h0M430.6 219.9h0M431 224.9h0M453.5 207.7h0M434 237.6h0M444.8 212h0M446 214.2h0M446.2 215.8h0M435 207.5h0M449.4 210.1h0M435.4 232.3h0M440 217.4h0M457.3 205.9h0M442.3 243.4h0M437.3 215.3h0M428.6 216.9h0M435.4 229.3h0M437.6 236.4h0M438.1 218.9h0M427.7 221.1h0M433.8 224h0M453 215.5h0M431.3 218.6h0M442.7 209.4h0M450.3 219.6h0M445.5 212.1h0M449.8 216.7h0M432.7 218.1h0M442.2 229.6h0M453.8 212.5h0M453.1 228h0M451.3 200.5h0M431.9 222.9h0M438.4 195.7h0M444.2 209.7h0M440.8 220.3h0M429.4 217.2h0M427.8 220.5h0M451 230.1h0M439.5 200h0M444.1 216h0M455.8 223.5h0M452.6 219.8h0M447.7 198.4h0M426.2 213.8h0M449.4 201h0M437 241.2h0M429.6 214.2h0M440 200.1h0M432.2 234.6h0M444.5 203.2h0M443.7 232.8h0M448.7 205.3h0M435.1 233.1h0M434.7 227.1h0M447.4 220.8h0M448.9 222.8h0M449.1 213.2h0M438.2 196.7h0M437.1 214.9h0M434.2 232h0M448.1 223.2h0M438 204.2h0M450.4 204.2h0M445.1 210.7h0M448.3 237.4h0M441.9 214.7h0M442.2 211.2h0M453.6 201.5h0M435.5 206.7h0M450.8 203.2h0M452.3 238.2h0M433.2 225.5h0M435.8 204.1h0M448.7 227.2h0M434.5 225.1h0M433.1 225.7h0M447.4 203.7h0M445.2 219.4h0M436 238.9h0M450.9 231.3h0M454.6 204.4h0M433 236.9h0M434.6 203.5h0M438.3 232.3h0M441.1 224.4h0M444.1 198h0M441.3 210.2h0M445.9 216.6h0M452.3 224.9h0M454.9 228.9h0M443.2 233.6h0M455.5 206.3h0M451.3 205.4h0M451.6 200.7h0M444 200.4h0M435.7 231.3h0M434.4 216.8h0M439 213.2h0M452.5 222.7h0M439.8 236.5h0M453.7 224.1h0M435.1 239.3h0M458.6 225.3h0M436.9 202.5h0M444.8 237.4h0M441.8 200.2h0M444.1 219h0M438.5 198.6h0M433.7 215.1h0M448.8 231.4h0M432.7 222.7h0M450.8 230.5h0M445.7 212.5h0M429.9 208.7h0M436.7 207.8h0M451.4 219.3h0M447.5 242.5h0M435.9 208.2h0M434.3 237.3h0M446.9 240.8h0M432.7 227.9h0M448 240h0M452.8 235.3h0M433.1 233.2h0M427 221.2h0M433.8 225.1h0M429.2 218.6h0M456.9 220.5h0M427.1 223.7h0M442.5 199.6h0M445 234.4h0M443.5 215.1h0M449.6 237.7h0M442 236.3h0M445.5 201.7h0M438.7 201.5h0M448.3 210.2h0M437.6 224.9h0M450.4 240h0M439.7 196.4h0M454.8 224.2h0M441.7 242.9h0M443.3 231.4h0M444.1 243.9h0M450.6 217.1h0M453.5 235.3h0M446.2 230.1h0M450.7 204.2h0M451.1 202.4h0M426.7 218.3h0M439.4 208h0M434.5 239.1h0M437.7 233.5h0M436.3 239.9h0M425.5 221.9h0M441.2 220.5h0M457 224.3h0M450.9 204.5h0M457.4 222.5h0M451.3 204.3h0M430.1 205.9h0M441.9 242.7h0M443.4 200.7h0M434.3 233.7h0M454.6 206.6h0M455.8 218.1h0M434.5 215.8h0M446.8 204.2h0M434.1 202.8h0M432.9 231.9h0M433.2 202.7h0M434.5 232h0M433.5 232.7h0M430.2 211.6h0M431.2 230.4h0M441.5 202h0M448 201.8h0M431.1 210.1h0M443.8 214.6h0M430.6 208.7h0M439.5 214.1h0M445.4 201.8h0M432 204.5h0M449.7 200.5h0M446.4 240.5h0M428.7 212.2h0M453.7 211.1h0M434.2 230.9h0M451.1 238h0M436.7 240.6h0M434.6 219.1h0M457.9 208.2h0M429.1 207.2h0M437.2 240.5h0M448.5 229.7h0M456.1 205.2h0M443 227.1h0M435.3 217.4h0M445 198.7h0M439.7 207.2h0M446.3 201h0M451.6 238.6h0M440.3 196.2h0M448.3 218h0M451.1 218.6h0M449.2 233.6h0M447.2 219.5h0M442 209.6h0M446.7 243h0M433.2 213.8h0M457.7 216.5h0M425.5 216.5h0M441.6 210h0M444.2 220.8h0M439.5 206.3h0M446.9 233.2h0M446.2 232.1h0M439.3 210.7h0M435.2 207.5h0M452.2 211.6h0M438.5 212.3h0M448.9 237.2h0M460.2 213.8h0M443.7 241.4h0M434.1 218.5h0M449.4 232.4h0M439.2 225.8h0M446.1 234h0M456 219.8h0M452 217.8h0M435.8 210.6h0M443 203.2h0M442 210.3h0M436 200.4h0M434.1 231.5h0M449.1 214.5h0M438.5 209.7h0M442.3 212.2h0M453.2 234.3h0M448.5 198.1h0M435.8 212.2h0M450.4 224h0M450.7 225.2h0M447 225h0M435.6 212.7h0M432 203.1h0M436.9 204.6h0M447.8 238.1h0M438.1 195.1h0M440.5 212h0M451.8 220.2h0M443.1 208.3h0M450.1 208.7h0M450.7 206h0M434.1 232.5h0M449 220.3h0M430.2 217.4h0M438.3 236.1h0M438.9 195h0M438.7 198.7h0M444.8 240.7h0M442.6 236.5h0M442.1 236.3h0M457.1 223.2h0M452.4 208.1h0M440.8 226.1h0M433.7 224.7h0M453.2 230.9h0M451.5 208.9h0M447.5 243.8h0M425.3 219.9h0M448.3 214.4h0M433.2 216.4h0M451.4 226.2h0M442.3 239.4h0M443.3 229.3h0M445.9 232.5h0M436.2 232h0M455.8 225.6h0M443.9 230.2h0M447 238.4h0M439.1 201.7h0M440.6 218.8h0M452.3 221.6h0M440.6 233.3h0M455.3 214.5h0M451.7 230.6h0M444.7 206.6h0M444.9 206.7h0M431.7 223.1h0M431.6 212.5h0M442.2 206.4h0M447.9 199.8h0M458.8 218.7h0M449.1 210.1h0M440.3 241.9h0M433.3 219.8h0M452.1 221.4h0M431.3 220.8h0M456 226.9h0M443.4 217.3h0M451.4 237.7h0M441.2 242.4h0M438.8 227.7h0M432.9 230h0M437.6 207.7h0M437.7 235h0M441.3 207.4h0M450.3 209.6h0M439.5 207.7h0M430.7 222.7h0M434.1 236.4h0M442.4 206.7h0M435 206.9h0M430.2 220.6h0M435.7 240h0M458.4 223.7h0M432.4 232.6h0M441.7 226h0M440.6 212.6h0M444.9 204.5h0M438.4 235.1h0M437.7 235.5h0M456.2 222.8h0M443.9 217.4h0M438 240.1h0M429.1 222.6h0M447.9 220.4h0M454.2 209.8h0M447.9 234.9h0M443.1 213.1h0M437 222.4h0M441.9 244.2h0M459.3 217.6h0M448.3 231.4h0M443 197.2h0M456.5 209h0M440.2 229.7h0M445.5 198.9h0M431.7 221.3h0M455.9 230.9h0M445.7 241.9h0M439.5 237.8h0M430.7 226.5h0M446.7 201.6h0M445.4 218.7h0M456.7 203.4h0M432.7 217.9h0M432.4 222.9h0M430.1 211.2h0M438.1 206.8h0M446.8 201.9h0M437 214.3h0M430.1 212.1h0M455.9 225h0M431.6 217h0M444.7 231.4h0M435.2 230.7h0M437.5 203.9h0M437.3 235.4h0M433.7 218.2h0M449.4 216.2h0M432.3 213.3h0M449 228.8h0M451.6 201.2h0M453.8 228.8h0M441.5 198.4h0M432.9 206.8h0M442.5 233.9h0M435.9 226.2h0M430.4 229.6h0M427.8 213.8h0M437.2 223.8h0M442.6 221.1h0M450.6 209.7h0M426.9 219.2h0M448.4 225.1h0M430 220.4h0M442 238.1h0M444.5 230.3h0M428.5 211.6h0M433.9 203.5h0M440.5 229.8h0M446 203.6h0M459.3 215.8h0M436.1 202.5h0M457.4 205.5h0M432.6 203.8h0M444.4 216.9h0M433.7 236h0M446 218.8h0M430.1 218.1h0M442.8 223.4h0M446.9 224.2h0M435.1 226.1h0M449.2 235.6h0M440.1 228.6h0M449.1 204.8h0M439.3 210.8h0M451.5 220h0M439.2 238.2h0M442.2 232.6h0M441.3 213.5h0M437.1 209.5h0M433.5 216.6h0M432.4 219.5h0M448.5 207h0M444.7 208.4h0M448.9 234.7h0M430.8 220.3h0M439.8 227.8h0M440.1 223.2h0M427.8 219.5h0M453.8 221.5h0M445.6 222.9h0M456.7 213.8h0M456.7 227.2h0M425.7 219.8h0M426.2 214.6h0M454.5 216.7h0M446.2 203.4h0M442.6 207.8h0M431.9 228.5h0M443.9 225.7h0M449.3 202.2h0M437.8 215.5h0M455.8 209.5h0M437.2 210.6h0M438.6 241.8h0M455 218.7h0M450.5 208.4h0M443.3 231.3h0M441.9 219.2h0M454 208.4h0M452 208.9h0M447 213.6h0M456.7 214.3h0M454.8 218.3h0M429.9 216.6h0M446.2 212.6h0M443.1 239.7h0M437.3 224.6h0M436 232h0M449.5 238.3h0M446 233.7h0M454.5 225.9h0M454.6 209.7h0M435.5 214.8h0M434.2 200.4h0M448.8 226.7h0M438.1 203h0M459.1 217.8h0M438.9 204.6h0M456.1 212h0M444.6 208h0M434.7 235.5h0M446.9 203h0M454.1 212.9h0M431.9 214h0M433.3 236.4h0M428.3 219.5h0M458.2 207h0M460.1 210.4h0M438.5 244.8h0M457.2 203h0M455.9 230.5h0M459.4 218.1h0M442.3 244.6h0M431.5 231.1h0M458 219.5h0M459.3 222.1h0M454.4 201.8h0M449.9 197.8h0M436.9 244h0M461.7 216.3h0M454.3 232.1h0M427.8 224.2h0M451 200.6h0M436.3 198h0M429.9 204.8h0M432.2 238.7h0M425.9 223.3h0M456 203.2h0M431.8 202h0M455.7 202.6h0M458.7 217.4h0M435.3 196.2h0M427.8 226.1h0M447.6 243.3h0M433.9 237.7h0M434 237.1h0M459.1 210.9h0M459.5 221h0M447.1 243.9h0M440.4 196.5h0M460.4 212.9h0M430 229.3h0M435.8 198.7h0M437.1 244.8h0M448.3 242.3h0M444.8 245.4h0M427.6 209h0M441.2 196.5h0M427.7 223.5h0M457.6 227.5h0M461.4 218h0M445.5 198.2h0M427.4 210.1h0M445 196.8h0M453.4 202.9h0M451.4 200.9h0M429.4 227.7h0M434.3 239.5h0M458.2 223.9h0M459.7 212h0M452.2 200.3h0M446.7 196.7h0M423.5 214.9h0M454.8 203.2h0M434.1 196.5h0M438 245h0M426.4 208.7h0M440.2 191.5h0M456.7 231.6h0M430.1 229.6h0M458.3 229.4h0M431.2 230.5h0M459.6 220.6h0M433.7 233.3h0M432.2 230.5h0M428.7 209.3h0M428.6 224.4h0M456.3 230.3h0M437 243h0M458.4 206.2h0M424.4 217h0M442 193.9h0M454.3 199.7h0M455 233.7h0M453.6 234.9h0M448.6 197.1h0" stroke="#EA8331" stroke-width="1.3"/>
<path d="M460.3 210.1 469.4 206.4 471.2 217.4 472.2 237.4 467.6 252 463.9 263 456.6 269.4 449.3 266.6 444.8 255.7 442 248.4 447.5 244.7 453 237.4 458.5 226.5 460.3 213.7Z" fill="#C09B00" fill-opacity="0.45"/>
<path d="M467.5 251.1h0M456.7 244h0M448.5 256.4h0M459.7 246.3h0M455.5 256.6h0M451 263.3h0M470.6 241.9h0M448.9 250.3h0M467.8 220h0M460 256.6h0M460.3 221.9h0M465.2 217.6h0M464.9 244.9h0M458.1 246.1h0M468.5 225.8h0M468.7 244.6h0M453.3 243.9h0M465.7 254.4h0M466.6 245.8h0M450.4 245.4h0M460 249.8h0M465.4 233.9h0M470.3 232.6h0M468.5 246.6h0M450.1 247.3h0M466.2 215.3h0M448.5 250.1h0M464.2 248.8h0M469.5 243.5h0M455 262.4h0M462.7 209.7h0M452.7 263.2h0M470.6 214h0M454.3 266.1h0M456.9 255.3h0M470.5 232.9h0M467 212.7h0M456.4 242.6h0M448.7 257.7h0M461 233.1h0M463.6 239.5h0M469.5 243.4h0M460.3 261.7h0M462 219h0M462.8 254h0M454.1 267h0M458.8 241.4h0M464 261.7h0M461 250.9h0M468.5 220.3h0M459.9 235.6h0M463.6 220.4h0M450.1 251.4h0M468.3 211.3h0M454.3 264.9h0M463.1 222.3h0M462.1 261.7h0M453.2 264.3h0M461.3 261.4h0M461.2 251.9h0M452.9 244h0M458.7 245.1h0M455.7 242.4h0M463.8 257.2h0M461.7 233.5h0M464 221.5h0M454.3 266.8h0M462.4 259.6h0M446.9 254.1h0M455.4 256.2h0M462.9 240.8h0M459.8 257.5h0M471.5 237.5h0M464.9 246.2h0M451.1 253.3h0M462.3 224.7h0M449.6 258.5h0M463.1 214.1h0M456.7 263.9h0M469 226.2h0M466.8 228.6h0M455.3 259.1h0M444.1 250.1h0M468.6 214.2h0M469.2 245.2h0M461.5 241.4h0M445.6 256.6h0M448.4 261.7h0M450.2 244.2h0M465.6 215.1h0M457.1 238.5h0M455.8 255.8h0M456.1 231.9h0M466.7 216.8h0M457.8 234.5h0M463.7 219.1h0M470.8 221.4h0M459.4 261.6h0M458.9 262.2h0M468.8 206.7h0M466.1 212.2h0M467.8 225.2h0M458.1 259.3h0M454.9 246h0M464.6 238.7h0M456.8 246.7h0M460.8 256.3h0M460.7 222h0M469 215.3h0M458.4 251.9h0M452.4 262.9h0M454.2 235.2h0M470 220.4h0M444.7 252h0M470 230.6h0M467.2 238.8h0M469.2 207.5h0M463.2 235.4h0M459.8 240.1h0M465.4 258.2h0M462.6 224.6h0M456 231.9h0M451.1 254.9h0M466 230.4h0M460 255.8h0M461.8 221.1h0M469.3 207h0M450.4 242.5h0M460 216.6h0M462 224.2h0M465.3 225.3h0M469.2 246.9h0M448.5 256.8h0M471.1 236.4h0M451 256.7h0M468 209.7h0M465 237.7h0M464.9 227.5h0M457.4 249.2h0M447.3 260.4h0M465.9 233h0M450.7 252h0M466.7 220.7h0M462.6 246.2h0M467 210.9h0M463.7 218h0M449.5 251h0M464 215h0M464.3 236.4h0M468.2 248.6h0M456.6 266.7h0M454.6 262.8h0M464.9 219.1h0M450.3 263h0M455.4 268.3h0M463.4 258.4h0M470.3 229.1h0M460 252.2h0M456.7 246.6h0M459.3 227.8h0M470 210.3h0M457.1 246.6h0M451.1 254.4h0M467.3 229.2h0M450.6 247.6h0M461.2 251.5h0M459.3 237.3h0M451.4 253.7h0M464.2 247.8h0M451.4 250.7h0M463.2 212.5h0M444.1 252.2h0M469.1 228h0M446.8 251.2h0M446.6 258.4h0M469.6 225.8h0M462.4 248.3h0M462.1 229.2h0M468.6 241.4h0M467.3 251.5h0M445.6 254.8h0M461.9 254.1h0M465.5 216.5h0M463.5 258.5h0M449.9 261.9h0M461 240.3h0M466.8 226.9h0M461.6 224h0M465.4 209.2h0M460.9 210.3h0M452.8 243.9h0M447.2 251.6h0M457.7 261.9h0M460.1 230.1h0M458.3 265.4h0M470.5 238.5h0M456.1 264.9h0M465.8 255.9h0M457.1 239.4h0M453.6 242.2h0M461.1 229.8h0M465.1 256.6h0M469.5 236.4h0M451.3 253h0M448.3 261.6h0M465 249.8h0M459.6 257.8h0M448.2 247.6h0M447.1 258.5h0M446.2 253.1h0M461.3 247h0M462.7 254.5h0M471.3 228.3h0M451 265.1h0M464.9 226.1h0M455.7 264.3h0M449.6 242h0M459.8 217.3h0M460.8 256h0M462 237.7h0M458.7 262.1h0M464.5 230.9h0M463.5 221.1h0M454.3 242.6h0M451.2 249.1h0M465.2 235.9h0M467.1 244.3h0M465.2 224.9h0M451.1 254.7h0M444 250.4h0M463.6 241.5h0M455.9 266.1h0M462.9 223.6h0M447.8 252.5h0M466.1 220.9h0M463.8 239.5h0M451.3 252.8h0M460.1 220.6h0M459 240.6h0M445.3 249h0M458.3 252.5h0M451.1 258.2h0M457 255h0M463.1 240.6h0M461.7 215.7h0M466.9 251.9h0M451.6 241.2h0M460.9 216.6h0M449.6 264.9h0M450.8 257.7h0M465.8 220.1h0M456 246.7h0M458.9 247.2h0M467.6 236.6h0M459.5 245h0M464 212.3h0M462 249.9h0M445 249.2h0M467.6 246.5h0M456.1 231.3h0M452.5 264.5h0M471.6 232.1h0M452.2 243.1h0M464.4 224h0M448.9 259h0M456.9 246.4h0M466.8 252.2h0M456.8 263h0M449.8 261h0M468.3 244.8h0M469.1 228h0M454.4 265h0M470.5 238.4h0M465 243.9h0M463.1 233.4h0M459.6 234h0M452.6 254.1h0M450.7 252.7h0M461.4 233.9h0M449.5 259.8h0M465.7 214h0M471.3 225.3h0M458.4 260.7h0M454.7 239h0M465.3 225.1h0M462.3 254h0M465.6 221.2h0M459.9 260.8h0M463.3 248.6h0M469.9 219.7h0M459 262.6h0M466.5 211.3h0M465.7 217.3h0M451.2 248.6h0M450.5 254.8h0M463.1 263.4h0M470.4 238.5h0M448.9 254.8h0M458 264h0M466.6 243.5h0M452 266.4h0M467.8 222.8h0M466.2 216.5h0M449.6 244.2h0M461.3 226h0M451.3 253.9h0M469.6 244.9h0M464.1 220.8h0M460.2 252.6h0M463.5 224.1h0M447.4 259.7h0M468.2 226.5h0M463 244.3h0M469.7 221.1h0M453.9 254.9h0M446.6 250.2h0M462.4 222.2h0M456.1 237.3h0M455.6 241.9h0M471.6 228.9h0M452.2 245.9h0M465.1 235.8h0M461.7 229.1h0M467.5 215.3h0M462.5 224.6h0M468.5 223.3h0M452.2 244.2h0M467.7 244.3h0M456.6 246.3h0M463.6 211.7h0M454.5 259.2h0M462.4 218h0M468.2 211.6h0M461.8 251.6h0M466.2 225.2h0M457.7 267.5h0M461.5 216.1h0M461.3 260.7h0M449.8 247.5h0M463.2 240.8h0M456.1 236.4h0M463.6 239.4h0M459.6 261.5h0M462.1 224.2h0M465.2 229.2h0M451.2 254.5h0M469.2 229.2h0M460.4 215.6h0M449.9 250.2h0M453.9 259.8h0M459.5 242.1h0M455.5 238.7h0M464.9 240.5h0M467.5 213h0M460.8 254h0M459.3 234h0M462.4 247.7h0M455.1 261.1h0M459.3 249h0M461.1 214.3h0M460.7 248.9h0M451.8 239.8h0M466.5 245.8h0M464.8 244.8h0M461.8 239.6h0M454.2 252.8h0M466.1 208.7h0M448 262.9h0M459 253.6h0M454.5 245.4h0M446.6 249.4h0M447.6 253h0M454.9 262.8h0M464.5 233.8h0M461 236.5h0M463 211.6h0M456.7 256.4h0M461.5 228.1h0M463.6 215h0M462.1 240.2h0M456.1 241.3h0M452.3 259.4h0M465.8 233.6h0M451.6 241.5h0M455.3 241.6h0M468.7 242.8h0M462.8 225.4h0M462.3 249.9h0M469.7 218.9h0M467.5 228.2h0M447.1 257.9h0M465.5 246.5h0M453.6 255.7h0M465.8 243.8h0M462.4 211.2h0M455.5 263.1h0M465.6 225.6h0M449.1 257.8h0M469.5 241.2h0M460 258.2h0M468.9 213.3h0M455.6 261.8h0M454.9 251.9h0M461.6 223.8h0M466.9 208.1h0M460.4 247.7h0M467.3 211h0M471.7 227.8h0M448.5 251h0M451.1 258.4h0M460.9 243.2h0M467 230.8h0M463.1 228.7h0M465.7 247.1h0M459.2 252.3h0M461.1 256.8h0M461.7 260.9h0M467 235.5h0M459.7 256h0M459.1 238.9h0M464.3 259.4h0M462.7 254.3h0M449.4 247.7h0M455.4 262.8h0M460.5 227.3h0M446.4 255.1h0M449.1 245.9h0M463.9 244.2h0M456 261.2h0M471.7 230.1h0M464.5 230h0M449.1 260.5h0M463.1 249h0M460.8 260.4h0M466.5 242.6h0M468 238.2h0M455.4 247.4h0M466.3 253.4h0M465.2 239.2h0M466.7 226.2h0M459.9 257.9h0M459.5 253.9h0M455.6 257.2h0M466.8 231.9h0M445.7 252.9h0M459.1 255.2h0M457.2 249.8h0M464.2 243.4h0M458.4 231h0M470 244h0M460 227.7h0M470.7 232h0M466.7 218h0M452.9 245.5h0M459.1 242.6h0M451 266.4h0M448.9 263.1h0M468.8 230.7h0M460.6 248.6h0M454.3 263h0M471 218.2h0M463.3 221.6h0M470.6 218h0M455.7 238.7h0M459.2 233.3h0M464.8 216.8h0M466.1 220.2h0M462.4 241.3h0M465.3 217.4h0M454.1 251.3h0M449.3 242.8h0M463.2 263h0M468 246.3h0M459.6 241.8h0M468.7 233.3h0M467.1 238.1h0M453 245.4h0M458.3 249.5h0M455.8 247.1h0M446.4 257.6h0M455.2 262.2h0M468.2 207.2h0M453.8 239.1h0M465.9 241.7h0M455.6 242.8h0M463.7 212.2h0M461.2 254h0M460.5 211.8h0M461.1 226.3h0M468 243.4h0M465.8 232.7h0M464.8 215.8h0M454.5 268.1h0M470.1 234.3h0M468.4 217.4h0M465.8 251.2h0M462.8 225.3h0M460.5 235.8h0M453.7 248.7h0M448.7 244.1h0M455.9 252.3h0M451.9 248.5h0M449.3 249.7h0M461 245.9h0M452.9 260.9h0M458.6 226h0M469.9 219.8h0M465.7 234.4h0M461.6 218.3h0M465.7 228.9h0M444.5 249.8h0M467.4 228h0M461.9 223.6h0M451.8 254.4h0M469.4 210.8h0M465.5 255.3h0M468.7 227.3h0M449.7 264h0M450.3 260.3h0M460.4 217.4h0M447.7 254.6h0M465.6 218.2h0M459.9 227.7h0M460.8 222.1h0M461.3 241.4h0M469.6 230.1h0M449 252.3h0M464.9 223.6h0M458.4 259.8h0M456.8 263.7h0M469.7 241.7h0M463.9 256.2h0M467.3 212.1h0M460.7 264.5h0M465.8 221.9h0M470.4 231.7h0M469.9 219.9h0M446.7 256.7h0M457.1 246.4h0M469 226.8h0M458.1 245.2h0M460.4 229.7h0M470.6 234.6h0M467.5 208.7h0M453.1 243.4h0M452.1 239.4h0M471.4 229.4h0M459.7 228.1h0M453.2 263.5h0M458.9 256.4h0M469 223h0M457.5 234h0M447.2 251.8h0M460.2 227.8h0M450.7 263.7h0M450.6 250.7h0M469.6 243.8h0M452.6 243.2h0M463.4 245.8h0M462.8 237h0M459 232.4h0M469.9 219.8h0M464.3 215.5h0M455.4 251.8h0M453.9 241.4h0M465.1 239.5h0M452.1 255.8h0M468.2 220.4h0M459.1 243.9h0M465.8 251.4h0M458 257.4h0M467.3 208.7h0M444.9 247.2h0M452.6 243.2h0M462.5 248.3h0M444.7 247.7h0M461.3 240.9h0M446.5 250.4h0M469.5 220.2h0M453.1 238.6h0M448.4 263.5h0M468.7 232.8h0M455.9 246.8h0M448.6 249.9h0M456.7 265.9h0M467 209h0M463.3 211.7h0M468.7 223.7h0M458 259.9h0M465.7 240.3h0M467.2 252.8h0M446.2 256h0M454.7 261.6h0M456.6 231.6h0M468.9 239.7h0M467.9 215.1h0M452 246.2h0M451.3 255.3h0M458.7 242.1h0M462.8 231.2h0M468.6 226.2h0M464.2 217.7h0M458.6 258.5h0M444.9 251.9h0M465.4 258.5h0M462.8 235.9h0M452.1 262.2h0M469.6 233.3h0M462.1 222.2h0M456.7 230.1h0M462.4 244.9h0M470.7 224.7h0M469.7 244.5h0M456.1 243.1h0M466.1 219.2h0M451.9 259h0M462.6 212.4h0M462.9 217.7h0M469.5 209.6h0M471.6 234.4h0M465.9 252.9h0M473.5 233.9h0M458.8 228.1h0M446.6 262.2h0M457.5 225.9h0M441.4 251.1h0M460 212.3h0M459.2 265.7h0M469 253.9h0M445.6 245.2h0M458.4 225.5h0M474.1 234.7h0M470.6 214.8h0M445.9 245.4h0M450.4 266.7h0M446.4 262.7h0M461.9 215.3h0M455.4 234.7h0M472.6 232.4h0M466.5 259.5h0M454.1 269.8h0M442.3 250h0M441.3 249.9h0M464.6 207.4h0M460 219.8h0M442.7 250.4h0M463.5 263.8h0M468.5 206.7h0M445.3 245.5h0M469.7 208.6h0M449.6 268h0M443.3 252.8h0M468.6 251.6h0M453.5 269.7h0M460.7 209.9h0M442.7 247h0M461.1 209.4h0M457.3 228.3h0M461.9 212.5h0M455.1 233h0M455.3 235.6h0M468 248.9h0M458.6 225.7h0M468 206.4h0M462 266h0M461 266.2h0M461.1 214.9h0M442.9 246.6h0M447.5 266.4h0M462 209h0M472.6 222.5h0M466.9 247.1h0M452.8 268.6h0M472.1 223.7h0M460.6 265.2h0M441.9 247.1h0M470.4 237.9h0M458.4 266.1h0M447.1 264.4h0M470.2 250.4h0M468.4 215h0M471.2 234.4h0M461.3 217h0M453.5 233.6h0M466.6 248.9h0M466.4 208.2h0M465.9 257.2h0M466.3 207.1h0M448.5 260.7h0M454.5 231.3h0M444.3 257.5h0M441.8 249.9h0M456.3 232.9h0M460 223.8h0M463 207.4h0M467.8 254.1h0M458 228h0M460.2 212h0M471.5 223.7h0M443.9 255.7h0" stroke="#C09B00" stroke-width="1.3"/>
<path d="M367.8 203 372.8 201.4 376.9 206.3 377.7 212.9 379.4 221.2 374.4 226.1 369.5 222.8 367.8 216.2 367 209.6Z" fill="#00B0F6" fill-opacity="0.5"/>
<path d="M368 208.6h0M367.8 214.4h0M370.6 223.1h0M376.8 208.9h0M369.9 220.9h0M377.3 219.8h0M370.8 212.1h0M368.3 216.5h0M372.3 207.9h0M368.9 215.6h0M373.6 212.4h0M375.1 206.1h0M367.6 206.7h0M370.1 218.5h0M371.5 203.4h0M372.4 223.8h0M374.9 222.4h0M374.3 207h0M376.3 223.2h0M376.6 206.2h0M369.8 202.7h0M374.5 207.8h0M368.3 210.2h0M373.3 215.7h0M373.9 204.8h0M369.3 207.8h0M373.5 222.4h0M370 220.3h0M371.3 210.6h0M371.3 222.5h0M375.4 217.4h0M375.4 218.5h0M370.2 215.3h0M367.2 209.5h0M368.8 215.7h0M371 205.4h0M375.5 209.4h0M373.2 217.8h0M369.2 209.3h0M373.1 210.9h0M372.9 211.2h0M373.9 213.5h0M374.1 217.9h0M371.2 212h0M370.4 206.1h0M376.7 222.6h0M375.3 209.9h0M374.9 211h0M370.7 219.2h0M367.7 210.1h0M370 211.7h0M373.4 211.9h0M369.8 221.8h0M367.4 207.7h0M371.9 204.4h0M372.8 206.1h0M370.7 205.4h0M370.4 211.6h0M369.9 212.8h0M378.5 217.5h0M376.5 213.2h0M366 214.4h0M376.1 224.5h0M368.4 204.7h0M377.8 215.9h0M375.2 202.1h0M379.3 217.3h0M378.3 214.1h0M370.3 202.6h0M376.5 215.8h0M365.4 214.9h0M378.9 221.7h0M375.9 222.9h0M378.6 220.8h0M374.5 227.2h0M374.2 202.7h0M369.3 222.3h0M366.6 208.6h0M368.4 201.7h0M374.8 224.2h0" stroke="#00B0F6" stroke-width="1.2"/>
<path d="M384.8 219.4h0M382.4 220.3h0M382.3 213.1h0M385.4 214.1h0M386.2 219.8h0M383.4 212.6h0M381.5 218.8h0M387.5 216.2h0M383.3 218.3h0M382.9 213.9h0" stroke="#00B0F6" stroke-width="1.2"/>
<path d="M327.2 257.8h0M328.6 263.7h0M321 249.3h0M320.3 256.6h0M324.8 253.7h0M324.7 255.8h0M324.7 253h0M323.7 250.1h0M323.5 251.9h0M325.3 266h0M324.1 254.7h0M320.9 255.2h0M325.2 254h0M325.1 261.7h0M319.8 255h0M321.6 254.2h0M330.9 263.5h0M325.6 263.5h0M330.5 262.3h0M329.5 266.7h0M321.3 257.3h0M324.9 255.6h0M326 263.6h0M321.2 257.6h0M325.3 256h0M320.4 255.3h0M323.6 257.9h0M327.1 257h0M321.4 259.4h0M320.8 253.9h0M328.6 260.7h0M329.1 257.7h0M322.2 257.4h0M322.2 249.7h0M320.9 249.6h0M330.1 265.7h0M322.6 258.9h0M324.3 251.9h0M327.7 259.1h0M324.1 256.5h0" stroke="#00BF7D" stroke-width="1.2"/>
<path d="M338.5 286.1h0M329.4 285.8h0M332.1 274.9h0M335.6 289.3h0M335.2 269.7h0M331.9 288.1h0M326.5 282.1h0M326 273.9h0M322 271h0M339.5 273.6h0M332.9 286h0M337.7 288.2h0M322.5 277.3h0M322.2 278.3h0M332.5 276.7h0M329.8 284.7h0M322.2 273.7h0M335.9 279.3h0M334.4 290.4h0M335.9 291.6h0M322.3 272.7h0M337.2 280.7h0M336.4 271.2h0M331.1 273.9h0M325.7 290.7h0M329.2 285.7h0M327.1 275.2h0M328.4 281.7h0M338.1 287.9h0M323.5 272.9h0M330 274.9h0M324.9 281.6h0M325.6 286.2h0M335.2 287.5h0M325.3 282.6h0M321.8 277.7h0M336.5 279h0M332.2 284.9h0M325.1 277.6h0M333.3 287.3h0M327.3 285.1h0M332.3 275.3h0M327.5 291.9h0M339.7 274h0M332.2 282.4h0M326.4 288.9h0M336.7 276h0M326.7 278.4h0M332.4 270.9h0M323.4 283.6h0M327.2 272h0M336.9 280.7h0M336.3 284.4h0M325.5 276h0M323.1 277.8h0M339.7 285.4h0M331.6 275h0M335.1 285.6h0M328 275.4h0M332.8 281.7h0M331.3 279.9h0M336.6 278.3h0M331.8 287h0M330.1 281.9h0M327.5 272.2h0M323.7 271.7h0M322.3 277.8h0M333.8 277.7h0M326.7 273.3h0M330 273.3h0" stroke="#00C1A3" stroke-width="1.2"/>
<path d="M321.6 293h0M326.9 307.6h0M322.6 315.3h0M320.2 316.8h0M324.6 312.7h0M327.3 310h0M318.5 309h0M321.7 302.7h0M329.8 301.2h0M318.8 293.6h0M325 310.4h0M328.5 294.8h0M324.2 298.1h0M319 294.7h0M334 295.2h0M333.9 298.3h0M323.4 311h0M328.4 299.6h0M333.6 303.1h0M325.2 300.7h0M334.1 297.9h0M329 298.3h0M322 304h0M325.1 308.8h0M327.9 293.8h0M334.8 301.4h0M319.2 311.8h0M320 296.5h0M329 308.2h0M325.6 296.4h0M328 305.3h0M326.4 298.6h0M330.4 293.2h0M323.2 302.4h0M323 315.6h0M328.1 299h0M324.8 299.5h0M323.2 294.6h0M326.5 314.4h0M322.5 308.1h0M323 315.7h0M322.6 308.8h0M320.3 312.3h0M328.5 310.6h0M321.8 300.1h0M319.9 295.6h0M325.8 293.1h0M317.6 304.6h0M325.2 316.2h0M326.9 313.5h0" stroke="#00BB4E" stroke-width="1.2"/>
<path d="M384.1 291.3 391.9 289.4 397.7 299.1 398.7 318.5 397.7 336 393.8 339.8 391.9 328.2 386 320.4 383.1 308.8Z" fill="#00BAE0" fill-opacity="0.15"/>
<path d="M387.4 310.6h0M390.9 310.7h0M392.9 325.2h0M392.9 316.7h0M396.7 320.5h0M385.8 297.2h0M388 299h0M386.3 315.1h0M391.2 322.5h0M394.9 301.7h0M391.3 289.6h0M395.3 332.9h0M386.8 311.5h0M397.7 326.2h0M393.7 309.2h0M383.9 297.4h0M396.4 303.4h0M389.6 299h0M387 298.6h0M390.2 298.3h0M395.8 307.1h0M386.6 291.3h0M394 317.5h0M393.6 302.4h0M398 308.9h0M393.4 333.8h0M390.8 294h0M389.5 304.3h0M391 299.4h0M393.9 299.2h0M395.4 308.1h0M393.2 310h0M396.8 321.7h0M393.8 333.8h0M394.2 326.9h0M391 324.4h0M392.2 297.2h0M390.1 315.3h0M389.7 302.4h0M387.5 319.8h0M397.6 309.1h0M388.5 310.9h0M390.4 291.2h0M396.5 309.3h0M388.8 322.5h0M384.3 302.1h0M389.2 304.2h0M384.3 303.9h0M393 303.6h0M384.7 308.9h0M396.9 324.8h0M383.7 309.9h0M385 292.2h0M392.2 301.9h0M384.5 297.3h0M396.6 317.2h0M393.3 298.5h0M394.3 337.9h0M388.6 290.4h0M387.1 309.6h0M391.6 323.3h0M394.7 294.5h0M396.2 308.4h0M389.7 296.9h0M392.1 308.4h0M396.3 319.9h0M392.2 308.2h0M395 330h0M395.2 326.5h0M386.3 315.4h0M388.2 306.8h0M391.3 320.7h0M393.8 330.9h0M389.9 297.8h0M393.9 313.1h0M388.6 317.7h0M385.1 311.9h0M386.1 302.1h0M395.3 314.4h0M393.4 321.1h0M394.6 326.6h0M392.5 311.4h0M389 307.2h0M391.2 309.7h0M395.5 308.9h0M397.1 323.7h0M393.5 326.2h0M386.8 319.8h0M393 331.8h0M384.6 307.7h0M396.6 310.7h0M389.8 299h0M394.4 330.1h0M390.9 297.4h0M397.4 306.6h0M396.4 320.5h0M388.4 293.7h0M391.2 291.2h0M389 319.4h0M393.1 326.8h0M391.8 313.2h0M397.9 304.2h0M387.5 318.3h0M384.8 301.4h0M388.9 310.2h0M392 313.8h0M389.8 305.1h0M394 327.6h0M389.1 314.2h0M392 301.3h0M390.7 304.2h0M387 315h0M389.5 293.7h0M390.3 305.3h0M389.8 293.8h0M397.4 323.3h0M389 317.1h0M392.4 306.7h0M395 303.3h0M385.8 306.6h0M385.8 301h0M389.5 321.7h0M391.5 315.2h0M387.2 296.6h0M394.7 337.2h0M397.8 319.9h0M390.9 298.6h0M389.3 291.7h0M386.7 310.5h0M390.5 318.4h0M385.7 318.5h0M388.3 299.1h0M393.9 323.3h0M388.7 299h0M392.1 307.7h0M389.6 312.4h0M393.2 327.4h0M391 320.6h0M395.9 334.7h0M394.7 313.5h0M387.9 304h0M391.5 308.8h0M396 329.4h0M391.3 320.8h0M393.6 304.8h0M392.4 304.2h0M392.6 305.8h0M384.2 305h0M392.7 327h0M395.5 303.7h0M392.3 290.5h0M400.1 307.4h0M390.4 327.7h0M399.8 323.2h0M382.8 293.7h0M392.6 337h0M390 289h0M395.3 295.6h0M398.2 318.4h0M382.6 300.7h0M397.2 318.7h0M398.1 327.4h0M399.2 318.7h0M398.5 334.5h0M389.6 326.2h0M391.7 331.2h0M393 338.4h0M392.3 335.2h0M393.7 293h0M397.6 334h0M388 290.9h0M383 309.8h0M392.9 338.3h0M394.3 340h0M394.4 293.8h0" stroke="#00BAE0" stroke-width="1.3"/>
<path d="M376.3 317.5 384.1 316.6 382.1 328.2 378.3 334 376.3 339.8 374.5 330Z" fill="#FF62BC" fill-opacity="0.4"/>
<path d="M376.4 322.2h0M378 333.7h0M377.6 333.1h0M378.7 330.2h0M378.2 322.4h0M381.6 319.8h0M374.8 330.8h0M376.9 334.8h0M377.2 317.5h0M377.4 332.4h0M380.4 320.8h0M377.1 331.8h0M381.7 321.3h0M375.9 335.3h0M381.1 327.2h0M378.9 332.8h0M378.5 327.3h0M377.5 322.2h0M382.9 321.7h0M378 321.1h0M382.9 322.6h0M378.5 325.9h0M379.9 330.4h0M378.1 320.9h0M378.5 329.3h0M381.9 317.6h0M379.3 317.4h0M376.2 323.6h0M377.8 329.3h0M379.9 321.5h0M379.1 316.8h0M382 316.6h0M374.2 332.4h0M383.6 328.1h0M376.5 329.1h0M384.5 322.1h0M380.1 330.1h0M383.5 318.7h0M376.9 335.6h0M373.3 328.1h0" stroke="#FF62BC" stroke-width="1.2"/>
<path d="M380.2 326.3 388 326.3 393.8 339.8 396 348 372.4 351.5 376.3 337.9Z" fill="#7CAE00" fill-opacity="0.12"/>
<path d="M375 348.5h0M381.5 328.5h0M390.6 345.1h0M390.1 343.2h0M375.2 342.1h0M375.7 345.1h0M379.6 346.2h0M376.7 343.6h0M379.4 349.7h0M377.2 345.1h0M376.9 348.7h0M373.2 350.8h0M379.3 345.2h0M387.4 327.6h0M387.2 328.6h0M383.3 341.1h0M382.3 336.2h0M380.7 337.4h0M387.1 333.6h0M375.8 344.8h0M381.5 326.4h0M373.9 349.8h0M390.2 336.2h0M386.7 332.4h0M382.1 347.4h0M386.5 342.5h0M384.2 341.4h0M380.7 332.5h0M381.8 344.6h0M386.7 340.9h0M378.7 344.7h0M378.6 341.1h0M378.1 343.8h0M378.1 349h0M386.3 342.2h0M382.4 344.3h0M391.1 343.7h0M390.5 333.1h0M392.7 348.5h0M383.7 348.5h0M377.2 341h0M383.8 333.6h0M381.7 335.9h0M385.8 329.4h0M388.6 344.3h0M381.3 347.4h0M381.4 329.6h0M378.8 344.9h0M379.5 330.5h0M392 340h0M380.9 332.5h0M380.6 339.5h0M381.7 327.3h0M393.3 338.9h0M384.3 331.4h0M389 329h0M381.8 341.5h0M377 336.4h0M376.7 343.2h0M380.4 344h0M380.3 333.3h0M381.6 327.7h0M382.8 327.9h0M380.9 349.7h0M382.3 334.4h0M377.5 343.4h0M376.9 339.6h0M376.6 347h0M383.4 331.4h0M382 337.2h0M386.5 342.6h0M388.6 337.3h0M394.6 345.8h0M387 348.7h0M389.3 332.8h0M387.6 342.3h0M379.6 337.9h0M377.4 340.6h0M389.5 334.2h0M380.3 332.2h0M378.5 336.9h0M384 327.8h0M382.9 332.9h0M387 342.2h0M378.3 337.2h0M379.8 333.1h0M379.9 336.9h0M382.6 326.9h0M385.4 335.5h0M383.2 328h0M395 342.4h0M374.2 341.3h0M378.2 333.1h0M386 348h0M388.6 327.8h0M388.7 328.6h0M375 337.8h0M381.2 328.3h0M391.2 334.1h0M374.1 345.6h0M380.6 332h0M372.8 348h0M382 351.2h0M398.4 344h0M374.7 344.8h0M373.7 346.7h0M396 342.4h0M373.1 351.2h0M393.9 344.9h0M375.9 335.9h0" stroke="#7CAE00" stroke-width="1.3"/>
<path d="M372.4 351.5 396 348 398.7 351.5 398.7 367 395.7 372.8 384.1 376.7 380.2 375.7 376.3 369 370.5 365.1 368.6 361.2Z" fill="#7CAE00" fill-opacity="0.5"/>
<path d="M375 356.2h0M376.3 367.6h0M374.5 358.9h0M377.4 363.5h0M395.7 357.3h0M395.6 353.6h0M392.2 366.2h0M396.8 365.3h0M390.9 357.1h0M394.4 357.9h0M371.9 358.8h0M380.8 375.7h0M369.4 362.5h0M396.4 369.1h0M389.1 365.9h0M382.1 355h0M388 361.2h0M390.3 363.9h0M385.9 357h0M378.6 370.6h0M373.8 352.8h0M387 374.2h0M391 373.8h0M383.6 363.8h0M372 361.5h0M393.5 370.1h0M396.4 356.7h0M388.3 356.8h0M377.6 358.2h0M398.4 359.6h0M383.6 369.7h0M388.6 365.3h0M390.1 372.7h0M390 368.7h0M382.8 360.6h0M374.1 367.3h0M380.8 351.6h0M379.2 373h0M398.5 354.9h0M372.7 362.6h0M377.2 351.8h0M371.4 361.2h0M390.7 371.1h0M376.8 365.1h0M381.3 352.9h0M396.9 357.2h0M373.6 358.9h0M382 372.7h0M386.4 365h0M386.4 373.4h0M381.5 373.7h0M390.5 349.3h0M377.5 367.6h0M371 364h0M385.8 361.6h0M375.4 367.7h0M384.1 360.4h0M382.9 359h0M394.8 364.1h0M392.6 369.7h0M390.4 368.4h0M391 367.9h0M381.1 375.2h0M396 355.4h0M376.7 362.3h0M394 355.8h0M380.8 373.3h0M392 368.1h0M385.1 359.3h0M389.5 351.3h0M377.9 366.5h0M387.8 363.8h0M382.8 366.7h0M391.3 370.7h0M380.4 363.7h0M398.3 357h0M394.6 370.3h0M393.6 364.5h0M388.2 358.9h0M383.9 370.6h0M380.4 362.9h0M380.8 357.6h0M391.5 367.2h0M371.7 365.5h0M376.3 354h0M385.6 352.2h0M384.8 354.9h0M394.2 366.5h0M384.7 354h0M372.3 352.8h0M388 363.5h0M372.2 354h0M387 366.8h0M370.3 362.8h0M395.1 368h0M395.9 372.2h0M395.7 348.3h0M379.6 367.1h0M371.4 362.6h0M373.3 365.8h0M397.5 368h0M393.4 361.2h0M375.1 360.3h0M371.2 363.5h0M390.6 358.5h0M387.5 352.1h0M378.9 367.2h0M378.5 369.8h0M386.5 371.9h0M391.2 366.9h0M388.9 366.8h0M381.9 356h0M387.8 373.1h0M379.7 374.5h0M378.3 366.2h0M386.4 355.8h0M387.6 368.9h0M379.6 365.5h0M398.2 365.9h0M396.8 357.1h0M382.7 374.5h0M393.9 370.2h0M369.8 358.6h0M395.4 364.5h0M374.4 367h0M389.6 371.7h0M378.4 359.1h0M392.1 365.7h0M396.8 351.7h0M375.6 353.9h0M380.5 369.6h0M395.9 366.4h0M377.5 351.4h0M388.8 367.6h0M393.1 366.9h0M394.8 358.9h0M381.1 373.6h0M393.9 348.8h0M388.9 353.3h0M371.1 360h0M381.2 374.5h0M398.4 361.7h0M371.5 365.3h0M387.5 374h0M390.8 360.5h0M397.1 364.8h0M397.1 369.8h0M377.1 353.4h0M389.2 366.3h0M388.9 350.2h0M384.2 358h0M386 367.6h0M383.2 370.8h0M374.7 358.4h0M388 353.6h0M387.8 364.7h0M386.7 356.6h0M387.2 373h0M395.9 361.4h0M378.7 362.3h0M398.4 356.7h0M387.8 356.3h0M389.5 374.4h0M379.5 351.2h0M375.9 356.6h0M388.7 366.5h0M388.8 373.1h0M386.2 367.7h0M393.4 354.6h0M386.2 369.6h0M392.4 355.7h0M381.1 365.8h0M384.4 375.7h0M377.3 364h0M383.8 354.8h0M377.6 368h0M384.9 372.6h0M374.5 364.5h0M390.5 366.6h0M393.5 369.7h0M378.3 356h0M390.1 351.6h0M390.8 352.7h0M386.8 374.9h0M389.8 367.4h0M397.7 364.4h0M394.4 364.3h0M394.2 368.2h0M378 355.9h0M395.9 371.6h0M395.5 357.2h0M372.3 355.8h0M384.9 353.7h0M393.3 349.3h0M393.7 361.1h0M387.2 365.7h0M382 373h0M377.2 368.6h0M397.2 353.6h0M379 361.2h0M383.4 368.6h0M390.3 360.8h0M397.2 361.7h0M388.9 351.2h0M380.5 351.4h0M386.7 356.8h0M379.6 358.9h0M379.4 357h0M390.2 371.8h0M369.8 360.6h0M392.4 373.3h0M392.4 360.4h0M380.7 369.8h0M386.8 360.3h0M375 356.4h0M376.8 354.1h0M397.2 351.8h0M385.5 353.3h0M382.5 375.4h0M381.5 368.7h0M386.5 352.9h0M383.2 373.6h0M372.5 361.6h0M392.6 365.4h0M380.7 368.8h0M385.5 366h0M382.7 365.5h0M395.8 359.1h0M386.3 363.1h0M379.9 371.7h0M392.7 361.7h0M390.8 369h0M370.7 364.2h0M395.9 359.8h0M383.4 363h0M393.9 366.8h0M383 356.5h0M380.8 357.8h0M384.6 357.4h0M378.9 351.2h0M393.7 367.3h0M389.9 366.5h0M395.6 365.4h0M374.2 365.4h0M389.9 359.1h0M390.6 369.9h0M392.2 364h0M393.4 365.9h0M391.7 368.4h0M392 360.6h0M376.7 351.6h0M393 355.7h0M383.6 365.2h0M384.5 368.7h0M394.8 363.5h0M373.1 355.9h0M373.8 359.2h0M398.3 357.2h0M370 362.6h0M378.6 357.2h0M394.9 349.5h0M388.4 359.1h0M398.1 357.7h0M371.9 361.6h0M380.7 364.7h0M376.6 357.1h0M394.1 372.3h0M381.5 375.3h0M371.7 361.3h0M382.3 350.7h0M394.4 359.8h0M379.6 354.4h0M388.8 362.1h0M397.5 366.4h0M395.6 360.1h0M380.8 365.3h0M389.3 354.4h0M391.1 365.8h0M381.3 357.2h0M375.8 355.9h0M375.2 353.6h0M381.7 362.5h0M389.2 351.1h0M377.3 365h0M384.7 353.2h0M386.4 355.2h0M388 358.1h0M390.2 360.4h0M385.1 370.9h0M396.4 357.5h0M389.5 350h0M395.3 361.8h0M370.8 359.4h0M384.2 364.2h0M375.3 360.7h0M381.7 351.1h0M389.1 368.5h0M382.3 358.6h0M397.6 359.7h0M397.7 365.9h0M386.2 375.4h0M390.7 367.5h0M395.7 358.5h0M391.6 371.2h0M380.8 366h0M393 363.4h0M393.4 371h0M382 350.9h0M397.8 353.2h0M393.9 363.3h0M382.8 367.5h0M392.5 371.8h0M390.7 351.1h0M383.9 354.5h0M375 364.6h0M398.2 367.8h0M382.8 365.9h0M386.9 363.2h0M396.5 352.1h0M380.4 374.1h0M390.4 359h0M382.3 373.3h0M377.8 353.8h0M379 363h0M387.2 351h0M386 374.6h0M397.1 360.2h0M391.1 350.9h0M387 358.7h0M370.8 355.7h0M367.7 362.2h0M375.8 370.9h0M397.7 355h0M397.3 362.4h0M398.3 363.7h0M371.2 365.6h0M391.1 374.3h0M389.8 350.3h0M399.1 358.8h0M390.2 376.1h0M398.7 349.5h0M371.5 353.4h0M370.8 351.9h0M392.8 372.7h0M391.2 346.8h0M389.2 374.1h0M380.6 349.9h0M373.7 370.7h0M379.7 348.5h0M388.7 346.6h0M379 372.6h0M368.9 360.2h0M369.9 363.7h0M398.9 366.7h0M391.6 349.9h0M377.6 373.4h0M397 346.7h0M371.7 353.9h0M398.1 368.7h0M399.3 353.2h0M370.8 352.8h0M396.4 370.5h0M383.1 352.3h0M399.4 364.8h0M380.4 374.1h0M376.5 351h0M368 361h0M370.8 366.7h0M373.8 366.5h0M398.1 351.7h0M378.5 372.6h0M393.1 375.2h0M396.5 355.4h0M398.9 355.5h0M398.6 356.4h0M395.4 374.1h0M396.4 372.9h0M395.9 370.3h0M388.6 348.9h0M381.1 349.2h0" stroke="#7CAE00" stroke-width="1.3"/>
<path d="M431.1 153.8h0M409.3 146.4h0M426.2 151.1h0M422.7 149.3h0M414.3 147.4h0M424 151.3h0M407.6 142.5h0M392.2 143.4h0M400.6 142.7h0M430.2 152.5h0M414.6 146.1h0M423.5 149h0M432 155h0M402.8 141h0M392.9 142.1h0M416.1 147.3h0M414.7 146.7h0M426.8 150.4h0M415.2 145.5h0M400 142.3h0M427.3 151h0M407.2 143.9h0M398.2 141.3h0M406.3 142.4h0M400.6 142.8h0M423.4 150.2h0M421.8 149h0M408.1 143.2h0M409.6 143.9h0M399.8 140.4h0M407.3 144.1h0M395.8 140.9h0M427.9 154.7h0M400.1 143h0M413.8 145.4h0M429.6 153.8h0M404.9 142.6h0M426.6 150.4h0M414.8 146.3h0M396.9 143.1h0M409.9 145.6h0M410.6 144.2h0M417.9 148h0M426.8 151.4h0M400.4 141.4h0M421.2 149.8h0M433.4 152.1h0M428.7 151.2h0M415.5 145.5h0M409.2 143.5h0M420.7 148.7h0M411.3 145.1h0M421.6 149.5h0M399 140.8h0M427.6 152h0M409.2 144.7h0M395.1 143.1h0M408.1 145.5h0M400.3 142.2h0M426.9 153.9h0M397.7 140.9h0M414.5 146.9h0M402.4 140.8h0M399 141.9h0M408.9 144.5h0M425.8 151.1h0M417.5 147.5h0M416.8 147.1h0M432.4 153.6h0M392.6 141.1h0M419 147.7h0M395.9 141h0M407.5 141.7h0M415.3 145.9h0M422.1 150.7h0M421.1 148.2h0M391.1 141.7h0M413.3 145.4h0M419.3 149.1h0M406.5 144.6h0M405.9 142.8h0M417.4 147.8h0M418.7 146.6h0M431.7 152.7h0M404.1 142.8h0M392.4 143.1h0M428.9 152.7h0M408.7 145h0M394.9 143h0M410 145.3h0" stroke="#E76BF3" stroke-width="1.2"/>
<path d="M374 120.8h0M368.3 121.3h0M376.2 133.7h0M369.7 117.8h0M370.6 117.8h0M369.8 122.4h0M372.4 127.6h0M371.2 118.9h0M374.2 127h0M368.9 123.6h0M374.2 131.6h0M371.8 120.7h0" stroke="#E76BF3" stroke-width="1.2"/>
<path d="M337.4 190.6h0M334.7 188.3h0M335.5 188.2h0M333.9 187.8h0M336.1 189.6h0M334.3 188.7h0M332.1 186.5h0M333.6 186.4h0M334.6 188.4h0M337.3 190h0" stroke="#FA62DB" stroke-width="1.2"/>
<path d="M343.3 196.4h0M342.9 196.9h0M342.9 196.8h0" stroke="#FA62DB" stroke-width="1.2"/>
<path d="M411.9 94.8h0M412 94.3h0M412 95.4h0M411.5 95.8h0M411.9 95.9h0" stroke="#FF6A98" stroke-width="1.2"/>
<path d="M390.4 207.2h0M390.3 208.2h0M390.6 208.1h0M390.3 209.3h0M391 208.1h0M390.2 208h0" stroke="#FF6A98" stroke-width="1.2"/>
<use href="#q0" fill="#F8766D" fill-opacity="0.12"/>
<use href="#p0" stroke="#F8766D" stroke-width="1.3"/>
<use href="#q1" fill="#00BFC4" fill-opacity="0.02"/>
<use href="#p1" stroke="#00BFC4" stroke-width="1.3"/>
<use href="#q2" fill="#B79F00" fill-opacity="0.15"/>
<use href="#p2" stroke="#B79F00" stroke-width="1.3"/>
<use href="#q3" fill="#B79F00" fill-opacity="0.04"/>
<use href="#p3" stroke="#B79F00" stroke-width="1.3"/>
<use href="#q4" fill="#7CAE00" fill-opacity="0.1"/>
<use href="#p4" stroke="#7CAE00" stroke-width="1.3"/>
<use href="#q5" fill="#7CAE00" fill-opacity="0.03"/>
<use href="#p5" stroke="#7CAE00" stroke-width="1.3"/>
<use href="#q6" fill="#00BA38" fill-opacity="0.06"/>
<use href="#p6" stroke="#00BA38" stroke-width="1.3"/>
<use href="#q7" fill="#00B4F0" fill-opacity="0.1"/>
<use href="#p7" stroke="#00B4F0" stroke-width="1.3"/>
<use href="#q8" fill="#00C08B" fill-opacity="0.05"/>
<use href="#p8" stroke="#00C08B" stroke-width="1.3"/>
<use href="#q9" fill="#00BA38" fill-opacity="0.08"/>
<use href="#p9" stroke="#00BA38" stroke-width="1.3"/>
<use href="#q10" fill="#00BA38" fill-opacity="0.05"/>
<use href="#p10" stroke="#00BA38" stroke-width="1.3"/>
<use href="#q11" fill="#F564E3" fill-opacity="0.3"/>
<use href="#p11" stroke="#F564E3" stroke-width="1.3"/>
<use href="#q12" fill="#F564E3" fill-opacity="0.35"/>
<use href="#p12" stroke="#F564E3" stroke-width="1.3"/>
<use href="#q13" fill="#619CFF" fill-opacity="0.3"/>
<use href="#p13" stroke="#619CFF" stroke-width="1.3"/>
<use href="#q14" fill="#DE8C00" fill-opacity="0.15"/>
<use href="#p14" stroke="#DE8C00" stroke-width="1.3"/>
<use href="#q15" fill="#DE8C00" fill-opacity="0.05"/>
<use href="#p15" stroke="#DE8C00" stroke-width="1.3"/>
<use href="#q16" fill="#FF64B0" fill-opacity="0.8"/>
<use href="#p16" stroke="#FF64B0" stroke-width="1.3"/>
<use href="#l0" stroke="#DE8C00" stroke-width="1.3"/>
<use href="#l1" stroke="#00C08B" stroke-width="1.3"/>
<use href="#l2" stroke="#00C08B" stroke-width="1.3"/>
<use href="#l3" stroke="#00C08B" stroke-width="1.3"/>
<use href="#l4" stroke="#00BA38" stroke-width="1.3"/>
<use href="#l5" stroke="#00BA38" stroke-width="1.3"/>
<use href="#l6" stroke="#00BA38" stroke-width="1.3"/>
<use href="#l7" stroke="#619CFF" stroke-width="1.3"/>
<use href="#l8" stroke="#FF64B0" stroke-width="1.3"/>
<use href="#l9" stroke="#FF64B0" stroke-width="1.3"/>
<use href="#l10" stroke="#00BFC4" stroke-width="1.3"/>
<use href="#l11" stroke="#00BFC4" stroke-width="1.3"/>
<use href="#l12" stroke="#00B4F0" stroke-width="1.3"/>
<use href="#l13" stroke="#C77CFF" stroke-width="1.3"/>
<use href="#l14" stroke="#C77CFF" stroke-width="1.3"/>
<use href="#l15" stroke="#C77CFF" stroke-width="1.3"/>
<use href="#l16" stroke="#C77CFF" stroke-width="1.3"/>
<use href="#s0" stroke="#00BA38" stroke-width="1.3"/>
<use href="#s1" stroke="#00C08B" stroke-width="1.3"/>
<use href="#s2" stroke="#00C08B" stroke-width="1.3"/>
<use href="#s3" stroke="#00BA38" stroke-width="1.3"/>
<use href="#s4" stroke="#DE8C00" stroke-width="1.3"/>
<g transform="translate(342.4 0)">
<use href="#q0" fill="#00BFC4" fill-opacity="0.12"/>
<use href="#p0" stroke="#00BFC4" stroke-width="1.3"/>
<use href="#q1" fill="#00BFC4" fill-opacity="0.02"/>
<use href="#p1" stroke="#00BFC4" stroke-width="1.3"/>
<use href="#q2" fill="#F8766D" fill-opacity="0.15"/>
<use href="#p2" stroke="#F8766D" stroke-width="1.3"/>
<use href="#q3" fill="#F8766D" fill-opacity="0.04"/>
<use href="#p3" stroke="#F8766D" stroke-width="1.3"/>
<use href="#q4" fill="#F8766D" fill-opacity="0.1"/>
<use href="#p4" stroke="#F8766D" stroke-width="1.3"/>
<use href="#q5" fill="#F8766D" fill-opacity="0.03"/>
<use href="#p5" stroke="#F8766D" stroke-width="1.3"/>
<use href="#q6" fill="#F8766D" fill-opacity="0.06"/>
<use href="#p6" stroke="#F8766D" stroke-width="1.3"/>
<use href="#q7" fill="#F8766D" fill-opacity="0.1"/>
<use href="#p7" stroke="#F8766D" stroke-width="1.3"/>
<use href="#q8" fill="#F8766D" fill-opacity="0.05"/>
<use href="#p8" stroke="#F8766D" stroke-width="1.3"/>
<use href="#q9" fill="#00BFC4" fill-opacity="0.08"/>
<use href="#p9" stroke="#00BFC4" stroke-width="1.3"/>
<use href="#q10" fill="#F8766D" fill-opacity="0.05"/>
<use href="#p10" stroke="#F8766D" stroke-width="1.3"/>
<use href="#q11" fill="#F8766D" fill-opacity="0.3"/>
<use href="#p11" stroke="#F8766D" stroke-width="1.3"/>
<use href="#q12" fill="#F8766D" fill-opacity="0.35"/>
<use href="#p12" stroke="#F8766D" stroke-width="1.3"/>
<use href="#q13" fill="#F8766D" fill-opacity="0.3"/>
<use href="#p13" stroke="#F8766D" stroke-width="1.3"/>
<use href="#q14" fill="#F8766D" fill-opacity="0.15"/>
<use href="#p14" stroke="#F8766D" stroke-width="1.3"/>
<use href="#q15" fill="#F8766D" fill-opacity="0.05"/>
<use href="#p15" stroke="#F8766D" stroke-width="1.3"/>
<use href="#q16" fill="#00BFC4" fill-opacity="0.8"/>
<use href="#p16" stroke="#00BFC4" stroke-width="1.3"/>
<use href="#l0" stroke="#F8766D" stroke-width="1.3"/>
<use href="#l1" stroke="#00BFC4" stroke-width="1.3"/>
<use href="#l2" stroke="#F8766D" stroke-width="1.3"/>
<use href="#l3" stroke="#F8766D" stroke-width="1.3"/>
<use href="#l4" stroke="#00BFC4" stroke-width="1.3"/>
<use href="#l5" stroke="#00BFC4" stroke-width="1.3"/>
<use href="#l6" stroke="#F8766D" stroke-width="1.3"/>
<use href="#l7" stroke="#F8766D" stroke-width="1.3"/>
<use href="#l8" stroke="#00BFC4" stroke-width="1.3"/>
<use href="#l9" stroke="#F8766D" stroke-width="1.3"/>
<use href="#l10" stroke="#00BFC4" stroke-width="1.3"/>
<use href="#l11" stroke="#00BFC4" stroke-width="1.3"/>
<use href="#l12" stroke="#F8766D" stroke-width="1.3"/>
<use href="#l13" stroke="#F8766D" stroke-width="1.3"/>
<use href="#l14" stroke="#00BFC4" stroke-width="1.3"/>
<use href="#l15" stroke="#F8766D" stroke-width="1.3"/>
<use href="#l16" stroke="#F8766D" stroke-width="1.3"/>
<use href="#s0" stroke="#00BFC4" stroke-width="1.3"/>
<use href="#s1" stroke="#F8766D" stroke-width="1.3"/>
<use href="#s2" stroke="#F8766D" stroke-width="1.3"/>
<use href="#s3" stroke="#F8766D" stroke-width="1.3"/>
<use href="#s4" stroke="#F8766D" stroke-width="1.3"/>
</g></g>
<g font-family="&apos;Liberation Sans&apos;, sans-serif" style="will-change:transform" stroke="#000" stroke-width="0.22" text-rendering="geometricPrecision">
<text x="0" y="0" font-size="22" font-weight="bold" transform="translate(-1.2 11.7) scale(0.86 0.93)">a</text>
<text x="175" y="20.5" font-size="9" font-weight="bold" text-anchor="middle">athero</text>
<text x="394.5" y="20.5" font-size="9" font-weight="bold" text-anchor="middle">cteph</text>
<path d="M67.8 24.2V400.2H282.4 M286.4 400.2H501.5 M65.1 61.3H67.8 M65.1 130.5H67.8 M65.1 200.4H67.8 M65.1 269.9H67.8 M65.1 339.4H67.8 M91.2 400.2v2.7 M310.6 400.2v2.7 M132.7 400.2v2.7 M352.1 400.2v2.7 M174.2 400.2v2.7 M393.6 400.2v2.7 M215.7 400.2v2.7 M435.1 400.2v2.7 M257.2 400.2v2.7 M476.6 400.2v2.7" stroke="#333" stroke-width="0.9" fill="none"/>
<text x="63" y="64.5" font-size="9" text-anchor="end" fill="#222" stroke="#222">10</text>
<text x="63" y="133.7" font-size="9" text-anchor="end" fill="#222" stroke="#222">5</text>
<text x="63" y="203.6" font-size="9" text-anchor="end" fill="#222" stroke="#222">0</text>
<text x="63" y="273.1" font-size="9" text-anchor="end" fill="#222" stroke="#222">−5</text>
<text x="63" y="342.6" font-size="9" text-anchor="end" fill="#222" stroke="#222">−10</text>
<text x="91.2" y="412.5" font-size="9" text-anchor="middle" fill="#222" stroke="#222">−10</text>
<text x="310.6" y="412.5" font-size="9" text-anchor="middle" fill="#222" stroke="#222">−10</text>
<text x="132.7" y="412.5" font-size="9" text-anchor="middle" fill="#222" stroke="#222">−5</text>
<text x="352.1" y="412.5" font-size="9" text-anchor="middle" fill="#222" stroke="#222">−5</text>
<text x="174.2" y="412.5" font-size="9" text-anchor="middle" fill="#222" stroke="#222">0</text>
<text x="393.6" y="412.5" font-size="9" text-anchor="middle" fill="#222" stroke="#222">0</text>
<text x="215.7" y="412.5" font-size="9" text-anchor="middle" fill="#222" stroke="#222">5</text>
<text x="435.1" y="412.5" font-size="9" text-anchor="middle" fill="#222" stroke="#222">5</text>
<text x="257.2" y="412.5" font-size="9" text-anchor="middle" fill="#222" stroke="#222">10</text>
<text x="476.6" y="412.5" font-size="9" text-anchor="middle" fill="#222" stroke="#222">10</text>
<text x="284.4" y="424.3" font-size="10.5" text-anchor="middle">UMAP_1</text>
<text x="0" y="0" font-size="10.5" text-anchor="middle" transform="translate(43.4 212.3) rotate(-90)">UMAP_2</text>
<circle cx="517.8" cy="102.4" r="2.75" fill="#F8766D" stroke="none"/>
<text x="529.2" y="105.6" font-size="9.05">CD8 T cell 1</text>
<circle cx="517.8" cy="114" r="2.75" fill="#EA8331" stroke="none"/>
<text x="529.2" y="117.2" font-size="9.05">Double negative T cell 1</text>
<circle cx="517.8" cy="125.6" r="2.75" fill="#D89000" stroke="none"/>
<text x="529.2" y="128.8" font-size="9.05">Macrophage foamy 1</text>
<circle cx="517.8" cy="137.1" r="2.75" fill="#C09B00" stroke="none"/>
<text x="529.2" y="140.3" font-size="9.05">Double negative T cell 2</text>
<circle cx="517.8" cy="148.7" r="2.75" fill="#A3A500" stroke="none"/>
<text x="529.2" y="151.9" font-size="9.05">Macrophage foamy 2</text>
<circle cx="517.8" cy="160.3" r="2.75" fill="#7CAE00" stroke="none"/>
<text x="529.2" y="163.5" font-size="9.05">Endothelial cell 1</text>
<circle cx="517.8" cy="171.8" r="2.75" fill="#39B600" stroke="none"/>
<text x="529.2" y="175" font-size="9.05">Macrophage m2</text>
<circle cx="517.8" cy="183.4" r="2.75" fill="#00BB4E" stroke="none"/>
<text x="529.2" y="186.6" font-size="9.05">Smooth muscle cell 1</text>
<circle cx="517.8" cy="195" r="2.75" fill="#00BF7D" stroke="none"/>
<text x="529.2" y="198.2" font-size="9.05">Myofibroblast 1</text>
<circle cx="517.8" cy="206.6" r="2.75" fill="#00C1A3" stroke="none"/>
<text x="529.2" y="209.8" font-size="9.05">Myofibroblast 2</text>
<circle cx="517.8" cy="218.2" r="2.75" fill="#00BFC4" stroke="none"/>
<text x="529.2" y="221.3" font-size="9.05">NK cell</text>
<circle cx="517.8" cy="229.7" r="2.75" fill="#00BAE0" stroke="none"/>
<text x="529.2" y="232.9" font-size="9.05">Endothelial cell 2</text>
<circle cx="517.8" cy="241.3" r="2.75" fill="#00B0F6" stroke="none"/>
<text x="529.2" y="244.5" font-size="9.05">B cell</text>
<circle cx="517.8" cy="252.9" r="2.75" fill="#35A2FF" stroke="none"/>
<text x="529.2" y="256.1" font-size="9.05">Smooth muscle cell 2</text>
<circle cx="517.8" cy="264.4" r="2.75" fill="#9590FF" stroke="none"/>
<text x="529.2" y="267.6" font-size="9.05">Monocyte derived Dendritic cell</text>
<circle cx="517.8" cy="276" r="2.75" fill="#C77CFF" stroke="none"/>
<text x="529.2" y="279.2" font-size="9.05">NKT cell</text>
<circle cx="517.8" cy="287.6" r="2.75" fill="#E76BF3" stroke="none"/>
<text x="529.2" y="290.8" font-size="9.05">CD4 T cell</text>
<circle cx="517.8" cy="299.2" r="2.75" fill="#FA62DB" stroke="none"/>
<text x="529.2" y="302.4" font-size="9.05">Dendritic Cell</text>
<circle cx="517.8" cy="310.8" r="2.75" fill="#FF62BC" stroke="none"/>
<text x="529.2" y="313.9" font-size="9.05">Endothelial cell 3</text>
<circle cx="517.8" cy="322.3" r="2.75" fill="#FF6A98" stroke="none"/>
<text x="529.2" y="325.5" font-size="9.05">B cell / Plasmacytoid Dendritic Cell</text>
<text x="0" y="0" font-size="22" font-weight="bold" transform="translate(-0.2 455.2) scale(0.88 1.02)">b</text>
<text x="165.3" y="467.1" font-size="10.4" font-weight="bold" text-anchor="middle">cluster_labels</text>
<path d="M42.7 472.9V751.7H288.1 M40.2 491.3H42.7 M40.2 559H42.7 M40.2 626.5H42.7 M40.2 694.5H42.7 M43.8 751.7v2.5 M96.4 751.7v2.5 M149 751.7v2.5 M201.6 751.7v2.5 M254.2 751.7v2.5" stroke="#333" stroke-width="0.85" fill="none"/>
<text x="38.4" y="493.9" font-size="7.4" text-anchor="end" fill="#222" stroke="#222">10</text>
<text x="38.4" y="561.6" font-size="7.4" text-anchor="end" fill="#222" stroke="#222">5</text>
<text x="38.4" y="629.1" font-size="7.4" text-anchor="end" fill="#222" stroke="#222">0</text>
<text x="38.4" y="697.1" font-size="7.4" text-anchor="end" fill="#222" stroke="#222">−5</text>
<text x="43.8" y="762.5" font-size="7.4" text-anchor="middle" fill="#222" stroke="#222">−10</text>
<text x="96.4" y="762.5" font-size="7.4" text-anchor="middle" fill="#222" stroke="#222">−5</text>
<text x="149" y="762.5" font-size="7.4" text-anchor="middle" fill="#222" stroke="#222">0</text>
<text x="201.6" y="762.5" font-size="7.4" text-anchor="middle" fill="#222" stroke="#222">5</text>
<text x="254.2" y="762.5" font-size="7.4" text-anchor="middle" fill="#222" stroke="#222">10</text>
<text x="165.4" y="773" font-size="8.9" text-anchor="middle">umap_1</text>
<text x="0" y="0" font-size="8.9" text-anchor="middle" transform="translate(25.8 612.6) rotate(-90)">umap_2</text>
<text x="0" y="0" font-size="22" font-weight="bold" transform="translate(363.4 455.2) scale(0.85 0.94)">c</text>
<text x="507.7" y="467.1" font-size="10.4" font-weight="bold" text-anchor="middle">condition</text>
<path d="M385.1 472.9V751.7H630.5 M382.6 491.3H385.1 M382.6 559H385.1 M382.6 626.5H385.1 M382.6 694.5H385.1 M386.2 751.7v2.5 M438.8 751.7v2.5 M491.4 751.7v2.5 M544 751.7v2.5 M596.6 751.7v2.5" stroke="#333" stroke-width="0.85" fill="none"/>
<text x="380.8" y="493.9" font-size="7.4" text-anchor="end" fill="#222" stroke="#222">10</text>
<text x="380.8" y="561.6" font-size="7.4" text-anchor="end" fill="#222" stroke="#222">5</text>
<text x="380.8" y="629.1" font-size="7.4" text-anchor="end" fill="#222" stroke="#222">0</text>
<text x="380.8" y="697.1" font-size="7.4" text-anchor="end" fill="#222" stroke="#222">−5</text>
<text x="386.2" y="762.5" font-size="7.4" text-anchor="middle" fill="#222" stroke="#222">−10</text>
<text x="438.8" y="762.5" font-size="7.4" text-anchor="middle" fill="#222" stroke="#222">−5</text>
<text x="491.4" y="762.5" font-size="7.4" text-anchor="middle" fill="#222" stroke="#222">0</text>
<text x="544" y="762.5" font-size="7.4" text-anchor="middle" fill="#222" stroke="#222">5</text>
<text x="596.6" y="762.5" font-size="7.4" text-anchor="middle" fill="#222" stroke="#222">10</text>
<text x="507.8" y="773" font-size="8.9" text-anchor="middle">umap_1</text>
<text x="0" y="0" font-size="8.9" text-anchor="middle" transform="translate(368.2 612.6) rotate(-90)">umap_2</text>
<circle cx="302.6" cy="557.6" r="2.7" fill="#F8766D" stroke="none"/>
<text x="312.8" y="560.4" font-size="7.7">EC.1</text>
<circle cx="302.6" cy="567.7" r="2.7" fill="#DE8C00" stroke="none"/>
<text x="312.8" y="570.5" font-size="7.7">EC.2</text>
<circle cx="302.6" cy="577.8" r="2.7" fill="#B79F00" stroke="none"/>
<text x="312.8" y="580.6" font-size="7.7">EC.3</text>
<circle cx="302.6" cy="587.8" r="2.7" fill="#7CAE00" stroke="none"/>
<text x="312.8" y="590.6" font-size="7.7">EC.4</text>
<circle cx="302.6" cy="597.9" r="2.7" fill="#00BA38" stroke="none"/>
<text x="312.8" y="600.7" font-size="7.7">EC.5</text>
<circle cx="302.6" cy="608" r="2.7" fill="#00C08B" stroke="none"/>
<text x="312.8" y="610.8" font-size="7.7">EC.6</text>
<circle cx="302.6" cy="618.1" r="2.7" fill="#00BFC4" stroke="none"/>
<text x="312.8" y="620.9" font-size="7.7">EC.7</text>
<circle cx="302.6" cy="628.2" r="2.7" fill="#00B4F0" stroke="none"/>
<text x="312.8" y="631" font-size="7.7">EC.8</text>
<circle cx="302.6" cy="638.2" r="2.7" fill="#619CFF" stroke="none"/>
<text x="312.8" y="641" font-size="7.7">EC.9</text>
<circle cx="302.6" cy="648.3" r="2.7" fill="#C77CFF" stroke="none"/>
<text x="312.8" y="651.1" font-size="7.7">EC.10</text>
<circle cx="302.6" cy="658.4" r="2.7" fill="#F564E3" stroke="none"/>
<text x="312.8" y="661.2" font-size="7.7">EC.11</text>
<circle cx="302.6" cy="668.5" r="2.7" fill="#FF64B0" stroke="none"/>
<text x="312.8" y="671.3" font-size="7.7">EC.12</text>
<circle cx="644.2" cy="608.3" r="2.7" fill="#F8766D" stroke="none"/>
<text x="654.8" y="611.1" font-size="7.7">athero</text>
<circle cx="644.2" cy="618.4" r="2.7" fill="#00BFC4" stroke="none"/>
<text x="654.8" y="621.2" font-size="7.7">cteph</text>
<text x="114.6" y="64.2" font-size="8.3" text-anchor="middle">Macrophage m2</text>
<text x="152.3" y="86.2" font-size="8.3" text-anchor="middle">Macrophage foamy 2</text>
<text x="215.1" y="106.4" font-size="8.3" text-anchor="middle">B cell / Plasmacytoid Dendritic Cell</text>
<text x="109.2" y="114.8" font-size="8.3" text-anchor="middle">Macrophage foamy 1</text>
<text x="169.5" y="127" font-size="8.3" text-anchor="middle">Monocyte derived Dendritic cell</text>
<text x="181.1" y="139.1" font-size="8.3" text-anchor="middle">CD4 T cell</text>
<text x="255.1" y="133.4" font-size="8.3" text-anchor="middle">NK cell</text>
<text x="263.5" y="159.3" font-size="8.3" text-anchor="middle">NKT cell</text>
<text x="233.5" y="171.5" font-size="8.3" text-anchor="middle">CD8 T cell 1</text>
<text x="118.9" y="185.6" font-size="8.3" text-anchor="middle">Dendritic Cell</text>
<text x="159.2" y="212.6" font-size="8.3" text-anchor="middle">B cell</text>
<text x="224.8" y="216.1" font-size="8.3" text-anchor="middle">Double negative T cell 1</text>
<text x="195.3" y="252" font-size="8.3" text-anchor="middle">Double negative T cell 2</text>
<text x="117.3" y="250.2" font-size="8.3" text-anchor="middle">Myofibroblast 1</text>
<text x="110" y="265.8" font-size="8.3" text-anchor="middle">Smooth muscle cell 2</text>
<text x="109.6" y="277.6" font-size="8.3" text-anchor="middle">Myofibroblast 2</text>
<text x="177.2" y="299.9" font-size="8.3" text-anchor="middle">Endothelial cell 2</text>
<text x="136" y="314.8" font-size="8.3" text-anchor="middle">Smooth muscle cell 1</text>
<text x="160.3" y="331.9" font-size="8.3" text-anchor="middle">Endothelial cell 3</text>
<text x="152.7" y="374.9" font-size="8.3" text-anchor="middle">Endothelial cell 1</text>
<text x="337" y="61.9" font-size="8.3" text-anchor="middle">Macrophage m2</text>
<text x="371.6" y="82.5" font-size="8.3" text-anchor="middle">Macrophage foamy 2</text>
<text x="407.9" y="106.2" font-size="8.3" text-anchor="middle">B cell / Plasmacytoid Dendritic Cell</text>
<text x="329" y="120.5" font-size="8.3" text-anchor="middle">Macrophage foamy 1</text>
<text x="408" y="132.1" font-size="8.3" text-anchor="middle">Monocyte derived Dendritic cell</text>
<text x="404.6" y="152.4" font-size="8.3" text-anchor="middle">CD4 T cell</text>
<text x="484.5" y="129.4" font-size="8.3" text-anchor="middle">NK cell</text>
<text x="482" y="161.9" font-size="8.3" text-anchor="middle">NKT cell</text>
<text x="453.5" y="186" font-size="8.3" text-anchor="middle">CD8 T cell 1</text>
<text x="338.5" y="184.1" font-size="8.3" text-anchor="middle">Dendritic Cell</text>
<text x="375.7" y="209.5" font-size="8.3" text-anchor="middle">B cell</text>
<text x="442" y="233" font-size="8.3" text-anchor="middle">Double negative T cell 1</text>
<text x="326.3" y="244.8" font-size="8.3" text-anchor="middle">Myofibroblast 1</text>
<text x="411.7" y="256.9" font-size="8.3" text-anchor="middle">Double negative T cell 2</text>
<text x="332.2" y="270.6" font-size="8.3" text-anchor="middle">Myofibroblast 2</text>
<text x="365.6" y="297.2" font-size="8.3" text-anchor="middle">Smooth muscle cell 1</text>
<text x="394.1" y="314.1" font-size="8.3" text-anchor="middle">Endothelial cell 2</text>
<text x="376" y="330.1" font-size="8.3" text-anchor="middle">Endothelial cell 3</text>
<text x="390.2" y="352.8" font-size="8.3" text-anchor="middle">Endothelial cell 1</text>
<text x="189.3" y="562.7" font-size="7.0" text-anchor="middle">EC.1</text>
<text x="167.7" y="589.9" font-size="7.0" text-anchor="middle">EC.7</text>
<text x="136.8" y="633.7" font-size="7.0" text-anchor="middle">EC.6</text>
<text x="157.9" y="641.7" font-size="7.0" text-anchor="middle">EC.5</text>
<text x="212.4" y="659.1" font-size="7.0" text-anchor="middle">EC.9</text>
<text x="146.5" y="680.5" font-size="7.0" text-anchor="middle">EC.11</text>
<text x="89.2" y="604.6" font-size="7.0" text-anchor="middle">EC.4</text>
<text x="67" y="640.3" font-size="7.0" text-anchor="middle">EC.3</text>
<text x="108.2" y="660.6" font-size="7.0" text-anchor="middle">EC.8</text>
<text x="161.8" y="717.7" font-size="7.0" text-anchor="middle">EC.2</text>
<text x="168.7" y="485.6" font-size="7.0" text-anchor="middle">EC.12</text>
<text x="269.3" y="600.5" font-size="7.0" text-anchor="middle">EC.10</text>
<text x="523.5" y="577.1" font-size="7.0" text-anchor="middle">cteph</text>
<text x="467.9" y="656.6" font-size="7.0" text-anchor="middle">athero</text>
</g>
</svg>
</body></html>
